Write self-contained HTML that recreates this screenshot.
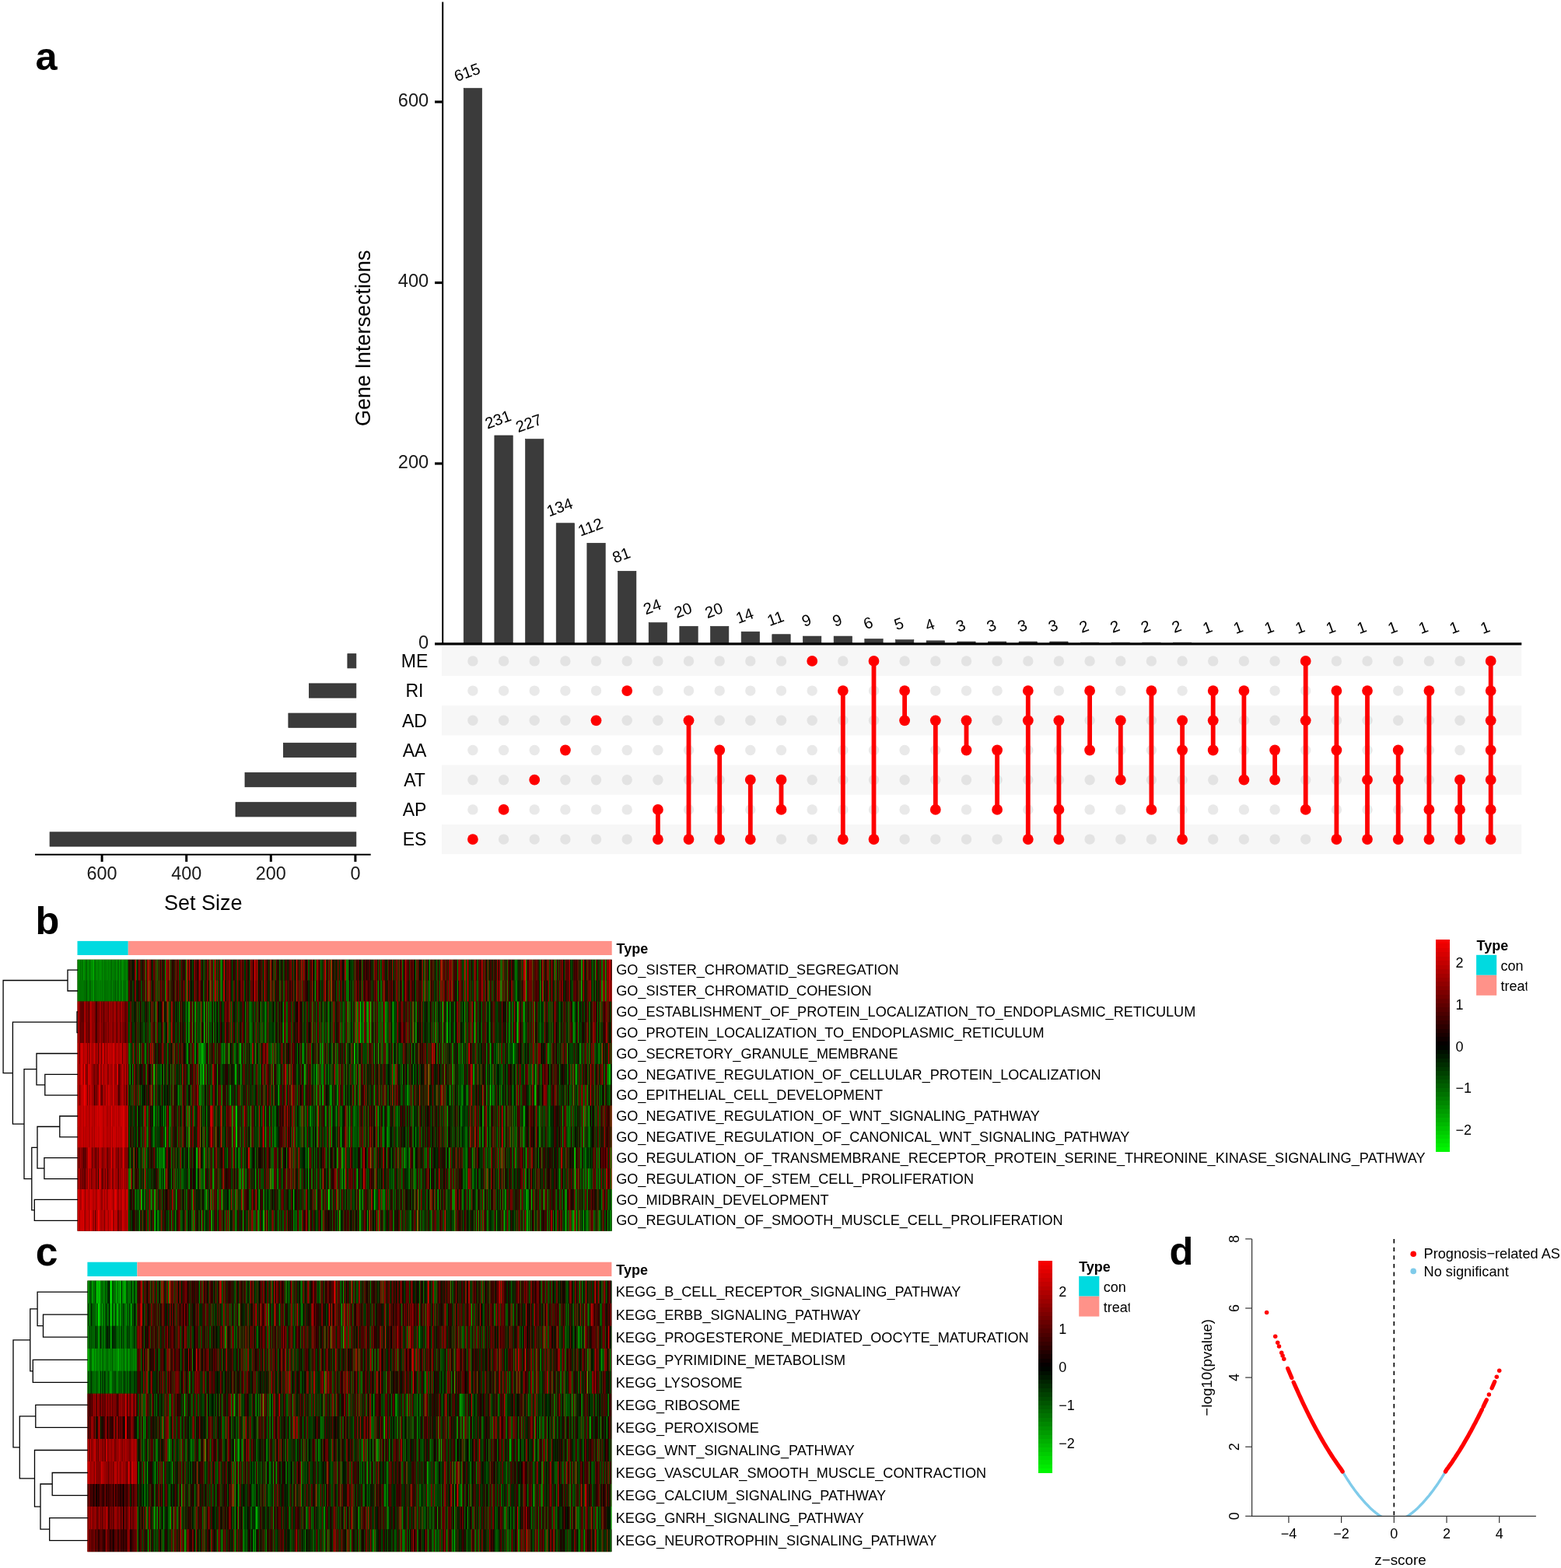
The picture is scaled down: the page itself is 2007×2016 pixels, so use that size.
<!DOCTYPE html>
<html lang="en"><head><meta charset="utf-8"><title>Figure</title>
<style>
html,body{margin:0;padding:0;background:#fff;}
body{width:2007px;height:2016px;overflow:hidden;}
svg{display:block;font-family:"Liberation Sans", sans-serif;}
</style></head><body>
<svg width="2007" height="2016" viewBox="0 0 2007 2016">
<defs><filter id="hblur" filterUnits="userSpaceOnUse" x="0" y="1200" width="900" height="816" color-interpolation-filters="sRGB"><feGaussianBlur stdDeviation="0.65 0.3"/></filter></defs>
<rect width="2007" height="2016" fill="#fff"/>

<g id="upset">
<rect x="567.8" y="830.8" width="1388.5" height="38.2" fill="#f7f7f7"/>
<rect x="567.8" y="907.2" width="1388.5" height="38.2" fill="#f7f7f7"/>
<rect x="567.8" y="983.6" width="1388.5" height="38.2" fill="#f7f7f7"/>
<rect x="567.8" y="1060.0" width="1388.5" height="38.2" fill="#f7f7f7"/>
<rect x="596.20" y="113.56" width="23.4" height="714.94" fill="#3b3b3b" stroke="#2a2a2a" stroke-width="0.6"/>
<rect x="635.86" y="559.96" width="23.4" height="268.54" fill="#3b3b3b" stroke="#2a2a2a" stroke-width="0.6"/>
<rect x="675.52" y="564.61" width="23.4" height="263.89" fill="#3b3b3b" stroke="#2a2a2a" stroke-width="0.6"/>
<rect x="715.18" y="672.73" width="23.4" height="155.78" fill="#3b3b3b" stroke="#2a2a2a" stroke-width="0.6"/>
<rect x="754.84" y="698.30" width="23.4" height="130.20" fill="#3b3b3b" stroke="#2a2a2a" stroke-width="0.6"/>
<rect x="794.50" y="734.34" width="23.4" height="94.16" fill="#3b3b3b" stroke="#2a2a2a" stroke-width="0.6"/>
<rect x="834.16" y="800.60" width="23.4" height="27.90" fill="#3b3b3b" stroke="#2a2a2a" stroke-width="0.6"/>
<rect x="873.82" y="805.25" width="23.4" height="23.25" fill="#3b3b3b" stroke="#2a2a2a" stroke-width="0.6"/>
<rect x="913.48" y="805.25" width="23.4" height="23.25" fill="#3b3b3b" stroke="#2a2a2a" stroke-width="0.6"/>
<rect x="953.14" y="812.23" width="23.4" height="16.28" fill="#3b3b3b" stroke="#2a2a2a" stroke-width="0.6"/>
<rect x="992.80" y="815.71" width="23.4" height="12.79" fill="#3b3b3b" stroke="#2a2a2a" stroke-width="0.6"/>
<rect x="1032.46" y="818.04" width="23.4" height="10.46" fill="#3b3b3b" stroke="#2a2a2a" stroke-width="0.6"/>
<rect x="1072.12" y="818.04" width="23.4" height="10.46" fill="#3b3b3b" stroke="#2a2a2a" stroke-width="0.6"/>
<rect x="1111.78" y="821.52" width="23.4" height="6.98" fill="#3b3b3b" stroke="#2a2a2a" stroke-width="0.6"/>
<rect x="1151.44" y="822.69" width="23.4" height="5.81" fill="#3b3b3b" stroke="#2a2a2a" stroke-width="0.6"/>
<rect x="1191.10" y="823.85" width="23.4" height="4.65" fill="#3b3b3b" stroke="#2a2a2a" stroke-width="0.6"/>
<rect x="1230.76" y="825.01" width="23.4" height="3.49" fill="#3b3b3b" stroke="#2a2a2a" stroke-width="0.6"/>
<rect x="1270.42" y="825.01" width="23.4" height="3.49" fill="#3b3b3b" stroke="#2a2a2a" stroke-width="0.6"/>
<rect x="1310.08" y="825.01" width="23.4" height="3.49" fill="#3b3b3b" stroke="#2a2a2a" stroke-width="0.6"/>
<rect x="1349.74" y="825.01" width="23.4" height="3.49" fill="#3b3b3b" stroke="#2a2a2a" stroke-width="0.6"/>
<rect x="1389.40" y="826.17" width="23.4" height="2.33" fill="#3b3b3b" stroke="#2a2a2a" stroke-width="0.6"/>
<rect x="1429.06" y="826.17" width="23.4" height="2.33" fill="#3b3b3b" stroke="#2a2a2a" stroke-width="0.6"/>
<rect x="1468.72" y="826.17" width="23.4" height="2.33" fill="#3b3b3b" stroke="#2a2a2a" stroke-width="0.6"/>
<rect x="1508.38" y="826.17" width="23.4" height="2.33" fill="#3b3b3b" stroke="#2a2a2a" stroke-width="0.6"/>
<rect x="1548.04" y="827.34" width="23.4" height="1.16" fill="#3b3b3b" stroke="#2a2a2a" stroke-width="0.6"/>
<rect x="1587.70" y="827.34" width="23.4" height="1.16" fill="#3b3b3b" stroke="#2a2a2a" stroke-width="0.6"/>
<rect x="1627.36" y="827.34" width="23.4" height="1.16" fill="#3b3b3b" stroke="#2a2a2a" stroke-width="0.6"/>
<rect x="1667.02" y="827.34" width="23.4" height="1.16" fill="#3b3b3b" stroke="#2a2a2a" stroke-width="0.6"/>
<rect x="1706.68" y="827.34" width="23.4" height="1.16" fill="#3b3b3b" stroke="#2a2a2a" stroke-width="0.6"/>
<rect x="1746.34" y="827.34" width="23.4" height="1.16" fill="#3b3b3b" stroke="#2a2a2a" stroke-width="0.6"/>
<rect x="1786.00" y="827.34" width="23.4" height="1.16" fill="#3b3b3b" stroke="#2a2a2a" stroke-width="0.6"/>
<rect x="1825.66" y="827.34" width="23.4" height="1.16" fill="#3b3b3b" stroke="#2a2a2a" stroke-width="0.6"/>
<rect x="1865.32" y="827.34" width="23.4" height="1.16" fill="#3b3b3b" stroke="#2a2a2a" stroke-width="0.6"/>
<rect x="1904.98" y="827.34" width="23.4" height="1.16" fill="#3b3b3b" stroke="#2a2a2a" stroke-width="0.6"/>
<text x="600.4" y="92.7" font-size="20.3" text-anchor="middle" dy="0.36em" fill="#000" transform="rotate(-20 600.4 92.7)">615</text>
<text x="640.1" y="539.1" font-size="20.3" text-anchor="middle" dy="0.36em" fill="#000" transform="rotate(-20 640.1 539.1)">231</text>
<text x="679.7" y="543.7" font-size="20.3" text-anchor="middle" dy="0.36em" fill="#000" transform="rotate(-20 679.7 543.7)">227</text>
<text x="719.4" y="651.8" font-size="20.3" text-anchor="middle" dy="0.36em" fill="#000" transform="rotate(-20 719.4 651.8)">134</text>
<text x="759.0" y="677.4" font-size="20.3" text-anchor="middle" dy="0.36em" fill="#000" transform="rotate(-20 759.0 677.4)">112</text>
<text x="798.7" y="713.4" font-size="20.3" text-anchor="middle" dy="0.36em" fill="#000" transform="rotate(-20 798.7 713.4)">81</text>
<text x="838.4" y="779.7" font-size="20.3" text-anchor="middle" dy="0.36em" fill="#000" transform="rotate(-20 838.4 779.7)">24</text>
<text x="878.0" y="784.4" font-size="20.3" text-anchor="middle" dy="0.36em" fill="#000" transform="rotate(-20 878.0 784.4)">20</text>
<text x="917.7" y="784.4" font-size="20.3" text-anchor="middle" dy="0.36em" fill="#000" transform="rotate(-20 917.7 784.4)">20</text>
<text x="957.3" y="791.3" font-size="20.3" text-anchor="middle" dy="0.36em" fill="#000" transform="rotate(-20 957.3 791.3)">14</text>
<text x="997.0" y="794.8" font-size="20.3" text-anchor="middle" dy="0.36em" fill="#000" transform="rotate(-20 997.0 794.8)">11</text>
<text x="1036.7" y="797.1" font-size="20.3" text-anchor="middle" dy="0.36em" fill="#000" transform="rotate(-20 1036.7 797.1)">9</text>
<text x="1076.3" y="797.1" font-size="20.3" text-anchor="middle" dy="0.36em" fill="#000" transform="rotate(-20 1076.3 797.1)">9</text>
<text x="1116.0" y="800.6" font-size="20.3" text-anchor="middle" dy="0.36em" fill="#000" transform="rotate(-20 1116.0 800.6)">6</text>
<text x="1155.6" y="801.8" font-size="20.3" text-anchor="middle" dy="0.36em" fill="#000" transform="rotate(-20 1155.6 801.8)">5</text>
<text x="1195.3" y="803.0" font-size="20.3" text-anchor="middle" dy="0.36em" fill="#000" transform="rotate(-20 1195.3 803.0)">4</text>
<text x="1235.0" y="804.1" font-size="20.3" text-anchor="middle" dy="0.36em" fill="#000" transform="rotate(-20 1235.0 804.1)">3</text>
<text x="1274.6" y="804.1" font-size="20.3" text-anchor="middle" dy="0.36em" fill="#000" transform="rotate(-20 1274.6 804.1)">3</text>
<text x="1314.3" y="804.1" font-size="20.3" text-anchor="middle" dy="0.36em" fill="#000" transform="rotate(-20 1314.3 804.1)">3</text>
<text x="1353.9" y="804.1" font-size="20.3" text-anchor="middle" dy="0.36em" fill="#000" transform="rotate(-20 1353.9 804.1)">3</text>
<text x="1393.6" y="805.3" font-size="20.3" text-anchor="middle" dy="0.36em" fill="#000" transform="rotate(-20 1393.6 805.3)">2</text>
<text x="1433.3" y="805.3" font-size="20.3" text-anchor="middle" dy="0.36em" fill="#000" transform="rotate(-20 1433.3 805.3)">2</text>
<text x="1472.9" y="805.3" font-size="20.3" text-anchor="middle" dy="0.36em" fill="#000" transform="rotate(-20 1472.9 805.3)">2</text>
<text x="1512.6" y="805.3" font-size="20.3" text-anchor="middle" dy="0.36em" fill="#000" transform="rotate(-20 1512.6 805.3)">2</text>
<text x="1552.2" y="806.4" font-size="20.3" text-anchor="middle" dy="0.36em" fill="#000" transform="rotate(-20 1552.2 806.4)">1</text>
<text x="1591.9" y="806.4" font-size="20.3" text-anchor="middle" dy="0.36em" fill="#000" transform="rotate(-20 1591.9 806.4)">1</text>
<text x="1631.6" y="806.4" font-size="20.3" text-anchor="middle" dy="0.36em" fill="#000" transform="rotate(-20 1631.6 806.4)">1</text>
<text x="1671.2" y="806.4" font-size="20.3" text-anchor="middle" dy="0.36em" fill="#000" transform="rotate(-20 1671.2 806.4)">1</text>
<text x="1710.9" y="806.4" font-size="20.3" text-anchor="middle" dy="0.36em" fill="#000" transform="rotate(-20 1710.9 806.4)">1</text>
<text x="1750.5" y="806.4" font-size="20.3" text-anchor="middle" dy="0.36em" fill="#000" transform="rotate(-20 1750.5 806.4)">1</text>
<text x="1790.2" y="806.4" font-size="20.3" text-anchor="middle" dy="0.36em" fill="#000" transform="rotate(-20 1790.2 806.4)">1</text>
<text x="1829.9" y="806.4" font-size="20.3" text-anchor="middle" dy="0.36em" fill="#000" transform="rotate(-20 1829.9 806.4)">1</text>
<text x="1869.5" y="806.4" font-size="20.3" text-anchor="middle" dy="0.36em" fill="#000" transform="rotate(-20 1869.5 806.4)">1</text>
<text x="1909.2" y="806.4" font-size="20.3" text-anchor="middle" dy="0.36em" fill="#000" transform="rotate(-20 1909.2 806.4)">1</text>
<line x1="569.2" y1="2.5" x2="569.2" y2="829" stroke="#000" stroke-width="2"/>
<line x1="559" y1="827.8" x2="1956.3" y2="827.8" stroke="#000" stroke-width="3.3"/>
<line x1="559" y1="596.0" x2="569.2" y2="596.0" stroke="#000" stroke-width="3.2"/>
<line x1="559" y1="363.5" x2="569.2" y2="363.5" stroke="#000" stroke-width="3.2"/>
<line x1="559" y1="131.0" x2="569.2" y2="131.0" stroke="#000" stroke-width="3.2"/>
<text x="551.2" y="826.0" dy="0.36em" font-size="23.6" text-anchor="end" fill="#1a1a1a">0</text>
<text x="551.2" y="593.5" dy="0.36em" font-size="23.6" text-anchor="end" fill="#1a1a1a">200</text>
<text x="551.2" y="361.0" dy="0.36em" font-size="23.6" text-anchor="end" fill="#1a1a1a">400</text>
<text x="551.2" y="128.5" dy="0.36em" font-size="23.6" text-anchor="end" fill="#1a1a1a">600</text>
<text transform="translate(476.4 434.7) rotate(-90)" font-size="27" text-anchor="middle" fill="#000">Gene Intersections</text>
<g fill="#e3e3e3"><circle cx="607.9" cy="849.9" r="6.7"/><circle cx="607.9" cy="926.3" r="6.7"/><circle cx="607.9" cy="1002.7" r="6.7"/><circle cx="647.6" cy="849.9" r="6.7"/><circle cx="647.6" cy="926.3" r="6.7"/><circle cx="647.6" cy="1002.7" r="6.7"/><circle cx="647.6" cy="1079.1" r="6.7"/><circle cx="687.2" cy="849.9" r="6.7"/><circle cx="687.2" cy="926.3" r="6.7"/><circle cx="687.2" cy="1079.1" r="6.7"/><circle cx="726.9" cy="849.9" r="6.7"/><circle cx="726.9" cy="926.3" r="6.7"/><circle cx="726.9" cy="1002.7" r="6.7"/><circle cx="726.9" cy="1079.1" r="6.7"/><circle cx="766.5" cy="849.9" r="6.7"/><circle cx="766.5" cy="1002.7" r="6.7"/><circle cx="766.5" cy="1079.1" r="6.7"/><circle cx="806.2" cy="849.9" r="6.7"/><circle cx="806.2" cy="926.3" r="6.7"/><circle cx="806.2" cy="1002.7" r="6.7"/><circle cx="806.2" cy="1079.1" r="6.7"/><circle cx="845.9" cy="849.9" r="6.7"/><circle cx="845.9" cy="926.3" r="6.7"/><circle cx="845.9" cy="1002.7" r="6.7"/><circle cx="885.5" cy="849.9" r="6.7"/><circle cx="885.5" cy="1002.7" r="6.7"/><circle cx="925.2" cy="849.9" r="6.7"/><circle cx="925.2" cy="926.3" r="6.7"/><circle cx="925.2" cy="1002.7" r="6.7"/><circle cx="964.8" cy="849.9" r="6.7"/><circle cx="964.8" cy="926.3" r="6.7"/><circle cx="1004.5" cy="849.9" r="6.7"/><circle cx="1004.5" cy="926.3" r="6.7"/><circle cx="1004.5" cy="1079.1" r="6.7"/><circle cx="1044.2" cy="926.3" r="6.7"/><circle cx="1044.2" cy="1002.7" r="6.7"/><circle cx="1044.2" cy="1079.1" r="6.7"/><circle cx="1083.8" cy="849.9" r="6.7"/><circle cx="1083.8" cy="926.3" r="6.7"/><circle cx="1083.8" cy="1002.7" r="6.7"/><circle cx="1123.5" cy="926.3" r="6.7"/><circle cx="1123.5" cy="1002.7" r="6.7"/><circle cx="1163.1" cy="849.9" r="6.7"/><circle cx="1163.1" cy="1002.7" r="6.7"/><circle cx="1163.1" cy="1079.1" r="6.7"/><circle cx="1202.8" cy="849.9" r="6.7"/><circle cx="1202.8" cy="1002.7" r="6.7"/><circle cx="1202.8" cy="1079.1" r="6.7"/><circle cx="1242.5" cy="849.9" r="6.7"/><circle cx="1242.5" cy="1002.7" r="6.7"/><circle cx="1242.5" cy="1079.1" r="6.7"/><circle cx="1282.1" cy="849.9" r="6.7"/><circle cx="1282.1" cy="926.3" r="6.7"/><circle cx="1282.1" cy="1002.7" r="6.7"/><circle cx="1282.1" cy="1079.1" r="6.7"/><circle cx="1321.8" cy="849.9" r="6.7"/><circle cx="1321.8" cy="1002.7" r="6.7"/><circle cx="1361.4" cy="849.9" r="6.7"/><circle cx="1361.4" cy="1002.7" r="6.7"/><circle cx="1401.1" cy="849.9" r="6.7"/><circle cx="1401.1" cy="926.3" r="6.7"/><circle cx="1401.1" cy="1002.7" r="6.7"/><circle cx="1401.1" cy="1079.1" r="6.7"/><circle cx="1440.8" cy="849.9" r="6.7"/><circle cx="1440.8" cy="1079.1" r="6.7"/><circle cx="1480.4" cy="849.9" r="6.7"/><circle cx="1480.4" cy="926.3" r="6.7"/><circle cx="1480.4" cy="1002.7" r="6.7"/><circle cx="1480.4" cy="1079.1" r="6.7"/><circle cx="1520.1" cy="849.9" r="6.7"/><circle cx="1520.1" cy="1002.7" r="6.7"/><circle cx="1559.7" cy="849.9" r="6.7"/><circle cx="1559.7" cy="1002.7" r="6.7"/><circle cx="1559.7" cy="1079.1" r="6.7"/><circle cx="1599.4" cy="849.9" r="6.7"/><circle cx="1599.4" cy="926.3" r="6.7"/><circle cx="1599.4" cy="1079.1" r="6.7"/><circle cx="1639.1" cy="849.9" r="6.7"/><circle cx="1639.1" cy="926.3" r="6.7"/><circle cx="1639.1" cy="1079.1" r="6.7"/><circle cx="1678.7" cy="1002.7" r="6.7"/><circle cx="1678.7" cy="1079.1" r="6.7"/><circle cx="1718.4" cy="849.9" r="6.7"/><circle cx="1718.4" cy="926.3" r="6.7"/><circle cx="1718.4" cy="1002.7" r="6.7"/><circle cx="1758.0" cy="849.9" r="6.7"/><circle cx="1758.0" cy="926.3" r="6.7"/><circle cx="1797.7" cy="849.9" r="6.7"/><circle cx="1797.7" cy="926.3" r="6.7"/><circle cx="1837.4" cy="849.9" r="6.7"/><circle cx="1837.4" cy="926.3" r="6.7"/><circle cx="1837.4" cy="1002.7" r="6.7"/><circle cx="1877.0" cy="849.9" r="6.7"/><circle cx="1877.0" cy="926.3" r="6.7"/></g>
<g fill="#e9e9e9"><circle cx="607.9" cy="888.1" r="6.7"/><circle cx="607.9" cy="964.5" r="6.7"/><circle cx="607.9" cy="1040.9" r="6.7"/><circle cx="647.6" cy="888.1" r="6.7"/><circle cx="647.6" cy="964.5" r="6.7"/><circle cx="687.2" cy="888.1" r="6.7"/><circle cx="687.2" cy="964.5" r="6.7"/><circle cx="687.2" cy="1040.9" r="6.7"/><circle cx="726.9" cy="888.1" r="6.7"/><circle cx="726.9" cy="1040.9" r="6.7"/><circle cx="766.5" cy="888.1" r="6.7"/><circle cx="766.5" cy="964.5" r="6.7"/><circle cx="766.5" cy="1040.9" r="6.7"/><circle cx="806.2" cy="964.5" r="6.7"/><circle cx="806.2" cy="1040.9" r="6.7"/><circle cx="845.9" cy="888.1" r="6.7"/><circle cx="845.9" cy="964.5" r="6.7"/><circle cx="885.5" cy="888.1" r="6.7"/><circle cx="885.5" cy="964.5" r="6.7"/><circle cx="885.5" cy="1040.9" r="6.7"/><circle cx="925.2" cy="888.1" r="6.7"/><circle cx="925.2" cy="1040.9" r="6.7"/><circle cx="964.8" cy="888.1" r="6.7"/><circle cx="964.8" cy="964.5" r="6.7"/><circle cx="964.8" cy="1040.9" r="6.7"/><circle cx="1004.5" cy="888.1" r="6.7"/><circle cx="1004.5" cy="964.5" r="6.7"/><circle cx="1044.2" cy="888.1" r="6.7"/><circle cx="1044.2" cy="964.5" r="6.7"/><circle cx="1044.2" cy="1040.9" r="6.7"/><circle cx="1083.8" cy="964.5" r="6.7"/><circle cx="1083.8" cy="1040.9" r="6.7"/><circle cx="1123.5" cy="888.1" r="6.7"/><circle cx="1123.5" cy="964.5" r="6.7"/><circle cx="1123.5" cy="1040.9" r="6.7"/><circle cx="1163.1" cy="964.5" r="6.7"/><circle cx="1163.1" cy="1040.9" r="6.7"/><circle cx="1202.8" cy="888.1" r="6.7"/><circle cx="1202.8" cy="964.5" r="6.7"/><circle cx="1242.5" cy="888.1" r="6.7"/><circle cx="1242.5" cy="1040.9" r="6.7"/><circle cx="1282.1" cy="888.1" r="6.7"/><circle cx="1321.8" cy="964.5" r="6.7"/><circle cx="1321.8" cy="1040.9" r="6.7"/><circle cx="1361.4" cy="888.1" r="6.7"/><circle cx="1361.4" cy="964.5" r="6.7"/><circle cx="1401.1" cy="1040.9" r="6.7"/><circle cx="1440.8" cy="888.1" r="6.7"/><circle cx="1440.8" cy="964.5" r="6.7"/><circle cx="1440.8" cy="1040.9" r="6.7"/><circle cx="1480.4" cy="964.5" r="6.7"/><circle cx="1520.1" cy="888.1" r="6.7"/><circle cx="1520.1" cy="1040.9" r="6.7"/><circle cx="1559.7" cy="1040.9" r="6.7"/><circle cx="1599.4" cy="964.5" r="6.7"/><circle cx="1599.4" cy="1040.9" r="6.7"/><circle cx="1639.1" cy="888.1" r="6.7"/><circle cx="1639.1" cy="1040.9" r="6.7"/><circle cx="1678.7" cy="888.1" r="6.7"/><circle cx="1678.7" cy="964.5" r="6.7"/><circle cx="1718.4" cy="1040.9" r="6.7"/><circle cx="1758.0" cy="964.5" r="6.7"/><circle cx="1758.0" cy="1040.9" r="6.7"/><circle cx="1797.7" cy="888.1" r="6.7"/><circle cx="1797.7" cy="1040.9" r="6.7"/><circle cx="1837.4" cy="964.5" r="6.7"/><circle cx="1877.0" cy="888.1" r="6.7"/><circle cx="1877.0" cy="964.5" r="6.7"/></g>
<g fill="#fe0000" stroke="#fe0000">
<circle cx="607.9" cy="1079.1" r="6.9" stroke="none"/>
<circle cx="647.6" cy="1040.9" r="6.9" stroke="none"/>
<circle cx="687.2" cy="1002.7" r="6.9" stroke="none"/>
<circle cx="726.9" cy="964.5" r="6.9" stroke="none"/>
<circle cx="766.5" cy="926.3" r="6.9" stroke="none"/>
<circle cx="806.2" cy="888.1" r="6.9" stroke="none"/>
<line x1="845.9" y1="1040.9" x2="845.9" y2="1079.1" stroke-width="5.8"/>
<circle cx="845.9" cy="1040.9" r="6.9" stroke="none"/>
<circle cx="845.9" cy="1079.1" r="6.9" stroke="none"/>
<line x1="885.5" y1="926.3" x2="885.5" y2="1079.1" stroke-width="5.8"/>
<circle cx="885.5" cy="926.3" r="6.9" stroke="none"/>
<circle cx="885.5" cy="1079.1" r="6.9" stroke="none"/>
<line x1="925.2" y1="964.5" x2="925.2" y2="1079.1" stroke-width="5.8"/>
<circle cx="925.2" cy="964.5" r="6.9" stroke="none"/>
<circle cx="925.2" cy="1079.1" r="6.9" stroke="none"/>
<line x1="964.8" y1="1002.7" x2="964.8" y2="1079.1" stroke-width="5.8"/>
<circle cx="964.8" cy="1002.7" r="6.9" stroke="none"/>
<circle cx="964.8" cy="1079.1" r="6.9" stroke="none"/>
<line x1="1004.5" y1="1002.7" x2="1004.5" y2="1040.9" stroke-width="5.8"/>
<circle cx="1004.5" cy="1002.7" r="6.9" stroke="none"/>
<circle cx="1004.5" cy="1040.9" r="6.9" stroke="none"/>
<circle cx="1044.2" cy="849.9" r="6.9" stroke="none"/>
<line x1="1083.8" y1="888.1" x2="1083.8" y2="1079.1" stroke-width="5.8"/>
<circle cx="1083.8" cy="888.1" r="6.9" stroke="none"/>
<circle cx="1083.8" cy="1079.1" r="6.9" stroke="none"/>
<line x1="1123.5" y1="849.9" x2="1123.5" y2="1079.1" stroke-width="5.8"/>
<circle cx="1123.5" cy="849.9" r="6.9" stroke="none"/>
<circle cx="1123.5" cy="1079.1" r="6.9" stroke="none"/>
<line x1="1163.1" y1="888.1" x2="1163.1" y2="926.3" stroke-width="5.8"/>
<circle cx="1163.1" cy="888.1" r="6.9" stroke="none"/>
<circle cx="1163.1" cy="926.3" r="6.9" stroke="none"/>
<line x1="1202.8" y1="926.3" x2="1202.8" y2="1040.9" stroke-width="5.8"/>
<circle cx="1202.8" cy="926.3" r="6.9" stroke="none"/>
<circle cx="1202.8" cy="1040.9" r="6.9" stroke="none"/>
<line x1="1242.5" y1="926.3" x2="1242.5" y2="964.5" stroke-width="5.8"/>
<circle cx="1242.5" cy="926.3" r="6.9" stroke="none"/>
<circle cx="1242.5" cy="964.5" r="6.9" stroke="none"/>
<line x1="1282.1" y1="964.5" x2="1282.1" y2="1040.9" stroke-width="5.8"/>
<circle cx="1282.1" cy="964.5" r="6.9" stroke="none"/>
<circle cx="1282.1" cy="1040.9" r="6.9" stroke="none"/>
<line x1="1321.8" y1="888.1" x2="1321.8" y2="1079.1" stroke-width="5.8"/>
<circle cx="1321.8" cy="888.1" r="6.9" stroke="none"/>
<circle cx="1321.8" cy="926.3" r="6.9" stroke="none"/>
<circle cx="1321.8" cy="1079.1" r="6.9" stroke="none"/>
<line x1="1361.4" y1="926.3" x2="1361.4" y2="1079.1" stroke-width="5.8"/>
<circle cx="1361.4" cy="926.3" r="6.9" stroke="none"/>
<circle cx="1361.4" cy="1040.9" r="6.9" stroke="none"/>
<circle cx="1361.4" cy="1079.1" r="6.9" stroke="none"/>
<line x1="1401.1" y1="888.1" x2="1401.1" y2="964.5" stroke-width="5.8"/>
<circle cx="1401.1" cy="888.1" r="6.9" stroke="none"/>
<circle cx="1401.1" cy="964.5" r="6.9" stroke="none"/>
<line x1="1440.8" y1="926.3" x2="1440.8" y2="1002.7" stroke-width="5.8"/>
<circle cx="1440.8" cy="926.3" r="6.9" stroke="none"/>
<circle cx="1440.8" cy="1002.7" r="6.9" stroke="none"/>
<line x1="1480.4" y1="888.1" x2="1480.4" y2="1040.9" stroke-width="5.8"/>
<circle cx="1480.4" cy="888.1" r="6.9" stroke="none"/>
<circle cx="1480.4" cy="1040.9" r="6.9" stroke="none"/>
<line x1="1520.1" y1="926.3" x2="1520.1" y2="1079.1" stroke-width="5.8"/>
<circle cx="1520.1" cy="926.3" r="6.9" stroke="none"/>
<circle cx="1520.1" cy="964.5" r="6.9" stroke="none"/>
<circle cx="1520.1" cy="1079.1" r="6.9" stroke="none"/>
<line x1="1559.7" y1="888.1" x2="1559.7" y2="964.5" stroke-width="5.8"/>
<circle cx="1559.7" cy="888.1" r="6.9" stroke="none"/>
<circle cx="1559.7" cy="926.3" r="6.9" stroke="none"/>
<circle cx="1559.7" cy="964.5" r="6.9" stroke="none"/>
<line x1="1599.4" y1="888.1" x2="1599.4" y2="1002.7" stroke-width="5.8"/>
<circle cx="1599.4" cy="888.1" r="6.9" stroke="none"/>
<circle cx="1599.4" cy="1002.7" r="6.9" stroke="none"/>
<line x1="1639.1" y1="964.5" x2="1639.1" y2="1002.7" stroke-width="5.8"/>
<circle cx="1639.1" cy="964.5" r="6.9" stroke="none"/>
<circle cx="1639.1" cy="1002.7" r="6.9" stroke="none"/>
<line x1="1678.7" y1="849.9" x2="1678.7" y2="1040.9" stroke-width="5.8"/>
<circle cx="1678.7" cy="849.9" r="6.9" stroke="none"/>
<circle cx="1678.7" cy="926.3" r="6.9" stroke="none"/>
<circle cx="1678.7" cy="1040.9" r="6.9" stroke="none"/>
<line x1="1718.4" y1="888.1" x2="1718.4" y2="1079.1" stroke-width="5.8"/>
<circle cx="1718.4" cy="888.1" r="6.9" stroke="none"/>
<circle cx="1718.4" cy="964.5" r="6.9" stroke="none"/>
<circle cx="1718.4" cy="1079.1" r="6.9" stroke="none"/>
<line x1="1758.0" y1="888.1" x2="1758.0" y2="1079.1" stroke-width="5.8"/>
<circle cx="1758.0" cy="888.1" r="6.9" stroke="none"/>
<circle cx="1758.0" cy="1002.7" r="6.9" stroke="none"/>
<circle cx="1758.0" cy="1079.1" r="6.9" stroke="none"/>
<line x1="1797.7" y1="964.5" x2="1797.7" y2="1079.1" stroke-width="5.8"/>
<circle cx="1797.7" cy="964.5" r="6.9" stroke="none"/>
<circle cx="1797.7" cy="1002.7" r="6.9" stroke="none"/>
<circle cx="1797.7" cy="1079.1" r="6.9" stroke="none"/>
<line x1="1837.4" y1="888.1" x2="1837.4" y2="1079.1" stroke-width="5.8"/>
<circle cx="1837.4" cy="888.1" r="6.9" stroke="none"/>
<circle cx="1837.4" cy="1040.9" r="6.9" stroke="none"/>
<circle cx="1837.4" cy="1079.1" r="6.9" stroke="none"/>
<line x1="1877.0" y1="1002.7" x2="1877.0" y2="1079.1" stroke-width="5.8"/>
<circle cx="1877.0" cy="1002.7" r="6.9" stroke="none"/>
<circle cx="1877.0" cy="1040.9" r="6.9" stroke="none"/>
<circle cx="1877.0" cy="1079.1" r="6.9" stroke="none"/>
<line x1="1916.7" y1="849.9" x2="1916.7" y2="1079.1" stroke-width="5.8"/>
<circle cx="1916.7" cy="849.9" r="6.9" stroke="none"/>
<circle cx="1916.7" cy="888.1" r="6.9" stroke="none"/>
<circle cx="1916.7" cy="926.3" r="6.9" stroke="none"/>
<circle cx="1916.7" cy="964.5" r="6.9" stroke="none"/>
<circle cx="1916.7" cy="1002.7" r="6.9" stroke="none"/>
<circle cx="1916.7" cy="1040.9" r="6.9" stroke="none"/>
<circle cx="1916.7" cy="1079.1" r="6.9" stroke="none"/>
</g>
<text x="533" y="849.9" dy="0.36em" font-size="23" text-anchor="middle" fill="#000">ME</text>
<text x="533" y="888.1" dy="0.36em" font-size="23" text-anchor="middle" fill="#000">RI</text>
<text x="533" y="926.3" dy="0.36em" font-size="23" text-anchor="middle" fill="#000">AD</text>
<text x="533" y="964.5" dy="0.36em" font-size="23" text-anchor="middle" fill="#000">AA</text>
<text x="533" y="1002.7" dy="0.36em" font-size="23" text-anchor="middle" fill="#000">AT</text>
<text x="533" y="1040.9" dy="0.36em" font-size="23" text-anchor="middle" fill="#000">AP</text>
<text x="533" y="1079.1" dy="0.36em" font-size="23" text-anchor="middle" fill="#000">ES</text>
<rect x="446.9" y="840.7" width="10.9" height="18.2" fill="#3b3b3b" stroke="#2a2a2a" stroke-width="0.8"/>
<rect x="397.5" y="878.9" width="60.3" height="18.2" fill="#3b3b3b" stroke="#2a2a2a" stroke-width="0.8"/>
<rect x="370.9" y="917.1" width="86.9" height="18.2" fill="#3b3b3b" stroke="#2a2a2a" stroke-width="0.8"/>
<rect x="364.4" y="955.3" width="93.4" height="18.2" fill="#3b3b3b" stroke="#2a2a2a" stroke-width="0.8"/>
<rect x="315.0" y="993.5" width="142.8" height="18.2" fill="#3b3b3b" stroke="#2a2a2a" stroke-width="0.8"/>
<rect x="303.0" y="1031.7" width="154.8" height="18.2" fill="#3b3b3b" stroke="#2a2a2a" stroke-width="0.8"/>
<rect x="64.1" y="1069.9" width="393.7" height="18.2" fill="#3b3b3b" stroke="#2a2a2a" stroke-width="0.8"/>
<line x1="45" y1="1098.7" x2="476.7" y2="1098.7" stroke="#000" stroke-width="2"/>
<line x1="456.9" y1="1098.7" x2="456.9" y2="1108" stroke="#000" stroke-width="3"/>
<text x="456.9" y="1131.3" font-size="23.4" text-anchor="middle" fill="#1a1a1a">0</text>
<line x1="348.3" y1="1098.7" x2="348.3" y2="1108" stroke="#000" stroke-width="3"/>
<text x="348.3" y="1131.3" font-size="23.4" text-anchor="middle" fill="#1a1a1a">200</text>
<line x1="239.7" y1="1098.7" x2="239.7" y2="1108" stroke="#000" stroke-width="3"/>
<text x="239.7" y="1131.3" font-size="23.4" text-anchor="middle" fill="#1a1a1a">400</text>
<line x1="131.1" y1="1098.7" x2="131.1" y2="1108" stroke="#000" stroke-width="3"/>
<text x="131.1" y="1131.3" font-size="23.4" text-anchor="middle" fill="#1a1a1a">600</text>
<text x="261.3" y="1169.9" font-size="27" text-anchor="middle" fill="#000">Set Size</text>
</g>
<g id="panel-b">
<rect x="99.5" y="1209.9" width="65.3" height="18.1" fill="#00dae0"/>
<rect x="164.8" y="1209.9" width="621.9" height="18.1" fill="#ff9289"/>
<rect x="99.5" y="1233.7" width="687.2" height="349.0" fill="#3a2800"/><clipPath id="cphb"><rect x="99.5" y="1233.7" width="687.2" height="349.0"/></clipPath><g clip-path="url(#cphb)"><g filter="url(#hblur)"><g transform="translate(99.5 1233.7) scale(0.85900 26.84615)"><use href="#hb" x="0.5"/><use href="#hb" x="-0.5"/><g id="hb" fill="none" stroke-width="1"><path stroke="#00ff00" d="M754 1.5h1M785 1.5h1M189 2.5h1M423 2.5h1M617 2.5h1M659 2.5h1M189 3.5h1M423 3.5h1M546 3.5h1M552 3.5h1M617 3.5h1M185 4.5h1M402 4.5h1M414 4.5h1M444 4.5h1M450 4.5h1M546 4.5h1M653 4.5h1M129 5.5h1M143 5.5h1M184 5.5h1M358 5.5h1M417 5.5h1M526 5.5h1M367 6.5h1M379 6.5h1M538 6.5h1M742 6.5h1M237 7.5h1M259 7.5h1M668 7.5h1M184 8.5h1M237 8.5h1M259 8.5h1M668 8.5h1M766 8.5h1M179 9.5h1M241 9.5h1M313 9.5h1M388 9.5h1M395 9.5h1M503 9.5h1M594 9.5h1M671 9.5h1M744 9.5h1M388 10.5h1M395 10.5h1M744 10.5h1M216 11.5h1M323 11.5h1M376 11.5h1M444 11.5h1M679 11.5h1M698 11.5h1M332 12.5h1M392 12.5h1M434 12.5h1M673 12.5h1M757 12.5h1"/><path stroke="#00f500" d="M405 0.5h1M671 0.5h1M405 1.5h1M167 2.5h1M368 2.5h1M546 2.5h1M659 3.5h1M360 5.5h1M618 6.5h1M131 8.5h1M231 8.5h1M692 8.5h1M695 9.5h1M79 10.5h1M178 10.5h1M203 10.5h1M288 10.5h1M422 11.5h1M508 12.5h1M597 12.5h1"/><path stroke="#00eb00" d="M785 0.5h1M198 1.5h1M643 1.5h1M671 1.5h1M117 2.5h1M274 2.5h1M554 2.5h1M595 3.5h1M190 4.5h1M366 4.5h1M188 5.5h1M293 5.5h1M796 5.5h1M184 7.5h1M607 7.5h1M167 8.5h1M397 9.5h1M439 9.5h1M556 9.5h1M193 11.5h1M247 11.5h1M504 11.5h1M120 12.5h1M742 12.5h1"/><path stroke="#00e000" d="M198 0.5h1M193 2.5h1M405 2.5h1M439 2.5h1M552 2.5h1M193 3.5h1M203 3.5h1M308 3.5h1M368 3.5h1M503 3.5h1M506 3.5h1M187 4.5h1M290 4.5h1M381 4.5h1M114 5.5h2M185 5.5h1M423 5.5h1M143 6.5h1M182 6.5h1M185 6.5h1M229 6.5h1M301 6.5h1M494 6.5h1M138 7.5h1M167 7.5h1M138 8.5h1M292 8.5h1M377 8.5h1M178 9.5h1M446 9.5h1M798 9.5h1M290 10.5h1M427 11.5h1M757 11.5h1M115 12.5h1M163 12.5h1M347 12.5h1M731 12.5h1"/><path stroke="#00d600" d="M643 0.5h1M754 0.5h1M569 1.5h1M172 2.5h1M117 3.5h1M172 3.5h1M196 3.5h1M554 3.5h1M182 4.5h1M296 4.5h1M209 5.5h1M341 5.5h1M612 5.5h1M618 5.5h1M721 5.5h1M557 6.5h1M685 6.5h1M758 6.5h1M231 7.5h1M349 7.5h1M726 7.5h1M156 8.5h1M189 8.5h1M394 8.5h1M652 8.5h1M377 9.5h1M552 9.5h1M777 9.5h1M189 10.5h1M503 10.5h1M528 10.5h1M96 11.5h1M110 11.5h1M381 11.5h1M608 11.5h1M636 11.5h1M248 12.5h1M270 12.5h1M278 12.5h1M422 12.5h1M604 12.5h1M627 12.5h1M646 12.5h1"/><path stroke="#00cc00" d="M426 0.5h1M527 0.5h1M636 0.5h1M775 0.5h1M107 1.5h1M356 1.5h1M481 1.5h1M634 1.5h1M196 2.5h1M308 2.5h1M503 2.5h1M564 2.5h1M579 2.5h1M595 2.5h1M749 2.5h1M778 2.5h1M92 3.5h1M274 3.5h1M405 3.5h1M439 3.5h1M564 3.5h1M658 3.5h1M743 3.5h1M778 3.5h1M93 4.5h1M165 4.5h1M196 4.5h1M226 4.5h2M583 4.5h1M780 4.5h1M82 5.5h1M236 5.5h1M244 5.5h1M290 5.5h1M339 5.5h1M486 5.5h1M562 5.5h1M686 5.5h1M742 5.5h1M746 5.5h1M793 5.5h1M415 6.5h1M444 6.5h1M612 6.5h1M621 6.5h1M660 6.5h1M686 6.5h1M789 6.5h1M377 7.5h1M380 7.5h1M404 7.5h1M450 7.5h1M511 7.5h1M654 7.5h1M766 7.5h1M207 8.5h1M380 8.5h1M758 8.5h1M129 9.5h1M166 9.5h1M248 9.5h1M290 9.5h1M528 9.5h1M77 10.5h1M247 10.5h1M313 10.5h1M346 10.5h1M612 10.5h1M721 10.5h1M95 11.5h1M172 11.5h1M185 11.5h1M200 11.5h1M377 11.5h1M510 11.5h1M553 11.5h1M716 11.5h1M279 12.5h1M381 12.5h1M607 12.5h1M676 12.5h1"/><path stroke="#00c200" d="M189 0.5h1M569 0.5h1M634 0.5h1M119 1.5h1M162 1.5h1M412 1.5h1M426 1.5h1M450 1.5h1M184 2.5h1M203 2.5h1M281 2.5h1M351 2.5h1M434 2.5h1M736 2.5h1M167 3.5h1M351 3.5h1M435 3.5h1M536 3.5h1M594 3.5h1M244 4.5h1M266 4.5h1M364 4.5h1M415 4.5h1M500 4.5h1M612 4.5h1M629 4.5h1M733 4.5h1M752 4.5h1M125 5.5h1M273 5.5h1M399 5.5h1M549 5.5h1M693 5.5h1M797 5.5h1M546 6.5h1M634 6.5h1M89 7.5h1M118 7.5h1M238 7.5h1M281 7.5h1M287 7.5h1M407 7.5h1M446 7.5h1M502 7.5h1M238 8.5h1M296 8.5h1M323 8.5h1M342 8.5h1M407 8.5h1M568 8.5h1M613 8.5h1M666 8.5h1M726 8.5h1M98 9.5h1M127 9.5h1M342 9.5h1M463 9.5h1M497 9.5h1M522 9.5h1M745 9.5h1M83 10.5h1M130 10.5h1M140 10.5h1M211 10.5h1M266 10.5h1M419 10.5h1M446 10.5h1M610 10.5h1M639 10.5h1M745 10.5h1M764 10.5h1M798 10.5h1M272 11.5h1M375 11.5h1M458 11.5h1M561 11.5h1M564 11.5h1M604 11.5h1M618 11.5h1M673 11.5h1M186 12.5h1M473 12.5h1M489 12.5h1M747 12.5h1"/><path stroke="#00b800" d="M24 0.5h1M119 0.5h1M131 0.5h1M538 0.5h1M790 0.5h1M519 1.5h1M538 1.5h1M177 2.5h1M427 2.5h1M438 2.5h1M536 2.5h1M547 2.5h1M658 2.5h1M766 2.5h1M184 3.5h1M354 3.5h1M375 3.5h1M398 3.5h1M427 3.5h1M579 3.5h1M736 3.5h1M749 3.5h1M766 3.5h1M782 3.5h1M386 4.5h1M431 4.5h1M462 4.5h1M472 4.5h1M538 4.5h1M237 5.5h1M317 5.5h1M379 5.5h1M503 5.5h1M151 6.5h1M313 6.5h1M358 6.5h1M363 6.5h1M575 6.5h1M632 6.5h1M114 7.5h1M207 7.5h1M359 7.5h1M387 7.5h1M652 7.5h1M737 7.5h1M254 8.5h1M281 8.5h1M418 8.5h1M435 8.5h1M450 8.5h1M506 8.5h1M632 8.5h1M757 8.5h1M147 9.5h1M189 9.5h1M203 9.5h1M591 9.5h1M612 9.5h1M655 9.5h1M690 9.5h1M242 10.5h1M271 10.5h1M377 10.5h1M397 10.5h1M561 10.5h1M597 10.5h1M614 10.5h1M760 10.5h1M100 11.5h1M115 11.5h2M148 11.5h1M239 11.5h1M633 11.5h1M704 11.5h1M116 12.5h1M171 12.5h1M200 12.5h2M389 12.5h1M638 12.5h2M740 12.5h1"/><path stroke="#00ad00" d="M102 0.5h1M162 0.5h1M215 0.5h1M519 0.5h1M122 1.5h1M215 1.5h1M775 1.5h1M790 1.5h1M295 2.5h1M313 2.5h1M354 2.5h1M375 2.5h1M398 2.5h1M419 2.5h1M435 2.5h1M461 2.5h2M473 2.5h1M506 2.5h1M526 2.5h1M668 2.5h1M684 2.5h1M743 2.5h1M166 3.5h1M176 3.5h1M281 3.5h1M438 3.5h1M526 3.5h1M642 3.5h1M711 3.5h1M175 4.5h1M217 4.5h1M243 4.5h1M271 4.5h1M358 4.5h1M510 4.5h1M561 4.5h1M573 4.5h1M594 4.5h1M618 4.5h1M645 4.5h1M688 4.5h1M704 4.5h1M766 4.5h1M381 5.5h1M389 5.5h1M402 5.5h1M421 5.5h1M575 5.5h1M592 5.5h1M603 5.5h1M621 5.5h1M656 5.5h1M685 5.5h1M738 5.5h1M774 5.5h1M114 6.5h1M155 6.5h1M209 6.5h1M264 6.5h1M290 6.5h1M293 6.5h1M320 6.5h1M339 6.5h1M354 6.5h1M402 6.5h1M763 6.5h1M774 6.5h1M115 7.5h1M129 7.5h1M156 7.5h1M292 7.5h1M296 7.5h1M415 7.5h1M418 7.5h1M435 7.5h1M553 7.5h1M606 7.5h1M618 7.5h1M623 7.5h1M692 7.5h1M743 7.5h1M757 7.5h2M244 8.5h1M336 8.5h1M354 8.5h1M358 8.5h1M404 8.5h1M463 8.5h1M511 8.5h1M573 8.5h1M607 8.5h1M639 8.5h1M734 8.5h1M79 9.5h1M125 9.5h1M211 9.5h1M232 9.5h1M345 9.5h1M444 9.5h1M479 9.5h1M644 9.5h1M760 9.5h1M85 10.5h1M167 10.5h1M244 10.5h1M345 10.5h1M556 10.5h1M601 10.5h1M671 10.5h1M695 10.5h1M700 10.5h1M777 10.5h1M278 11.5h1M358 11.5h1M365 11.5h1M389 11.5h1M418 11.5h1M474 11.5h1M551 11.5h1M663 11.5h1M671 11.5h1M731 11.5h1M763 11.5h1M794 11.5h1M106 12.5h1M227 12.5h1M335 12.5h1M450 12.5h1M566 12.5h1M688 12.5h1M693 12.5h1M793 12.5h1M797 12.5h1"/><path stroke="#00a300" d="M15 0.5h1M23 0.5h1M34 0.5h1M356 0.5h1M364 0.5h1M379 0.5h1M681 0.5h1M692 0.5h1M714 0.5h1M131 1.5h1M636 1.5h1M692 1.5h1M697 1.5h1M152 2.5h1M166 2.5h1M176 2.5h1M270 2.5h1M380 2.5h1M424 2.5h1M450 2.5h1M456 2.5h1M472 2.5h1M507 2.5h1M518 2.5h1M594 2.5h1M642 2.5h1M667 2.5h1M782 2.5h1M137 3.5h1M190 3.5h1M380 3.5h1M434 3.5h1M452 3.5h1M461 3.5h2M468 3.5h1M472 3.5h1M530 3.5h1M708 3.5h1M188 4.5h1M255 4.5h1M337 4.5h1M343 4.5h1M455 4.5h1M477 4.5h1M482 4.5h1M494 4.5h1M617 4.5h1M658 4.5h1M79 5.5h1M187 5.5h1M193 5.5h1M264 5.5h1M367 5.5h1M484 5.5h1M561 5.5h1M564 5.5h1M593 5.5h1M688 5.5h1M115 6.5h1M139 6.5h1M189 6.5h1M216 6.5h1M244 6.5h1M399 6.5h1M411 6.5h1M423 6.5h1M459 6.5h1M497 6.5h1M594 6.5h1M684 6.5h1M693 6.5h1M778 6.5h1M784 6.5h1M150 7.5h1M193 7.5h1M254 7.5h1M336 7.5h1M372 7.5h1M394 7.5h1M413 7.5h1M554 7.5h1M650 7.5h1M89 8.5h1M105 8.5h1M118 8.5h1M166 8.5h1M271 8.5h1M328 8.5h1M446 8.5h1M502 8.5h1M562 8.5h1M580 8.5h1M737 8.5h1M100 9.5h1M123 9.5h1M197 9.5h1M224 9.5h1M306 9.5h1M325 9.5h1M346 9.5h1M731 9.5h1M781 9.5h1M100 10.5h1M127 10.5h1M182 10.5h1M184 10.5h1M190 10.5h1M252 10.5h1M293 10.5h1M497 10.5h1M577 10.5h1M583 10.5h1M685 10.5h1M90 11.5h1M147 11.5h1M195 11.5h1M218 11.5h1M227 11.5h1M237 11.5h1M257 11.5h1M466 11.5h1M486 11.5h1M489 11.5h1M587 11.5h1M721 11.5h1M323 12.5h1M366 12.5h1M393 12.5h1M483 12.5h1M499 12.5h1M523 12.5h1M530 12.5h1M561 12.5h1M564 12.5h1M600 12.5h1M654 12.5h1M668 12.5h1M703 12.5h1M706 12.5h1M712 12.5h1M752 12.5h1M763 12.5h1M767 12.5h1"/><path stroke="#009900" d="M2 0.5h1M5 0.5h1M8 0.5h1M21 0.5h1M29 0.5h1M39 0.5h1M43 0.5h1M45 0.5h1M66 0.5h1M68 0.5h1M73 0.5h1M138 0.5h1M153 0.5h1M402 0.5h2M481 0.5h1M506 0.5h1M755 0.5h1M771 0.5h1M8 1.5h1M23 1.5h2M39 1.5h1M67 1.5h1M102 1.5h1M376 1.5h1M379 1.5h1M527 1.5h1M581 1.5h1M608 1.5h1M615 1.5h1M657 1.5h1M92 2.5h1M198 2.5h1M206 2.5h1M300 2.5h1M337 2.5h1M376 2.5h1M382 2.5h1M404 2.5h1M412 2.5h1M501 2.5h1M557 2.5h1M647 2.5h1M681 2.5h1M721 2.5h1M734 2.5h1M741 2.5h1M129 3.5h1M270 3.5h1M295 3.5h1M300 3.5h1M337 3.5h1M357 3.5h1M412 3.5h1M416 3.5h1M419 3.5h1M424 3.5h1M450 3.5h1M456 3.5h1M494 3.5h1M507 3.5h1M518 3.5h1M557 3.5h1M589 3.5h1M647 3.5h1M651 3.5h1M667 3.5h1M669 3.5h1M684 3.5h1M722 3.5h1M102 4.5h1M220 4.5h1M320 4.5h1M329 4.5h1M350 4.5h1M388 4.5h1M404 4.5h1M411 4.5h1M435 4.5h1M469 4.5h1M576 4.5h1M627 4.5h1M633 4.5h1M646 4.5h1M652 4.5h1M665 4.5h1M721 4.5h1M103 5.5h1M167 5.5h1M255 5.5h1M354 5.5h1M494 5.5h1M669 5.5h1M747 5.5h1M82 6.5h1M153 6.5h1M199 6.5h1M261 6.5h1M377 6.5h1M389 6.5h1M570 6.5h1M652 6.5h1M104 7.5h1M131 7.5h1M189 7.5h1M271 7.5h1M326 7.5h1M371 7.5h1M479 7.5h1M495 7.5h1M628 7.5h1M669 7.5h1M706 7.5h1M774 7.5h1M776 7.5h1M114 8.5h1M187 8.5h1M193 8.5h1M248 8.5h1M351 8.5h1M413 8.5h1M479 8.5h1M559 8.5h1M582 8.5h1M602 8.5h1M606 8.5h1M618 8.5h1M623 8.5h1M648 8.5h1M650 8.5h1M654 8.5h1M663 8.5h1M704 8.5h1M743 8.5h1M190 9.5h1M266 9.5h1M470 9.5h1M490 9.5h1M617 9.5h1M668 9.5h1M687 9.5h1M721 9.5h1M758 9.5h1M124 10.5h1M197 10.5h1M300 10.5h1M393 10.5h1M400 10.5h1M418 10.5h1M444 10.5h1M453 10.5h1M670 10.5h1M676 10.5h1M106 11.5h1M163 11.5h1M190 11.5h1M192 11.5h1M279 11.5h1M301 11.5h1M405 11.5h1M456 11.5h1M476 11.5h1M482 11.5h1M539 11.5h1M543 11.5h1M562 11.5h1M576 11.5h1M623 11.5h1M640 11.5h2M732 11.5h1M799 11.5h1M93 12.5h1M140 12.5h1M146 12.5h1M175 12.5h1M182 12.5h1M224 12.5h1M423 12.5h1M513 12.5h1M743 12.5h1M780 12.5h2"/><path stroke="#008f00" d="M3 0.5h1M9 0.5h2M12 0.5h1M16 0.5h1M20 0.5h1M47 0.5h1M49 0.5h1M53 0.5h1M58 0.5h2M62 0.5h2M67 0.5h1M75 0.5h1M210 0.5h1M656 0.5h1M2 1.5h1M15 1.5h1M34 1.5h1M36 1.5h1M47 1.5h1M52 1.5h1M59 1.5h1M64 1.5h1M73 1.5h1M75 1.5h1M153 1.5h1M189 1.5h1M402 1.5h1M487 1.5h1M517 1.5h1M599 1.5h1M639 1.5h1M693 1.5h1M89 2.5h1M96 2.5h1M107 2.5h1M134 2.5h1M137 2.5h1M163 2.5h1M190 2.5h1M251 2.5h1M407 2.5h1M455 2.5h1M494 2.5h1M572 2.5h1M646 2.5h1M669 2.5h1M152 3.5h1M162 3.5h1M200 3.5h1M258 3.5h1M277 3.5h1M313 3.5h1M376 3.5h1M407 3.5h1M444 3.5h1M460 3.5h1M553 3.5h1M629 3.5h1M681 3.5h1M692 3.5h1M721 3.5h1M734 3.5h1M742 3.5h1M248 4.5h1M293 4.5h1M310 4.5h1M333 4.5h1M523 4.5h1M570 4.5h1M598 4.5h1M631 4.5h1M725 4.5h1M753 4.5h1M781 4.5h1M78 5.5h1M134 5.5h1M281 5.5h1M301 5.5h2M340 5.5h1M350 5.5h1M375 5.5h1M393 5.5h1M411 5.5h1M415 5.5h1M431 5.5h1M469 5.5h1M495 5.5h1M623 5.5h1M636 5.5h1M639 5.5h1M676 5.5h1M745 5.5h1M789 5.5h1M794 5.5h1M93 6.5h1M129 6.5h1M193 6.5h1M273 6.5h1M326 6.5h1M357 6.5h1M431 6.5h1M455 6.5h1M576 6.5h1M607 6.5h1M639 6.5h1M677 6.5h1M736 6.5h1M232 7.5h1M248 7.5h1M256 7.5h1M266 7.5h1M323 7.5h1M328 7.5h1M364 7.5h1M402 7.5h1M458 7.5h1M466 7.5h1M533 7.5h1M570 7.5h1M580 7.5h1M613 7.5h1M632 7.5h1M691 7.5h1M761 7.5h1M132 8.5h1M150 8.5h1M153 8.5h1M242 8.5h1M359 8.5h1M364 8.5h1M372 8.5h1M458 8.5h1M464 8.5h1M553 8.5h1M741 8.5h1M92 9.5h1M103 9.5h1M119 9.5h1M155 9.5h1M182 9.5h1M237 9.5h1M372 9.5h1M405 9.5h1M486 9.5h1M504 9.5h1M581 9.5h1M583 9.5h1M610 9.5h1M657 9.5h1M766 9.5h1M93 10.5h1M166 10.5h1M202 10.5h1M232 10.5h1M248 10.5h1M292 10.5h1M325 10.5h1M351 10.5h1M479 10.5h1M495 10.5h1M535 10.5h1M591 10.5h2M623 10.5h1M652 10.5h1M765 10.5h1M780 10.5h1M86 11.5h1M112 11.5h1M160 11.5h1M203 11.5h1M236 11.5h1M259 11.5h1M436 11.5h1M472 11.5h1M500 11.5h1M527 11.5h1M535 11.5h1M540 11.5h1M598 11.5h1M607 11.5h1M668 11.5h1M672 11.5h1M680 11.5h1M729 11.5h1M746 11.5h1M749 11.5h1M174 12.5h1M210 12.5h1M236 12.5h1M271 12.5h1M282 12.5h1M286 12.5h1M304 12.5h1M327 12.5h1M458 12.5h1M502 12.5h1M516 12.5h1M548 12.5h1M593 12.5h1M674 12.5h1M679 12.5h1M684 12.5h1M737 12.5h1M773 12.5h1"/><path stroke="#008500" d="M6 0.5h1M22 0.5h1M28 0.5h1M30 0.5h1M32 0.5h2M35 0.5h2M52 0.5h1M71 0.5h1M88 0.5h1M140 0.5h1M203 0.5h2M214 0.5h1M454 0.5h1M497 0.5h1M561 0.5h1M581 0.5h1M608 0.5h1M615 0.5h1M717 0.5h1M729 0.5h1M739 0.5h1M0 1.5h1M5 1.5h1M12 1.5h1M16 1.5h1M20 1.5h2M29 1.5h1M32 1.5h1M43 1.5h1M45 1.5h1M58 1.5h1M62 1.5h2M66 1.5h1M74 1.5h1M204 1.5h1M303 1.5h1M309 1.5h1M355 1.5h1M403 1.5h1M542 1.5h1M561 1.5h1M587 1.5h1M633 1.5h1M652 1.5h1M681 1.5h1M714 1.5h1M784 1.5h1M76 2.5h1M84 2.5h1M129 2.5h1M180 2.5h1M200 2.5h1M268 2.5h1M277 2.5h1M282 2.5h1M320 2.5h1M357 2.5h1M363 2.5h1M418 2.5h1M428 2.5h1M452 2.5h1M464 2.5h1M530 2.5h1M532 2.5h1M543 2.5h1M612 2.5h1M677 2.5h1M693 2.5h1M708 2.5h1M76 3.5h1M107 3.5h1M163 3.5h1M180 3.5h1M206 3.5h1M211 3.5h1M240 3.5h1M282 3.5h1M320 3.5h1M382 3.5h1M418 3.5h1M473 3.5h1M501 3.5h1M523 3.5h1M535 3.5h1M547 3.5h1M604 3.5h1M645 3.5h1M78 4.5h1M92 4.5h1M119 4.5h1M145 4.5h1M177 4.5h1M199 4.5h1M234 4.5h1M274 4.5h1M338 4.5h1M420 4.5h1M668 4.5h1M680 4.5h1M705 4.5h1M709 4.5h1M758 4.5h1M774 4.5h1M139 5.5h1M178 5.5h1M189 5.5h1M335 5.5h1M387 5.5h1M390 5.5h1M414 5.5h1M472 5.5h1M474 5.5h1M577 5.5h1M652 5.5h1M678 5.5h1M733 5.5h1M95 6.5h1M110 6.5h1M184 6.5h1M187 6.5h1M279 6.5h1M329 6.5h1M332 6.5h1M366 6.5h1M388 6.5h1M390 6.5h1M475 6.5h1M495 6.5h1M501 6.5h1M583 6.5h1M588 6.5h1M619 6.5h1M706 6.5h1M729 6.5h1M99 7.5h1M121 7.5h1M140 7.5h1M187 7.5h1M242 7.5h1M247 7.5h1M295 7.5h1M333 7.5h1M339 7.5h1M341 7.5h2M354 7.5h1M453 7.5h1M457 7.5h1M465 7.5h1M499 7.5h1M543 7.5h1M559 7.5h1M562 7.5h1M574 7.5h2M582 7.5h1M587 7.5h1M592 7.5h1M639 7.5h1M656 7.5h1M732 7.5h1M765 7.5h1M787 7.5h1M104 8.5h1M113 8.5h1M140 8.5h1M204 8.5h1M216 8.5h1M269 8.5h1M282 8.5h1M287 8.5h1M320 8.5h1M339 8.5h1M341 8.5h1M349 8.5h1M430 8.5h1M457 8.5h1M570 8.5h1M656 8.5h1M749 8.5h1M85 9.5h1M120 9.5h1M140 9.5h1M172 9.5h1M193 9.5h1M236 9.5h1M383 9.5h1M403 9.5h1M424 9.5h1M489 9.5h1M568 9.5h1M577 9.5h1M780 9.5h1M122 10.5h1M144 10.5h1M179 10.5h1M237 10.5h1M262 10.5h1M278 10.5h1M299 10.5h1M319 10.5h1M342 10.5h1M350 10.5h1M358 10.5h1M433 10.5h1M466 10.5h1M472 10.5h1M579 10.5h1M722 10.5h1M758 10.5h1M766 10.5h1M770 10.5h1M782 10.5h1M144 11.5h1M210 11.5h1M357 11.5h1M366 11.5h1M369 11.5h1M390 11.5h1M519 11.5h1M583 11.5h1M586 11.5h1M597 11.5h1M726 11.5h1M778 11.5h1M136 12.5h1M154 12.5h1M216 12.5h1M221 12.5h1M237 12.5h1M358 12.5h1M365 12.5h1M459 12.5h1M554 12.5h1M613 12.5h1M622 12.5h1M734 12.5h1M761 12.5h1"/><path stroke="#007a00" d="M0 0.5h2M11 0.5h1M17 0.5h1M19 0.5h1M27 0.5h1M31 0.5h1M37 0.5h2M42 0.5h1M48 0.5h1M55 0.5h2M64 0.5h1M69 0.5h1M117 0.5h1M163 0.5h1M231 0.5h1M303 0.5h1M345 0.5h1M443 0.5h1M486 0.5h1M545 0.5h1M599 0.5h1M658 0.5h1M6 1.5h1M17 1.5h1M30 1.5h2M33 1.5h1M37 1.5h1M42 1.5h1M49 1.5h1M53 1.5h1M56 1.5h1M68 1.5h1M71 1.5h1M83 1.5h1M117 1.5h1M138 1.5h1M214 1.5h1M327 1.5h1M392 1.5h1M455 1.5h1M486 1.5h1M506 1.5h1M717 1.5h1M791 1.5h1M150 2.5h1M211 2.5h1M242 2.5h1M257 2.5h2M416 2.5h1M432 2.5h2M447 2.5h1M453 2.5h1M471 2.5h1M538 2.5h1M580 2.5h1M589 2.5h1M605 2.5h1M650 2.5h1M672 2.5h1M692 2.5h1M706 2.5h1M711 2.5h1M742 2.5h1M84 3.5h1M89 3.5h1M98 3.5h1M139 3.5h1M177 3.5h1M251 3.5h1M261 3.5h1M268 3.5h1M314 3.5h1M428 3.5h1M481 3.5h1M539 3.5h1M562 3.5h1M580 3.5h1M646 3.5h1M672 3.5h1M697 3.5h1M706 3.5h1M77 4.5h1M95 4.5h1M134 4.5h1M163 4.5h1M170 4.5h1M176 4.5h1M186 4.5h1M206 4.5h1M209 4.5h1M219 4.5h1M235 4.5h1M241 4.5h1M259 4.5h1M298 4.5h1M336 4.5h1M339 4.5h1M368 4.5h1M463 4.5h2M562 4.5h1M571 4.5h1M602 4.5h1M685 4.5h1M110 5.5h1M117 5.5h1M166 5.5h1M181 5.5h1M270 5.5h1M299 5.5h1M307 5.5h1M329 5.5h1M362 5.5h1M366 5.5h1M413 5.5h1M444 5.5h1M463 5.5h1M475 5.5h1M557 5.5h1M600 5.5h1M614 5.5h1M626 5.5h1M680 5.5h1M682 5.5h1M707 5.5h1M749 5.5h1M764 5.5h1M80 6.5h1M120 6.5h1M132 6.5h1M215 6.5h1M223 6.5h1M246 6.5h1M281 6.5h1M340 6.5h1M368 6.5h1M383 6.5h1M469 6.5h1M541 6.5h1M558 6.5h1M582 6.5h1M584 6.5h1M623 6.5h1M656 6.5h1M708 6.5h1M733 6.5h1M781 6.5h1M125 7.5h1M128 7.5h1M132 7.5h1M163 7.5h2M216 7.5h1M244 7.5h1M334 7.5h1M430 7.5h1M449 7.5h1M464 7.5h1M478 7.5h1M509 7.5h1M568 7.5h1M601 7.5h1M666 7.5h1M740 7.5h1M752 7.5h1M760 7.5h1M782 7.5h1M78 8.5h1M95 8.5h1M121 8.5h1M239 8.5h1M295 8.5h1M334 8.5h1M387 8.5h1M453 8.5h1M456 8.5h1M465 8.5h1M492 8.5h1M522 8.5h1M554 8.5h1M564 8.5h1M587 8.5h1M594 8.5h1M657 8.5h1M698 8.5h1M702 8.5h1M706 8.5h2M774 8.5h1M130 9.5h1M144 9.5h1M259 9.5h1M278 9.5h1M334 9.5h1M351 9.5h1M354 9.5h1M390 9.5h1M425 9.5h1M434 9.5h1M488 9.5h1M614 9.5h1M618 9.5h1M634 9.5h1M639 9.5h1M652 9.5h1M743 9.5h1M753 9.5h2M149 10.5h1M243 10.5h1M259 10.5h1M306 10.5h1M334 10.5h1M399 10.5h1M504 10.5h1M506 10.5h1M510 10.5h1M514 10.5h1M582 10.5h1M753 10.5h1M87 11.5h1M126 11.5h1M156 11.5h1M170 11.5h1M175 11.5h1M209 11.5h1M234 11.5h1M248 11.5h1M290 11.5h1M317 11.5h1M393 11.5h1M423 11.5h1M445 11.5h1M513 11.5h1M563 11.5h1M638 11.5h1M652 11.5h1M674 11.5h2M730 11.5h1M759 11.5h1M784 11.5h1M76 12.5h1M92 12.5h1M141 12.5h1M147 12.5h1M172 12.5h1M189 12.5h2M195 12.5h1M203 12.5h1M247 12.5h1M266 12.5h1M294 12.5h1M301 12.5h1M369 12.5h1M398 12.5h1M453 12.5h1M472 12.5h1M495 12.5h1M529 12.5h1M563 12.5h1M615 12.5h1M663 12.5h1M672 12.5h1M686 12.5h1M715 12.5h1M730 12.5h1M751 12.5h1M758 12.5h1M794 12.5h1"/><path stroke="#007000" d="M18 0.5h1M25 0.5h2M40 0.5h2M44 0.5h1M46 0.5h1M50 0.5h1M54 0.5h1M70 0.5h1M72 0.5h1M74 0.5h1M122 0.5h1M192 0.5h1M288 0.5h1M296 0.5h1M308 0.5h1M366 0.5h1M376 0.5h1M412 0.5h1M415 0.5h1M450 0.5h1M487 0.5h1M551 0.5h1M587 0.5h1M639 0.5h1M697 0.5h1M720 0.5h1M1 1.5h1M3 1.5h2M9 1.5h3M22 1.5h1M26 1.5h3M35 1.5h1M38 1.5h1M46 1.5h1M48 1.5h1M50 1.5h1M55 1.5h1M61 1.5h1M69 1.5h1M146 1.5h1M200 1.5h1M203 1.5h1M208 1.5h1M288 1.5h1M293 1.5h1M302 1.5h1M324 1.5h1M336 1.5h1M364 1.5h1M454 1.5h1M476 1.5h1M545 1.5h1M656 1.5h1M78 2.5h1M162 2.5h1M175 2.5h1M255 2.5h1M259 2.5h1M279 2.5h1M303 2.5h1M371 2.5h1M443 2.5h2M468 2.5h1M523 2.5h1M539 2.5h1M576 2.5h1M599 2.5h1M651 2.5h1M660 2.5h1M750 2.5h1M78 3.5h1M96 3.5h1M134 3.5h1M148 3.5h1M259 3.5h1M290 3.5h1M303 3.5h1M307 3.5h1M363 3.5h1M366 3.5h1M371 3.5h1M393 3.5h2M415 3.5h1M455 3.5h1M471 3.5h1M477 3.5h1M532 3.5h2M538 3.5h1M543 3.5h1M599 3.5h1M605 3.5h1M668 3.5h1M677 3.5h1M785 3.5h1M79 4.5h1M89 4.5h1M100 4.5h1M106 4.5h1M135 4.5h1M143 4.5h1M155 4.5h1M164 4.5h1M181 4.5h1M251 4.5h1M260 4.5h1M288 4.5h1M301 4.5h1M367 4.5h1M433 4.5h1M448 4.5h1M549 4.5h1M575 4.5h1M580 4.5h1M636 4.5h1M639 4.5h1M656 4.5h1M672 4.5h1M706 4.5h1M714 4.5h1M719 4.5h1M762 4.5h1M784 4.5h1M797 4.5h1M102 5.5h1M215 5.5h1M314 5.5h1M320 5.5h1M355 5.5h1M357 5.5h1M364 5.5h2M368 5.5h1M371 5.5h1M428 5.5h1M473 5.5h1M573 5.5h1M598 5.5h1M616 5.5h1M619 5.5h1M632 5.5h1M84 6.5h1M163 6.5h1M169 6.5h2M226 6.5h1M238 6.5h1M258 6.5h1M300 6.5h1M407 6.5h1M420 6.5h2M452 6.5h1M465 6.5h1M502 6.5h1M515 6.5h1M526 6.5h1M564 6.5h1M624 6.5h1M651 6.5h1M722 6.5h1M730 6.5h1M738 6.5h1M748 6.5h1M753 6.5h1M782 6.5h1M795 6.5h1M166 7.5h1M170 7.5h1M174 7.5h1M204 7.5h1M212 7.5h1M347 7.5h1M358 7.5h1M362 7.5h1M388 7.5h1M475 7.5h1M501 7.5h1M516 7.5h1M519 7.5h1M539 7.5h1M550 7.5h1M573 7.5h1M617 7.5h1M626 7.5h1M643 7.5h1M645 7.5h1M663 7.5h1M695 7.5h1M702 7.5h1M707 7.5h1M733 7.5h1M763 7.5h1M83 8.5h1M163 8.5h2M219 8.5h1M232 8.5h1M247 8.5h1M294 8.5h1M368 8.5h1M402 8.5h1M415 8.5h1M421 8.5h1M466 8.5h1M514 8.5h1M519 8.5h1M535 8.5h1M550 8.5h1M578 8.5h1M601 8.5h1M603 8.5h1M685 8.5h1M691 8.5h1M695 8.5h1M736 8.5h1M761 8.5h1M78 9.5h1M96 9.5h1M152 9.5h1M167 9.5h1M195 9.5h1M202 9.5h1M242 9.5h1M247 9.5h1M270 9.5h1M319 9.5h1M323 9.5h1M355 9.5h1M358 9.5h1M375 9.5h1M475 9.5h1M485 9.5h1M582 9.5h1M592 9.5h1M623 9.5h1M629 9.5h2M642 9.5h1M650 9.5h1M678 9.5h1M685 9.5h1M702 9.5h1M761 9.5h1M103 10.5h1M120 10.5h1M123 10.5h1M146 10.5h2M155 10.5h2M164 10.5h1M230 10.5h1M276 10.5h1M333 10.5h1M363 10.5h1M366 10.5h1M372 10.5h1M378 10.5h1M425 10.5h1M450 10.5h1M463 10.5h1M470 10.5h1M484 10.5h1M486 10.5h1M589 10.5h1M629 10.5h2M683 10.5h1M727 10.5h1M729 10.5h1M749 10.5h1M768 10.5h1M104 11.5h1M118 11.5h1M228 11.5h1M271 11.5h1M282 11.5h1M345 11.5h1M400 11.5h1M407 11.5h1M446 11.5h1M459 11.5h1M529 11.5h1M577 11.5h1M612 11.5h1M616 11.5h1M626 11.5h1M646 11.5h1M684 11.5h1M710 11.5h1M752 11.5h1M121 12.5h1M185 12.5h1M257 12.5h1M259 12.5h1M264 12.5h1M307 12.5h1M313 12.5h1M414 12.5h1M427 12.5h1M436 12.5h1M577 12.5h1M614 12.5h1M656 12.5h1M692 12.5h1M716 12.5h2M722 12.5h1M726 12.5h1M729 12.5h1M732 12.5h1M746 12.5h1M754 12.5h1M765 12.5h1M785 12.5h1M799 12.5h1"/><path stroke="#006600" d="M4 0.5h1M14 0.5h1M51 0.5h1M57 0.5h1M60 0.5h2M65 0.5h1M107 0.5h1M112 0.5h1M126 0.5h1M216 0.5h1M293 0.5h1M302 0.5h1M333 0.5h1M464 0.5h1M517 0.5h1M532 0.5h1M582 0.5h1M613 0.5h1M655 0.5h1M713 0.5h1M716 0.5h1M784 0.5h1M7 1.5h1M18 1.5h1M25 1.5h1M40 1.5h2M44 1.5h1M51 1.5h1M54 1.5h1M70 1.5h1M72 1.5h1M95 1.5h1M132 1.5h1M188 1.5h1M210 1.5h1M250 1.5h1M278 1.5h1M291 1.5h1M308 1.5h1M366 1.5h1M441 1.5h1M620 1.5h1M623 1.5h1M658 1.5h1M706 1.5h1M741 1.5h1M755 1.5h1M98 2.5h1M146 2.5h1M195 2.5h1M232 2.5h1M240 2.5h1M290 2.5h1M314 2.5h1M373 2.5h1M535 2.5h1M553 2.5h1M562 2.5h1M583 2.5h1M629 2.5h1M726 2.5h1M759 2.5h1M767 2.5h1M175 3.5h1M183 3.5h1M195 3.5h1M231 3.5h1M252 3.5h1M257 3.5h1M260 3.5h1M276 3.5h1M396 3.5h1M404 3.5h1M432 3.5h1M447 3.5h1M453 3.5h1M465 3.5h1M498 3.5h1M572 3.5h1M584 3.5h1M608 3.5h1M650 3.5h1M670 3.5h1M693 3.5h1M726 3.5h1M731 3.5h1M752 3.5h1M84 4.5h1M101 4.5h1M184 4.5h1M192 4.5h1M215 4.5h2M221 4.5h1M236 4.5h1M242 4.5h1M252 4.5h1M286 4.5h1M303 4.5h1M362 4.5h1M372 4.5h1M376 4.5h1M417 4.5h1M419 4.5h1M424 4.5h1M427 4.5h1M456 4.5h1M497 4.5h1M504 4.5h2M537 4.5h1M542 4.5h1M623 4.5h1M648 4.5h1M677 4.5h1M736 4.5h1M746 4.5h1M778 4.5h1M789 4.5h1M119 5.5h1M140 5.5h1M155 5.5h1M165 5.5h1M182 5.5h1M196 5.5h1M201 5.5h1M220 5.5h1M226 5.5h1M229 5.5h1M238 5.5h1M245 5.5h1M313 5.5h1M343 5.5h1M376 5.5h1M386 5.5h1M407 5.5h1M441 5.5h1M477 5.5h1M490 5.5h1M502 5.5h1M506 5.5h1M510 5.5h2M524 5.5h1M528 5.5h1M538 5.5h1M568 5.5h1M570 5.5h1M581 5.5h1M594 5.5h1M605 5.5h1M634 5.5h1M643 5.5h1M651 5.5h1M660 5.5h1M664 5.5h1M675 5.5h1M706 5.5h1M734 5.5h1M740 5.5h1M752 5.5h1M763 5.5h1M795 5.5h1M150 6.5h1M232 6.5h1M255 6.5h1M307 6.5h1M355 6.5h1M362 6.5h1M398 6.5h1M417 6.5h1M438 6.5h1M461 6.5h1M485 6.5h1M490 6.5h1M493 6.5h1M506 6.5h1M511 6.5h1M519 6.5h1M524 6.5h1M552 6.5h1M562 6.5h1M617 6.5h1M642 6.5h2M663 6.5h1M704 6.5h1M725 6.5h1M745 6.5h1M749 6.5h1M762 6.5h1M78 7.5h1M83 7.5h1M98 7.5h1M113 7.5h1M175 7.5h1M234 7.5h1M239 7.5h1M282 7.5h1M289 7.5h1M348 7.5h1M351 7.5h1M379 7.5h1M390 7.5h1M395 7.5h1M420 7.5h1M432 7.5h1M477 7.5h1M481 7.5h2M491 7.5h1M594 7.5h1M598 7.5h1M638 7.5h1M640 7.5h1M648 7.5h1M697 7.5h1M704 7.5h1M736 7.5h1M741 7.5h1M747 7.5h1M798 7.5h1M99 8.5h1M116 8.5h1M266 8.5h1M312 8.5h1M331 8.5h1M362 8.5h1M406 8.5h1M420 8.5h1M432 8.5h1M449 8.5h1M467 8.5h1M478 8.5h1M501 8.5h1M529 8.5h1M539 8.5h1M543 8.5h1M626 8.5h1M628 8.5h2M732 8.5h1M754 8.5h1M776 8.5h1M112 9.5h1M122 9.5h1M128 9.5h1M141 9.5h1M251 9.5h1M261 9.5h1M268 9.5h1M292 9.5h2M299 9.5h2M389 9.5h1M396 9.5h1M495 9.5h1M511 9.5h1M519 9.5h2M579 9.5h1M637 9.5h1M646 9.5h1M723 9.5h1M96 10.5h1M112 10.5h1M141 10.5h1M150 10.5h1M153 10.5h1M172 10.5h1M246 10.5h1M267 10.5h1M291 10.5h1M354 10.5h1M357 10.5h1M364 10.5h1M405 10.5h1M413 10.5h1M435 10.5h1M468 10.5h1M474 10.5h1M505 10.5h1M515 10.5h1M568 10.5h1M594 10.5h1M603 10.5h1M650 10.5h1M667 10.5h1M731 10.5h1M756 10.5h2M761 10.5h1M781 10.5h1M785 10.5h1M76 11.5h1M99 11.5h1M120 11.5h1M231 11.5h2M242 11.5h1M287 11.5h1M302 11.5h1M334 11.5h1M340 11.5h1M354 11.5h1M372 11.5h1M414 11.5h1M453 11.5h2M460 11.5h1M495 11.5h1M506 11.5h1M511 11.5h1M589 11.5h1M629 11.5h1M631 11.5h1M654 11.5h1M659 11.5h1M693 11.5h1M745 11.5h1M747 11.5h1M762 11.5h1M785 11.5h1M795 11.5h1M87 12.5h1M96 12.5h1M144 12.5h1M220 12.5h1M238 12.5h1M252 12.5h1M300 12.5h1M308 12.5h1M411 12.5h1M419 12.5h1M424 12.5h1M444 12.5h1M461 12.5h1M497 12.5h1M519 12.5h1M541 12.5h1M551 12.5h1M586 12.5h1M601 12.5h1M631 12.5h1M634 12.5h1M667 12.5h1M704 12.5h1M749 12.5h1M762 12.5h1M778 12.5h1M783 12.5h1"/><path stroke="#005c00" d="M7 0.5h1M13 0.5h1M172 0.5h1M208 0.5h1M286 0.5h1M295 0.5h1M324 0.5h1M347 0.5h1M355 0.5h1M368 0.5h1M372 0.5h1M409 0.5h1M576 0.5h1M578 0.5h1M598 0.5h1M623 0.5h1M633 0.5h1M654 0.5h1M666 0.5h1M693 0.5h1M763 0.5h1M791 0.5h1M14 1.5h1M19 1.5h1M110 1.5h1M163 1.5h1M217 1.5h1M257 1.5h1M275 1.5h1M333 1.5h1M387 1.5h1M524 1.5h1M526 1.5h1M534 1.5h1M555 1.5h1M672 1.5h1M720 1.5h1M752 1.5h1M771 1.5h2M99 2.5h1M104 2.5h1M111 2.5h1M114 2.5h1M139 2.5h1M148 2.5h1M156 2.5h1M199 2.5h1M207 2.5h1M217 2.5h1M229 2.5h1M252 2.5h1M265 2.5h1M289 2.5h1M345 2.5h1M362 2.5h1M396 2.5h1M400 2.5h1M408 2.5h1M415 2.5h1M460 2.5h1M481 2.5h1M498 2.5h1M533 2.5h1M582 2.5h1M608 2.5h1M645 2.5h1M689 2.5h1M697 2.5h2M705 2.5h1M709 2.5h1M722 2.5h1M731 2.5h1M754 2.5h1M784 2.5h2M82 3.5h1M99 3.5h1M198 3.5h1M229 3.5h1M237 3.5h1M242 3.5h1M255 3.5h1M265 3.5h1M279 3.5h1M284 3.5h1M312 3.5h1M341 3.5h1M362 3.5h1M386 3.5h1M400 3.5h1M425 3.5h1M433 3.5h1M464 3.5h1M582 3.5h1M612 3.5h1M615 3.5h1M632 3.5h1M657 3.5h1M744 3.5h2M750 3.5h1M759 3.5h1M767 3.5h1M76 4.5h1M112 4.5h1M114 4.5h1M151 4.5h1M169 4.5h1M237 4.5h1M291 4.5h1M312 4.5h1M356 4.5h1M363 4.5h1M374 4.5h1M380 4.5h1M390 4.5h1M429 4.5h1M526 4.5h1M541 4.5h1M555 4.5h1M577 4.5h1M579 4.5h1M600 4.5h1M619 4.5h1M756 4.5h1M764 4.5h1M767 4.5h1M792 4.5h1M124 5.5h1M135 5.5h1M145 5.5h1M149 5.5h1M151 5.5h1M158 5.5h1M192 5.5h1M260 5.5h1M304 5.5h1M328 5.5h1M372 5.5h1M467 5.5h1M482 5.5h1M497 5.5h1M521 5.5h1M544 5.5h1M546 5.5h1M554 5.5h1M583 5.5h1M635 5.5h1M642 5.5h1M679 5.5h1M694 5.5h1M754 5.5h1M102 6.5h1M125 6.5h1M175 6.5h1M195 6.5h1M227 6.5h2M271 6.5h1M405 6.5h1M437 6.5h1M443 6.5h1M464 6.5h1M472 6.5h1M484 6.5h1M521 6.5h1M549 6.5h1M567 6.5h1M573 6.5h1M603 6.5h1M614 6.5h1M665 6.5h1M717 6.5h1M793 6.5h1M796 6.5h2M81 7.5h1M95 7.5h1M105 7.5h1M153 7.5h1M194 7.5h1M209 7.5h1M220 7.5h1M257 7.5h1M318 7.5h1M352 7.5h1M370 7.5h1M385 7.5h1M392 7.5h1M411 7.5h1M414 7.5h1M421 7.5h1M428 7.5h1M445 7.5h1M463 7.5h1M467 7.5h1M472 7.5h1M529 7.5h1M549 7.5h1M564 7.5h1M676 7.5h1M723 7.5h1M734 7.5h2M749 7.5h1M764 7.5h1M769 7.5h1M781 7.5h1M86 8.5h1M123 8.5h1M129 8.5h1M194 8.5h1M264 8.5h1M333 8.5h1M347 8.5h1M350 8.5h1M390 8.5h1M393 8.5h1M411 8.5h1M416 8.5h1M425 8.5h1M442 8.5h1M472 8.5h1M475 8.5h1M481 8.5h1M495 8.5h1M509 8.5h1M533 8.5h1M545 8.5h1M552 8.5h1M574 8.5h1M616 8.5h1M640 8.5h1M690 8.5h1M723 8.5h1M752 8.5h1M763 8.5h1M765 8.5h1M798 8.5h1M83 9.5h1M124 9.5h1M160 9.5h1M169 9.5h1M184 9.5h1M191 9.5h1M243 9.5h1M258 9.5h1M282 9.5h1M307 9.5h1M399 9.5h2M481 9.5h1M491 9.5h2M496 9.5h1M597 9.5h1M656 9.5h1M672 9.5h1M676 9.5h1M712 9.5h1M720 9.5h1M734 9.5h1M752 9.5h1M104 10.5h1M107 10.5h1M126 10.5h1M152 10.5h1M157 10.5h2M161 10.5h1M185 10.5h3M204 10.5h1M251 10.5h1M274 10.5h1M322 10.5h1M396 10.5h1M417 10.5h1M423 10.5h1M481 10.5h1M485 10.5h1M500 10.5h1M511 10.5h1M517 10.5h1M546 10.5h1M552 10.5h1M564 10.5h2M581 10.5h1M627 10.5h1M668 10.5h1M690 10.5h1M702 10.5h1M719 10.5h1M734 10.5h1M741 10.5h1M762 10.5h1M778 10.5h1M91 11.5h1M139 11.5h1M215 11.5h1M286 11.5h1M288 11.5h1M339 11.5h1M347 11.5h1M385 11.5h1M394 11.5h1M434 11.5h1M439 11.5h1M464 11.5h1M479 11.5h1M522 11.5h2M556 11.5h1M575 11.5h1M595 11.5h1M602 11.5h1M691 11.5h2M754 11.5h1M767 11.5h1M790 11.5h1M78 12.5h1M80 12.5h1M89 12.5h1M98 12.5h1M109 12.5h1M133 12.5h1M156 12.5h1M168 12.5h1M209 12.5h1M228 12.5h1M231 12.5h1M233 12.5h1M254 12.5h1M263 12.5h1M272 12.5h1M299 12.5h1M324 12.5h1M328 12.5h1M386 12.5h1M402 12.5h1M407 12.5h1M425 12.5h1M493 12.5h1M498 12.5h1M521 12.5h1M538 12.5h1M546 12.5h1M557 12.5h1M575 12.5h1M640 12.5h1M645 12.5h1M652 12.5h1M665 12.5h1M741 12.5h1M764 12.5h1M772 12.5h1M775 12.5h1M790 12.5h1M798 12.5h1"/><path stroke="#005200" d="M95 0.5h1M120 0.5h1M257 0.5h1M309 0.5h1M331 0.5h1M336 0.5h1M385 0.5h1M388 0.5h1M441 0.5h1M453 0.5h1M473 0.5h1M508 0.5h1M521 0.5h1M525 0.5h1M536 0.5h1M541 0.5h2M641 0.5h1M657 0.5h1M661 0.5h1M665 0.5h1M706 0.5h2M741 0.5h1M779 0.5h1M13 1.5h1M57 1.5h1M60 1.5h1M65 1.5h1M96 1.5h1M99 1.5h1M140 1.5h1M169 1.5h1M172 1.5h1M192 1.5h1M286 1.5h1M345 1.5h1M347 1.5h1M352 1.5h1M381 1.5h1M388 1.5h1M396 1.5h1M409 1.5h1M453 1.5h1M458 1.5h1M497 1.5h1M521 1.5h1M525 1.5h1M577 1.5h2M582 1.5h1M591 1.5h1M617 1.5h1M621 1.5h1M654 1.5h2M663 1.5h1M707 1.5h1M729 1.5h1M739 1.5h1M749 1.5h1M108 2.5h1M136 2.5h1M143 2.5h1M159 2.5h1M218 2.5h1M228 2.5h1M231 2.5h1M260 2.5h2M264 2.5h1M284 2.5h1M286 2.5h1M292 2.5h1M393 2.5h2M420 2.5h1M475 2.5h1M510 2.5h1M525 2.5h1M558 2.5h2M604 2.5h1M744 2.5h1M770 2.5h1M793 2.5h1M798 2.5h1M104 3.5h1M108 3.5h2M111 3.5h1M124 3.5h1M131 3.5h1M143 3.5h1M150 3.5h1M156 3.5h1M217 3.5h1M280 3.5h1M289 3.5h1M292 3.5h1M373 3.5h1M474 3.5h1M559 3.5h1M600 3.5h1M621 3.5h1M625 3.5h1M689 3.5h1M719 3.5h1M741 3.5h1M754 3.5h1M762 3.5h1M81 4.5h1M86 4.5h1M131 4.5h1M162 4.5h1M183 4.5h1M189 4.5h1M207 4.5h1M232 4.5h1M249 4.5h1M268 4.5h1M272 4.5h1M300 4.5h1M341 4.5h1M354 4.5h1M398 4.5h1M408 4.5h1M418 4.5h1M440 4.5h1M452 4.5h1M481 4.5h1M484 4.5h1M489 4.5h1M528 4.5h1M550 4.5h1M552 4.5h2M560 4.5h1M625 4.5h1M638 4.5h1M651 4.5h1M676 4.5h1M707 4.5h1M740 4.5h1M742 4.5h1M775 4.5h1M783 4.5h1M786 4.5h1M799 4.5h1M84 5.5h1M90 5.5h1M92 5.5h1M190 5.5h1M197 5.5h1M199 5.5h1M217 5.5h1M240 5.5h1M242 5.5h1M246 5.5h1M266 5.5h1M271 5.5h1M279 5.5h1M298 5.5h1M332 5.5h1M377 5.5h1M409 5.5h1M445 5.5h1M450 5.5h1M453 5.5h1M513 5.5h1M534 5.5h1M566 5.5h1M572 5.5h1M578 5.5h1M712 5.5h1M730 5.5h1M758 5.5h1M76 6.5h2M92 6.5h1M117 6.5h1M124 6.5h1M156 6.5h1M200 6.5h2M242 6.5h1M254 6.5h1M317 6.5h1M328 6.5h1M380 6.5h2M414 6.5h1M508 6.5h1M551 6.5h1M560 6.5h2M577 6.5h1M581 6.5h1M592 6.5h1M613 6.5h1M626 6.5h1M628 6.5h1M631 6.5h1M636 6.5h1M650 6.5h1M664 6.5h1M676 6.5h1M691 6.5h1M694 6.5h1M705 6.5h1M740 6.5h1M757 6.5h1M766 6.5h1M116 7.5h1M120 7.5h1M147 7.5h1M196 7.5h1M218 7.5h1M269 7.5h1M275 7.5h2M375 7.5h1M408 7.5h1M492 7.5h1M503 7.5h1M522 7.5h1M530 7.5h1M545 7.5h1M561 7.5h1M577 7.5h1M590 7.5h1M609 7.5h1M616 7.5h1M685 7.5h1M694 7.5h1M754 7.5h1M778 7.5h1M81 8.5h1M85 8.5h1M103 8.5h1M115 8.5h1M144 8.5h1M149 8.5h1M178 8.5h1M212 8.5h1M251 8.5h1M275 8.5h1M379 8.5h1M388 8.5h1M395 8.5h2M428 8.5h1M459 8.5h1M477 8.5h1M491 8.5h1M494 8.5h1M516 8.5h1M549 8.5h1M561 8.5h1M581 8.5h1M583 8.5h1M586 8.5h1M592 8.5h1M617 8.5h1M643 8.5h1M645 8.5h1M676 8.5h1M709 8.5h1M753 8.5h1M768 8.5h1M93 9.5h1M131 9.5h1M149 9.5h1M159 9.5h1M198 9.5h1M221 9.5h1M231 9.5h1M288 9.5h1M322 9.5h1M357 9.5h1M362 9.5h2M373 9.5h1M412 9.5h2M418 9.5h1M455 9.5h1M505 9.5h1M521 9.5h1M527 9.5h1M551 9.5h1M559 9.5h1M572 9.5h1M627 9.5h1M633 9.5h1M636 9.5h1M651 9.5h1M749 9.5h1M76 10.5h1M106 10.5h1M109 10.5h1M129 10.5h1M133 10.5h1M206 10.5h1M213 10.5h1M220 10.5h1M241 10.5h1M307 10.5h1M355 10.5h1M473 10.5h1M482 10.5h1M496 10.5h1M519 10.5h1M543 10.5h1M555 10.5h1M636 10.5h1M644 10.5h1M657 10.5h1M688 10.5h1M692 10.5h1M754 10.5h1M767 10.5h1M789 10.5h2M82 11.5h1M93 11.5h1M127 11.5h1M130 11.5h1M154 11.5h1M162 11.5h1M164 11.5h1M179 11.5h1M198 11.5h1M211 11.5h1M220 11.5h1M270 11.5h1M293 11.5h1M299 11.5h1M304 11.5h1M324 11.5h1M337 11.5h1M379 11.5h1M401 11.5h1M411 11.5h1M413 11.5h1M425 11.5h2M448 11.5h1M457 11.5h1M538 11.5h1M547 11.5h1M627 11.5h1M688 11.5h1M697 11.5h1M706 11.5h1M717 11.5h1M724 11.5h1M781 11.5h1M117 12.5h1M122 12.5h1M155 12.5h1M160 12.5h1M164 12.5h1M181 12.5h1M204 12.5h1M265 12.5h1M290 12.5h1M325 12.5h1M346 12.5h1M378 12.5h1M439 12.5h1M466 12.5h1M484 12.5h1M514 12.5h1M518 12.5h1M533 12.5h1M612 12.5h1M659 12.5h1M678 12.5h1M789 12.5h1"/><path stroke="#004700" d="M146 0.5h1M185 0.5h1M237 0.5h1M242 0.5h1M250 0.5h1M278 0.5h1M327 0.5h1M382 0.5h1M392 0.5h1M455 0.5h1M476 0.5h1M534 0.5h1M663 0.5h1M723 0.5h1M749 0.5h1M774 0.5h1M781 0.5h1M82 1.5h1M165 1.5h1M216 1.5h1M231 1.5h1M270 1.5h1M295 1.5h1M305 1.5h1M315 1.5h1M368 1.5h1M391 1.5h1M415 1.5h1M440 1.5h1M449 1.5h1M522 1.5h1M551 1.5h1M593 1.5h1M597 1.5h2M613 1.5h1M616 1.5h1M627 1.5h1M661 1.5h1M665 1.5h1M82 2.5h1M87 2.5h1M123 2.5h1M153 2.5h1M161 2.5h1M165 2.5h1M182 2.5h1M186 2.5h1M210 2.5h1M241 2.5h1M307 2.5h1M324 2.5h1M341 2.5h2M366 2.5h1M386 2.5h1M411 2.5h1M441 2.5h1M465 2.5h1M514 2.5h1M520 2.5h1M574 2.5h1M593 2.5h1M615 2.5h1M627 2.5h1M652 2.5h1M690 2.5h1M700 2.5h1M717 2.5h1M719 2.5h1M752 2.5h1M100 3.5h2M103 3.5h1M122 3.5h1M147 3.5h1M159 3.5h1M164 3.5h1M207 3.5h1M212 3.5h1M245 3.5h1M266 3.5h1M272 3.5h1M286 3.5h1M294 3.5h1M321 3.5h1M324 3.5h1M345 3.5h1M365 3.5h1M408 3.5h1M420 3.5h1M443 3.5h1M504 3.5h1M520 3.5h1M550 3.5h1M558 3.5h1M570 3.5h1M616 3.5h1M627 3.5h1M637 3.5h1M660 3.5h1M694 3.5h1M705 3.5h1M709 3.5h1M784 3.5h1M793 3.5h1M224 4.5h1M245 4.5h1M265 4.5h1M294 4.5h1M308 4.5h1M375 4.5h1M384 4.5h1M389 4.5h1M399 4.5h1M428 4.5h1M442 4.5h1M446 4.5h1M457 4.5h1M459 4.5h1M466 4.5h1M473 4.5h1M479 4.5h1M485 4.5h2M547 4.5h1M564 4.5h1M566 4.5h1M592 4.5h1M603 4.5h1M613 4.5h1M642 4.5h1M650 4.5h1M654 4.5h2M666 4.5h1M684 4.5h1M703 4.5h1M739 4.5h1M748 4.5h1M751 4.5h1M754 4.5h1M770 4.5h1M120 5.5h1M122 5.5h1M153 5.5h1M214 5.5h1M227 5.5h1M234 5.5h1M252 5.5h1M258 5.5h1M352 5.5h1M383 5.5h1M404 5.5h1M406 5.5h1M420 5.5h1M437 5.5h1M456 5.5h1M461 5.5h1M499 5.5h1M536 5.5h1M571 5.5h1M584 5.5h1M666 5.5h1M684 5.5h1M691 5.5h1M714 5.5h1M766 5.5h1M780 5.5h1M787 5.5h2M79 6.5h1M87 6.5h1M89 6.5h2M98 6.5h1M137 6.5h1M164 6.5h2M183 6.5h1M188 6.5h1M237 6.5h1M249 6.5h1M251 6.5h1M266 6.5h1M270 6.5h1M295 6.5h1M298 6.5h1M302 6.5h1M364 6.5h1M371 6.5h1M378 6.5h1M393 6.5h1M435 6.5h1M441 6.5h1M445 6.5h1M486 6.5h1M491 6.5h2M499 6.5h1M513 6.5h1M529 6.5h1M533 6.5h1M536 6.5h1M555 6.5h1M568 6.5h1M571 6.5h2M616 6.5h1M622 6.5h1M675 6.5h1M679 6.5h1M707 6.5h1M723 6.5h1M737 6.5h1M752 6.5h1M84 7.5h1M86 7.5h1M106 7.5h1M110 7.5h1M137 7.5h1M139 7.5h1M162 7.5h1M178 7.5h1M293 7.5h1M298 7.5h1M301 7.5h1M320 7.5h1M331 7.5h1M345 7.5h1M355 7.5h1M417 7.5h1M425 7.5h1M442 7.5h1M473 7.5h1M476 7.5h1M506 7.5h1M535 7.5h1M546 7.5h1M552 7.5h1M615 7.5h1M646 7.5h1M657 7.5h1M664 7.5h1M690 7.5h1M698 7.5h3M705 7.5h1M745 7.5h1M96 8.5h1M98 8.5h1M128 8.5h1M142 8.5h1M170 8.5h1M218 8.5h1M224 8.5h1M288 8.5h2M298 8.5h1M326 8.5h1M370 8.5h2M375 8.5h1M408 8.5h1M414 8.5h1M429 8.5h1M503 8.5h1M515 8.5h1M547 8.5h1M566 8.5h1M637 8.5h1M659 8.5h1M669 8.5h2M697 8.5h1M740 8.5h1M764 8.5h1M781 8.5h2M787 8.5h1M94 9.5h1M104 9.5h1M156 9.5h1M209 9.5h1M223 9.5h1M239 9.5h1M244 9.5h1M253 9.5h1M281 9.5h1M291 9.5h1M344 9.5h1M415 9.5h1M417 9.5h1M419 9.5h1M433 9.5h1M452 9.5h1M462 9.5h1M474 9.5h1M493 9.5h1M543 9.5h1M557 9.5h1M560 9.5h1M565 9.5h1M575 9.5h1M580 9.5h1M589 9.5h1M602 9.5h1M606 9.5h1M615 9.5h1M683 9.5h1M700 9.5h1M727 9.5h1M763 9.5h1M770 9.5h1M774 9.5h1M78 10.5h1M94 10.5h1M131 10.5h1M159 10.5h1M209 10.5h1M214 10.5h1M255 10.5h1M282 10.5h1M285 10.5h1M335 10.5h1M337 10.5h1M362 10.5h1M461 10.5h1M507 10.5h1M513 10.5h1M557 10.5h1M570 10.5h1M578 10.5h1M580 10.5h1M606 10.5h1M626 10.5h1M645 10.5h1M675 10.5h1M707 10.5h1M716 10.5h1M733 10.5h1M89 11.5h1M92 11.5h1M101 11.5h2M177 11.5h1M223 11.5h1M244 11.5h1M265 11.5h1M283 11.5h1M303 11.5h1M311 11.5h1M319 11.5h1M329 11.5h1M332 11.5h1M341 11.5h1M346 11.5h1M352 11.5h1M398 11.5h1M404 11.5h1M429 11.5h1M438 11.5h1M468 11.5h1M497 11.5h1M516 11.5h2M524 11.5h1M578 11.5h1M582 11.5h1M588 11.5h1M614 11.5h2M639 11.5h1M669 11.5h1M703 11.5h1M796 11.5h1M798 11.5h1M77 12.5h1M91 12.5h1M104 12.5h1M119 12.5h1M124 12.5h1M126 12.5h1M128 12.5h1M275 12.5h1M312 12.5h1M326 12.5h1M334 12.5h1M345 12.5h1M352 12.5h1M449 12.5h1M487 12.5h1M510 12.5h2M528 12.5h1M539 12.5h2M594 12.5h1M617 12.5h1M620 12.5h1M623 12.5h1M625 12.5h1M629 12.5h1M642 12.5h1M658 12.5h1M671 12.5h1M727 12.5h1M735 12.5h1M760 12.5h1M782 12.5h1"/><path stroke="#003d00" d="M79 0.5h1M132 0.5h1M148 0.5h1M169 0.5h1M173 0.5h1M217 0.5h1M238 0.5h1M251 0.5h1M258 0.5h1M277 0.5h1M322 0.5h1M346 0.5h1M399 0.5h1M404 0.5h1M461 0.5h1M469 0.5h1M472 0.5h1M479 0.5h1M555 0.5h1M577 0.5h1M588 0.5h1M592 0.5h2M627 0.5h1M648 0.5h1M701 0.5h1M704 0.5h1M752 0.5h1M769 0.5h2M772 0.5h1M126 1.5h1M211 1.5h1M232 1.5h2M237 1.5h2M258 1.5h1M374 1.5h1M399 1.5h1M404 1.5h1M408 1.5h1M413 1.5h1M443 1.5h1M462 1.5h1M467 1.5h1M532 1.5h1M536 1.5h1M541 1.5h1M547 1.5h1M566 1.5h1M568 1.5h1M588 1.5h1M674 1.5h1M740 1.5h1M751 1.5h1M770 1.5h1M777 1.5h1M780 1.5h1M81 2.5h1M101 2.5h1M115 2.5h1M164 2.5h1M181 2.5h1M204 2.5h1M212 2.5h1M219 2.5h1M237 2.5h2M244 2.5h1M262 2.5h1M276 2.5h1M280 2.5h1M287 2.5h1M297 2.5h1M358 2.5h1M388 2.5h1M409 2.5h1M425 2.5h1M476 2.5h2M487 2.5h1M499 2.5h1M570 2.5h1M575 2.5h1M584 2.5h1M600 2.5h1M610 2.5h1M616 2.5h1M621 2.5h1M625 2.5h1M628 2.5h1M632 2.5h1M670 2.5h1M679 2.5h1M695 2.5h1M745 2.5h1M758 2.5h1M795 2.5h1M123 3.5h1M130 3.5h1M136 3.5h1M146 3.5h1M179 3.5h1M182 3.5h1M186 3.5h1M199 3.5h1M204 3.5h1M228 3.5h1M236 3.5h1M238 3.5h1M287 3.5h1M339 3.5h1M342 3.5h1M358 3.5h1M367 3.5h1M370 3.5h1M372 3.5h1M397 3.5h1M409 3.5h1M411 3.5h1M463 3.5h1M475 3.5h1M499 3.5h1M510 3.5h1M525 3.5h1M556 3.5h1M576 3.5h2M592 3.5h1M652 3.5h1M690 3.5h2M695 3.5h1M700 3.5h1M724 3.5h1M728 3.5h1M732 3.5h1M746 3.5h1M781 3.5h1M117 4.5h1M136 4.5h1M147 4.5h1M195 4.5h1M201 4.5h1M223 4.5h1M239 4.5h1M261 4.5h1M287 4.5h1M327 4.5h1M370 4.5h1M406 4.5h1M409 4.5h1M453 4.5h1M483 4.5h1M503 4.5h1M519 4.5h1M533 4.5h1M544 4.5h1M557 4.5h1M572 4.5h1M591 4.5h1M597 4.5h1M607 4.5h1M624 4.5h1M643 4.5h1M669 4.5h1M693 4.5h1M700 4.5h1M708 4.5h1M718 4.5h1M728 4.5h1M731 4.5h1M734 4.5h1M737 4.5h2M744 4.5h1M763 4.5h1M776 4.5h1M793 4.5h1M89 5.5h1M97 5.5h1M121 5.5h1M123 5.5h1M154 5.5h1M163 5.5h1M172 5.5h1M211 5.5h1M235 5.5h1M265 5.5h1M287 5.5h1M300 5.5h1M327 5.5h1M353 5.5h1M374 5.5h1M430 5.5h1M448 5.5h1M470 5.5h1M507 5.5h1M543 5.5h1M552 5.5h1M555 5.5h1M560 5.5h1M576 5.5h1M595 5.5h1M611 5.5h1M627 5.5h1M668 5.5h1M723 5.5h1M781 5.5h1M96 6.5h1M105 6.5h1M123 6.5h1M135 6.5h1M152 6.5h1M230 6.5h1M236 6.5h1M247 6.5h1M260 6.5h1M277 6.5h1M287 6.5h1M341 6.5h1M352 6.5h1M360 6.5h1M400 6.5h1M409 6.5h1M419 6.5h1M448 6.5h1M480 6.5h1M487 6.5h1M574 6.5h1M585 6.5h1M598 6.5h1M647 6.5h1M720 6.5h2M739 6.5h1M746 6.5h1M764 6.5h1M770 6.5h1M792 6.5h1M79 7.5h1M103 7.5h1M122 7.5h1M205 7.5h1M221 7.5h1M236 7.5h1M268 7.5h1M274 7.5h1M294 7.5h1M332 7.5h1M350 7.5h1M357 7.5h1M381 7.5h2M386 7.5h1M393 7.5h1M397 7.5h1M429 7.5h1M460 7.5h1M496 7.5h1M498 7.5h1M547 7.5h1M584 7.5h1M667 7.5h1M670 7.5h1M684 7.5h1M688 7.5h2M709 7.5h1M721 7.5h1M746 7.5h1M756 7.5h1M790 7.5h1M77 8.5h1M94 8.5h1M106 8.5h1M111 8.5h1M125 8.5h1M136 8.5h2M220 8.5h1M234 8.5h1M257 8.5h1M280 8.5h1M297 8.5h1M299 8.5h1M308 8.5h1M310 8.5h1M329 8.5h1M345 8.5h1M355 8.5h1M381 8.5h1M423 8.5h1M471 8.5h1M482 8.5h1M486 8.5h1M496 8.5h1M507 8.5h1M530 8.5h1M537 8.5h1M575 8.5h1M584 8.5h1M590 8.5h1M598 8.5h1M605 8.5h1M655 8.5h1M667 8.5h1M675 8.5h1M719 8.5h1M733 8.5h1M735 8.5h1M760 8.5h1M780 8.5h1M99 9.5h1M102 9.5h1M118 9.5h1M121 9.5h1M151 9.5h1M161 9.5h1M164 9.5h1M187 9.5h2M200 9.5h1M220 9.5h1M230 9.5h1M250 9.5h1M328 9.5h2M371 9.5h1M398 9.5h1M407 9.5h1M468 9.5h1M482 9.5h1M508 9.5h1M513 9.5h1M515 9.5h1M517 9.5h1M526 9.5h1M531 9.5h1M536 9.5h1M546 9.5h1M578 9.5h1M603 9.5h1M605 9.5h1M660 9.5h1M670 9.5h1M709 9.5h1M729 9.5h1M736 9.5h1M740 9.5h1M757 9.5h1M769 9.5h1M90 10.5h1M92 10.5h1M98 10.5h1M110 10.5h1M113 10.5h1M138 10.5h1M250 10.5h1M275 10.5h1M298 10.5h1M332 10.5h1M338 10.5h1M369 10.5h1M436 10.5h1M469 10.5h1M477 10.5h1M489 10.5h1M493 10.5h1M520 10.5h1M524 10.5h1M617 10.5h2M655 10.5h2M736 10.5h1M746 10.5h1M787 10.5h1M77 11.5h1M88 11.5h1M109 11.5h1M124 11.5h1M149 11.5h1M171 11.5h1M191 11.5h1M201 11.5h1M221 11.5h1M258 11.5h1M268 11.5h1M281 11.5h1M284 11.5h1M310 11.5h1M316 11.5h1M325 11.5h1M355 11.5h1M416 11.5h1M424 11.5h1M447 11.5h1M449 11.5h1M554 11.5h1M570 11.5h1M596 11.5h1M610 11.5h1M664 11.5h1M685 11.5h1M725 11.5h1M776 11.5h1M783 11.5h1M797 11.5h1M105 12.5h1M111 12.5h1M137 12.5h1M157 12.5h1M165 12.5h1M191 12.5h1M242 12.5h1M255 12.5h1M277 12.5h1M288 12.5h1M303 12.5h1M316 12.5h1M320 12.5h1M351 12.5h1M356 12.5h1M396 12.5h1M433 12.5h1M441 12.5h1M445 12.5h1M456 12.5h1M496 12.5h1M517 12.5h1M527 12.5h1M537 12.5h1M555 12.5h1M587 12.5h1M621 12.5h1M636 12.5h1M774 12.5h1M777 12.5h1"/><path stroke="#003300" d="M81 0.5h1M99 0.5h1M152 0.5h1M157 0.5h1M186 0.5h1M188 0.5h1M200 0.5h1M255 0.5h1M306 0.5h1M321 0.5h1M357 0.5h1M365 0.5h1M410 0.5h2M413 0.5h1M440 0.5h1M547 0.5h1M563 0.5h1M573 0.5h1M591 0.5h1M652 0.5h1M659 0.5h1M683 0.5h1M690 0.5h1M780 0.5h1M88 1.5h1M120 1.5h1M128 1.5h1M173 1.5h1M225 1.5h1M241 1.5h1M249 1.5h1M296 1.5h1M331 1.5h1M385 1.5h1M406 1.5h1M410 1.5h1M422 1.5h1M424 1.5h1M438 1.5h1M473 1.5h1M508 1.5h1M513 1.5h1M518 1.5h1M535 1.5h1M590 1.5h1M683 1.5h1M712 1.5h1M716 1.5h1M763 1.5h1M769 1.5h1M779 1.5h1M93 2.5h1M106 2.5h1M131 2.5h1M169 2.5h1M179 2.5h1M183 2.5h1M187 2.5h1M236 2.5h1M245 2.5h1M266 2.5h1M321 2.5h1M323 2.5h1M325 2.5h1M339 2.5h2M346 2.5h2M367 2.5h1M370 2.5h1M377 2.5h2M385 2.5h1M391 2.5h1M397 2.5h1M399 2.5h1M451 2.5h1M463 2.5h1M470 2.5h1M504 2.5h1M517 2.5h1M541 2.5h1M602 2.5h1M626 2.5h1M648 2.5h1M653 2.5h1M657 2.5h1M664 2.5h1M675 2.5h1M704 2.5h1M732 2.5h1M746 2.5h1M764 2.5h1M781 2.5h1M77 3.5h1M85 3.5h1M94 3.5h1M106 3.5h1M114 3.5h1M165 3.5h1M181 3.5h1M191 3.5h1M208 3.5h1M218 3.5h1M232 3.5h1M262 3.5h1M340 3.5h1M377 3.5h2M388 3.5h1M441 3.5h1M451 3.5h1M476 3.5h1M514 3.5h1M540 3.5h1M583 3.5h1M588 3.5h1M593 3.5h1M602 3.5h1M618 3.5h1M656 3.5h1M664 3.5h1M675 3.5h1M698 3.5h1M753 3.5h1M770 3.5h1M776 3.5h1M795 3.5h1M85 4.5h1M103 4.5h1M129 4.5h1M150 4.5h1M191 4.5h1M211 4.5h1M218 4.5h1M258 4.5h1M282 4.5h1M332 4.5h1M346 4.5h2M351 4.5h1M379 4.5h1M394 4.5h1M405 4.5h1M443 4.5h1M465 4.5h1M492 4.5h1M496 4.5h1M507 4.5h1M515 4.5h1M609 4.5h1M628 4.5h1M649 4.5h1M671 4.5h1M679 4.5h1M696 4.5h1M699 4.5h1M741 4.5h1M745 4.5h1M750 4.5h1M757 4.5h1M777 4.5h1M76 5.5h2M87 5.5h1M112 5.5h1M131 5.5h2M175 5.5h1M200 5.5h1M216 5.5h1M249 5.5h1M251 5.5h1M259 5.5h1M268 5.5h1M274 5.5h1M303 5.5h1M315 5.5h1M330 5.5h1M388 5.5h1M396 5.5h1M401 5.5h1M433 5.5h1M435 5.5h1M438 5.5h1M452 5.5h1M455 5.5h1M480 5.5h1M493 5.5h1M518 5.5h1M597 5.5h1M631 5.5h1M633 5.5h1M641 5.5h1M649 5.5h1M654 5.5h2M661 5.5h1M717 5.5h1M732 5.5h1M739 5.5h1M748 5.5h1M753 5.5h1M757 5.5h1M775 5.5h1M778 5.5h1M784 5.5h1M127 6.5h1M233 6.5h1M291 6.5h1M347 6.5h1M350 6.5h1M374 6.5h1M386 6.5h1M424 6.5h1M483 6.5h1M517 6.5h1M523 6.5h1M635 6.5h1M653 6.5h1M673 6.5h1M683 6.5h1M715 6.5h1M727 6.5h1M732 6.5h1M775 6.5h2M77 7.5h1M90 7.5h1M93 7.5h1M123 7.5h1M144 7.5h1M149 7.5h1M190 7.5h1M291 7.5h1M310 7.5h1M312 7.5h1M338 7.5h1M366 7.5h1M376 7.5h1M396 7.5h1M405 7.5h2M416 7.5h1M423 7.5h1M507 7.5h1M515 7.5h1M528 7.5h1M556 7.5h1M576 7.5h1M583 7.5h1M602 7.5h1M637 7.5h1M717 7.5h1M738 7.5h1M753 7.5h1M112 8.5h1M120 8.5h1M174 8.5h1M190 8.5h1M256 8.5h1M268 8.5h1M274 8.5h1M327 8.5h1M338 8.5h1M398 8.5h1M412 8.5h1M440 8.5h1M460 8.5h1M473 8.5h1M484 8.5h1M487 8.5h1M524 8.5h1M528 8.5h1M576 8.5h1M609 8.5h1M615 8.5h1M638 8.5h1M646 8.5h1M664 8.5h1M672 8.5h1M684 8.5h1M688 8.5h1M694 8.5h1M705 8.5h1M711 8.5h1M727 8.5h1M747 8.5h1M790 8.5h1M796 8.5h1M81 9.5h1M91 9.5h1M105 9.5h1M107 9.5h1M109 9.5h1M116 9.5h2M126 9.5h1M136 9.5h1M142 9.5h1M177 9.5h1M222 9.5h1M260 9.5h1M265 9.5h1M303 9.5h1M330 9.5h1M336 9.5h1M341 9.5h1M350 9.5h1M378 9.5h1M393 9.5h1M414 9.5h1M423 9.5h1M441 9.5h1M443 9.5h1M448 9.5h1M456 9.5h1M459 9.5h1M469 9.5h1M532 9.5h1M539 9.5h1M561 9.5h1M570 9.5h1M667 9.5h1M728 9.5h1M756 9.5h1M765 9.5h1M794 9.5h2M108 10.5h1M160 10.5h1M168 10.5h1M177 10.5h1M188 10.5h1M217 10.5h1M264 10.5h1M277 10.5h1M287 10.5h1M305 10.5h1M330 10.5h1M341 10.5h1M374 10.5h1M420 10.5h1M424 10.5h1M432 10.5h1M452 10.5h1M456 10.5h1M471 10.5h1M492 10.5h1M534 10.5h1M545 10.5h1M593 10.5h1M600 10.5h1M633 10.5h1M637 10.5h1M651 10.5h1M660 10.5h2M720 10.5h1M728 10.5h1M742 10.5h1M752 10.5h1M776 10.5h1M78 11.5h1M97 11.5h1M111 11.5h1M121 11.5h1M137 11.5h1M181 11.5h1M187 11.5h1M189 11.5h1M212 11.5h1M226 11.5h1M243 11.5h1M309 11.5h1M313 11.5h1M318 11.5h1M335 11.5h1M397 11.5h1M408 11.5h1M412 11.5h1M481 11.5h1M491 11.5h1M508 11.5h1M541 11.5h1M546 11.5h1M557 11.5h1M584 11.5h1M591 11.5h1M722 11.5h1M742 11.5h1M81 12.5h1M99 12.5h1M101 12.5h1M123 12.5h1M129 12.5h1M134 12.5h1M158 12.5h1M192 12.5h2M218 12.5h1M244 12.5h1M249 12.5h1M285 12.5h1M287 12.5h1M289 12.5h1M296 12.5h1M333 12.5h1M357 12.5h1M360 12.5h1M388 12.5h1M416 12.5h1M486 12.5h1M492 12.5h1M556 12.5h1M578 12.5h1M582 12.5h2M585 12.5h1M605 12.5h1M619 12.5h1M641 12.5h1M648 12.5h1M650 12.5h1M720 12.5h1M755 12.5h2M795 12.5h1"/><path stroke="#002900" d="M83 0.5h1M89 0.5h1M128 0.5h1M144 0.5h1M171 0.5h1M196 0.5h1M221 0.5h1M232 0.5h1M241 0.5h1M249 0.5h1M270 0.5h1M275 0.5h1M281 0.5h1M291 0.5h1M314 0.5h2M340 0.5h1M391 0.5h1M408 0.5h1M427 0.5h1M462 0.5h1M504 0.5h1M511 0.5h1M522 0.5h1M526 0.5h1M537 0.5h1M568 0.5h1M575 0.5h1M586 0.5h1M617 0.5h1M620 0.5h2M672 0.5h1M688 0.5h1M738 0.5h1M751 0.5h1M759 0.5h2M80 1.5h1M89 1.5h1M142 1.5h1M157 1.5h1M177 1.5h1M185 1.5h1M230 1.5h1M242 1.5h1M251 1.5h1M254 1.5h1M281 1.5h1M284 1.5h1M322 1.5h1M350 1.5h1M363 1.5h1M372 1.5h1M427 1.5h1M456 1.5h1M464 1.5h1M575 1.5h1M592 1.5h1M595 1.5h1M641 1.5h1M660 1.5h1M702 1.5h1M728 1.5h1M760 1.5h2M795 1.5h1M188 2.5h1M191 2.5h1M201 2.5h1M208 2.5h1M215 2.5h2M273 2.5h1M288 2.5h1M294 2.5h1M312 2.5h1M365 2.5h1M474 2.5h1M483 2.5h1M489 2.5h2M527 2.5h1M542 2.5h1M549 2.5h2M556 2.5h1M577 2.5h1M588 2.5h1M613 2.5h2M633 2.5h1M655 2.5h1M662 2.5h1M673 2.5h1M685 2.5h1M702 2.5h1M723 2.5h2M728 2.5h1M755 2.5h1M757 2.5h1M762 2.5h1M780 2.5h1M797 2.5h1M87 3.5h1M121 3.5h1M153 3.5h1M210 3.5h1M219 3.5h2M224 3.5h1M241 3.5h1M250 3.5h1M264 3.5h1M273 3.5h1M288 3.5h1M293 3.5h1M306 3.5h1M328 3.5h1M399 3.5h1M426 3.5h1M490 3.5h1M517 3.5h1M522 3.5h1M528 3.5h1M541 3.5h1M574 3.5h1M598 3.5h1M623 3.5h1M626 3.5h1M628 3.5h1M630 3.5h1M634 3.5h1M648 3.5h1M673 3.5h1M687 3.5h1M702 3.5h1M704 3.5h1M798 3.5h1M80 4.5h1M90 4.5h1M107 4.5h1M130 4.5h1M139 4.5h1M158 4.5h1M204 4.5h1M214 4.5h1M230 4.5h2M257 4.5h1M269 4.5h1M276 4.5h1M289 4.5h1M299 4.5h1M326 4.5h1M378 4.5h1M393 4.5h1M396 4.5h1M422 4.5h1M474 4.5h1M480 4.5h1M512 4.5h1M524 4.5h1M530 4.5h1M558 4.5h1M567 4.5h1M605 4.5h1M614 4.5h1M632 4.5h1M674 4.5h1M711 4.5h1M722 4.5h2M782 4.5h1M93 5.5h1M96 5.5h1M136 5.5h1M147 5.5h2M169 5.5h1M186 5.5h1M218 5.5h1M231 5.5h1M288 5.5h1M319 5.5h1M325 5.5h1M348 5.5h1M351 5.5h1M356 5.5h1M434 5.5h1M462 5.5h1M485 5.5h1M489 5.5h1M516 5.5h1M519 5.5h1M610 5.5h1M628 5.5h1M665 5.5h1M667 5.5h1M695 5.5h1M704 5.5h1M710 5.5h1M719 5.5h1M722 5.5h1M725 5.5h1M729 5.5h1M770 5.5h1M799 5.5h1M106 6.5h1M119 6.5h1M121 6.5h1M145 6.5h1M148 6.5h1M160 6.5h1M172 6.5h1M192 6.5h1M206 6.5h1M208 6.5h1M219 6.5h1M245 6.5h1M283 6.5h1M299 6.5h1M338 6.5h1M376 6.5h1M385 6.5h1M387 6.5h1M406 6.5h1M433 6.5h1M449 6.5h2M453 6.5h1M456 6.5h1M463 6.5h1M473 6.5h1M496 6.5h1M535 6.5h1M578 6.5h2M591 6.5h1M601 6.5h1M605 6.5h1M629 6.5h1M637 6.5h1M644 6.5h1M668 6.5h1M674 6.5h1M680 6.5h1M688 6.5h1M703 6.5h1M747 6.5h1M794 6.5h1M76 7.5h1M85 7.5h1M91 7.5h1M94 7.5h1M117 7.5h1M127 7.5h1M142 7.5h1M176 7.5h2M192 7.5h1M211 7.5h1M227 7.5h1M262 7.5h1M264 7.5h1M267 7.5h1M280 7.5h1M288 7.5h1M308 7.5h1M330 7.5h1M383 7.5h1M440 7.5h1M451 7.5h2M459 7.5h1M468 7.5h1M470 7.5h1M487 7.5h1M504 7.5h1M518 7.5h1M524 7.5h1M541 7.5h1M558 7.5h1M566 7.5h1M572 7.5h1M579 7.5h1M586 7.5h1M603 7.5h1M681 7.5h1M710 7.5h2M727 7.5h1M770 7.5h1M796 7.5h1M76 8.5h1M90 8.5h2M133 8.5h1M147 8.5h1M175 8.5h1M177 8.5h1M195 8.5h2M209 8.5h1M213 8.5h1M222 8.5h1M267 8.5h1M273 8.5h1M284 8.5h1M300 8.5h1M330 8.5h1M332 8.5h1M346 8.5h1M366 8.5h1M376 8.5h1M384 8.5h1M386 8.5h1M405 8.5h1M417 8.5h1M451 8.5h1M468 8.5h1M470 8.5h1M476 8.5h1M504 8.5h1M508 8.5h1M518 8.5h1M557 8.5h1M571 8.5h1M614 8.5h1M620 8.5h1M627 8.5h1M700 8.5h1M708 8.5h1M712 8.5h1M717 8.5h1M722 8.5h1M738 8.5h1M746 8.5h1M756 8.5h1M767 8.5h1M777 8.5h1M784 8.5h1M76 9.5h1M146 9.5h1M163 9.5h1M176 9.5h1M207 9.5h1M214 9.5h1M225 9.5h1M276 9.5h1M304 9.5h1M332 9.5h1M335 9.5h1M337 9.5h1M340 9.5h1M343 9.5h1M365 9.5h1M384 9.5h1M406 9.5h1M416 9.5h1M432 9.5h1M449 9.5h1M466 9.5h1M472 9.5h1M506 9.5h1M533 9.5h1M537 9.5h2M564 9.5h1M584 9.5h1M604 9.5h1M611 9.5h1M647 9.5h1M689 9.5h1M697 9.5h1M705 9.5h1M716 9.5h1M759 9.5h1M762 9.5h1M767 9.5h1M115 10.5h1M162 10.5h1M194 10.5h2M198 10.5h1M215 10.5h1M235 10.5h1M253 10.5h1M270 10.5h1M281 10.5h1M304 10.5h1M323 10.5h1M329 10.5h1M343 10.5h1M373 10.5h1M404 10.5h1M434 10.5h1M442 10.5h1M449 10.5h1M467 10.5h1M491 10.5h1M501 10.5h1M532 10.5h1M538 10.5h1M575 10.5h1M587 10.5h1M595 10.5h1M602 10.5h1M604 10.5h1M634 10.5h1M642 10.5h1M648 10.5h1M672 10.5h1M681 10.5h1M709 10.5h4M738 10.5h1M769 10.5h1M774 10.5h1M114 11.5h1M146 11.5h1M182 11.5h2M204 11.5h1M222 11.5h1M273 11.5h1M294 11.5h1M296 11.5h1M298 11.5h1M348 11.5h1M392 11.5h1M410 11.5h1M443 11.5h1M461 11.5h1M467 11.5h1M473 11.5h1M532 11.5h2M555 11.5h1M568 11.5h1M593 11.5h1M656 11.5h1M670 11.5h1M718 11.5h1M756 11.5h1M112 12.5h1M148 12.5h1M167 12.5h1M170 12.5h1M235 12.5h1M243 12.5h1M276 12.5h1M306 12.5h1M319 12.5h1M338 12.5h1M364 12.5h1M372 12.5h1M409 12.5h1M460 12.5h1M465 12.5h1M469 12.5h1M476 12.5h1M478 12.5h1M507 12.5h1M547 12.5h1M552 12.5h1M559 12.5h1M568 12.5h1M572 12.5h1M589 12.5h1M596 12.5h1M628 12.5h1M647 12.5h1M675 12.5h1M690 12.5h1M713 12.5h1M748 12.5h1M788 12.5h1M796 12.5h1"/><path stroke="#001f00" d="M84 0.5h1M90 0.5h1M97 0.5h1M111 0.5h1M165 0.5h1M222 0.5h1M246 0.5h1M271 0.5h1M273 0.5h1M279 0.5h1M300 0.5h1M305 0.5h1M352 0.5h1M362 0.5h1M387 0.5h1M397 0.5h1M422 0.5h1M435 0.5h1M449 0.5h1M474 0.5h1M514 0.5h1M518 0.5h1M611 0.5h1M674 0.5h1M691 0.5h1M728 0.5h1M737 0.5h1M740 0.5h1M793 0.5h1M85 1.5h1M90 1.5h1M112 1.5h2M148 1.5h1M166 1.5h1M179 1.5h1M212 1.5h1M221 1.5h2M277 1.5h1M300 1.5h1M340 1.5h1M397 1.5h1M479 1.5h1M483 1.5h1M496 1.5h1M501 1.5h1M504 1.5h2M511 1.5h1M529 1.5h1M573 1.5h1M624 1.5h1M646 1.5h2M701 1.5h1M713 1.5h1M723 1.5h1M734 1.5h1M738 1.5h1M759 1.5h1M765 1.5h1M774 1.5h1M781 1.5h1M793 1.5h1M77 2.5h1M91 2.5h1M100 2.5h1M109 2.5h1M158 2.5h1M174 2.5h1M235 2.5h1M250 2.5h1M306 2.5h1M361 2.5h1M413 2.5h1M426 2.5h1M457 2.5h1M511 2.5h1M516 2.5h1M521 2.5h1M565 2.5h1M578 2.5h1M586 2.5h1M623 2.5h1M634 2.5h1M637 2.5h1M639 2.5h1M656 2.5h1M663 2.5h1M666 2.5h1M691 2.5h1M694 2.5h1M696 2.5h1M712 2.5h1M720 2.5h1M120 3.5h1M138 3.5h1M297 3.5h1M323 3.5h1M347 3.5h1M385 3.5h1M410 3.5h1M457 3.5h1M470 3.5h1M516 3.5h1M549 3.5h1M555 3.5h1M563 3.5h1M565 3.5h2M578 3.5h1M613 3.5h1M633 3.5h1M639 3.5h1M641 3.5h1M644 3.5h1M666 3.5h1M671 3.5h1M679 3.5h1M696 3.5h1M712 3.5h1M717 3.5h1M757 3.5h1M764 3.5h1M777 3.5h1M796 3.5h2M110 4.5h1M124 4.5h2M140 4.5h1M166 4.5h1M172 4.5h1M229 4.5h1M238 4.5h1M264 4.5h1M302 4.5h1M307 4.5h1M315 4.5h1M328 4.5h1M430 4.5h1M432 4.5h1M468 4.5h1M475 4.5h1M522 4.5h1M626 4.5h1M637 4.5h1M647 4.5h1M716 4.5h1M729 4.5h1M779 4.5h1M787 4.5h1M83 5.5h1M164 5.5h1M195 5.5h1M232 5.5h1M241 5.5h1M254 5.5h1M272 5.5h1M331 5.5h1M338 5.5h1M344 5.5h1M398 5.5h1M405 5.5h1M464 5.5h1M501 5.5h1M504 5.5h2M514 5.5h1M523 5.5h1M541 5.5h1M574 5.5h1M602 5.5h1M607 5.5h1M624 5.5h1M630 5.5h1M708 5.5h1M767 5.5h1M798 5.5h1M112 6.5h1M128 6.5h1M133 6.5h1M138 6.5h1M141 6.5h1M149 6.5h1M166 6.5h1M181 6.5h1M207 6.5h1M212 6.5h1M234 6.5h1M265 6.5h1M296 6.5h1M312 6.5h1M343 6.5h1M351 6.5h1M434 6.5h1M470 6.5h1M489 6.5h1M503 6.5h1M528 6.5h1M534 6.5h1M553 6.5h1M556 6.5h1M602 6.5h1M640 6.5h1M645 6.5h1M649 6.5h1M654 6.5h2M672 6.5h1M712 6.5h1M718 6.5h1M726 6.5h1M744 6.5h1M756 6.5h1M759 6.5h1M769 6.5h1M783 6.5h1M96 7.5h1M130 7.5h1M155 7.5h1M171 7.5h1M186 7.5h1M188 7.5h1M213 7.5h1M219 7.5h1M222 7.5h1M240 7.5h1M265 7.5h1M286 7.5h1M300 7.5h1M304 7.5h1M315 7.5h1M327 7.5h1M346 7.5h1M412 7.5h1M480 7.5h1M486 7.5h1M505 7.5h1M540 7.5h1M578 7.5h1M633 7.5h1M672 7.5h1M712 7.5h1M719 7.5h1M722 7.5h1M728 7.5h1M744 7.5h1M773 7.5h1M780 7.5h1M110 8.5h1M119 8.5h1M130 8.5h1M159 8.5h1M162 8.5h1M205 8.5h1M221 8.5h1M227 8.5h1M262 8.5h1M265 8.5h1M293 8.5h1M301 8.5h1M313 8.5h1M319 8.5h1M365 8.5h1M369 8.5h1M383 8.5h1M385 8.5h1M419 8.5h1M433 8.5h1M462 8.5h1M490 8.5h1M499 8.5h1M505 8.5h1M546 8.5h1M633 8.5h1M642 8.5h1M649 8.5h1M661 8.5h1M699 8.5h1M710 8.5h1M718 8.5h1M744 8.5h1M769 8.5h1M778 8.5h1M785 8.5h1M77 9.5h1M86 9.5h1M90 9.5h1M106 9.5h1M150 9.5h1M158 9.5h1M186 9.5h1M204 9.5h1M216 9.5h1M238 9.5h1M263 9.5h1M274 9.5h1M320 9.5h1M352 9.5h1M385 9.5h1M501 9.5h1M516 9.5h1M549 9.5h1M590 9.5h1M601 9.5h1M608 9.5h1M616 9.5h1M621 9.5h1M624 9.5h1M631 9.5h1M658 9.5h1M661 9.5h1M692 9.5h1M704 9.5h1M711 9.5h1M715 9.5h1M717 9.5h1M726 9.5h1M737 9.5h1M764 9.5h1M768 9.5h1M776 9.5h1M778 9.5h1M782 9.5h1M99 10.5h1M116 10.5h1M125 10.5h1M135 10.5h1M151 10.5h1M176 10.5h1M180 10.5h1M224 10.5h1M239 10.5h1M265 10.5h1M301 10.5h1M316 10.5h1M328 10.5h1M359 10.5h1M375 10.5h1M403 10.5h1M412 10.5h1M455 10.5h1M459 10.5h2M490 10.5h1M494 10.5h1M498 10.5h1M539 10.5h2M553 10.5h1M559 10.5h1M596 10.5h1M607 10.5h1M616 10.5h1M654 10.5h1M673 10.5h1M678 10.5h1M680 10.5h1M682 10.5h1M696 10.5h1M699 10.5h1M723 10.5h1M751 10.5h1M786 10.5h1M79 11.5h1M132 11.5h1M140 11.5h1M157 11.5h1M167 11.5h1M197 11.5h1M225 11.5h1M229 11.5h1M241 11.5h1M315 11.5h1M350 11.5h1M373 11.5h1M380 11.5h1M386 11.5h1M442 11.5h1M470 11.5h1M484 11.5h1M494 11.5h1M573 11.5h1M579 11.5h1M600 11.5h1M605 11.5h1M630 11.5h1M667 11.5h1M676 11.5h1M681 11.5h1M695 11.5h1M738 11.5h1M751 11.5h1M773 11.5h1M82 12.5h1M118 12.5h1M135 12.5h1M178 12.5h2M253 12.5h1M281 12.5h1M295 12.5h1M298 12.5h1M355 12.5h1M359 12.5h1M390 12.5h1M394 12.5h2M442 12.5h1M462 12.5h1M490 12.5h1M506 12.5h1M524 12.5h1M526 12.5h1M553 12.5h1M560 12.5h1M590 12.5h2M618 12.5h1M698 12.5h1M728 12.5h1M739 12.5h1"/><path stroke="#001400" d="M154 0.5h1M207 0.5h1M218 0.5h1M284 0.5h1M312 0.5h1M325 0.5h1M342 0.5h1M353 0.5h1M383 0.5h1M424 0.5h1M429 0.5h1M458 0.5h1M460 0.5h1M470 0.5h1M505 0.5h1M512 0.5h1M590 0.5h1M631 0.5h1M721 0.5h1M727 0.5h1M765 0.5h1M79 1.5h1M170 1.5h1M252 1.5h1M255 1.5h1M271 1.5h1M285 1.5h1M306 1.5h1M346 1.5h1M353 1.5h1M360 1.5h1M370 1.5h1M398 1.5h1M472 1.5h1M474 1.5h1M488 1.5h1M494 1.5h1M565 1.5h1M586 1.5h1M609 1.5h1M691 1.5h1M727 1.5h1M731 1.5h1M737 1.5h1M85 2.5h1M103 2.5h1M120 2.5h1M122 2.5h1M124 2.5h1M132 2.5h1M138 2.5h1M147 2.5h1M283 2.5h1M336 2.5h1M446 2.5h1M561 2.5h1M566 2.5h1M618 2.5h1M740 2.5h1M747 2.5h1M753 2.5h1M777 2.5h1M83 3.5h1M132 3.5h1M158 3.5h1M174 3.5h1M201 3.5h1M213 3.5h1M216 3.5h1M226 3.5h1M291 3.5h1M511 3.5h1M513 3.5h1M527 3.5h1M575 3.5h1M614 3.5h1M716 3.5h1M733 3.5h1M82 4.5h1M120 4.5h1M141 4.5h1M160 4.5h1M178 4.5h1M316 4.5h1M330 4.5h1M340 4.5h1M352 4.5h1M360 4.5h1M383 4.5h1M476 4.5h1M502 4.5h1M509 4.5h1M568 4.5h1M581 4.5h1M604 4.5h1M660 4.5h1M663 4.5h1M670 4.5h1M695 4.5h1M80 5.5h1M107 5.5h1M126 5.5h2M130 5.5h1M137 5.5h1M150 5.5h1M208 5.5h1M336 5.5h1M373 5.5h1M412 5.5h1M459 5.5h1M465 5.5h2M481 5.5h1M492 5.5h1M588 5.5h1M617 5.5h1M620 5.5h1M629 5.5h1M644 5.5h1M699 5.5h1M735 5.5h1M760 5.5h1M78 6.5h1M97 6.5h1M99 6.5h1M131 6.5h1M263 6.5h1M282 6.5h1M330 6.5h1M373 6.5h1M404 6.5h1M426 6.5h1M439 6.5h1M466 6.5h1M530 6.5h1M554 6.5h1M565 6.5h1M593 6.5h1M597 6.5h1M696 6.5h1M785 6.5h1M799 6.5h1M126 7.5h1M197 7.5h1M255 7.5h1M273 7.5h1M297 7.5h1M353 7.5h1M389 7.5h1M398 7.5h1M419 7.5h1M433 7.5h1M456 7.5h1M514 7.5h1M581 7.5h1M605 7.5h1M614 7.5h1M634 7.5h1M653 7.5h1M655 7.5h1M673 7.5h1M708 7.5h1M751 7.5h1M768 7.5h1M777 7.5h1M87 8.5h1M122 8.5h1M236 8.5h1M291 8.5h1M318 8.5h1M356 8.5h1M392 8.5h1M489 8.5h1M510 8.5h1M536 8.5h1M577 8.5h1M579 8.5h1M679 8.5h1M681 8.5h1M770 8.5h1M772 8.5h1M82 9.5h1M157 9.5h1M171 9.5h1M175 9.5h1M194 9.5h1M228 9.5h1M267 9.5h1M287 9.5h1M310 9.5h2M333 9.5h1M338 9.5h2M369 9.5h1M404 9.5h1M453 9.5h1M471 9.5h1M494 9.5h1M535 9.5h1M553 9.5h1M555 9.5h1M741 9.5h1M31 10.5h1M128 10.5h1M137 10.5h1M163 10.5h1M193 10.5h1M231 10.5h1M261 10.5h1M348 10.5h1M398 10.5h1M427 10.5h1M478 10.5h1M527 10.5h1M529 10.5h1M549 10.5h1M625 10.5h1M643 10.5h1M793 10.5h1M122 11.5h1M158 11.5h1M178 11.5h1M196 11.5h1M206 11.5h1M285 11.5h1M333 11.5h1M359 11.5h1M362 11.5h1M402 11.5h1M487 11.5h1M502 11.5h1M518 11.5h1M525 11.5h1M592 11.5h1M687 11.5h1M720 11.5h1M741 11.5h1M770 11.5h1M780 11.5h1M782 11.5h1M95 12.5h1M110 12.5h1M132 12.5h1M145 12.5h1M196 12.5h1M229 12.5h2M239 12.5h1M340 12.5h1M375 12.5h1M384 12.5h1M387 12.5h1M417 12.5h1M454 12.5h1M474 12.5h1M562 12.5h1M573 12.5h1M632 12.5h1M653 12.5h1M685 12.5h1M695 12.5h1"/><path stroke="#140000" d="M82 0.5h1M124 0.5h1M193 0.5h1M233 0.5h1M235 0.5h1M263 0.5h1M310 0.5h1M343 0.5h1M374 0.5h1M398 0.5h1M407 0.5h1M483 0.5h1M489 0.5h1M496 0.5h1M501 0.5h1M503 0.5h1M565 0.5h1M597 0.5h1M629 0.5h1M695 0.5h1M798 0.5h1M84 1.5h1M144 1.5h1M171 1.5h1M196 1.5h1M279 1.5h1M310 1.5h1M362 1.5h1M367 1.5h1M429 1.5h1M558 1.5h1M612 1.5h1M648 1.5h1M659 1.5h1M666 1.5h1M695 1.5h1M29 2.5h1M86 2.5h1M125 2.5h1M130 2.5h1M149 2.5h1M205 2.5h1M278 2.5h1M293 2.5h1M305 2.5h1M328 2.5h2M372 2.5h1M379 2.5h1M522 2.5h1M540 2.5h1M592 2.5h1M641 2.5h1M768 2.5h1M29 3.5h1M125 3.5h1M133 3.5h1M187 3.5h1M209 3.5h1M299 3.5h1M348 3.5h1M446 3.5h1M480 3.5h1M482 3.5h2M519 3.5h1M561 3.5h1M586 3.5h1M603 3.5h1M780 3.5h1M789 3.5h1M94 4.5h1M122 4.5h1M254 4.5h1M270 4.5h1M407 4.5h1M423 4.5h1M470 4.5h1M501 4.5h1M536 4.5h1M556 4.5h1M698 4.5h1M735 4.5h1M749 4.5h1M108 5.5h1M183 5.5h1M225 5.5h1M247 5.5h1M263 5.5h1M369 5.5h1M468 5.5h1M488 5.5h1M509 5.5h1M515 5.5h1M535 5.5h1M537 5.5h1M542 5.5h1M601 5.5h1M608 5.5h1M638 5.5h1M640 5.5h1M647 5.5h1M653 5.5h1M672 5.5h1M705 5.5h1M726 5.5h1M762 5.5h1M776 5.5h1M100 6.5h1M130 6.5h1M134 6.5h1M191 6.5h1M259 6.5h1M267 6.5h1M309 6.5h1M314 6.5h1M333 6.5h1M372 6.5h1M467 6.5h1M481 6.5h1M527 6.5h1M580 6.5h1M620 6.5h1M690 6.5h1M767 6.5h1M786 6.5h1M80 7.5h1M109 7.5h1M124 7.5h1M160 7.5h1M307 7.5h1M329 7.5h1M343 7.5h1M426 7.5h1M444 7.5h1M523 7.5h1M571 7.5h1M604 7.5h1M620 7.5h1M629 7.5h1M679 7.5h1M772 7.5h1M84 8.5h1M185 8.5h2M211 8.5h1M255 8.5h1M340 8.5h1M343 8.5h1M352 8.5h2M373 8.5h1M397 8.5h1M444 8.5h2M469 8.5h1M531 8.5h1M556 8.5h1M678 8.5h1M682 8.5h1M689 8.5h1M721 8.5h1M745 8.5h1M751 8.5h1M87 9.5h1M165 9.5h1M174 9.5h1M185 9.5h1M212 9.5h1M262 9.5h1M271 9.5h1M273 9.5h1M312 9.5h1M348 9.5h1M359 9.5h1M364 9.5h1M379 9.5h1M386 9.5h1M431 9.5h1M437 9.5h1M467 9.5h1M507 9.5h1M600 9.5h1M682 9.5h1M688 9.5h1M714 9.5h1M747 9.5h1M82 10.5h1M139 10.5h1M173 10.5h1M229 10.5h1M238 10.5h1M370 10.5h1M437 10.5h1M526 10.5h1M576 10.5h1M717 10.5h1M726 10.5h1M740 10.5h1M98 11.5h1M133 11.5h1M219 11.5h1M224 11.5h1M254 11.5h1M263 11.5h1M292 11.5h1M321 11.5h1M326 11.5h1M395 11.5h1M415 11.5h1M478 11.5h1M617 11.5h1M621 11.5h1M634 11.5h1M701 11.5h1M708 11.5h1M735 11.5h1M766 11.5h1M775 11.5h1M793 11.5h1M114 12.5h1M159 12.5h1M206 12.5h1M212 12.5h1M363 12.5h1M376 12.5h1M382 12.5h1M405 12.5h1M410 12.5h1M418 12.5h1M432 12.5h1M435 12.5h1M438 12.5h1M443 12.5h1M500 12.5h1M584 12.5h1M598 12.5h1M602 12.5h1M630 12.5h1M651 12.5h1M682 12.5h1M759 12.5h1"/><path stroke="#1f0000" d="M76 0.5h1M85 0.5h1M113 0.5h1M142 0.5h1M160 0.5h1M174 0.5h1M180 0.5h1M190 0.5h1M211 0.5h1M252 0.5h1M254 0.5h1M256 0.5h1M292 0.5h1M350 0.5h1M367 0.5h1M373 0.5h1M381 0.5h1M406 0.5h1M423 0.5h1M433 0.5h1M439 0.5h1M466 0.5h1M494 0.5h1M513 0.5h1M524 0.5h1M529 0.5h1M540 0.5h1M612 0.5h1M646 0.5h2M651 0.5h1M702 0.5h1M708 0.5h1M718 0.5h1M734 0.5h1M795 0.5h1M150 1.5h1M186 1.5h1M193 1.5h1M229 1.5h1M246 1.5h1M317 1.5h1M326 1.5h1M338 1.5h1M343 1.5h2M357 1.5h1M373 1.5h1M382 1.5h1M386 1.5h1M393 1.5h1M445 1.5h1M469 1.5h1M484 1.5h1M570 1.5h1M631 1.5h1M698 1.5h1M711 1.5h1M776 1.5h1M97 2.5h1M121 2.5h1M151 2.5h1M233 2.5h1M249 2.5h1M272 2.5h1M296 2.5h1M301 2.5h1M309 2.5h1M430 2.5h1M469 2.5h1M505 2.5h1M513 2.5h1M519 2.5h1M551 2.5h1M555 2.5h1M563 2.5h1M603 2.5h1M630 2.5h1M638 2.5h1M640 2.5h1M686 2.5h1M725 2.5h1M760 2.5h1M81 3.5h1M91 3.5h1M93 3.5h1M95 3.5h1M97 3.5h1M142 3.5h1M169 3.5h1M188 3.5h1M215 3.5h1M235 3.5h1M244 3.5h1M249 3.5h1M317 3.5h1M325 3.5h2M335 3.5h2M346 3.5h1M361 3.5h1M387 3.5h1M389 3.5h1M413 3.5h1M487 3.5h1M489 3.5h1M508 3.5h2M521 3.5h1M524 3.5h1M567 3.5h1M620 3.5h1M653 3.5h1M662 3.5h1M686 3.5h1M739 3.5h1M747 3.5h1M756 3.5h1M758 3.5h1M787 3.5h1M97 4.5h1M116 4.5h1M137 4.5h1M161 4.5h1M202 4.5h1M212 4.5h1M305 4.5h1M313 4.5h1M322 4.5h1M335 4.5h1M377 4.5h1M400 4.5h1M416 4.5h1M513 4.5h1M540 4.5h1M565 4.5h1M589 4.5h1M601 4.5h1M611 4.5h1M620 4.5h1M622 4.5h1M657 4.5h1M659 4.5h1M664 4.5h1M687 4.5h1M694 4.5h1M768 4.5h1M791 4.5h1M796 4.5h1M95 5.5h1M106 5.5h1M116 5.5h1M156 5.5h1M159 5.5h1M212 5.5h1M219 5.5h1M230 5.5h1M243 5.5h1M261 5.5h1M295 5.5h1M309 5.5h1M323 5.5h1M378 5.5h1M419 5.5h1M424 5.5h1M447 5.5h1M449 5.5h1M479 5.5h1M500 5.5h1M533 5.5h1M539 5.5h1M565 5.5h1M567 5.5h1M582 5.5h1M615 5.5h1M648 5.5h1M701 5.5h1M724 5.5h1M728 5.5h1M782 5.5h1M56 6.5h1M101 6.5h1M103 6.5h1M113 6.5h1M122 6.5h1M158 6.5h1M167 6.5h1M239 6.5h1M297 6.5h1M306 6.5h1M334 6.5h1M375 6.5h1M395 6.5h1M401 6.5h1M408 6.5h1M410 6.5h1M428 6.5h1M430 6.5h1M510 6.5h1M514 6.5h1M542 6.5h1M566 6.5h1M609 6.5h2M630 6.5h1M638 6.5h1M692 6.5h1M709 6.5h1M734 6.5h1M780 6.5h1M787 6.5h2M92 7.5h1M111 7.5h2M154 7.5h1M159 7.5h1M179 7.5h1M195 7.5h1M210 7.5h1M243 7.5h1M270 7.5h1M283 7.5h1M299 7.5h1M319 7.5h1M368 7.5h2M384 7.5h1M399 7.5h1M436 7.5h1M439 7.5h1M471 7.5h1M508 7.5h1M525 7.5h1M536 7.5h1M557 7.5h1M560 7.5h1M565 7.5h1M622 7.5h1M642 7.5h1M671 7.5h1M674 7.5h1M683 7.5h1M748 7.5h1M793 7.5h1M79 8.5h1M93 8.5h1M139 8.5h1M145 8.5h1M161 8.5h1M179 8.5h1M182 8.5h1M210 8.5h1M252 8.5h1M276 8.5h1M348 8.5h1M357 8.5h1M436 8.5h1M443 8.5h1M523 8.5h1M558 8.5h1M565 8.5h1M567 8.5h1M634 8.5h1M673 8.5h1M683 8.5h1M725 8.5h1M748 8.5h1M771 8.5h1M793 8.5h1M110 9.5h1M132 9.5h1M135 9.5h1M137 9.5h2M240 9.5h1M246 9.5h1M264 9.5h1M272 9.5h1M280 9.5h1M301 9.5h1M314 9.5h1M380 9.5h2M420 9.5h1M422 9.5h1M430 9.5h1M460 9.5h2M509 9.5h1M529 9.5h1M534 9.5h1M540 9.5h1M547 9.5h1M554 9.5h1M587 9.5h1M643 9.5h1M645 9.5h1M653 9.5h1M691 9.5h1M719 9.5h1M738 9.5h1M790 9.5h1M88 10.5h1M95 10.5h1M102 10.5h1M105 10.5h1M142 10.5h1M171 10.5h1M174 10.5h2M200 10.5h1M222 10.5h1M309 10.5h1M339 10.5h1M344 10.5h1M347 10.5h1M381 10.5h1M392 10.5h1M421 10.5h1M439 10.5h1M448 10.5h1M508 10.5h1M521 10.5h1M530 10.5h1M533 10.5h1M567 10.5h1M571 10.5h1M573 10.5h1M590 10.5h1M598 10.5h1M605 10.5h1M620 10.5h1M659 10.5h1M662 10.5h1M684 10.5h1M693 10.5h2M705 10.5h2M783 10.5h1M80 11.5h1M84 11.5h1M128 11.5h1M180 11.5h1M188 11.5h1M208 11.5h1M256 11.5h1M275 11.5h1M291 11.5h1M322 11.5h1M327 11.5h1M330 11.5h1M406 11.5h1M433 11.5h1M475 11.5h1M492 11.5h1M496 11.5h1M498 11.5h2M501 11.5h1M507 11.5h1M520 11.5h1M569 11.5h1M594 11.5h1M628 11.5h1M642 11.5h1M645 11.5h1M711 11.5h1M727 11.5h1M733 11.5h1M739 11.5h1M758 11.5h1M84 12.5h1M90 12.5h1M100 12.5h1M139 12.5h1M166 12.5h1M169 12.5h1M188 12.5h1M194 12.5h1M199 12.5h1M208 12.5h1M211 12.5h1M225 12.5h1M315 12.5h1M322 12.5h1M349 12.5h1M379 12.5h1M400 12.5h1M408 12.5h1M413 12.5h1M421 12.5h1M446 12.5h1M479 12.5h1M501 12.5h1M504 12.5h1M520 12.5h1M532 12.5h1M543 12.5h2M570 12.5h1M576 12.5h1M655 12.5h1M669 12.5h1M681 12.5h1M697 12.5h1M707 12.5h2M714 12.5h1M784 12.5h1M792 12.5h1"/><path stroke="#290000" d="M96 0.5h1M127 0.5h1M130 0.5h1M158 0.5h1M170 0.5h1M177 0.5h1M179 0.5h1M230 0.5h1M285 0.5h1M360 0.5h1M396 0.5h1M438 0.5h1M442 0.5h1M488 0.5h1M535 0.5h1M600 0.5h1M626 0.5h1M711 0.5h1M756 0.5h1M761 0.5h1M778 0.5h1M786 0.5h1M91 1.5h1M97 1.5h1M130 1.5h1M174 1.5h1M187 1.5h1M236 1.5h1M243 1.5h1M273 1.5h2M287 1.5h1M297 1.5h1M314 1.5h1M325 1.5h1M365 1.5h1M411 1.5h1M423 1.5h1M435 1.5h1M442 1.5h1M451 1.5h1M461 1.5h1M463 1.5h1M489 1.5h1M537 1.5h1M550 1.5h1M601 1.5h1M629 1.5h1M662 1.5h1M685 1.5h1M688 1.5h1M690 1.5h1M699 1.5h1M708 1.5h1M744 1.5h1M756 1.5h1M798 1.5h1M94 2.5h1M144 2.5h1M157 2.5h1M160 2.5h1M209 2.5h1M220 2.5h1M222 2.5h1M234 2.5h1M243 2.5h1M256 2.5h1M315 2.5h1M327 2.5h1M333 2.5h3M355 2.5h1M387 2.5h1M449 2.5h1M524 2.5h1M528 2.5h1M545 2.5h1M560 2.5h1M619 2.5h2M636 2.5h1M713 2.5h1M718 2.5h1M739 2.5h1M765 2.5h1M774 2.5h1M776 2.5h1M64 3.5h1M75 3.5h1M102 3.5h1M127 3.5h1M144 3.5h1M149 3.5h1M154 3.5h1M202 3.5h1M222 3.5h1M269 3.5h1M302 3.5h1M329 3.5h1M353 3.5h1M379 3.5h1M391 3.5h1M430 3.5h1M442 3.5h1M449 3.5h1M505 3.5h1M560 3.5h1M601 3.5h1M610 3.5h1M631 3.5h1M636 3.5h1M663 3.5h1M682 3.5h1M685 3.5h1M701 3.5h1M718 3.5h1M720 3.5h1M723 3.5h1M751 3.5h1M755 3.5h1M760 3.5h1M786 3.5h1M87 4.5h1M104 4.5h1M132 4.5h1M154 4.5h1M159 4.5h1M167 4.5h1M179 4.5h1M194 4.5h1M275 4.5h1M309 4.5h1M317 4.5h1M403 4.5h1M412 4.5h1M426 4.5h1M445 4.5h1M493 4.5h1M517 4.5h1M535 4.5h1M584 4.5h1M588 4.5h1M593 4.5h1M599 4.5h1M644 4.5h1M673 4.5h1M697 4.5h1M713 4.5h1M717 4.5h1M720 4.5h1M794 4.5h1M94 5.5h1M101 5.5h1M109 5.5h1M221 5.5h3M256 5.5h1M275 5.5h1M285 5.5h1M292 5.5h1M296 5.5h1M305 5.5h1M382 5.5h1M400 5.5h1M439 5.5h1M443 5.5h1M483 5.5h1M487 5.5h1M496 5.5h1M517 5.5h1M529 5.5h1M551 5.5h1M569 5.5h1M586 5.5h1M613 5.5h1M677 5.5h1M731 5.5h1M744 5.5h1M756 5.5h1M790 5.5h1M25 6.5h1M147 6.5h1M168 6.5h1M186 6.5h1M190 6.5h1M202 6.5h1M218 6.5h1M225 6.5h1M231 6.5h1M252 6.5h1M276 6.5h1M292 6.5h1M303 6.5h1M325 6.5h1M335 6.5h1M348 6.5h1M382 6.5h1M418 6.5h1M477 6.5h1M509 6.5h1M540 6.5h1M600 6.5h1M625 6.5h1M671 6.5h1M711 6.5h1M724 6.5h1M735 6.5h1M791 6.5h1M798 6.5h1M119 7.5h1M136 7.5h1M145 7.5h1M252 7.5h1M258 7.5h1M313 7.5h1M363 7.5h1M373 7.5h1M455 7.5h1M461 7.5h1M484 7.5h1M490 7.5h1M494 7.5h1M531 7.5h1M537 7.5h1M555 7.5h1M589 7.5h1M627 7.5h1M659 7.5h1M665 7.5h1M678 7.5h1M713 7.5h1M715 7.5h2M718 7.5h1M767 7.5h1M771 7.5h1M117 8.5h1M124 8.5h1M143 8.5h1M155 8.5h1M192 8.5h1M241 8.5h1M246 8.5h1M270 8.5h1M286 8.5h1M306 8.5h1M315 8.5h1M382 8.5h1M426 8.5h1M461 8.5h1M485 8.5h1M488 8.5h1M498 8.5h1M532 8.5h1M541 8.5h1M555 8.5h1M560 8.5h1M563 8.5h1M572 8.5h1M597 8.5h1M604 8.5h1M674 8.5h1M696 8.5h1M703 8.5h1M713 8.5h1M715 8.5h1M762 8.5h1M794 8.5h1M89 9.5h1M95 9.5h1M113 9.5h1M180 9.5h1M205 9.5h1M215 9.5h1M219 9.5h1M226 9.5h1M252 9.5h1M254 9.5h1M285 9.5h1M308 9.5h2M353 9.5h1M356 9.5h1M366 9.5h1M374 9.5h1M411 9.5h1M421 9.5h1M451 9.5h1M514 9.5h1M523 9.5h1M545 9.5h1M569 9.5h1M573 9.5h1M596 9.5h1M640 9.5h1M666 9.5h1M669 9.5h1M699 9.5h1M701 9.5h1M706 9.5h1M708 9.5h1M722 9.5h1M771 9.5h1M783 9.5h1M114 10.5h1M136 10.5h1M169 10.5h1M181 10.5h1M223 10.5h1M227 10.5h1M268 10.5h1M279 10.5h1M327 10.5h1M340 10.5h1M353 10.5h1M365 10.5h1M382 10.5h1M390 10.5h1M394 10.5h1M440 10.5h1M451 10.5h1M454 10.5h1M536 10.5h1M548 10.5h1M599 10.5h1M621 10.5h1M628 10.5h1M640 10.5h2M664 10.5h1M704 10.5h1M713 10.5h1M715 10.5h1M730 10.5h1M797 10.5h1M134 11.5h1M161 11.5h1M169 11.5h1M186 11.5h1M255 11.5h1M264 11.5h1M269 11.5h1M277 11.5h1M280 11.5h1M344 11.5h1M349 11.5h1M361 11.5h1M378 11.5h1M399 11.5h1M419 11.5h1M463 11.5h1M493 11.5h1M503 11.5h1M512 11.5h1M526 11.5h1M545 11.5h1M580 11.5h1M611 11.5h1M620 11.5h1M653 11.5h1M658 11.5h1M661 11.5h1M677 11.5h1M712 11.5h1M714 11.5h1M764 11.5h1M788 11.5h1M83 12.5h1M88 12.5h1M184 12.5h1M214 12.5h1M219 12.5h1M245 12.5h1M258 12.5h1M267 12.5h1M274 12.5h1M309 12.5h1M331 12.5h1M377 12.5h1M380 12.5h1M397 12.5h1M426 12.5h1M464 12.5h1M471 12.5h1M480 12.5h1M494 12.5h1M592 12.5h1M611 12.5h1M664 12.5h1M680 12.5h1M687 12.5h1M700 12.5h1M721 12.5h1M724 12.5h1M791 12.5h1"/><path stroke="#330000" d="M103 0.5h1M110 0.5h1M141 0.5h1M150 0.5h1M161 0.5h1M187 0.5h1M212 0.5h1M229 0.5h1M264 0.5h1M272 0.5h1M290 0.5h1M299 0.5h1M301 0.5h1M304 0.5h1M326 0.5h1M338 0.5h1M389 0.5h1M417 0.5h3M421 0.5h1M432 0.5h1M463 0.5h1M467 0.5h1M484 0.5h1M500 0.5h1M515 0.5h1M595 0.5h1M616 0.5h1M624 0.5h1M642 0.5h1M653 0.5h1M660 0.5h1M662 0.5h1M675 0.5h1M685 0.5h1M700 0.5h1M712 0.5h1M743 0.5h2M747 0.5h1M773 0.5h1M76 1.5h1M81 1.5h1M94 1.5h1M100 1.5h1M103 1.5h1M152 1.5h1M154 1.5h1M160 1.5h1M168 1.5h1M180 1.5h1M218 1.5h1M235 1.5h1M263 1.5h2M272 1.5h1M312 1.5h1M342 1.5h1M354 1.5h1M401 1.5h1M418 1.5h2M460 1.5h1M470 1.5h1M500 1.5h1M503 1.5h1M530 1.5h1M563 1.5h1M567 1.5h1M576 1.5h1M625 1.5h1M730 1.5h1M773 1.5h1M36 2.5h1M64 2.5h1M75 2.5h1M83 2.5h1M95 2.5h1M116 2.5h1M127 2.5h1M154 2.5h1M202 2.5h1M213 2.5h1M226 2.5h1M253 2.5h1M271 2.5h1M291 2.5h1M299 2.5h1M302 2.5h1M318 2.5h1M326 2.5h1M356 2.5h1M359 2.5h1M374 2.5h1M389 2.5h1M410 2.5h1M466 2.5h1M480 2.5h1M496 2.5h1M531 2.5h1M597 2.5h1M644 2.5h1M678 2.5h1M687 2.5h1M733 2.5h1M751 2.5h1M788 2.5h2M36 3.5h1M86 3.5h1M116 3.5h1M118 3.5h1M151 3.5h1M157 3.5h1M205 3.5h1M278 3.5h1M283 3.5h1M296 3.5h1M298 3.5h1M301 3.5h1M305 3.5h1M309 3.5h1M315 3.5h1M334 3.5h1M356 3.5h1M469 3.5h1M542 3.5h1M551 3.5h1M619 3.5h1M638 3.5h1M655 3.5h1M725 3.5h1M765 3.5h1M768 3.5h2M118 4.5h1M127 4.5h1M174 4.5h1M247 4.5h1M263 4.5h1M281 4.5h1M324 4.5h2M331 4.5h1M349 4.5h1M353 4.5h1M371 4.5h1M437 4.5h1M449 4.5h1M578 4.5h1M595 4.5h1M616 4.5h1M641 4.5h1M662 4.5h1M675 4.5h1M790 4.5h1M64 5.5h1M81 5.5h1M170 5.5h1M173 5.5h1M206 5.5h2M210 5.5h1M224 5.5h1M233 5.5h1M326 5.5h1M333 5.5h1M416 5.5h1M429 5.5h1M508 5.5h1M530 5.5h1M580 5.5h1M606 5.5h1M645 5.5h1M659 5.5h1M683 5.5h1M687 5.5h1M692 5.5h1M709 5.5h1M720 5.5h1M750 5.5h1M61 6.5h1M73 6.5h1M94 6.5h1M107 6.5h1M136 6.5h1M159 6.5h1M177 6.5h1M196 6.5h1M220 6.5h3M224 6.5h1M248 6.5h1M250 6.5h1M257 6.5h1M268 6.5h1M274 6.5h1M318 6.5h1M394 6.5h1M403 6.5h1M440 6.5h1M447 6.5h1M458 6.5h1M569 6.5h1M587 6.5h1M596 6.5h1M604 6.5h1M633 6.5h1M682 6.5h1M689 6.5h1M695 6.5h1M772 6.5h1M87 7.5h2M133 7.5h1M146 7.5h1M151 7.5h1M191 7.5h1M206 7.5h1M224 7.5h1M246 7.5h1M303 7.5h1M356 7.5h1M365 7.5h1M437 7.5h1M443 7.5h1M462 7.5h1M497 7.5h1M520 7.5h1M649 7.5h1M662 7.5h1M682 7.5h1M725 7.5h1M750 7.5h1M784 7.5h1M794 7.5h1M109 8.5h1M146 8.5h1M148 8.5h1M176 8.5h1M202 8.5h1M240 8.5h1M302 8.5h2M363 8.5h1M389 8.5h1M399 8.5h1M439 8.5h1M452 8.5h1M480 8.5h1M493 8.5h1M517 8.5h1M521 8.5h1M585 8.5h1M608 8.5h1M660 8.5h1M693 8.5h1M716 8.5h1M742 8.5h1M791 8.5h1M111 9.5h1M162 9.5h1M210 9.5h1M235 9.5h1M255 9.5h1M283 9.5h1M316 9.5h1M387 9.5h1M410 9.5h1M445 9.5h1M500 9.5h1M542 9.5h1M548 9.5h1M563 9.5h1M585 9.5h1M595 9.5h1M622 9.5h1M675 9.5h1M696 9.5h1M703 9.5h1M707 9.5h1M739 9.5h1M742 9.5h1M755 9.5h1M87 10.5h1M111 10.5h1M117 10.5h1M119 10.5h1M165 10.5h1M234 10.5h1M254 10.5h1M260 10.5h1M263 10.5h1M308 10.5h1M311 10.5h1M371 10.5h1M380 10.5h1M389 10.5h1M443 10.5h1M487 10.5h1M518 10.5h1M531 10.5h1M542 10.5h1M574 10.5h1M647 10.5h1M653 10.5h1M674 10.5h1M703 10.5h1M718 10.5h1M755 10.5h1M779 10.5h1M105 11.5h1M107 11.5h1M135 11.5h1M184 11.5h1M253 11.5h1M295 11.5h1M300 11.5h1M314 11.5h1M367 11.5h2M384 11.5h1M420 11.5h1M435 11.5h1M480 11.5h1M531 11.5h1M536 11.5h2M549 11.5h2M609 11.5h1M619 11.5h1M637 11.5h1M647 11.5h1M655 11.5h1M705 11.5h1M709 11.5h1M728 11.5h1M755 11.5h1M761 11.5h1M771 11.5h1M79 12.5h1M85 12.5h1M143 12.5h1M150 12.5h1M180 12.5h1M202 12.5h1M205 12.5h1M250 12.5h2M318 12.5h1M341 12.5h1M344 12.5h1M350 12.5h1M370 12.5h1M373 12.5h1M403 12.5h1M428 12.5h1M431 12.5h1M477 12.5h1M512 12.5h1M558 12.5h1M608 12.5h1M610 12.5h1M616 12.5h1M626 12.5h1M753 12.5h1"/><path stroke="#3d0000" d="M77 0.5h2M91 0.5h1M115 0.5h1M136 0.5h1M143 0.5h1M159 0.5h1M168 0.5h1M176 0.5h1M205 0.5h1M225 0.5h1M236 0.5h1M267 0.5h1M287 0.5h1M298 0.5h1M329 0.5h1M349 0.5h1M354 0.5h1M363 0.5h1M395 0.5h1M431 0.5h1M446 0.5h1M567 0.5h1M602 0.5h1M618 0.5h1M635 0.5h1M644 0.5h1M650 0.5h1M732 0.5h1M746 0.5h1M758 0.5h1M783 0.5h1M92 1.5h1M111 1.5h1M124 1.5h1M135 1.5h2M141 1.5h1M143 1.5h1M156 1.5h1M161 1.5h1M190 1.5h2M197 1.5h1M256 1.5h1M298 1.5h1M318 1.5h2M383 1.5h1M407 1.5h1M430 1.5h1M436 1.5h1M446 1.5h1M514 1.5h1M564 1.5h1M604 1.5h1M611 1.5h1M626 1.5h1M653 1.5h1M687 1.5h1M704 1.5h1M718 1.5h2M721 1.5h1M746 1.5h3M7 2.5h1M73 2.5h1M145 2.5h1M197 2.5h1M224 2.5h1M304 2.5h1M317 2.5h1M348 2.5h1M353 2.5h1M442 2.5h1M482 2.5h1M492 2.5h1M534 2.5h1M544 2.5h1M567 2.5h1M585 2.5h1M598 2.5h1M631 2.5h1M674 2.5h1M682 2.5h1M701 2.5h1M730 2.5h1M735 2.5h1M737 2.5h1M761 2.5h1M769 2.5h1M26 3.5h1M39 3.5h1M90 3.5h1M113 3.5h1M160 3.5h2M197 3.5h1M243 3.5h1M256 3.5h1M271 3.5h1M332 3.5h2M338 3.5h1M349 3.5h1M401 3.5h1M466 3.5h1M531 3.5h1M544 3.5h2M573 3.5h1M607 3.5h1M640 3.5h1M678 3.5h1M703 3.5h1M707 3.5h1M710 3.5h1M713 3.5h1M737 3.5h1M774 3.5h1M779 3.5h1M783 3.5h1M70 4.5h1M99 4.5h1M121 4.5h1M146 4.5h1M193 4.5h1M198 4.5h1M200 4.5h1M228 4.5h1M240 4.5h1M256 4.5h1M277 4.5h1M319 4.5h1M344 4.5h1M357 4.5h1M361 4.5h1M413 4.5h1M436 4.5h1M467 4.5h1M491 4.5h1M495 4.5h1M499 4.5h1M506 4.5h1M516 4.5h1M543 4.5h1M554 4.5h1M574 4.5h1M608 4.5h1M621 4.5h1M682 4.5h1M701 4.5h1M747 4.5h1M788 4.5h1M62 5.5h1M86 5.5h1M88 5.5h1M98 5.5h1M100 5.5h1M128 5.5h1M142 5.5h1M152 5.5h1M198 5.5h1M204 5.5h1M213 5.5h1M239 5.5h1M253 5.5h1M262 5.5h1M280 5.5h1M347 5.5h1M359 5.5h1M380 5.5h1M425 5.5h1M436 5.5h1M454 5.5h1M458 5.5h1M545 5.5h1M547 5.5h1M553 5.5h1M558 5.5h1M579 5.5h1M650 5.5h1M663 5.5h1M690 5.5h1M718 5.5h1M727 5.5h1M736 5.5h1M761 5.5h1M773 5.5h1M792 5.5h1M62 6.5h1M86 6.5h1M116 6.5h1M146 6.5h1M162 6.5h1M194 6.5h1M272 6.5h1M275 6.5h1M286 6.5h1M308 6.5h1M345 6.5h1M365 6.5h1M391 6.5h1M413 6.5h1M425 6.5h1M442 6.5h1M482 6.5h1M507 6.5h1M518 6.5h1M559 6.5h1M641 6.5h1M648 6.5h1M661 6.5h1M728 6.5h1M97 7.5h1M161 7.5h1M182 7.5h1M198 7.5h1M225 7.5h1M241 7.5h1M284 7.5h1M361 7.5h1M409 7.5h1M483 7.5h1M489 7.5h1M521 7.5h1M526 7.5h1M538 7.5h1M544 7.5h1M569 7.5h1M593 7.5h1M597 7.5h1M621 7.5h1M625 7.5h1M696 7.5h1M703 7.5h1M762 7.5h1M783 7.5h1M795 7.5h1M80 8.5h1M88 8.5h1M92 8.5h1M154 8.5h1M160 8.5h1M171 8.5h1M197 8.5h1M217 8.5h1M225 8.5h1M229 8.5h2M243 8.5h1M245 8.5h1M258 8.5h1M304 8.5h1M316 8.5h1M322 8.5h1M434 8.5h1M540 8.5h1M593 8.5h1M596 8.5h1M619 8.5h1M624 8.5h1M653 8.5h1M671 8.5h1M750 8.5h1M773 8.5h1M28 9.5h1M80 9.5h1M133 9.5h1M217 9.5h1M249 9.5h1M275 9.5h1M277 9.5h1M295 9.5h1M302 9.5h1M360 9.5h2M376 9.5h1M477 9.5h2M502 9.5h1M544 9.5h1M550 9.5h1M599 9.5h1M613 9.5h1M641 9.5h1M649 9.5h1M684 9.5h1M710 9.5h1M713 9.5h1M733 9.5h1M746 9.5h1M787 9.5h1M791 9.5h1M41 10.5h1M45 10.5h1M70 10.5h1M86 10.5h1M118 10.5h1M148 10.5h1M170 10.5h1M207 10.5h1M221 10.5h1M226 10.5h1M258 10.5h1M297 10.5h1M314 10.5h1M317 10.5h1M352 10.5h1M356 10.5h1M361 10.5h1M379 10.5h1M383 10.5h2M415 10.5h1M426 10.5h1M430 10.5h1M462 10.5h1M516 10.5h1M544 10.5h1M547 10.5h1M562 10.5h1M584 10.5h1M622 10.5h1M658 10.5h1M677 10.5h1M687 10.5h1M725 10.5h1M737 10.5h1M759 10.5h1M794 10.5h1M81 11.5h1M83 11.5h1M85 11.5h1M129 11.5h1M131 11.5h1M143 11.5h1M174 11.5h1M214 11.5h1M233 11.5h1M235 11.5h1M260 11.5h2M274 11.5h1M289 11.5h1M328 11.5h1M360 11.5h1M450 11.5h1M469 11.5h1M485 11.5h1M490 11.5h1M515 11.5h1M542 11.5h1M552 11.5h1M572 11.5h1M599 11.5h1M601 11.5h1M603 11.5h1M632 11.5h1M657 11.5h1M690 11.5h1M715 11.5h1M740 11.5h1M753 11.5h1M774 11.5h1M777 11.5h1M789 11.5h1M86 12.5h1M102 12.5h1M131 12.5h1M149 12.5h1M162 12.5h1M176 12.5h1M183 12.5h1M241 12.5h1M284 12.5h1M305 12.5h1M317 12.5h1M321 12.5h1M329 12.5h1M339 12.5h1M367 12.5h1M371 12.5h1M374 12.5h1M401 12.5h1M455 12.5h1M463 12.5h1M467 12.5h1M475 12.5h1M488 12.5h1M515 12.5h1M522 12.5h1M571 12.5h1M579 12.5h1M644 12.5h1M694 12.5h1M696 12.5h1M701 12.5h1M710 12.5h1M733 12.5h1M770 12.5h1"/><path stroke="#470000" d="M93 0.5h1M166 0.5h1M181 0.5h1M191 0.5h1M202 0.5h1M247 0.5h1M261 0.5h1M307 0.5h1M316 0.5h1M318 0.5h1M330 0.5h1M334 0.5h1M341 0.5h1M386 0.5h1M434 0.5h1M437 0.5h1M468 0.5h1M530 0.5h1M549 0.5h1M553 0.5h1M564 0.5h1M583 0.5h1M585 0.5h1M603 0.5h1M625 0.5h1M638 0.5h1M640 0.5h1M699 0.5h1M742 0.5h1M766 0.5h1M93 1.5h1M123 1.5h1M158 1.5h1M181 1.5h1M184 1.5h1M195 1.5h1M205 1.5h1M207 1.5h1M247 1.5h1M261 1.5h1M282 1.5h1M290 1.5h1M299 1.5h1M301 1.5h1M321 1.5h1M341 1.5h1M348 1.5h1M434 1.5h1M439 1.5h1M452 1.5h1M466 1.5h1M475 1.5h1M495 1.5h1M510 1.5h1M533 1.5h1M552 1.5h1M583 1.5h1M600 1.5h1M603 1.5h1M618 1.5h1M703 1.5h1M732 1.5h1M758 1.5h1M762 1.5h1M5 2.5h1M17 2.5h1M28 2.5h1M39 2.5h1M71 2.5h1M88 2.5h1M102 2.5h1M105 2.5h1M142 2.5h1M171 2.5h1M246 2.5h2M263 2.5h1M269 2.5h1M275 2.5h1M298 2.5h1M319 2.5h1M344 2.5h1M350 2.5h1M369 2.5h1M381 2.5h1M401 2.5h2M436 2.5h1M440 2.5h1M454 2.5h1M493 2.5h1M508 2.5h2M512 2.5h1M529 2.5h1M537 2.5h1M573 2.5h1M601 2.5h1M606 2.5h1M609 2.5h1M649 2.5h1M671 2.5h1M676 2.5h1M707 2.5h1M748 2.5h1M779 2.5h1M787 2.5h1M796 2.5h1M7 3.5h1M17 3.5h1M28 3.5h1M59 3.5h1M73 3.5h1M115 3.5h1M126 3.5h1M145 3.5h1M223 3.5h1M225 3.5h1M234 3.5h1M263 3.5h1M304 3.5h1M319 3.5h1M359 3.5h1M369 3.5h1M381 3.5h1M440 3.5h1M484 3.5h1M496 3.5h1M512 3.5h1M643 3.5h1M727 3.5h1M740 3.5h1M788 3.5h1M790 3.5h1M31 4.5h1M108 4.5h1M153 4.5h1M208 4.5h1M246 4.5h1M253 4.5h1M297 4.5h1M304 4.5h1M314 4.5h1M365 4.5h1M391 4.5h1M397 4.5h1M421 4.5h1M439 4.5h1M447 4.5h1M451 4.5h1M490 4.5h1M498 4.5h1M508 4.5h1M563 4.5h1M569 4.5h1M582 4.5h1M712 4.5h1M759 4.5h1M56 5.5h1M61 5.5h1M141 5.5h1M144 5.5h1M168 5.5h1M171 5.5h1M176 5.5h1M194 5.5h1M228 5.5h1M257 5.5h1M286 5.5h1M294 5.5h1M297 5.5h1M306 5.5h1M324 5.5h1M337 5.5h1M384 5.5h1M395 5.5h1M410 5.5h1M625 5.5h1M637 5.5h1M769 5.5h1M777 5.5h1M83 6.5h1M154 6.5h1M197 6.5h1M205 6.5h1M210 6.5h1M235 6.5h1M240 6.5h1M262 6.5h1M289 6.5h1M305 6.5h1M356 6.5h1M397 6.5h1M427 6.5h1M488 6.5h1M504 6.5h1M516 6.5h1M544 6.5h1M595 6.5h1M611 6.5h1M666 6.5h2M669 6.5h2M697 6.5h1M765 6.5h1M779 6.5h1M82 7.5h1M108 7.5h1M148 7.5h1M185 7.5h1M217 7.5h1M245 7.5h1M251 7.5h1M285 7.5h1M317 7.5h1M325 7.5h1M340 7.5h1M400 7.5h1M424 7.5h1M488 7.5h1M493 7.5h1M510 7.5h1M513 7.5h1M527 7.5h1M532 7.5h1M563 7.5h1M591 7.5h1M596 7.5h1M599 7.5h1M610 7.5h1M619 7.5h1M624 7.5h1M660 7.5h1M675 7.5h1M693 7.5h1M720 7.5h1M785 7.5h1M791 7.5h1M107 8.5h1M126 8.5h1M228 8.5h1M249 8.5h1M361 8.5h1M437 8.5h1M520 8.5h1M525 8.5h2M534 8.5h1M538 8.5h1M569 8.5h1M610 8.5h1M631 8.5h1M720 8.5h1M728 8.5h1M730 8.5h2M739 8.5h1M775 8.5h1M786 8.5h1M792 8.5h1M9 9.5h1M11 9.5h1M148 9.5h1M153 9.5h1M168 9.5h1M279 9.5h1M289 9.5h1M327 9.5h1M368 9.5h1M392 9.5h1M402 9.5h1M427 9.5h1M454 9.5h1M499 9.5h1M562 9.5h1M588 9.5h1M663 9.5h1M673 9.5h1M681 9.5h1M686 9.5h1M718 9.5h1M772 9.5h1M786 9.5h1M21 10.5h1M28 10.5h1M37 10.5h1M84 10.5h1M91 10.5h1M97 10.5h1M191 10.5h1M212 10.5h1M219 10.5h1M225 10.5h1M236 10.5h1M256 10.5h1M272 10.5h1M294 10.5h1M414 10.5h1M441 10.5h1M464 10.5h1M475 10.5h2M537 10.5h1M551 10.5h1M560 10.5h1M572 10.5h1M611 10.5h1M615 10.5h1M666 10.5h1M697 10.5h1M701 10.5h1M795 10.5h1M150 11.5h2M153 11.5h1M159 11.5h1M166 11.5h1M176 11.5h1M251 11.5h2M276 11.5h1M364 11.5h1M382 11.5h2M430 11.5h1M471 11.5h1M477 11.5h1M544 11.5h1M559 11.5h1M585 11.5h1M660 11.5h1M686 11.5h1M699 11.5h1M734 11.5h1M743 11.5h1M748 11.5h1M130 12.5h1M217 12.5h1M246 12.5h1M311 12.5h1M354 12.5h1M503 12.5h1M580 12.5h1M588 12.5h1M633 12.5h1M649 12.5h1M661 12.5h1M677 12.5h1M702 12.5h1M705 12.5h1M711 12.5h1"/><path stroke="#520000" d="M80 0.5h1M94 0.5h1M98 0.5h1M100 0.5h1M121 0.5h1M129 0.5h1M139 0.5h1M145 0.5h1M156 0.5h1M234 0.5h1M243 0.5h2M317 0.5h1M332 0.5h1M370 0.5h1M384 0.5h1M393 0.5h1M428 0.5h1M448 0.5h1M477 0.5h1M539 0.5h1M552 0.5h1M558 0.5h1M589 0.5h1M604 0.5h1M607 0.5h1M609 0.5h1M679 0.5h1M694 0.5h1M731 0.5h1M745 0.5h1M77 1.5h1M98 1.5h1M114 1.5h1M116 1.5h1M127 1.5h1M149 1.5h1M202 1.5h1M292 1.5h1M329 1.5h1M378 1.5h1M395 1.5h1M437 1.5h1M482 1.5h1M492 1.5h1M512 1.5h1M540 1.5h1M585 1.5h1M619 1.5h1M638 1.5h1M644 1.5h1M675 1.5h1M679 1.5h1M694 1.5h1M700 1.5h1M724 1.5h1M742 1.5h1M778 1.5h1M783 1.5h1M9 2.5h1M46 2.5h1M59 2.5h1M90 2.5h1M113 2.5h1M118 2.5h1M192 2.5h1M225 2.5h1M330 2.5h1M332 2.5h1M364 2.5h1M395 2.5h1M478 2.5h1M484 2.5h1M488 2.5h1M581 2.5h1M607 2.5h1M643 2.5h1M716 2.5h1M738 2.5h1M756 2.5h1M790 2.5h1M5 3.5h1M9 3.5h1M71 3.5h2M168 3.5h1M170 3.5h1M173 3.5h1M194 3.5h1M233 3.5h1M248 3.5h1M253 3.5h1M275 3.5h1M344 3.5h1M390 3.5h1M402 3.5h1M436 3.5h1M478 3.5h1M497 3.5h1M500 3.5h1M529 3.5h1M585 3.5h1M597 3.5h1M606 3.5h1M676 3.5h1M730 3.5h1M735 3.5h1M35 4.5h1M67 4.5h1M123 4.5h1M168 4.5h1M342 4.5h1M355 4.5h1M385 4.5h1M392 4.5h1M438 4.5h1M487 4.5h1M545 4.5h1M610 4.5h1M640 4.5h1M661 4.5h1M686 4.5h1M691 4.5h1M743 4.5h1M755 4.5h1M760 4.5h1M25 5.5h1M99 5.5h1M138 5.5h1M160 5.5h1M179 5.5h1M205 5.5h1M276 5.5h1M363 5.5h1M427 5.5h1M440 5.5h1M491 5.5h1M548 5.5h1M596 5.5h1M609 5.5h1M658 5.5h1M670 5.5h1M696 5.5h1M715 5.5h1M743 5.5h1M759 5.5h1M786 5.5h1M36 6.5h1M50 6.5h1M69 6.5h1M81 6.5h1M108 6.5h1M140 6.5h1M144 6.5h1M178 6.5h1M198 6.5h1M256 6.5h1M285 6.5h1M310 6.5h1M323 6.5h1M327 6.5h1M342 6.5h1M344 6.5h1M353 6.5h1M436 6.5h1M520 6.5h1M531 6.5h1M547 6.5h1M615 6.5h1M731 6.5h1M771 6.5h1M773 6.5h1M790 6.5h1M169 7.5h1M230 7.5h1M260 7.5h1M302 7.5h1M305 7.5h1M374 7.5h1M434 7.5h1M441 7.5h1M454 7.5h1M469 7.5h1M485 7.5h1M517 7.5h1M534 7.5h1M608 7.5h1M651 7.5h1M730 7.5h1M775 7.5h1M82 8.5h1M127 8.5h1M165 8.5h1M198 8.5h1M253 8.5h1M283 8.5h1M305 8.5h1M455 8.5h1M497 8.5h1M513 8.5h1M527 8.5h1M589 8.5h1M641 8.5h1M651 8.5h1M759 8.5h1M783 8.5h1M788 8.5h1M114 9.5h1M145 9.5h1M170 9.5h1M173 9.5h1M199 9.5h1M213 9.5h1M234 9.5h1M269 9.5h1M296 9.5h1M298 9.5h1M315 9.5h1M409 9.5h1M465 9.5h1M473 9.5h1M484 9.5h1M487 9.5h1M626 9.5h1M648 9.5h1M693 9.5h1M698 9.5h1M748 9.5h1M750 9.5h1M785 9.5h1M788 9.5h1M793 9.5h1M8 10.5h1M61 10.5h1M81 10.5h1M89 10.5h1M196 10.5h1M201 10.5h1M208 10.5h1M295 10.5h1M326 10.5h1M349 10.5h1M408 10.5h1M422 10.5h1M465 10.5h1M502 10.5h1M522 10.5h1M569 10.5h1M609 10.5h1M632 10.5h1M646 10.5h1M663 10.5h1M686 10.5h1M748 10.5h1M771 10.5h1M138 11.5h1M145 11.5h1M155 11.5h1M165 11.5h1M168 11.5h1M194 11.5h1M240 11.5h1M249 11.5h1M266 11.5h1M308 11.5h1M312 11.5h1M336 11.5h1M371 11.5h1M403 11.5h1M428 11.5h1M431 11.5h1M437 11.5h1M441 11.5h1M483 11.5h1M560 11.5h1M574 11.5h1M643 11.5h1M678 11.5h1M682 11.5h1M696 11.5h1M713 11.5h1M719 11.5h1M765 11.5h1M768 11.5h1M94 12.5h1M107 12.5h1M127 12.5h1M232 12.5h1M240 12.5h1M297 12.5h1M302 12.5h1M420 12.5h1M447 12.5h1M457 12.5h1M482 12.5h1M535 12.5h1M567 12.5h1M637 12.5h1M691 12.5h1M725 12.5h1M769 12.5h1M776 12.5h1"/><path stroke="#5c0000" d="M116 0.5h1M123 0.5h1M149 0.5h1M260 0.5h1M282 0.5h1M311 0.5h1M313 0.5h1M348 0.5h1M378 0.5h1M430 0.5h1M436 0.5h1M445 0.5h1M452 0.5h1M456 0.5h1M480 0.5h1M492 0.5h1M498 0.5h1M510 0.5h1M531 0.5h1M543 0.5h1M548 0.5h1M554 0.5h1M566 0.5h1M619 0.5h1M686 0.5h1M698 0.5h1M725 0.5h1M753 0.5h1M768 0.5h1M777 0.5h1M78 1.5h1M115 1.5h1M121 1.5h1M129 1.5h1M139 1.5h1M145 1.5h1M155 1.5h1M201 1.5h1M224 1.5h1M227 1.5h1M240 1.5h1M244 1.5h1M260 1.5h1M267 1.5h1M316 1.5h1M334 1.5h1M349 1.5h1M384 1.5h1M389 1.5h1M420 1.5h2M431 1.5h2M477 1.5h1M480 1.5h1M507 1.5h1M515 1.5h1M539 1.5h1M549 1.5h1M553 1.5h1M589 1.5h1M602 1.5h1M637 1.5h1M642 1.5h1M651 1.5h1M664 1.5h1M673 1.5h1M682 1.5h1M686 1.5h1M709 1.5h1M735 1.5h1M743 1.5h1M753 1.5h1M788 1.5h1M13 2.5h1M26 2.5h1M49 2.5h1M53 2.5h1M79 2.5h1M126 2.5h1M133 2.5h1M170 2.5h1M173 2.5h1M178 2.5h1M214 2.5h1M338 2.5h1M349 2.5h1M414 2.5h1M497 2.5h1M500 2.5h1M688 2.5h1M786 2.5h1M13 3.5h1M31 3.5h1M46 3.5h1M53 3.5h1M88 3.5h1M105 3.5h1M178 3.5h1M192 3.5h1M214 3.5h1M327 3.5h1M352 3.5h1M355 3.5h1M445 3.5h1M488 3.5h1M534 3.5h1M609 3.5h1M649 3.5h1M688 3.5h1M761 3.5h1M15 4.5h1M98 4.5h1M115 4.5h1M148 4.5h1M152 4.5h1M171 4.5h1M197 4.5h1M205 4.5h1M222 4.5h1M225 4.5h1M250 4.5h1M267 4.5h1M387 4.5h1M395 4.5h1M461 4.5h1M514 4.5h1M587 4.5h1M606 4.5h1M615 4.5h1M667 4.5h1M678 4.5h1M715 4.5h1M724 4.5h1M15 5.5h1M30 5.5h2M44 5.5h1M111 5.5h1M161 5.5h2M289 5.5h1M316 5.5h1M342 5.5h1M345 5.5h2M394 5.5h1M446 5.5h1M512 5.5h1M563 5.5h1M585 5.5h1M591 5.5h1M671 5.5h1M765 5.5h1M771 5.5h1M6 6.5h1M35 6.5h1M88 6.5h1M211 6.5h1M214 6.5h1M217 6.5h1M336 6.5h2M346 6.5h1M370 6.5h1M384 6.5h1M416 6.5h1M454 6.5h1M462 6.5h1M522 6.5h1M627 6.5h1M658 6.5h1M678 6.5h1M687 6.5h1M713 6.5h1M719 6.5h1M741 6.5h1M751 6.5h1M172 7.5h1M249 7.5h1M279 7.5h1M290 7.5h1M306 7.5h1M512 7.5h1M585 7.5h1M641 7.5h1M661 7.5h1M724 7.5h1M742 7.5h1M97 8.5h1M151 8.5h2M169 8.5h1M191 8.5h1M260 8.5h1M335 8.5h1M400 8.5h1M448 8.5h1M483 8.5h1M591 8.5h1M625 8.5h1M630 8.5h1M658 8.5h1M714 8.5h1M797 8.5h1M8 9.5h1M12 9.5h1M31 9.5h1M41 9.5h1M61 9.5h1M72 9.5h1M143 9.5h1M196 9.5h1M201 9.5h1M286 9.5h1M297 9.5h1M382 9.5h1M426 9.5h1M435 9.5h1M440 9.5h1M464 9.5h1M483 9.5h1M512 9.5h1M530 9.5h1M574 9.5h1M586 9.5h1M625 9.5h1M677 9.5h1M694 9.5h1M730 9.5h1M735 9.5h1M799 9.5h1M10 10.5h2M15 10.5h1M53 10.5h1M121 10.5h1M143 10.5h1M154 10.5h1M192 10.5h1M210 10.5h1M216 10.5h1M228 10.5h1M233 10.5h1M269 10.5h1M273 10.5h1M280 10.5h1M302 10.5h2M406 10.5h2M409 10.5h1M480 10.5h1M488 10.5h1M499 10.5h1M509 10.5h1M550 10.5h1M649 10.5h1M698 10.5h1M714 10.5h1M763 10.5h1M773 10.5h1M117 11.5h1M141 11.5h1M250 11.5h1M297 11.5h1M305 11.5h1M338 11.5h1M421 11.5h1M432 11.5h1M452 11.5h1M521 11.5h1M650 11.5h2M662 11.5h1M750 11.5h1M791 11.5h1M151 12.5h1M197 12.5h1M222 12.5h1M293 12.5h1M337 12.5h1M353 12.5h1M361 12.5h1M383 12.5h1M385 12.5h1M404 12.5h1M412 12.5h1M415 12.5h1M481 12.5h1M525 12.5h1M542 12.5h1M549 12.5h1M595 12.5h1M603 12.5h1M662 12.5h1M666 12.5h1M699 12.5h1M766 12.5h1"/><path stroke="#660000" d="M104 0.5h1M135 0.5h1M155 0.5h1M197 0.5h1M209 0.5h1M224 0.5h1M274 0.5h1M276 0.5h1M297 0.5h1M414 0.5h1M420 0.5h1M451 0.5h1M490 0.5h1M495 0.5h1M499 0.5h1M528 0.5h1M601 0.5h1M682 0.5h1M684 0.5h1M689 0.5h1M719 0.5h1M730 0.5h1M735 0.5h1M767 0.5h1M776 0.5h1M789 0.5h1M104 1.5h1M118 1.5h1M176 1.5h1M307 1.5h1M320 1.5h1M337 1.5h1M375 1.5h1M448 1.5h1M468 1.5h1M485 1.5h1M498 1.5h1M502 1.5h1M531 1.5h1M571 1.5h1M607 1.5h1M640 1.5h1M645 1.5h1M725 1.5h1M733 1.5h1M786 1.5h1M8 2.5h1M22 2.5h1M27 2.5h1M31 2.5h1M40 2.5h1M42 2.5h1M58 2.5h1M69 2.5h1M72 2.5h1M140 2.5h1M168 2.5h1M194 2.5h1M267 2.5h1M352 2.5h1M383 2.5h1M403 2.5h1M406 2.5h1M422 2.5h1M491 2.5h1M495 2.5h1M596 2.5h1M680 2.5h1M710 2.5h1M715 2.5h1M727 2.5h1M729 2.5h1M772 2.5h1M4 3.5h1M14 3.5h1M40 3.5h1M42 3.5h1M49 3.5h1M69 3.5h1M155 3.5h1M316 3.5h1M330 3.5h1M374 3.5h1M403 3.5h1M454 3.5h1M493 3.5h1M548 3.5h1M568 3.5h1M665 3.5h1M729 3.5h1M748 3.5h1M794 3.5h1M50 4.5h1M56 4.5h1M133 4.5h1M138 4.5h1M210 4.5h1M285 4.5h1M334 4.5h1M382 4.5h1M521 4.5h1M527 4.5h1M529 4.5h1M551 4.5h1M559 4.5h1M590 4.5h1M634 4.5h2M726 4.5h1M765 4.5h1M772 4.5h1M12 5.5h1M27 5.5h1M73 5.5h1M91 5.5h1M104 5.5h2M177 5.5h1M282 5.5h1M284 5.5h1M334 5.5h1M361 5.5h1M392 5.5h1M403 5.5h1M498 5.5h1M527 5.5h1M531 5.5h1M556 5.5h1M657 5.5h1M698 5.5h1M713 5.5h1M737 5.5h1M15 6.5h1M18 6.5h1M27 6.5h1M29 6.5h1M37 6.5h1M41 6.5h1M104 6.5h1M126 6.5h1M142 6.5h1M176 6.5h1M315 6.5h1M322 6.5h1M359 6.5h1M369 6.5h1M468 6.5h1M474 6.5h1M539 6.5h1M599 6.5h1M646 6.5h1M659 6.5h1M662 6.5h1M754 6.5h1M134 7.5h1M168 7.5h1M253 7.5h1M261 7.5h1M277 7.5h1M316 7.5h1M410 7.5h1M500 7.5h1M567 7.5h1M600 7.5h1M631 7.5h1M658 7.5h1M714 7.5h1M731 7.5h1M739 7.5h1M786 7.5h1M792 7.5h1M101 8.5h1M108 8.5h1M157 8.5h1M214 8.5h1M226 8.5h1M279 8.5h1M317 8.5h1M474 8.5h1M500 8.5h1M544 8.5h1M548 8.5h1M600 8.5h1M680 8.5h1M701 8.5h1M795 8.5h1M1 9.5h1M3 9.5h1M22 9.5h1M44 9.5h2M52 9.5h1M58 9.5h1M70 9.5h1M88 9.5h1M326 9.5h1M450 9.5h1M476 9.5h1M510 9.5h1M518 9.5h1M524 9.5h1M576 9.5h1M659 9.5h1M665 9.5h1M751 9.5h1M784 9.5h1M789 9.5h1M796 9.5h2M1 10.5h1M12 10.5h1M48 10.5h1M205 10.5h1M240 10.5h1M245 10.5h1M310 10.5h1M320 10.5h1M336 10.5h1M360 10.5h1M391 10.5h1M402 10.5h1M410 10.5h1M416 10.5h1M483 10.5h1M512 10.5h1M554 10.5h1M624 10.5h1M732 10.5h1M772 10.5h1M796 10.5h1M103 11.5h1M119 11.5h1M125 11.5h1M152 11.5h1M217 11.5h1M306 11.5h2M331 11.5h1M343 11.5h1M351 11.5h1M391 11.5h1M558 11.5h1M613 11.5h1M625 11.5h1M635 11.5h1M666 11.5h1M694 11.5h1M737 11.5h1M772 11.5h1M60 12.5h2M138 12.5h1M177 12.5h1M215 12.5h1M261 12.5h1M269 12.5h1M399 12.5h1M406 12.5h1M470 12.5h1M534 12.5h1M574 12.5h1M581 12.5h1M609 12.5h1M657 12.5h1M718 12.5h1"/><path stroke="#700000" d="M109 0.5h1M118 0.5h1M178 0.5h1M201 0.5h1M213 0.5h1M226 0.5h1M283 0.5h1M344 0.5h1M375 0.5h1M425 0.5h1M493 0.5h1M507 0.5h1M533 0.5h1M550 0.5h1M562 0.5h1M570 0.5h1M622 0.5h1M645 0.5h1M649 0.5h1M667 0.5h1M673 0.5h1M709 0.5h1M724 0.5h1M733 0.5h1M748 0.5h1M788 0.5h1M87 1.5h1M213 1.5h1M220 1.5h1M262 1.5h1M266 1.5h1M304 1.5h1M330 1.5h1M358 1.5h1M361 1.5h1M414 1.5h1M490 1.5h1M493 1.5h1M562 1.5h1M622 1.5h1M635 1.5h1M676 1.5h3M684 1.5h1M689 1.5h1M1 2.5h1M3 2.5h2M14 2.5h1M16 2.5h1M248 2.5h1M311 2.5h1M390 2.5h1M431 2.5h1M445 2.5h1M624 2.5h1M773 2.5h1M799 2.5h1M3 3.5h1M8 3.5h1M16 3.5h1M22 3.5h1M27 3.5h1M33 3.5h1M43 3.5h1M58 3.5h1M79 3.5h2M171 3.5h1M247 3.5h1M311 3.5h1M318 3.5h1M343 3.5h1M364 3.5h1M395 3.5h1M406 3.5h1M414 3.5h1M485 3.5h1M491 3.5h1M537 3.5h1M591 3.5h1M624 3.5h1M674 3.5h1M738 3.5h1M72 4.5h1M88 4.5h1M91 4.5h1M149 4.5h1M156 4.5h1M233 4.5h1M279 4.5h1M295 4.5h1M321 4.5h1M359 4.5h1M369 4.5h1M454 4.5h1M458 4.5h1M460 4.5h1M478 4.5h1M520 4.5h1M548 4.5h1M732 4.5h1M761 4.5h1M798 4.5h1M36 5.5h1M58 5.5h1M133 5.5h1M250 5.5h1M267 5.5h1M277 5.5h1M308 5.5h1M310 5.5h1M322 5.5h1M349 5.5h1M391 5.5h1M418 5.5h1M426 5.5h1M442 5.5h1M460 5.5h1M559 5.5h1M587 5.5h1M604 5.5h1M646 5.5h1M673 5.5h2M697 5.5h1M711 5.5h1M751 5.5h1M791 5.5h1M3 6.5h1M64 6.5h1M161 6.5h1M173 6.5h2M179 6.5h1M280 6.5h1M304 6.5h1M316 6.5h1M319 6.5h1M478 6.5h2M498 6.5h1M505 6.5h1M543 6.5h1M563 6.5h1M586 6.5h1M608 6.5h1M702 6.5h1M710 6.5h1M777 6.5h1M102 7.5h1M107 7.5h1M152 7.5h1M203 7.5h1M208 7.5h1M367 7.5h1M431 7.5h1M542 7.5h1M548 7.5h1M636 7.5h1M788 7.5h1M172 8.5h1M181 8.5h1M188 8.5h1M261 8.5h1M263 8.5h1M277 8.5h1M367 8.5h1M409 8.5h2M424 8.5h1M454 8.5h1M621 8.5h2M662 8.5h1M724 8.5h1M5 9.5h1M10 9.5h1M21 9.5h1M27 9.5h1M35 9.5h1M38 9.5h1M60 9.5h1M65 9.5h1M97 9.5h1M108 9.5h1M139 9.5h1M227 9.5h1M294 9.5h1M324 9.5h1M367 9.5h1M436 9.5h1M442 9.5h1M498 9.5h1M541 9.5h1M593 9.5h1M607 9.5h1M620 9.5h1M662 9.5h1M732 9.5h1M775 9.5h1M779 9.5h1M4 10.5h1M6 10.5h1M22 10.5h1M38 10.5h1M52 10.5h1M62 10.5h1M145 10.5h1M284 10.5h1M296 10.5h1M376 10.5h1M386 10.5h1M411 10.5h1M458 10.5h1M523 10.5h1M563 10.5h1M608 10.5h1M638 10.5h1M691 10.5h1M743 10.5h1M113 11.5h1M123 11.5h1M363 11.5h1M370 11.5h1M374 11.5h1M417 11.5h1M488 11.5h1M548 11.5h1M581 11.5h1M622 11.5h1M624 11.5h1M689 11.5h1M702 11.5h1M707 11.5h1M769 11.5h1M11 12.5h1M26 12.5h2M152 12.5h2M207 12.5h1M268 12.5h1M273 12.5h1M348 12.5h1M391 12.5h1M429 12.5h2M624 12.5h1M635 12.5h1M787 12.5h1"/><path stroke="#7a0000" d="M125 0.5h1M184 0.5h1M194 0.5h2M223 0.5h1M227 0.5h1M240 0.5h1M248 0.5h1M294 0.5h1M319 0.5h1M361 0.5h1M377 0.5h1M416 0.5h1M465 0.5h1M475 0.5h1M630 0.5h1M678 0.5h1M750 0.5h1M762 0.5h1M782 0.5h1M799 0.5h1M109 1.5h1M137 1.5h1M151 1.5h1M178 1.5h1M183 1.5h1M223 1.5h1M268 1.5h1M283 1.5h1M311 1.5h1M390 1.5h1M394 1.5h1M425 1.5h1M433 1.5h1M465 1.5h1M523 1.5h1M650 1.5h1M667 1.5h1M669 1.5h1M745 1.5h1M766 1.5h1M782 1.5h1M6 2.5h1M33 2.5h1M45 2.5h1M61 2.5h1M67 2.5h1M80 2.5h1M155 2.5h1M239 2.5h1M316 2.5h1M343 2.5h1M392 2.5h1M568 2.5h1M611 2.5h1M703 2.5h1M771 2.5h1M792 2.5h1M1 3.5h1M18 3.5h1M61 3.5h1M67 3.5h1M70 3.5h1M140 3.5h1M246 3.5h1M254 3.5h1M285 3.5h1M310 3.5h1M350 3.5h1M383 3.5h1M422 3.5h1M431 3.5h1M459 3.5h1M492 3.5h1M495 3.5h1M596 3.5h1M715 3.5h1M772 3.5h1M775 3.5h1M3 4.5h1M22 4.5h1M28 4.5h1M36 4.5h1M41 4.5h1M44 4.5h1M96 4.5h1M142 4.5h1M157 4.5h1M180 4.5h1M213 4.5h1M311 4.5h1M318 4.5h1M373 4.5h1M434 4.5h1M471 4.5h1M518 4.5h1M525 4.5h1M539 4.5h1M630 4.5h1M681 4.5h1M689 4.5h1M730 4.5h1M773 4.5h1M9 5.5h1M46 5.5h1M69 5.5h2M118 5.5h1M146 5.5h1M191 5.5h1M312 5.5h1M408 5.5h1M432 5.5h1M457 5.5h1M532 5.5h1M540 5.5h1M622 5.5h1M689 5.5h1M700 5.5h1M702 5.5h2M716 5.5h1M741 5.5h1M772 5.5h1M783 5.5h1M21 6.5h1M63 6.5h1M70 6.5h1M74 6.5h1M118 6.5h1M171 6.5h1M203 6.5h1M243 6.5h1M253 6.5h1M269 6.5h1M278 6.5h1M331 6.5h1M396 6.5h1M476 6.5h1M532 6.5h1M699 6.5h1M743 6.5h1M761 6.5h1M141 7.5h1M143 7.5h1M157 7.5h2M214 7.5h1M226 7.5h1M263 7.5h1M322 7.5h1M403 7.5h1M448 7.5h1M630 7.5h1M647 7.5h1M701 7.5h1M729 7.5h1M199 8.5h1M203 8.5h1M233 8.5h1M307 8.5h1M337 8.5h1M344 8.5h1M422 8.5h1M431 8.5h1M512 8.5h1M542 8.5h1M551 8.5h1M611 8.5h2M644 8.5h1M665 8.5h1M687 8.5h1M799 8.5h1M14 9.5h1M26 9.5h1M37 9.5h1M53 9.5h1M75 9.5h1M115 9.5h1M229 9.5h1M317 9.5h1M347 9.5h1M349 9.5h1M447 9.5h1M567 9.5h1M628 9.5h1M664 9.5h1M0 10.5h1M24 10.5h1M35 10.5h1M60 10.5h1M312 10.5h1M321 10.5h1M566 10.5h1M631 10.5h1M708 10.5h1M739 10.5h1M788 10.5h1M791 10.5h1M0 11.5h1M5 11.5h1M37 11.5h1M41 11.5h1M44 11.5h1M136 11.5h1M205 11.5h1M207 11.5h1M320 11.5h1M465 11.5h1M565 11.5h2M644 11.5h1M648 11.5h2M700 11.5h1M779 11.5h1M792 11.5h1M24 12.5h1M39 12.5h1M41 12.5h1M64 12.5h1M142 12.5h1M198 12.5h1M223 12.5h1M280 12.5h1M291 12.5h1M330 12.5h1M343 12.5h1M362 12.5h1M485 12.5h1M491 12.5h1M531 12.5h1M569 12.5h1M660 12.5h1M683 12.5h1M745 12.5h1M768 12.5h1M779 12.5h1M786 12.5h1"/><path stroke="#850000" d="M101 0.5h1M105 0.5h1M114 0.5h1M134 0.5h1M151 0.5h1M228 0.5h1M253 0.5h1M320 0.5h1M323 0.5h1M447 0.5h1M482 0.5h1M509 0.5h1M556 0.5h1M559 0.5h1M664 0.5h1M676 0.5h2M687 0.5h1M722 0.5h1M792 0.5h1M101 1.5h1M105 1.5h1M125 1.5h1M147 1.5h1M159 1.5h1M259 1.5h1M400 1.5h1M428 1.5h1M444 1.5h1M499 1.5h1M509 1.5h1M543 1.5h1M554 1.5h1M556 1.5h2M574 1.5h1M606 1.5h1M680 1.5h1M768 1.5h1M789 1.5h1M18 2.5h1M24 2.5h1M32 2.5h1M37 2.5h1M43 2.5h1M51 2.5h1M56 2.5h1M63 2.5h1M110 2.5h1M112 2.5h1M223 2.5h1M254 2.5h1M310 2.5h1M448 2.5h1M467 2.5h1M485 2.5h2M571 2.5h1M775 2.5h1M791 2.5h1M6 3.5h1M15 3.5h1M24 3.5h1M37 3.5h1M45 3.5h1M51 3.5h1M56 3.5h1M63 3.5h1M68 3.5h1M112 3.5h1M185 3.5h1M392 3.5h1M458 3.5h1M467 3.5h1M611 3.5h1M680 3.5h1M799 3.5h1M18 4.5h1M27 4.5h1M47 4.5h1M63 4.5h1M74 4.5h1M105 4.5h1M203 4.5h1M323 4.5h1M345 4.5h1M401 4.5h1M441 4.5h1M727 4.5h1M1 5.5h1M3 5.5h1M13 5.5h1M23 5.5h2M28 5.5h1M35 5.5h1M41 5.5h1M50 5.5h1M74 5.5h1M269 5.5h1M291 5.5h1M522 5.5h1M550 5.5h1M590 5.5h1M755 5.5h1M4 6.5h1M26 6.5h1M28 6.5h1M31 6.5h1M44 6.5h1M47 6.5h1M109 6.5h1M241 6.5h1M288 6.5h1M349 6.5h1M361 6.5h1M446 6.5h1M500 6.5h1M537 6.5h1M548 6.5h1M700 6.5h2M714 6.5h1M750 6.5h1M181 7.5h1M228 7.5h2M233 7.5h1M235 7.5h1M335 7.5h1M422 7.5h1M611 7.5h1M680 7.5h1M687 7.5h1M789 7.5h1M100 8.5h1M135 8.5h1M168 8.5h1M173 8.5h1M206 8.5h1M208 8.5h1M285 8.5h1M324 8.5h1M441 8.5h1M599 8.5h1M7 9.5h1M25 9.5h1M47 9.5h2M57 9.5h1M73 9.5h2M192 9.5h1M245 9.5h1M391 9.5h1M394 9.5h1M525 9.5h1M566 9.5h1M598 9.5h1M609 9.5h1M654 9.5h1M679 9.5h1M773 9.5h1M7 10.5h1M9 10.5h1M17 10.5h1M27 10.5h1M36 10.5h1M42 10.5h1M44 10.5h1M46 10.5h1M64 10.5h2M67 10.5h1M199 10.5h1M257 10.5h1M283 10.5h1M286 10.5h1M315 10.5h1M431 10.5h1M457 10.5h1M689 10.5h1M735 10.5h1M747 10.5h1M28 11.5h1M35 11.5h1M94 11.5h1M353 11.5h1M665 11.5h1M723 11.5h1M0 12.5h1M37 12.5h1M53 12.5h1M62 12.5h1M97 12.5h1M103 12.5h1M113 12.5h1M187 12.5h1M310 12.5h1M336 12.5h1M440 12.5h1M468 12.5h1M536 12.5h1M545 12.5h1M565 12.5h1M689 12.5h1M719 12.5h1"/><path stroke="#8f0000" d="M86 0.5h1M108 0.5h1M262 0.5h1M394 0.5h1M459 0.5h1M485 0.5h1M523 0.5h1M572 0.5h1M574 0.5h1M596 0.5h1M606 0.5h1M610 0.5h1M614 0.5h1M632 0.5h1M637 0.5h1M710 0.5h1M726 0.5h1M787 0.5h1M108 1.5h1M134 1.5h1M226 1.5h1M234 1.5h1M253 1.5h1M313 1.5h1M332 1.5h1M339 1.5h1M377 1.5h1M416 1.5h2M447 1.5h1M471 1.5h1M528 1.5h1M559 1.5h1M580 1.5h1M649 1.5h1M668 1.5h1M710 1.5h1M12 2.5h1M15 2.5h1M38 2.5h1M70 2.5h1M285 2.5h1M458 2.5h1M622 2.5h1M783 2.5h1M794 2.5h1M38 3.5h1M48 3.5h1M52 3.5h1M110 3.5h1M239 3.5h1M322 3.5h1M384 3.5h1M448 3.5h1M479 3.5h1M581 3.5h1M587 3.5h1M635 3.5h1M714 3.5h1M2 4.5h1M17 4.5h1M40 4.5h1M61 4.5h1M113 4.5h1M126 4.5h1M273 4.5h1M278 4.5h1M292 4.5h1M425 4.5h1M585 4.5h1M690 4.5h1M710 4.5h1M769 4.5h1M771 4.5h1M39 5.5h1M63 5.5h1M66 5.5h1M113 5.5h1M248 5.5h1M283 5.5h1M321 5.5h1M370 5.5h1M397 5.5h1M14 6.5h1M24 6.5h1M59 6.5h1M72 6.5h1M204 6.5h1M213 6.5h1M294 6.5h1M324 6.5h1M412 6.5h1M457 6.5h1M550 6.5h1M760 6.5h1M61 7.5h1M201 7.5h1M324 7.5h1M378 7.5h1M427 7.5h1M438 7.5h1M551 7.5h1M22 8.5h1M141 8.5h1M223 8.5h1M290 8.5h1M311 8.5h1M374 8.5h1M403 8.5h1M755 8.5h1M779 8.5h1M0 9.5h1M2 9.5h1M6 9.5h1M13 9.5h1M15 9.5h1M23 9.5h1M30 9.5h1M43 9.5h1M46 9.5h1M55 9.5h1M62 9.5h1M66 9.5h2M181 9.5h1M206 9.5h1M571 9.5h1M619 9.5h1M638 9.5h1M3 10.5h1M5 10.5h1M14 10.5h1M29 10.5h1M58 10.5h1M72 10.5h3M183 10.5h1M249 10.5h1M438 10.5h1M445 10.5h1M724 10.5h1M775 10.5h1M60 11.5h2M72 11.5h1M238 11.5h1M245 11.5h1M387 11.5h1M455 11.5h1M505 11.5h1M567 11.5h1M606 11.5h1M683 11.5h1M760 11.5h1M786 11.5h2M54 12.5h1M65 12.5h1M69 12.5h1M73 12.5h1M75 12.5h1M108 12.5h1M260 12.5h1M292 12.5h1M314 12.5h1M736 12.5h1"/><path stroke="#990000" d="M147 0.5h1M183 0.5h1M266 0.5h1M359 0.5h1M369 0.5h1M390 0.5h1M401 0.5h1M444 0.5h1M557 0.5h1M680 0.5h1M764 0.5h1M86 1.5h1M167 1.5h1M182 1.5h1M239 1.5h1M276 1.5h1M323 1.5h1M516 1.5h1M544 1.5h1M546 1.5h1M579 1.5h1M596 1.5h1M726 1.5h1M750 1.5h1M767 1.5h1M792 1.5h1M25 2.5h1M30 2.5h1M44 2.5h1M52 2.5h1M68 2.5h1M322 2.5h1M360 2.5h1M459 2.5h1M548 2.5h1M587 2.5h1M591 2.5h1M635 2.5h1M661 2.5h1M665 2.5h1M763 2.5h1M12 3.5h1M23 3.5h1M32 3.5h1M41 3.5h1M54 3.5h1M65 3.5h2M227 3.5h1M267 3.5h1M331 3.5h1M360 3.5h1M429 3.5h1M486 3.5h1M590 3.5h1M622 3.5h1M654 3.5h1M771 3.5h1M9 4.5h1M14 4.5h1M21 4.5h1M24 4.5h1M33 4.5h1M73 4.5h1M75 4.5h1M144 4.5h1M280 4.5h1M410 4.5h1M488 4.5h1M596 4.5h1M702 4.5h1M4 5.5h1M6 5.5h1M14 5.5h1M18 5.5h1M21 5.5h1M29 5.5h1M52 5.5h1M278 5.5h1M478 5.5h1M599 5.5h1M662 5.5h1M779 5.5h1M38 6.5h1M52 6.5h1M58 6.5h1M85 6.5h1M91 6.5h1M284 6.5h1M432 6.5h1M590 6.5h1M25 7.5h1M49 7.5h1M100 7.5h1M135 7.5h1M401 7.5h1M474 7.5h1M612 7.5h1M644 7.5h1M677 7.5h1M755 7.5h1M797 7.5h1M0 8.5h1M25 8.5h1M39 8.5h1M61 8.5h1M72 8.5h2M134 8.5h1M158 8.5h1M250 8.5h1M272 8.5h1M309 8.5h1M325 8.5h1M50 9.5h1M64 9.5h1M284 9.5h1M408 9.5h1M674 9.5h1M39 10.5h1M55 10.5h1M57 10.5h1M289 10.5h1M368 10.5h1M385 10.5h1M387 10.5h1M447 10.5h1M558 10.5h1M784 10.5h1M11 11.5h2M24 11.5h1M27 11.5h1M53 11.5h2M396 11.5h1M462 11.5h1M514 11.5h1M590 11.5h1M744 11.5h1M5 12.5h1M17 12.5h1M46 12.5h1M66 12.5h1M161 12.5h1M226 12.5h1M234 12.5h1M599 12.5h1M723 12.5h1M771 12.5h1"/><path stroke="#a30000" d="M92 0.5h1M245 0.5h1M268 0.5h1M337 0.5h1M457 0.5h1M571 0.5h1M705 0.5h1M715 0.5h1M175 1.5h1M209 1.5h1M228 1.5h1M245 1.5h1M248 1.5h1M294 1.5h1M335 1.5h1M359 1.5h1M457 1.5h1M548 1.5h1M630 1.5h1M705 1.5h1M715 1.5h1M764 1.5h1M11 2.5h1M23 2.5h1M35 2.5h1M48 2.5h1M54 2.5h1M66 2.5h1M230 2.5h1M502 2.5h1M590 2.5h1M30 3.5h1M34 3.5h1M44 3.5h1M55 3.5h1M57 3.5h1M60 3.5h1M128 3.5h1M661 3.5h1M699 3.5h1M773 3.5h1M791 3.5h1M37 4.5h1M52 4.5h1M58 4.5h1M66 4.5h1M173 4.5h1M283 4.5h2M22 5.5h1M33 5.5h1M45 5.5h1M47 5.5h1M422 5.5h1M0 6.5h1M22 6.5h2M30 6.5h1M40 6.5h1M42 6.5h1M60 6.5h1M66 6.5h1M157 6.5h1M460 6.5h1M698 6.5h1M0 7.5h1M5 7.5h1M13 7.5h1M17 7.5h1M44 7.5h2M53 7.5h1M72 7.5h2M202 7.5h1M223 7.5h1M321 7.5h1M337 7.5h1M447 7.5h1M686 7.5h1M759 7.5h1M5 8.5h1M13 8.5h1M15 8.5h1M18 8.5h1M49 8.5h1M52 8.5h1M59 8.5h1M201 8.5h1M321 8.5h1M391 8.5h1M427 8.5h1M447 8.5h1M686 8.5h1M24 9.5h1M29 9.5h1M32 9.5h1M39 9.5h2M49 9.5h1M59 9.5h1M233 9.5h1M305 9.5h1M428 9.5h1M457 9.5h1M480 9.5h1M632 9.5h1M19 10.5h1M26 10.5h1M47 10.5h1M75 10.5h1M318 10.5h1M324 10.5h1M586 10.5h1M588 10.5h1M665 10.5h1M669 10.5h1M799 10.5h1M36 11.5h1M64 11.5h2M356 11.5h1M534 11.5h1M571 11.5h1M736 11.5h1M3 12.5h1M28 12.5h1M34 12.5h1M36 12.5h1M40 12.5h1M47 12.5h1M49 12.5h1M71 12.5h1M173 12.5h1M256 12.5h1M368 12.5h1M448 12.5h1M452 12.5h1M505 12.5h1M643 12.5h1"/><path stroke="#ad0000" d="M87 0.5h1M182 0.5h1M239 0.5h1M358 0.5h1M400 0.5h1M478 0.5h1M502 0.5h1M520 0.5h1M560 0.5h1M668 0.5h2M194 1.5h1M269 1.5h1M572 1.5h1M610 1.5h1M632 1.5h1M787 1.5h1M10 2.5h1M21 2.5h1M34 2.5h1M41 2.5h1M50 2.5h1M55 2.5h1M57 2.5h1M60 2.5h1M62 2.5h1M74 2.5h1M119 2.5h1M185 2.5h1M221 2.5h1M331 2.5h1M384 2.5h1M421 2.5h1M479 2.5h1M569 2.5h1M714 2.5h1M0 3.5h1M11 3.5h1M21 3.5h1M25 3.5h1M47 3.5h1M74 3.5h1M119 3.5h1M230 3.5h1M437 3.5h1M515 3.5h1M569 3.5h1M571 3.5h1M792 3.5h1M4 4.5h1M30 4.5h1M32 4.5h1M39 4.5h1M45 4.5h1M57 4.5h1M64 4.5h1M128 4.5h1M532 4.5h1M692 4.5h1M8 5.5h1M20 5.5h1M26 5.5h1M38 5.5h1M49 5.5h1M51 5.5h1M57 5.5h1M85 5.5h1M202 5.5h1M1 6.5h1M45 6.5h1M65 6.5h1M67 6.5h1M75 6.5h1M392 6.5h1M657 6.5h1M12 7.5h1M15 7.5h1M18 7.5h1M22 7.5h1M27 7.5h1M39 7.5h1M42 7.5h1M47 7.5h1M50 7.5h1M52 7.5h1M56 7.5h1M59 7.5h1M165 7.5h1M173 7.5h1M180 7.5h1M183 7.5h1M311 7.5h1M344 7.5h1M391 7.5h1M588 7.5h1M9 8.5h1M12 8.5h1M17 8.5h1M21 8.5h1M27 8.5h1M42 8.5h1M44 8.5h2M47 8.5h1M50 8.5h1M53 8.5h1M58 8.5h1M64 8.5h1M102 8.5h1M360 8.5h1M636 8.5h1M647 8.5h1M677 8.5h1M729 8.5h1M4 9.5h1M36 9.5h1M63 9.5h1M71 9.5h1M134 9.5h1M154 9.5h1M321 9.5h1M370 9.5h1M458 9.5h1M792 9.5h1M13 10.5h1M18 10.5h1M33 10.5h1M40 10.5h1M59 10.5h1M429 10.5h1M585 10.5h1M4 11.5h1M17 11.5h1M21 11.5h1M40 11.5h1M45 11.5h1M62 11.5h1M66 11.5h1M71 11.5h1M108 11.5h1M199 11.5h1M202 11.5h1M409 11.5h1M10 12.5h1M13 12.5h1M23 12.5h1M30 12.5h1M44 12.5h1M56 12.5h1M72 12.5h1M262 12.5h1M342 12.5h1M451 12.5h1M606 12.5h1M670 12.5h1M738 12.5h1M744 12.5h1M750 12.5h1"/><path stroke="#b80000" d="M199 0.5h1M220 0.5h1M259 0.5h1M471 0.5h1M580 0.5h1M605 0.5h1M628 0.5h1M796 0.5h1M478 1.5h1M491 1.5h1M628 1.5h1M736 1.5h1M757 1.5h1M19 2.5h2M47 2.5h1M65 2.5h1M515 2.5h1M654 2.5h1M683 2.5h1M699 2.5h1M10 3.5h1M19 3.5h2M35 3.5h1M50 3.5h1M62 3.5h1M502 3.5h1M6 4.5h1M8 4.5h1M11 4.5h2M29 4.5h1M60 4.5h1M68 4.5h1M511 4.5h1M683 4.5h1M42 5.5h1M55 5.5h1M65 5.5h1M72 5.5h1M174 5.5h1M180 5.5h1M203 5.5h1M451 5.5h1M476 5.5h1M2 6.5h1M8 6.5h1M33 6.5h2M39 6.5h1M53 6.5h1M55 6.5h1M71 6.5h1M429 6.5h1M681 6.5h1M716 6.5h1M4 7.5h1M8 7.5h2M21 7.5h1M24 7.5h1M29 7.5h1M31 7.5h1M35 7.5h1M38 7.5h1M55 7.5h1M58 7.5h1M62 7.5h1M64 7.5h1M101 7.5h1M199 7.5h1M278 7.5h1M309 7.5h1M779 7.5h1M799 7.5h1M3 8.5h1M8 8.5h1M24 8.5h1M29 8.5h1M31 8.5h1M37 8.5h1M55 8.5h2M65 8.5h2M70 8.5h1M235 8.5h1M378 8.5h1M401 8.5h1M789 8.5h1M17 9.5h1M19 9.5h1M208 9.5h1M257 9.5h1M558 9.5h1M680 9.5h1M725 9.5h1M20 10.5h1M25 10.5h1M30 10.5h1M43 10.5h1M49 10.5h2M56 10.5h1M80 10.5h1M132 10.5h1M134 10.5h1M525 10.5h1M613 10.5h1M2 11.5h1M10 11.5h1M16 11.5h1M18 11.5h1M22 11.5h1M34 11.5h1M39 11.5h1M43 11.5h1M47 11.5h1M49 11.5h1M59 11.5h1M70 11.5h1M213 11.5h1M230 11.5h1M246 11.5h1M262 11.5h1M342 11.5h1M388 11.5h1M530 11.5h1M8 12.5h1M18 12.5h1M22 12.5h1M33 12.5h1M50 12.5h1M58 12.5h2M63 12.5h1M125 12.5h1M283 12.5h1"/><path stroke="#c20000" d="M137 0.5h1M175 0.5h1M491 0.5h1M516 0.5h1M579 0.5h1M703 0.5h1M736 0.5h1M106 1.5h1M199 1.5h1M369 1.5h1M594 1.5h1M605 1.5h1M614 1.5h1M722 1.5h1M794 1.5h1M796 1.5h1M0 2.5h1M2 2.5h1M437 2.5h1M2 3.5h1M221 3.5h1M763 3.5h1M0 4.5h2M10 4.5h1M26 4.5h1M43 4.5h1M306 4.5h1M348 4.5h1M0 5.5h1M34 5.5h1M40 5.5h1M54 5.5h1M67 5.5h2M71 5.5h1M318 5.5h1M385 5.5h1M471 5.5h1M785 5.5h1M9 6.5h1M17 6.5h1M49 6.5h1M180 6.5h1M589 6.5h1M2 7.5h2M23 7.5h1M37 7.5h1M40 7.5h1M43 7.5h1M46 7.5h1M48 7.5h1M63 7.5h1M67 7.5h1M70 7.5h2M75 7.5h1M250 7.5h1M1 8.5h2M4 8.5h1M10 8.5h1M32 8.5h1M35 8.5h1M38 8.5h1M40 8.5h1M43 8.5h1M46 8.5h1M48 8.5h1M62 8.5h1M71 8.5h1M75 8.5h1M314 8.5h1M33 9.5h1M69 9.5h1M101 9.5h1M218 9.5h1M429 9.5h1M63 10.5h1M66 10.5h1M71 10.5h1M331 10.5h1M367 10.5h1M635 10.5h1M679 10.5h1M750 10.5h1M8 11.5h1M15 11.5h1M19 11.5h1M25 11.5h1M29 11.5h2M32 11.5h1M51 11.5h2M69 11.5h1M75 11.5h1M451 11.5h1M509 11.5h1M528 11.5h1M2 12.5h1M14 12.5h1M21 12.5h1M35 12.5h1M45 12.5h1M213 12.5h1"/><path stroke="#cc0000" d="M269 0.5h1M339 0.5h1M546 0.5h1M594 0.5h1M289 1.5h1M328 1.5h1M351 1.5h1M520 1.5h1M560 1.5h1M797 1.5h1M141 2.5h1M227 2.5h1M429 2.5h1M417 3.5h1M683 3.5h1M23 4.5h1M42 4.5h1M53 4.5h1M55 4.5h1M59 4.5h1M62 4.5h1M69 4.5h1M83 4.5h1M109 4.5h1M2 5.5h1M16 5.5h1M48 5.5h1M59 5.5h1M75 5.5h1M157 5.5h1M520 5.5h1M525 5.5h1M681 5.5h1M12 6.5h1M16 6.5h1M51 6.5h1M451 6.5h1M755 6.5h1M1 7.5h1M7 7.5h1M10 7.5h1M14 7.5h1M16 7.5h1M19 7.5h1M26 7.5h1M32 7.5h2M54 7.5h1M65 7.5h2M74 7.5h1M272 7.5h1M595 7.5h1M7 8.5h1M11 8.5h1M16 8.5h1M19 8.5h1M23 8.5h1M33 8.5h1M63 8.5h1M67 8.5h1M74 8.5h1M180 8.5h1M183 8.5h1M588 8.5h1M635 8.5h1M84 9.5h1M724 9.5h1M23 10.5h1M32 10.5h1M51 10.5h1M54 10.5h1M69 10.5h1M401 10.5h1M619 10.5h1M3 11.5h1M14 11.5h1M23 11.5h1M46 11.5h1M55 11.5h1M58 11.5h1M74 11.5h1M142 11.5h1M173 11.5h1M7 12.5h1M15 12.5h1M29 12.5h1M42 12.5h1M55 12.5h1M57 12.5h1M67 12.5h1M70 12.5h1"/><path stroke="#d60000" d="M133 0.5h1M167 0.5h1M219 0.5h1M335 0.5h1M584 0.5h1M133 1.5h1M459 1.5h1M584 1.5h1M799 1.5h1M135 2.5h1M421 3.5h1M13 4.5h1M16 4.5h1M19 4.5h2M48 4.5h1M51 4.5h1M534 4.5h1M795 4.5h1M11 5.5h1M768 5.5h1M13 6.5h1M19 6.5h1M57 6.5h1M68 6.5h1M111 6.5h1M311 6.5h1M321 6.5h1M422 6.5h1M471 6.5h1M512 6.5h1M606 6.5h1M6 7.5h1M20 7.5h1M28 7.5h1M36 7.5h1M41 7.5h1M57 7.5h1M69 7.5h1M6 8.5h1M14 8.5h1M20 8.5h1M26 8.5h1M28 8.5h1M30 8.5h1M36 8.5h1M41 8.5h1M57 8.5h1M200 8.5h1M438 8.5h1M18 9.5h1M20 9.5h1M34 9.5h1M42 9.5h1M54 9.5h1M56 9.5h1M401 9.5h1M2 10.5h1M68 10.5h1M6 11.5h1M9 11.5h1M13 11.5h1M26 11.5h1M33 11.5h1M38 11.5h1M50 11.5h1M63 11.5h1M67 11.5h1M73 11.5h1M1 12.5h1M12 12.5h1M16 12.5h1M25 12.5h1M43 12.5h1"/><path stroke="#e00000" d="M351 0.5h1M696 0.5h1M794 0.5h1M670 1.5h1M135 3.5h1M141 3.5h1M5 4.5h1M7 4.5h1M25 4.5h1M46 4.5h1M49 4.5h1M54 4.5h1M65 4.5h1M586 4.5h1M7 5.5h1M37 5.5h1M53 5.5h1M11 6.5h1M20 6.5h1M46 6.5h1M545 6.5h1M11 7.5h1M30 7.5h1M34 7.5h1M60 7.5h1M314 7.5h1M635 7.5h1M34 8.5h1M51 8.5h1M60 8.5h1M69 8.5h1M215 8.5h1M278 8.5h1M428 10.5h1M31 11.5h1M42 11.5h1M48 11.5h1M56 11.5h1M68 11.5h1M267 11.5h1M440 11.5h1M4 12.5h1M68 12.5h1M74 12.5h1M550 12.5h1"/><path stroke="#eb0000" d="M106 0.5h1M328 0.5h1M371 0.5h1M757 0.5h1M371 1.5h1M696 1.5h1M128 2.5h1M417 2.5h1M71 4.5h1M111 4.5h1M531 4.5h1M785 4.5h1M17 5.5h1M19 5.5h1M32 5.5h1M43 5.5h1M311 5.5h1M589 5.5h1M5 6.5h1M7 6.5h1M43 6.5h1M48 6.5h1M54 6.5h1M68 7.5h1M360 7.5h1M54 8.5h1M68 8.5h1M16 9.5h1M101 10.5h1M1 11.5h1M7 11.5h1M57 11.5h1M6 12.5h1M9 12.5h1M20 12.5h1M38 12.5h1M48 12.5h1M51 12.5h1"/><path stroke="#f50000" d="M280 0.5h1M544 0.5h1M280 1.5h1M34 4.5h1M262 4.5h1M60 5.5h1M51 7.5h1M215 7.5h1M183 9.5h1M256 9.5h1M16 10.5h1M218 10.5h1M541 10.5h1M20 11.5h1M19 12.5h1M31 12.5h2M52 12.5h1M709 12.5h1"/><path stroke="#ff0000" d="M164 0.5h1M206 0.5h1M265 0.5h1M289 0.5h1M380 0.5h1M670 0.5h1M797 0.5h1M164 1.5h1M206 1.5h1M219 1.5h1M265 1.5h1M380 1.5h1M38 4.5h1M5 5.5h1M10 5.5h1M10 6.5h1M32 6.5h1M525 6.5h1M768 6.5h1M200 7.5h1M595 8.5h1M51 9.5h1M68 9.5h1M318 9.5h1M331 9.5h1M438 9.5h1M635 9.5h1M34 10.5h1M792 10.5h1M437 12.5h1M509 12.5h1"/></g></g></g></g>
<path d="M87.0 1247.1L99.5 1247.1M87.0 1274.0L99.5 1274.0M87.0 1247.1L87.0 1274.0M99.0 1300.8L99.5 1300.8M99.0 1327.7L99.5 1327.7M99.0 1300.8L99.0 1327.7M57.8 1381.4L99.5 1381.4M57.8 1408.2L99.5 1408.2M57.8 1381.4L57.8 1408.2M47.0 1354.5L99.5 1354.5M47.0 1394.8L57.8 1394.8M47.0 1354.5L47.0 1394.8M76.8 1435.0L99.5 1435.0M76.8 1461.9L99.5 1461.9M76.8 1435.0L76.8 1461.9M56.9 1488.7L99.5 1488.7M56.9 1515.6L99.5 1515.6M56.9 1488.7L56.9 1515.6M48.0 1448.5L76.8 1448.5M48.0 1502.2L56.9 1502.2M48.0 1448.5L48.0 1502.2M44.3 1542.4L99.5 1542.4M44.3 1569.3L99.5 1569.3M44.3 1542.4L44.3 1569.3M40.8 1475.3L48.0 1475.3M40.8 1555.9L44.3 1555.9M40.8 1475.3L40.8 1555.9M31.0 1374.6L47.0 1374.6M31.0 1515.6L40.8 1515.6M31.0 1374.6L31.0 1515.6M16.4 1314.2L99.0 1314.2M16.4 1445.1L31.0 1445.1M16.4 1314.2L16.4 1445.1M4.1 1260.5L87.0 1260.5M4.1 1379.7L16.4 1379.7M4.1 1260.5L4.1 1379.7" fill="none" stroke="#000" stroke-width="1.3" stroke-linecap="square"/>
<text x="792.5" y="1226.1" font-size="18" font-weight="bold" fill="#000">Type</text>
<g font-size="18.1" fill="#000">
<text x="792.2" y="1253.2">GO_SISTER_CHROMATID_SEGREGATION</text>
<text x="792.2" y="1280.1">GO_SISTER_CHROMATID_COHESION</text>
<text x="792.2" y="1306.9">GO_ESTABLISHMENT_OF_PROTEIN_LOCALIZATION_TO_ENDOPLASMIC_RETICULUM</text>
<text x="792.2" y="1333.8">GO_PROTEIN_LOCALIZATION_TO_ENDOPLASMIC_RETICULUM</text>
<text x="792.2" y="1360.6">GO_SECRETORY_GRANULE_MEMBRANE</text>
<text x="792.2" y="1387.5">GO_NEGATIVE_REGULATION_OF_CELLULAR_PROTEIN_LOCALIZATION</text>
<text x="792.2" y="1414.3">GO_EPITHELIAL_CELL_DEVELOPMENT</text>
<text x="792.2" y="1441.1">GO_NEGATIVE_REGULATION_OF_WNT_SIGNALING_PATHWAY</text>
<text x="792.2" y="1468.0">GO_NEGATIVE_REGULATION_OF_CANONICAL_WNT_SIGNALING_PATHWAY</text>
<text x="792.2" y="1494.8">GO_REGULATION_OF_TRANSMEMBRANE_RECEPTOR_PROTEIN_SERINE_THREONINE_KINASE_SIGNALING_PATHWAY</text>
<text x="792.2" y="1521.7">GO_REGULATION_OF_STEM_CELL_PROLIFERATION</text>
<text x="792.2" y="1548.5">GO_MIDBRAIN_DEVELOPMENT</text>
<text x="792.2" y="1575.4">GO_REGULATION_OF_SMOOTH_MUSCLE_CELL_PROLIFERATION</text>
</g>
<g shape-rendering="crispEdges">
<rect x="1845.6" y="1207.90" width="18.6" height="6.06" fill="#f50000"/>
<rect x="1845.6" y="1213.36" width="18.6" height="6.06" fill="#eb0000"/>
<rect x="1845.6" y="1218.82" width="18.6" height="6.06" fill="#e10000"/>
<rect x="1845.6" y="1224.27" width="18.6" height="6.06" fill="#d70000"/>
<rect x="1845.6" y="1229.73" width="18.6" height="6.06" fill="#cd0000"/>
<rect x="1845.6" y="1235.19" width="18.6" height="6.06" fill="#c30000"/>
<rect x="1845.6" y="1240.65" width="18.6" height="6.06" fill="#b90000"/>
<rect x="1845.6" y="1246.11" width="18.6" height="6.06" fill="#af0000"/>
<rect x="1845.6" y="1251.56" width="18.6" height="6.06" fill="#a50000"/>
<rect x="1845.6" y="1257.02" width="18.6" height="6.06" fill="#9b0000"/>
<rect x="1845.6" y="1262.48" width="18.6" height="6.06" fill="#910000"/>
<rect x="1845.6" y="1267.94" width="18.6" height="6.06" fill="#870000"/>
<rect x="1845.6" y="1273.40" width="18.6" height="6.06" fill="#7d0000"/>
<rect x="1845.6" y="1278.85" width="18.6" height="6.06" fill="#730000"/>
<rect x="1845.6" y="1284.31" width="18.6" height="6.06" fill="#690000"/>
<rect x="1845.6" y="1289.77" width="18.6" height="6.06" fill="#5f0000"/>
<rect x="1845.6" y="1295.23" width="18.6" height="6.06" fill="#550000"/>
<rect x="1845.6" y="1300.69" width="18.6" height="6.06" fill="#4b0000"/>
<rect x="1845.6" y="1306.14" width="18.6" height="6.06" fill="#410000"/>
<rect x="1845.6" y="1311.60" width="18.6" height="6.06" fill="#370000"/>
<rect x="1845.6" y="1317.06" width="18.6" height="6.06" fill="#2d0000"/>
<rect x="1845.6" y="1322.52" width="18.6" height="6.06" fill="#230000"/>
<rect x="1845.6" y="1327.98" width="18.6" height="6.06" fill="#190000"/>
<rect x="1845.6" y="1333.43" width="18.6" height="6.06" fill="#0f0000"/>
<rect x="1845.6" y="1338.89" width="18.6" height="6.06" fill="#050000"/>
<rect x="1845.6" y="1344.35" width="18.6" height="6.06" fill="#000500"/>
<rect x="1845.6" y="1349.81" width="18.6" height="6.06" fill="#000f00"/>
<rect x="1845.6" y="1355.27" width="18.6" height="6.06" fill="#001900"/>
<rect x="1845.6" y="1360.72" width="18.6" height="6.06" fill="#002300"/>
<rect x="1845.6" y="1366.18" width="18.6" height="6.06" fill="#002d00"/>
<rect x="1845.6" y="1371.64" width="18.6" height="6.06" fill="#003700"/>
<rect x="1845.6" y="1377.10" width="18.6" height="6.06" fill="#004100"/>
<rect x="1845.6" y="1382.56" width="18.6" height="6.06" fill="#004b00"/>
<rect x="1845.6" y="1388.01" width="18.6" height="6.06" fill="#005500"/>
<rect x="1845.6" y="1393.47" width="18.6" height="6.06" fill="#005f00"/>
<rect x="1845.6" y="1398.93" width="18.6" height="6.06" fill="#006900"/>
<rect x="1845.6" y="1404.39" width="18.6" height="6.06" fill="#007300"/>
<rect x="1845.6" y="1409.85" width="18.6" height="6.06" fill="#007d00"/>
<rect x="1845.6" y="1415.30" width="18.6" height="6.06" fill="#008700"/>
<rect x="1845.6" y="1420.76" width="18.6" height="6.06" fill="#009100"/>
<rect x="1845.6" y="1426.22" width="18.6" height="6.06" fill="#009b00"/>
<rect x="1845.6" y="1431.68" width="18.6" height="6.06" fill="#00a500"/>
<rect x="1845.6" y="1437.14" width="18.6" height="6.06" fill="#00af00"/>
<rect x="1845.6" y="1442.59" width="18.6" height="6.06" fill="#00b900"/>
<rect x="1845.6" y="1448.05" width="18.6" height="6.06" fill="#00c300"/>
<rect x="1845.6" y="1453.51" width="18.6" height="6.06" fill="#00cd00"/>
<rect x="1845.6" y="1458.97" width="18.6" height="6.06" fill="#00d700"/>
<rect x="1845.6" y="1464.43" width="18.6" height="6.06" fill="#00e100"/>
<rect x="1845.6" y="1469.88" width="18.6" height="6.06" fill="#00eb00"/>
<rect x="1845.6" y="1475.34" width="18.6" height="6.06" fill="#00f500"/>
</g>
<text x="1871.5" y="1237.9" dy="0.36em" font-size="18" fill="#000">2</text>
<text x="1871.5" y="1291.7" dy="0.36em" font-size="18" fill="#000">1</text>
<text x="1871.5" y="1345.2" dy="0.36em" font-size="18" fill="#000">0</text>
<text x="1871.5" y="1398.7" dy="0.36em" font-size="18" fill="#000">−1</text>
<text x="1871.5" y="1452.5" dy="0.36em" font-size="18" fill="#000">−2</text>
<text x="1898.5" y="1222" font-size="18" font-weight="bold" fill="#000">Type</text>
<rect x="1898.1" y="1227.8" width="26.1" height="26" fill="#00dae0"/>
<rect x="1898.1" y="1253.8" width="26.1" height="26" fill="#ff9289"/>
<clipPath id="clipb"><rect x="1925" y="1217.8" width="38.59999999999991" height="72"/></clipPath>
<g clip-path="url(#clipb)" font-size="18" fill="#000">
<text x="1929.6" y="1241.3" dy="0.36em">con</text>
<text x="1929.6" y="1267.3" dy="0.36em">treat</text>
</g>
</g>
<g id="panel-c">
<rect x="112.4" y="1622.7" width="64.0" height="18.3" fill="#00dae0"/>
<rect x="176.4" y="1622.7" width="610.0" height="18.3" fill="#ff9289"/>
<rect x="112.4" y="1646.6" width="674.0" height="348.6" fill="#3a2800"/><clipPath id="cphc"><rect x="112.4" y="1646.6" width="674.0" height="348.6"/></clipPath><g clip-path="url(#cphc)"><g filter="url(#hblur)"><g transform="translate(112.4 1646.6) scale(0.84250 29.05000)"><use href="#hc" x="0.5"/><use href="#hc" x="-0.5"/><g id="hc" fill="none" stroke-width="1"><path stroke="#00ff00" d="M36 0.5h1M16 1.5h1M35 1.5h1M390 2.5h1M560 4.5h1M763 4.5h1M268 5.5h1M488 5.5h1M569 5.5h1M453 6.5h1M488 6.5h1M87 8.5h1M283 8.5h1M386 8.5h1M571 8.5h1M143 9.5h1M283 9.5h1M585 9.5h1M534 10.5h1M519 11.5h1M556 11.5h1"/><path stroke="#00f500" d="M18 0.5h1M574 6.5h1M180 7.5h1M224 7.5h1M540 7.5h1M575 7.5h1M582 7.5h1M283 10.5h1"/><path stroke="#00eb00" d="M261 5.5h1M272 8.5h1M518 8.5h1M560 9.5h1"/><path stroke="#00e000" d="M35 0.5h1M55 0.5h1M57 0.5h1M17 1.5h1M276 1.5h1M586 1.5h1M434 3.5h1M473 3.5h1M766 3.5h1M313 5.5h1M507 5.5h1M739 5.5h1M182 6.5h1M569 6.5h1M419 7.5h1M536 7.5h1M644 7.5h1M230 8.5h1M585 8.5h1M225 9.5h1M571 9.5h1M681 9.5h1M799 10.5h1M92 11.5h1M114 11.5h1M225 11.5h1M239 11.5h1"/><path stroke="#00d600" d="M50 0.5h1M602 0.5h1M45 1.5h1M50 1.5h1M231 1.5h1M371 2.5h1M278 4.5h1M82 6.5h1M477 6.5h1M564 6.5h1M783 6.5h1M792 6.5h1M682 7.5h1M481 8.5h1M354 9.5h1M230 10.5h1M361 10.5h1M391 10.5h1M519 10.5h1M560 10.5h1M580 10.5h1M273 11.5h1M449 11.5h1"/><path stroke="#00cc00" d="M10 0.5h1M68 0.5h1M390 0.5h1M455 1.5h1M507 1.5h1M646 1.5h1M16 2.5h1M507 2.5h1M729 2.5h1M47 3.5h1M160 3.5h1M539 3.5h1M785 3.5h1M374 4.5h1M715 4.5h1M723 4.5h1M148 5.5h1M205 5.5h1M754 5.5h1M92 7.5h1M259 7.5h1M441 7.5h1M265 8.5h1M418 8.5h1M87 9.5h1M163 9.5h1M230 9.5h1M386 9.5h1M225 10.5h1M526 10.5h1M256 11.5h1M560 11.5h1"/><path stroke="#00c200" d="M14 0.5h2M47 0.5h1M260 0.5h1M432 0.5h1M273 1.5h1M733 1.5h1M361 2.5h1M8 3.5h1M16 3.5h1M763 3.5h1M571 5.5h1M727 5.5h1M85 6.5h1M88 6.5h1M259 6.5h1M503 6.5h1M535 6.5h1M208 7.5h1M230 7.5h1M248 7.5h1M435 7.5h1M442 7.5h1M562 7.5h1M665 7.5h1M778 7.5h1M91 8.5h1M129 8.5h1M225 8.5h1M765 8.5h1M458 9.5h1M693 9.5h1M736 9.5h1M178 10.5h1M258 10.5h1M335 10.5h1M458 10.5h1M773 10.5h1M777 10.5h1M148 11.5h1M253 11.5h1M332 11.5h1"/><path stroke="#00b800" d="M2 0.5h1M16 0.5h1M19 0.5h1M37 0.5h1M124 0.5h1M451 0.5h1M708 0.5h1M751 0.5h1M13 1.5h1M18 1.5h2M23 1.5h1M36 1.5h1M387 1.5h1M731 1.5h1M35 2.5h1M696 2.5h1M750 2.5h1M1 3.5h1M12 3.5h1M21 3.5h1M92 3.5h1M749 4.5h1M105 5.5h1M224 5.5h1M234 5.5h1M263 5.5h1M361 5.5h1M437 5.5h1M470 5.5h1M638 5.5h1M730 5.5h1M359 6.5h1M551 6.5h1M730 6.5h1M178 7.5h1M231 7.5h1M302 7.5h1M524 7.5h1M658 7.5h1M756 7.5h1M278 8.5h1M288 8.5h1M381 8.5h1M427 8.5h1M730 8.5h1M222 9.5h1M278 9.5h1M116 10.5h1M126 10.5h1M175 10.5h1M342 10.5h1M344 10.5h1M354 10.5h1M386 10.5h1M400 10.5h1M449 10.5h1M646 10.5h1M693 10.5h1M697 10.5h1M737 10.5h1M482 11.5h1M758 11.5h1"/><path stroke="#00ad00" d="M8 0.5h1M13 0.5h1M307 0.5h1M361 0.5h1M554 0.5h1M742 0.5h1M37 1.5h1M67 1.5h1M293 1.5h1M696 1.5h1M741 1.5h1M13 2.5h1M57 2.5h1M219 2.5h1M354 2.5h1M758 2.5h1M58 3.5h1M63 3.5h1M70 3.5h1M276 3.5h1M585 3.5h1M21 4.5h1M35 4.5h1M362 4.5h1M456 4.5h1M641 4.5h1M655 4.5h1M679 4.5h1M721 4.5h1M739 4.5h1M766 4.5h1M782 4.5h1M88 5.5h1M182 5.5h1M201 5.5h1M282 5.5h1M359 5.5h1M371 5.5h1M481 5.5h1M550 5.5h1M579 5.5h1M685 5.5h1M712 5.5h1M125 6.5h1M219 6.5h1M282 6.5h1M361 6.5h1M712 6.5h1M158 7.5h1M170 7.5h1M274 7.5h1M336 7.5h1M349 7.5h1M386 7.5h1M431 7.5h1M748 7.5h1M313 8.5h1M532 8.5h1M556 8.5h1M746 8.5h1M102 9.5h1M326 9.5h1M381 9.5h1M627 9.5h1M102 10.5h1M138 10.5h1M257 10.5h1M404 10.5h1M414 10.5h1M528 10.5h1M540 10.5h1M575 10.5h1M688 10.5h1M746 10.5h1M178 11.5h1M198 11.5h1M283 11.5h1M367 11.5h1M437 11.5h1M526 11.5h1M641 11.5h1"/><path stroke="#00a300" d="M7 0.5h1M17 0.5h1M25 0.5h1M44 0.5h2M49 0.5h1M53 0.5h1M58 0.5h1M96 0.5h1M313 0.5h1M326 0.5h1M354 0.5h1M513 0.5h1M532 0.5h1M791 0.5h1M22 1.5h1M40 1.5h2M46 1.5h1M57 1.5h1M59 1.5h1M217 1.5h1M479 1.5h1M649 1.5h1M86 2.5h1M211 2.5h1M273 2.5h1M516 2.5h1M574 2.5h1M601 2.5h1M0 3.5h1M2 3.5h1M45 3.5h1M62 3.5h1M108 3.5h1M205 3.5h1M548 3.5h1M560 3.5h1M684 3.5h1M0 4.5h1M16 4.5h1M63 4.5h1M92 4.5h1M555 4.5h1M728 4.5h1M144 5.5h1M219 5.5h1M247 5.5h1M257 5.5h1M278 5.5h1M471 5.5h1M588 5.5h1M673 5.5h1M795 5.5h1M115 6.5h1M142 6.5h1M239 6.5h1M279 6.5h1M473 6.5h1M496 6.5h1M582 6.5h1M682 6.5h1M690 6.5h1M701 6.5h1M757 6.5h1M766 6.5h1M85 7.5h1M125 7.5h2M143 7.5h1M206 7.5h1M330 7.5h1M381 7.5h1M423 7.5h1M444 7.5h1M483 7.5h1M485 7.5h1M603 7.5h1M645 7.5h1M687 7.5h1M773 7.5h1M116 8.5h1M327 8.5h1M426 8.5h1M526 8.5h1M566 8.5h1M694 8.5h1M713 8.5h1M737 8.5h1M313 9.5h1M318 9.5h1M512 9.5h1M540 9.5h1M672 9.5h1M106 10.5h1M131 10.5h1M222 10.5h1M259 10.5h1M362 10.5h1M510 10.5h1M515 10.5h1M638 10.5h1M702 10.5h1M768 10.5h1M116 11.5h1M149 11.5h1M205 11.5h1M361 11.5h1M488 11.5h1M638 11.5h1M688 11.5h1M702 11.5h1M733 11.5h1M778 11.5h1"/><path stroke="#009900" d="M23 0.5h1M34 0.5h1M51 0.5h1M70 0.5h1M75 0.5h1M111 0.5h1M170 0.5h1M301 0.5h1M605 0.5h1M613 0.5h1M26 1.5h1M30 1.5h1M44 1.5h1M47 1.5h1M70 1.5h1M155 1.5h1M226 1.5h1M260 1.5h1M388 1.5h1M400 1.5h1M516 1.5h1M655 1.5h1M721 1.5h1M748 1.5h1M758 1.5h1M10 2.5h1M26 2.5h1M36 2.5h1M142 2.5h1M153 2.5h1M224 2.5h1M234 2.5h1M246 2.5h1M316 2.5h1M325 2.5h1M431 2.5h1M455 2.5h1M589 2.5h1M659 2.5h1M748 2.5h1M753 2.5h1M9 3.5h1M26 3.5h1M33 3.5h1M40 3.5h1M51 3.5h1M53 3.5h1M57 3.5h1M74 3.5h1M82 3.5h1M142 3.5h1M414 3.5h1M430 3.5h1M579 3.5h1M691 3.5h1M784 3.5h1M797 3.5h1M18 4.5h1M156 4.5h1M258 4.5h1M354 4.5h1M495 4.5h1M515 4.5h1M524 4.5h1M754 4.5h1M125 5.5h1M164 5.5h1M230 5.5h1M297 5.5h1M304 5.5h1M375 5.5h1M410 5.5h1M464 5.5h1M491 5.5h1M494 5.5h1M500 5.5h1M515 5.5h1M776 5.5h1M147 6.5h1M227 6.5h1M308 6.5h1M329 6.5h1M356 6.5h1M385 6.5h1M507 6.5h1M571 6.5h1M579 6.5h1M615 6.5h1M662 6.5h1M722 6.5h1M739 6.5h1M767 6.5h1M101 7.5h1M104 7.5h1M128 7.5h1M172 7.5h1M326 7.5h1M417 7.5h1M453 7.5h1M461 7.5h1M612 7.5h1M732 7.5h1M78 8.5h1M103 8.5h1M143 8.5h1M180 8.5h1M222 8.5h1M252 8.5h1M326 8.5h1M334 8.5h1M388 8.5h1M437 8.5h1M458 8.5h1M479 8.5h1M519 8.5h1M640 8.5h1M693 8.5h1M716 8.5h1M740 8.5h1M116 9.5h1M148 9.5h1M265 9.5h1M422 9.5h1M439 9.5h1M454 9.5h1M481 9.5h1M507 9.5h1M519 9.5h1M617 9.5h1M799 9.5h1M127 10.5h1M136 10.5h1M250 10.5h1M395 10.5h1M413 10.5h1M455 10.5h1M512 10.5h1M611 10.5h1M171 11.5h1M175 11.5h1M237 11.5h1M242 11.5h1M254 11.5h1M362 11.5h1M439 11.5h1M548 11.5h1M597 11.5h1M642 11.5h1M657 11.5h1M797 11.5h1"/><path stroke="#008f00" d="M63 0.5h1M114 0.5h1M303 0.5h2M506 0.5h1M661 0.5h1M699 0.5h1M754 0.5h1M3 1.5h1M25 1.5h1M66 1.5h1M75 1.5h1M233 1.5h1M239 1.5h1M281 1.5h1M316 1.5h1M328 1.5h1M641 1.5h1M2 2.5h1M7 2.5h1M18 2.5h1M50 2.5h1M228 2.5h1M400 2.5h1M557 2.5h1M572 2.5h1M692 2.5h1M721 2.5h1M7 3.5h1M11 3.5h1M35 3.5h1M37 3.5h1M42 3.5h1M46 3.5h1M72 3.5h1M239 3.5h1M278 3.5h1M406 3.5h1M553 3.5h1M650 3.5h1M704 3.5h1M741 3.5h1M3 4.5h1M19 4.5h1M82 4.5h1M108 4.5h1M120 4.5h1M132 4.5h1M155 4.5h1M227 4.5h1M402 4.5h1M594 4.5h1M660 4.5h1M97 5.5h1M126 5.5h1M237 5.5h1M259 5.5h1M279 5.5h1M339 5.5h1M503 5.5h1M568 5.5h1M608 5.5h1M715 5.5h1M136 6.5h1M164 6.5h1M222 6.5h1M230 6.5h1M237 6.5h1M274 6.5h1M313 6.5h1M469 6.5h1M512 6.5h1M587 6.5h1M736 6.5h1M768 6.5h1M187 7.5h1M236 7.5h1M273 7.5h1M286 7.5h1M372 7.5h1M406 7.5h1M427 7.5h1M448 7.5h1M614 7.5h1M106 8.5h1M159 8.5h1M198 8.5h1M236 8.5h1M303 8.5h1M330 8.5h1M372 8.5h1M415 8.5h1M432 8.5h1M552 8.5h1M558 8.5h1M560 8.5h1M608 8.5h1M672 8.5h1M725 8.5h1M787 8.5h1M125 9.5h1M453 9.5h1M488 9.5h1M607 9.5h1M659 9.5h1M716 9.5h1M770 9.5h1M90 10.5h1M101 10.5h1M110 10.5h1M143 10.5h1M165 10.5h1M237 10.5h1M308 10.5h1M348 10.5h1M379 10.5h1M429 10.5h1M556 10.5h1M623 10.5h1M636 10.5h1M651 10.5h1M658 10.5h1M677 10.5h1M716 10.5h1M740 10.5h1M76 11.5h1M165 11.5h1M342 11.5h1M344 11.5h1M401 11.5h1M414 11.5h1M436 11.5h1M458 11.5h1M477 11.5h1M480 11.5h1M503 11.5h1M532 11.5h1M658 11.5h1M773 11.5h1M786 11.5h1"/><path stroke="#008500" d="M26 0.5h1M29 0.5h1M40 0.5h1M43 0.5h1M54 0.5h1M185 0.5h1M247 0.5h1M273 0.5h1M402 0.5h1M529 0.5h1M652 0.5h1M693 0.5h1M0 1.5h1M11 1.5h1M53 1.5h1M55 1.5h1M63 1.5h1M65 1.5h1M68 1.5h1M106 1.5h1M157 1.5h1M193 1.5h1M224 1.5h1M244 1.5h1M310 1.5h1M390 1.5h1M405 1.5h1M434 1.5h1M512 1.5h1M524 1.5h1M574 1.5h1M613 1.5h1M764 1.5h1M4 2.5h1M23 2.5h1M45 2.5h1M47 2.5h1M53 2.5h1M65 2.5h1M96 2.5h1M210 2.5h1M258 2.5h1M387 2.5h1M566 2.5h1M585 2.5h1M605 2.5h1M639 2.5h1M754 2.5h1M3 3.5h1M6 3.5h1M13 3.5h1M18 3.5h2M27 3.5h1M32 3.5h1M39 3.5h1M44 3.5h1M49 3.5h2M313 3.5h1M315 3.5h1M444 3.5h1M679 3.5h1M723 3.5h1M7 4.5h1M24 4.5h1M29 4.5h1M34 4.5h1M36 4.5h2M45 4.5h1M53 4.5h1M325 4.5h1M361 4.5h1M406 4.5h1M419 4.5h1M507 4.5h1M516 4.5h1M621 4.5h1M644 4.5h1M674 4.5h1M708 4.5h1M102 5.5h1M176 5.5h1M223 5.5h1M275 5.5h1M316 5.5h1M395 5.5h1M398 5.5h1M521 5.5h1M572 5.5h1M574 5.5h1M708 5.5h1M755 5.5h1M771 5.5h1M206 6.5h1M268 6.5h1M277 6.5h1M322 6.5h1M343 6.5h1M434 6.5h1M472 6.5h1M603 6.5h1M640 6.5h1M695 6.5h1M710 6.5h1M754 6.5h1M95 7.5h1M107 7.5h1M124 7.5h1M131 7.5h1M151 7.5h1M159 7.5h1M213 7.5h1M237 7.5h1M277 7.5h1M306 7.5h1M308 7.5h1M352 7.5h1M460 7.5h1M489 7.5h1M625 7.5h1M684 7.5h1M694 7.5h1M83 8.5h1M178 8.5h1M195 8.5h1M203 8.5h1M243 8.5h1M256 8.5h1M443 8.5h1M486 8.5h1M502 8.5h1M548 8.5h1M561 8.5h1M593 8.5h1M623 8.5h1M697 8.5h1M744 8.5h1M196 9.5h1M350 9.5h1M543 9.5h1M570 9.5h1M576 9.5h1M664 9.5h1M103 10.5h1M163 10.5h1M266 10.5h1M329 10.5h1M333 10.5h1M608 10.5h1M709 10.5h1M749 10.5h1M757 10.5h1M96 11.5h1M124 11.5h1M143 11.5h1M352 11.5h1M359 11.5h1M386 11.5h1M491 11.5h1M512 11.5h1M579 11.5h1M591 11.5h1M611 11.5h1M636 11.5h1M644 11.5h1M664 11.5h1M672 11.5h1M700 11.5h1M735 11.5h1M749 11.5h1M751 11.5h1"/><path stroke="#007a00" d="M1 0.5h1M20 0.5h1M42 0.5h1M48 0.5h1M56 0.5h1M74 0.5h1M133 0.5h1M171 0.5h1M175 0.5h1M386 0.5h1M400 0.5h1M417 0.5h1M448 0.5h1M704 0.5h1M730 0.5h1M785 0.5h1M4 1.5h1M7 1.5h1M31 1.5h1M39 1.5h1M49 1.5h1M51 1.5h1M62 1.5h1M135 1.5h1M180 1.5h1M219 1.5h1M300 1.5h1M326 1.5h2M396 1.5h1M423 1.5h1M729 1.5h1M742 1.5h1M753 1.5h1M765 1.5h1M784 1.5h1M0 2.5h1M37 2.5h1M60 2.5h1M66 2.5h1M68 2.5h1M70 2.5h1M209 2.5h1M260 2.5h1M281 2.5h1M363 2.5h1M379 2.5h1M491 2.5h1M506 2.5h1M571 2.5h1M579 2.5h1M699 2.5h1M733 2.5h1M749 2.5h1M790 2.5h1M10 3.5h1M14 3.5h2M24 3.5h2M29 3.5h1M41 3.5h1M43 3.5h1M48 3.5h1M54 3.5h1M59 3.5h2M64 3.5h1M66 3.5h1M68 3.5h1M73 3.5h1M230 3.5h1M234 3.5h1M272 3.5h1M290 3.5h1M307 3.5h1M340 3.5h1M361 3.5h1M381 3.5h1M386 3.5h1M411 3.5h1M482 3.5h1M500 3.5h1M504 3.5h1M637 3.5h1M652 3.5h1M692 3.5h1M729 3.5h1M746 3.5h1M764 3.5h1M798 3.5h1M30 4.5h1M44 4.5h1M46 4.5h1M180 4.5h1M233 4.5h1M240 4.5h1M290 4.5h1M306 4.5h1M311 4.5h1M364 4.5h1M430 4.5h1M455 4.5h1M462 4.5h1M504 4.5h1M521 4.5h1M680 4.5h1M686 4.5h1M798 4.5h1M118 5.5h1M197 5.5h1M225 5.5h1M256 5.5h1M379 5.5h1M414 5.5h1M425 5.5h1M433 5.5h1M436 5.5h1M473 5.5h1M508 5.5h1M576 5.5h1M615 5.5h1M627 5.5h1M664 5.5h1M735 5.5h1M743 5.5h2M95 6.5h1M159 6.5h1M207 6.5h1M247 6.5h1M258 6.5h1M433 6.5h1M436 6.5h1M462 6.5h1M565 6.5h1M583 6.5h1M601 6.5h1M648 6.5h1M657 6.5h1M743 6.5h1M755 6.5h1M83 7.5h1M138 7.5h1M328 7.5h1M332 7.5h1M353 7.5h1M355 7.5h1M439 7.5h1M504 7.5h1M537 7.5h1M646 7.5h1M657 7.5h1M742 7.5h1M797 7.5h1M110 8.5h1M133 8.5h1M148 8.5h1M239 8.5h1M340 8.5h1M354 8.5h1M400 8.5h1M421 8.5h1M431 8.5h1M436 8.5h1M439 8.5h1M457 8.5h1M488 8.5h1M521 8.5h1M531 8.5h1M568 8.5h1M638 8.5h1M655 8.5h1M702 8.5h1M750 8.5h1M91 9.5h1M138 9.5h1M155 9.5h1M275 9.5h1M307 9.5h1M348 9.5h1M363 9.5h1M407 9.5h1M520 9.5h1M568 9.5h1M635 9.5h1M643 9.5h1M653 9.5h1M684 9.5h1M694 9.5h1M737 9.5h1M782 9.5h1M76 10.5h1M91 10.5h1M107 10.5h1M125 10.5h1M148 10.5h1M239 10.5h1M437 10.5h1M477 10.5h1M480 10.5h2M522 10.5h2M549 10.5h1M563 10.5h1M597 10.5h1M684 10.5h1M765 10.5h1M778 10.5h1M786 10.5h1M130 11.5h1M227 11.5h1M369 11.5h1M395 11.5h1M397 11.5h1M416 11.5h1M475 11.5h1M484 11.5h1M531 11.5h1M558 11.5h1M563 11.5h1M592 11.5h1M659 11.5h1M684 11.5h1"/><path stroke="#007000" d="M5 0.5h1M21 0.5h1M28 0.5h1M62 0.5h1M65 0.5h2M69 0.5h1M72 0.5h1M108 0.5h1M123 0.5h1M198 0.5h1M205 0.5h1M209 0.5h1M257 0.5h1M281 0.5h1M339 0.5h1M379 0.5h1M491 0.5h1M525 0.5h1M556 0.5h1M596 0.5h1M787 0.5h1M14 1.5h1M58 1.5h1M188 1.5h1M190 1.5h1M201 1.5h1M214 1.5h1M284 1.5h1M307 1.5h1M314 1.5h1M439 1.5h1M532 1.5h1M548 1.5h1M558 1.5h1M621 1.5h2M680 1.5h1M703 1.5h1M720 1.5h1M783 1.5h1M5 2.5h1M17 2.5h1M19 2.5h1M21 2.5h2M25 2.5h1M51 2.5h1M58 2.5h1M73 2.5h1M155 2.5h1M231 2.5h1M237 2.5h1M277 2.5h1M405 2.5h1M448 2.5h1M487 2.5h1M560 2.5h1M594 2.5h1M598 2.5h1M613 2.5h1M646 2.5h1M661 2.5h1M663 2.5h1M702 2.5h1M742 2.5h1M746 2.5h1M17 3.5h1M28 3.5h1M31 3.5h1M34 3.5h1M36 3.5h1M52 3.5h1M55 3.5h1M67 3.5h1M69 3.5h1M110 3.5h1M126 3.5h1M242 3.5h1M303 3.5h1M354 3.5h1M374 3.5h1M392 3.5h1M438 3.5h2M470 3.5h1M513 3.5h1M515 3.5h1M532 3.5h1M625 3.5h1M696 3.5h1M788 3.5h1M9 4.5h2M12 4.5h2M33 4.5h1M50 4.5h1M58 4.5h1M196 4.5h1M207 4.5h1M222 4.5h1M266 4.5h1M347 4.5h1M398 4.5h1M404 4.5h1M417 4.5h1M474 4.5h1M603 4.5h1M632 4.5h1M650 4.5h1M684 4.5h1M691 4.5h1M704 4.5h1M726 4.5h1M741 4.5h1M78 5.5h1M82 5.5h1M84 5.5h2M115 5.5h1M147 5.5h1M152 5.5h1M169 5.5h1M186 5.5h1M207 5.5h1M239 5.5h1M308 5.5h1M354 5.5h1M367 5.5h1M403 5.5h1M405 5.5h1M419 5.5h1M426 5.5h1M449 5.5h1M502 5.5h1M593 5.5h1M626 5.5h1M676 5.5h1M713 5.5h1M76 6.5h2M87 6.5h1M106 6.5h1M116 6.5h1M127 6.5h1M196 6.5h1M250 6.5h1M303 6.5h1M317 6.5h1M333 6.5h1M390 6.5h1M406 6.5h1M417 6.5h1M437 6.5h1M439 6.5h1M494 6.5h1M497 6.5h1M531 6.5h1M591 6.5h1M617 6.5h2M653 6.5h1M717 6.5h1M133 7.5h1M142 7.5h1M147 7.5h1M150 7.5h1M156 7.5h1M198 7.5h1M228 7.5h1M235 7.5h1M257 7.5h1M348 7.5h1M445 7.5h1M465 7.5h1M502 7.5h1M527 7.5h1M573 7.5h1M583 7.5h1M600 7.5h1M662 7.5h1M671 7.5h1M688 7.5h1M700 7.5h1M707 7.5h1M102 8.5h1M115 8.5h1M155 8.5h1M168 8.5h1M213 8.5h1M259 8.5h2M269 8.5h1M273 8.5h1M277 8.5h1M307 8.5h1M318 8.5h1M349 8.5h1M365 8.5h1M453 8.5h1M469 8.5h1M493 8.5h1M512 8.5h1M594 8.5h1M615 8.5h1M629 8.5h1M644 8.5h1M681 8.5h1M723 8.5h1M728 8.5h1M771 8.5h1M790 8.5h1M796 8.5h1M78 9.5h1M139 9.5h1M178 9.5h1M182 9.5h1M203 9.5h1M214 9.5h1M231 9.5h1M241 9.5h1M252 9.5h2M256 9.5h1M291 9.5h1M311 9.5h1M321 9.5h1M324 9.5h1M330 9.5h1M410 9.5h1M420 9.5h2M427 9.5h1M430 9.5h1M515 9.5h1M522 9.5h1M532 9.5h1M550 9.5h1M581 9.5h1M595 9.5h1M631 9.5h2M642 9.5h1M709 9.5h1M715 9.5h1M740 9.5h1M750 9.5h1M80 10.5h1M105 10.5h1M123 10.5h1M242 10.5h1M374 10.5h1M500 10.5h1M589 10.5h1M599 10.5h1M637 10.5h1M713 10.5h1M715 10.5h1M748 10.5h1M780 10.5h1M93 11.5h1M105 11.5h1M131 11.5h1M187 11.5h1M212 11.5h1M266 11.5h1M311 11.5h1M313 11.5h1M366 11.5h1M402 11.5h1M422 11.5h1M429 11.5h1M435 11.5h1M468 11.5h1M470 11.5h1M504 11.5h1M510 11.5h1M528 11.5h1M535 11.5h1M585 11.5h1M628 11.5h1M716 11.5h1M750 11.5h1"/><path stroke="#006600" d="M0 0.5h1M41 0.5h1M64 0.5h1M73 0.5h1M254 0.5h1M282 0.5h1M325 0.5h1M350 0.5h1M387 0.5h1M443 0.5h1M507 0.5h1M512 0.5h1M558 0.5h1M584 0.5h1M692 0.5h1M720 0.5h1M733 0.5h1M748 0.5h1M756 0.5h1M784 0.5h1M2 1.5h1M9 1.5h1M20 1.5h2M74 1.5h1M87 1.5h1M99 1.5h1M110 1.5h1M170 1.5h1M195 1.5h1M313 1.5h1M318 1.5h1M322 1.5h1M530 1.5h1M589 1.5h1M605 1.5h1M638 1.5h2M650 1.5h1M708 1.5h1M745 1.5h1M1 2.5h1M9 2.5h1M30 2.5h1M32 2.5h1M62 2.5h2M67 2.5h1M108 2.5h1M117 2.5h1M187 2.5h1M226 2.5h1M288 2.5h1M333 2.5h1M340 2.5h1M401 2.5h1M423 2.5h1M488 2.5h1M530 2.5h1M538 2.5h1M604 2.5h1M610 2.5h1M689 2.5h1M720 2.5h1M784 2.5h1M4 3.5h1M20 3.5h1M22 3.5h2M30 3.5h1M56 3.5h1M65 3.5h1M71 3.5h1M75 3.5h1M104 3.5h1M311 3.5h1M317 3.5h1M329 3.5h1M355 3.5h1M395 3.5h1M408 3.5h1M416 3.5h1M442 3.5h1M524 3.5h1M544 3.5h1M605 3.5h1M628 3.5h1M633 3.5h1M11 4.5h1M15 4.5h1M47 4.5h1M59 4.5h1M66 4.5h1M69 4.5h1M148 4.5h1M160 4.5h1M283 4.5h1M340 4.5h1M380 4.5h1M414 4.5h1M438 4.5h1M547 4.5h1M588 4.5h1M610 4.5h1M718 4.5h1M729 4.5h1M785 4.5h1M121 5.5h1M158 5.5h2M183 5.5h1M193 5.5h1M220 5.5h1M249 5.5h1M277 5.5h1M329 5.5h1M337 5.5h1M351 5.5h1M416 5.5h1M487 5.5h1M499 5.5h1M540 5.5h1M555 5.5h1M696 5.5h1M722 5.5h1M761 5.5h1M768 5.5h1M108 6.5h1M124 6.5h1M156 6.5h1M261 6.5h1M309 6.5h1M357 6.5h1M389 6.5h1M398 6.5h1M405 6.5h1M430 6.5h1M451 6.5h2M465 6.5h1M475 6.5h1M493 6.5h1M524 6.5h1M539 6.5h1M544 6.5h1M563 6.5h1M593 6.5h1M639 6.5h1M658 6.5h1M686 6.5h1M689 6.5h1M691 6.5h1M693 6.5h1M749 6.5h1M105 7.5h2M122 7.5h2M140 7.5h1M149 7.5h1M162 7.5h1M229 7.5h1M283 7.5h1M318 7.5h2M342 7.5h1M358 7.5h1M394 7.5h1M410 7.5h1M415 7.5h1M420 7.5h1M436 7.5h1M476 7.5h1M491 7.5h1M508 7.5h1M511 7.5h1M523 7.5h1M533 7.5h1M539 7.5h1M571 7.5h1M596 7.5h1M609 7.5h1M653 7.5h1M675 7.5h1M715 7.5h1M750 7.5h1M781 7.5h1M784 7.5h1M112 8.5h1M126 8.5h1M151 8.5h1M183 8.5h1M187 8.5h1M248 8.5h1M287 8.5h1M295 8.5h1M304 8.5h1M316 8.5h1M401 8.5h1M404 8.5h1M455 8.5h1M508 8.5h1M523 8.5h1M576 8.5h1M597 8.5h1M627 8.5h1M699 8.5h1M711 8.5h1M757 8.5h1M88 9.5h1M96 9.5h1M123 9.5h1M126 9.5h1M190 9.5h1M195 9.5h1M251 9.5h1M276 9.5h1M303 9.5h1M404 9.5h1M456 9.5h1M503 9.5h1M508 9.5h1M518 9.5h1M530 9.5h1M539 9.5h1M556 9.5h1M600 9.5h1M623 9.5h1M680 9.5h1M702 9.5h1M742 9.5h1M744 9.5h1M77 10.5h1M86 10.5h1M112 10.5h1M168 10.5h1M180 10.5h1M220 10.5h1M224 10.5h1M238 10.5h1M252 10.5h1M256 10.5h1M278 10.5h1M307 10.5h1M334 10.5h1M352 10.5h1M355 10.5h1M357 10.5h1M383 10.5h1M416 10.5h1M426 10.5h1M457 10.5h1M459 10.5h1M503 10.5h2M507 10.5h1M546 10.5h1M633 10.5h1M642 10.5h1M678 10.5h1M722 10.5h1M782 10.5h1M77 11.5h1M102 11.5h1M106 11.5h1M220 11.5h1M238 11.5h1M249 11.5h1M315 11.5h1M326 11.5h1M329 11.5h1M345 11.5h1M354 11.5h1M379 11.5h1M400 11.5h1M409 11.5h1M549 11.5h1M582 11.5h1M608 11.5h1M624 11.5h1M675 11.5h1M680 11.5h1M729 11.5h1M794 11.5h1"/><path stroke="#005c00" d="M6 0.5h1M22 0.5h1M24 0.5h1M60 0.5h1M84 0.5h1M119 0.5h1M131 0.5h1M195 0.5h1M206 0.5h1M220 0.5h1M225 0.5h2M237 0.5h1M242 0.5h2M328 0.5h1M331 0.5h1M355 0.5h1M407 0.5h1M531 0.5h1M578 0.5h1M594 0.5h1M600 0.5h1M611 0.5h1M646 0.5h2M674 0.5h1M702 0.5h1M718 0.5h1M755 0.5h1M767 0.5h1M8 1.5h1M10 1.5h1M15 1.5h1M28 1.5h1M32 1.5h1M34 1.5h1M42 1.5h1M205 1.5h2M230 1.5h1M292 1.5h1M340 1.5h1M364 1.5h1M506 1.5h1M560 1.5h1M568 1.5h1M590 1.5h1M604 1.5h1M620 1.5h1M630 1.5h1M739 1.5h1M755 1.5h1M763 1.5h1M782 1.5h1M11 2.5h1M15 2.5h1M44 2.5h1M46 2.5h1M49 2.5h1M59 2.5h1M174 2.5h1M180 2.5h1M188 2.5h1M259 2.5h1M276 2.5h1M284 2.5h1M310 2.5h1M366 2.5h1M388 2.5h1M395 2.5h2M412 2.5h1M443 2.5h1M524 2.5h1M593 2.5h1M621 2.5h1M641 2.5h1M703 2.5h1M717 2.5h1M741 2.5h1M778 2.5h1M5 3.5h1M61 3.5h1M237 3.5h1M243 3.5h1M250 3.5h1M262 3.5h1M268 3.5h1M281 3.5h1M291 3.5h1M319 3.5h1M342 3.5h1M421 3.5h1M475 3.5h1M494 3.5h1M533 3.5h1M541 3.5h1M603 3.5h1M663 3.5h1M686 3.5h1M730 3.5h1M759 3.5h1M783 3.5h1M787 3.5h1M2 4.5h1M8 4.5h1M17 4.5h1M25 4.5h1M27 4.5h2M40 4.5h1M43 4.5h1M49 4.5h1M52 4.5h1M54 4.5h1M60 4.5h1M62 4.5h1M70 4.5h1M112 4.5h1M116 4.5h1M176 4.5h1M303 4.5h1M330 4.5h1M334 4.5h1M376 4.5h1M418 4.5h1M439 4.5h1M443 4.5h1M542 4.5h1M548 4.5h1M585 4.5h1M605 4.5h1M612 4.5h1M643 4.5h1M689 4.5h1M692 4.5h1M710 4.5h1M81 5.5h1M87 5.5h1M132 5.5h1M149 5.5h1M228 5.5h1M250 5.5h1M265 5.5h1M289 5.5h1M356 5.5h1M386 5.5h1M400 5.5h1M421 5.5h1M452 5.5h1M459 5.5h1M472 5.5h1M475 5.5h1M477 5.5h1M510 5.5h1M542 5.5h1M563 5.5h1M610 5.5h1M628 5.5h1M674 5.5h1M691 5.5h1M710 5.5h1M794 5.5h1M80 6.5h1M92 6.5h1M113 6.5h1M151 6.5h1M183 6.5h1M212 6.5h1M240 6.5h1M265 6.5h1M289 6.5h1M294 6.5h1M297 6.5h1M337 6.5h1M358 6.5h1M441 6.5h1M481 6.5h2M548 6.5h1M556 6.5h1M602 6.5h1M625 6.5h1M627 6.5h1M638 6.5h1M646 6.5h1M664 6.5h1M681 6.5h1M687 6.5h1M696 6.5h1M752 6.5h1M798 6.5h1M161 7.5h1M219 7.5h1M261 7.5h1M268 7.5h1M299 7.5h1M371 7.5h1M412 7.5h1M426 7.5h1M482 7.5h1M503 7.5h1M522 7.5h1M526 7.5h1M548 7.5h1M585 7.5h1M618 7.5h1M632 7.5h1M647 7.5h1M699 7.5h1M727 7.5h1M787 7.5h1M88 8.5h1M104 8.5h1M107 8.5h1M138 8.5h1M221 8.5h1M224 8.5h1M233 8.5h1M255 8.5h1M302 8.5h1M422 8.5h1M448 8.5h1M534 8.5h1M543 8.5h1M631 8.5h1M642 8.5h1M680 8.5h1M684 8.5h1M715 8.5h1M726 8.5h1M742 8.5h1M782 8.5h1M83 9.5h1M94 9.5h1M103 9.5h1M106 9.5h1M144 9.5h1M154 9.5h1M187 9.5h1M220 9.5h1M224 9.5h1M255 9.5h1M260 9.5h1M269 9.5h1M272 9.5h1M280 9.5h1M327 9.5h1M332 9.5h1M357 9.5h1M362 9.5h1M373 9.5h1M375 9.5h1M448 9.5h1M470 9.5h1M483 9.5h1M490 9.5h1M493 9.5h1M502 9.5h1M523 9.5h1M582 9.5h1M612 9.5h1M644 9.5h1M658 9.5h1M688 9.5h1M691 9.5h1M697 9.5h1M726 9.5h1M734 9.5h1M758 9.5h1M792 9.5h1M797 9.5h1M92 10.5h1M98 10.5h1M117 10.5h1M119 10.5h1M146 10.5h1M187 10.5h1M209 10.5h1M273 10.5h1M300 10.5h1M302 10.5h1M327 10.5h1M359 10.5h1M407 10.5h1M419 10.5h1M475 10.5h1M479 10.5h1M488 10.5h1M582 10.5h1M587 10.5h2M616 10.5h1M625 10.5h1M635 10.5h1M649 10.5h2M680 10.5h1M723 10.5h1M750 10.5h1M759 10.5h1M103 11.5h1M127 11.5h1M150 11.5h1M224 11.5h1M244 11.5h1M262 11.5h1M271 11.5h1M277 11.5h1M288 11.5h1M310 11.5h1M321 11.5h1M374 11.5h1M384 11.5h1M481 11.5h1M483 11.5h1M521 11.5h1M530 11.5h1M534 11.5h1M541 11.5h1M561 11.5h1M622 11.5h1M625 11.5h2M633 11.5h1M645 11.5h1M698 11.5h1M717 11.5h1M780 11.5h1M784 11.5h1"/><path stroke="#005200" d="M4 0.5h1M9 0.5h1M39 0.5h1M46 0.5h1M59 0.5h1M61 0.5h1M98 0.5h1M100 0.5h1M103 0.5h1M106 0.5h1M127 0.5h1M192 0.5h1M406 0.5h1M410 0.5h3M419 0.5h1M421 0.5h1M500 0.5h1M534 0.5h1M566 0.5h1M568 0.5h1M586 0.5h1M713 0.5h1M732 0.5h1M764 0.5h1M770 0.5h1M12 1.5h1M60 1.5h2M86 1.5h1M96 1.5h1M132 1.5h1M137 1.5h1M165 1.5h1M211 1.5h1M242 1.5h1M290 1.5h1M325 1.5h1M361 1.5h1M404 1.5h1M421 1.5h1M432 1.5h1M451 1.5h1M535 1.5h1M549 1.5h1M557 1.5h1M572 1.5h1M585 1.5h1M661 1.5h1M665 1.5h1M667 1.5h1M8 2.5h1M27 2.5h1M56 2.5h1M72 2.5h1M102 2.5h1M106 2.5h1M124 2.5h1M135 2.5h1M159 2.5h1M173 2.5h1M186 2.5h1M195 2.5h1M278 2.5h1M305 2.5h1M315 2.5h1M374 2.5h1M391 2.5h1M432 2.5h1M451 2.5h1M467 2.5h1M481 2.5h1M499 2.5h1M505 2.5h1M510 2.5h1M514 2.5h1M525 2.5h1M568 2.5h1M584 2.5h1M677 2.5h1M680 2.5h1M698 2.5h1M724 2.5h1M730 2.5h2M751 2.5h1M764 2.5h1M38 3.5h1M120 3.5h1M148 3.5h1M172 3.5h1M223 3.5h1M225 3.5h1M246 3.5h1M297 3.5h1M322 3.5h1M370 3.5h1M373 3.5h1M529 3.5h1M583 3.5h1M610 3.5h1M669 3.5h1M675 3.5h1M680 3.5h1M690 3.5h1M721 3.5h1M728 3.5h1M753 3.5h1M32 4.5h1M38 4.5h2M41 4.5h1M68 4.5h1M73 4.5h1M75 4.5h1M88 4.5h1M141 4.5h1M153 4.5h1M201 4.5h1M225 4.5h1M249 4.5h1M254 4.5h1M272 4.5h1M275 4.5h1M300 4.5h1M326 4.5h1M338 4.5h1M342 4.5h1M395 4.5h1M416 4.5h1M452 4.5h2M483 4.5h1M537 4.5h2M541 4.5h1M563 4.5h1M570 4.5h1M617 4.5h1M637 4.5h1M658 4.5h1M696 4.5h1M703 4.5h1M110 5.5h1M127 5.5h1M160 5.5h1M168 5.5h1M196 5.5h1M212 5.5h1M252 5.5h1M295 5.5h1M305 5.5h2M321 5.5h1M323 5.5h1M349 5.5h1M362 5.5h1M399 5.5h1M451 5.5h1M453 5.5h1M482 5.5h1M485 5.5h1M541 5.5h1M567 5.5h1M587 5.5h1M644 5.5h1M646 5.5h1M653 5.5h2M679 5.5h1M687 5.5h1M723 5.5h1M731 5.5h2M746 5.5h1M757 5.5h1M764 5.5h1M783 5.5h1M20 6.5h1M102 6.5h1M111 6.5h1M132 6.5h1M155 6.5h1M165 6.5h1M192 6.5h1M201 6.5h1M209 6.5h1M244 6.5h1M371 6.5h1M386 6.5h1M399 6.5h1M491 6.5h1M499 6.5h1M505 6.5h1M550 6.5h1M573 6.5h1M581 6.5h1M588 6.5h1M614 6.5h1M622 6.5h1M647 6.5h1M666 6.5h1M694 6.5h1M705 6.5h2M718 6.5h1M750 6.5h1M762 6.5h1M779 6.5h1M793 6.5h1M82 7.5h1M86 7.5h1M88 7.5h1M118 7.5h1M163 7.5h1M171 7.5h1M225 7.5h1M284 7.5h1M294 7.5h1M301 7.5h1M313 7.5h1M321 7.5h1M334 7.5h1M354 7.5h1M369 7.5h1M375 7.5h1M408 7.5h1M414 7.5h1M475 7.5h1M498 7.5h1M510 7.5h1M549 7.5h1M556 7.5h1M563 7.5h1M567 7.5h1M636 7.5h1M652 7.5h1M668 7.5h1M718 7.5h1M726 7.5h1M763 7.5h1M799 7.5h1M77 8.5h1M84 8.5h1M90 8.5h1M92 8.5h1M100 8.5h1M140 8.5h1M152 8.5h1M196 8.5h1M263 8.5h1M279 8.5h2M284 8.5h1M342 8.5h1M350 8.5h1M355 8.5h1M395 8.5h1M411 8.5h1M429 8.5h1M520 8.5h1M530 8.5h1M535 8.5h1M540 8.5h1M582 8.5h1M588 8.5h1M611 8.5h1M635 8.5h1M639 8.5h1M649 8.5h1M682 8.5h1M769 8.5h2M794 8.5h1M65 9.5h1M92 9.5h1M129 9.5h1M168 9.5h1M170 9.5h1M191 9.5h1M204 9.5h1M213 9.5h1M243 9.5h1M261 9.5h1M339 9.5h2M352 9.5h1M359 9.5h1M401 9.5h1M416 9.5h1M426 9.5h1M431 9.5h1M455 9.5h1M526 9.5h1M569 9.5h1M575 9.5h1M603 9.5h1M660 9.5h1M671 9.5h1M682 9.5h1M773 9.5h1M100 10.5h1M130 10.5h1M159 10.5h1M181 10.5h1M195 10.5h1M206 10.5h1M212 10.5h1M249 10.5h1M271 10.5h1M277 10.5h1M280 10.5h1M288 10.5h1M309 10.5h1M324 10.5h1M341 10.5h1M368 10.5h1M381 10.5h1M409 10.5h1M487 10.5h1M492 10.5h1M498 10.5h1M561 10.5h1M593 10.5h1M641 10.5h1M645 10.5h1M657 10.5h1M659 10.5h1M682 10.5h1M699 10.5h1M710 10.5h1M744 10.5h1M792 10.5h1M83 11.5h1M100 11.5h1M136 11.5h1M138 11.5h1M164 11.5h1M180 11.5h1M203 11.5h2M206 11.5h1M214 11.5h1M218 11.5h1M270 11.5h1M286 11.5h1M309 11.5h1M335 11.5h1M337 11.5h1M347 11.5h1M407 11.5h1M413 11.5h1M417 11.5h1M427 11.5h1M440 11.5h1M443 11.5h1M464 11.5h1M527 11.5h1M536 11.5h1M559 11.5h1M578 11.5h1M596 11.5h1M599 11.5h1M623 11.5h1M646 11.5h1M651 11.5h1M679 11.5h1M699 11.5h1M709 11.5h1M713 11.5h1M715 11.5h1M736 11.5h1M757 11.5h1M783 11.5h1M791 11.5h1"/><path stroke="#004700" d="M3 0.5h1M12 0.5h1M27 0.5h1M30 0.5h1M107 0.5h1M157 0.5h1M201 0.5h1M223 0.5h1M246 0.5h1M256 0.5h1M267 0.5h1M293 0.5h1M316 0.5h1M321 0.5h1M334 0.5h1M352 0.5h1M381 0.5h1M391 0.5h1M394 0.5h1M423 0.5h1M439 0.5h1M444 0.5h1M463 0.5h1M476 0.5h1M483 0.5h1M524 0.5h1M557 0.5h1M574 0.5h1M621 0.5h1M633 0.5h1M644 0.5h1M648 0.5h1M650 0.5h1M675 0.5h1M731 0.5h1M758 0.5h1M793 0.5h1M27 1.5h1M52 1.5h1M73 1.5h1M185 1.5h1M191 1.5h1M209 1.5h1M223 1.5h1M277 1.5h1M321 1.5h1M331 1.5h1M334 1.5h1M393 1.5h1M481 1.5h1M489 1.5h1M610 1.5h1M625 1.5h1M693 1.5h1M712 1.5h1M736 1.5h1M767 1.5h1M28 2.5h1M39 2.5h1M48 2.5h1M54 2.5h2M69 2.5h1M137 2.5h1M161 2.5h1M169 2.5h2M182 2.5h1M191 2.5h1M206 2.5h1M213 2.5h1M240 2.5h1M291 2.5h1M293 2.5h1M338 2.5h1M408 2.5h1M489 2.5h1M501 2.5h2M512 2.5h1M540 2.5h1M650 2.5h1M687 2.5h1M734 2.5h1M736 2.5h1M756 2.5h1M81 3.5h1M94 3.5h1M109 3.5h1M124 3.5h1M198 3.5h1M201 3.5h1M213 3.5h1M215 3.5h1M240 3.5h1M248 3.5h1M325 3.5h1M427 3.5h1M443 3.5h1M457 3.5h1M480 3.5h1M499 3.5h1M561 3.5h1M598 3.5h1M615 3.5h1M660 3.5h1M722 3.5h1M743 3.5h1M750 3.5h1M761 3.5h1M772 3.5h1M795 3.5h1M1 4.5h1M4 4.5h2M14 4.5h1M48 4.5h1M51 4.5h1M55 4.5h1M95 4.5h1M104 4.5h1M129 4.5h1M142 4.5h1M161 4.5h1M172 4.5h1M174 4.5h1M185 4.5h1M208 4.5h1M213 4.5h1M217 4.5h1M269 4.5h1M289 4.5h1M343 4.5h1M349 4.5h2M383 4.5h2M513 4.5h2M527 4.5h2M539 4.5h1M553 4.5h1M645 4.5h1M663 4.5h1M693 4.5h1M750 4.5h1M757 4.5h1M768 4.5h2M95 5.5h1M103 5.5h1M116 5.5h1M131 5.5h1M178 5.5h1M188 5.5h1M235 5.5h1M272 5.5h1M318 5.5h1M330 5.5h1M333 5.5h1M341 5.5h1M347 5.5h1M352 5.5h1M378 5.5h1M385 5.5h1M401 5.5h1M417 5.5h1M448 5.5h1M497 5.5h1M505 5.5h1M524 5.5h1M531 5.5h1M535 5.5h1M546 5.5h1M570 5.5h1M573 5.5h1M592 5.5h1M602 5.5h1M616 5.5h1M633 5.5h1M639 5.5h1M641 5.5h1M672 5.5h1M689 5.5h1M692 5.5h2M716 5.5h1M733 5.5h2M741 5.5h1M753 5.5h1M787 5.5h1M104 6.5h1M118 6.5h1M131 6.5h1M194 6.5h1M205 6.5h1M210 6.5h1M220 6.5h1M232 6.5h1M235 6.5h1M278 6.5h1M321 6.5h1M328 6.5h1M340 6.5h1M345 6.5h1M355 6.5h1M420 6.5h1M459 6.5h1M470 6.5h1M490 6.5h1M671 6.5h1M697 6.5h1M702 6.5h1M713 6.5h1M716 6.5h1M780 6.5h1M788 6.5h1M76 7.5h1M80 7.5h1M91 7.5h1M110 7.5h1M234 7.5h1M239 7.5h1M255 7.5h1M266 7.5h1M310 7.5h2M316 7.5h1M340 7.5h1M351 7.5h1M391 7.5h1M480 7.5h1M495 7.5h1M509 7.5h1M512 7.5h2M515 7.5h1M532 7.5h1M552 7.5h2M626 7.5h1M633 7.5h1M659 7.5h1M663 7.5h1M677 7.5h1M704 7.5h1M712 7.5h1M735 7.5h1M743 7.5h1M747 7.5h1M757 7.5h1M775 7.5h1M796 7.5h1M94 8.5h1M121 8.5h1M123 8.5h1M128 8.5h1M130 8.5h1M190 8.5h1M220 8.5h1M251 8.5h1M262 8.5h1M296 8.5h1M306 8.5h1M308 8.5h1M361 8.5h1M371 8.5h1M375 8.5h1M461 8.5h1M465 8.5h1M474 8.5h1M500 8.5h1M505 8.5h1M510 8.5h1M528 8.5h1M583 8.5h1M605 8.5h1M609 8.5h1M636 8.5h1M679 8.5h1M773 8.5h2M783 8.5h1M76 9.5h1M84 9.5h1M110 9.5h1M176 9.5h1M185 9.5h1M236 9.5h1M239 9.5h1M245 9.5h1M250 9.5h1M254 9.5h1M263 9.5h1M270 9.5h1M273 9.5h1M277 9.5h1M294 9.5h1M308 9.5h1M353 9.5h1M371 9.5h2M379 9.5h1M437 9.5h1M443 9.5h1M452 9.5h1M457 9.5h1M505 9.5h1M514 9.5h1M527 9.5h2M533 9.5h1M536 9.5h2M593 9.5h1M611 9.5h1M638 9.5h1M657 9.5h1M692 9.5h1M703 9.5h1M730 9.5h1M741 9.5h1M754 9.5h1M757 9.5h1M124 10.5h1M137 10.5h1M144 10.5h1M162 10.5h1M233 10.5h1M248 10.5h1M260 10.5h3M284 10.5h1M296 10.5h2M315 10.5h1M326 10.5h1M337 10.5h1M369 10.5h1M372 10.5h1M431 10.5h1M434 10.5h1M493 10.5h1M514 10.5h1M577 10.5h1M591 10.5h1M640 10.5h1M681 10.5h1M736 10.5h1M751 10.5h1M772 10.5h1M798 10.5h1M84 11.5h1M86 11.5h1M88 11.5h1M112 11.5h1M169 11.5h1M222 11.5h1M230 11.5h1M241 11.5h1M300 11.5h1M322 11.5h1M348 11.5h1M410 11.5h1M434 11.5h1M455 11.5h1M465 11.5h1M469 11.5h1M525 11.5h1M540 11.5h1M552 11.5h1M601 11.5h1M650 11.5h1M689 11.5h1M719 11.5h1M730 11.5h2M737 11.5h1M746 11.5h1M770 11.5h1M777 11.5h1M799 11.5h1"/><path stroke="#003d00" d="M11 0.5h1M32 0.5h1M38 0.5h1M85 0.5h1M89 0.5h1M135 0.5h1M163 0.5h1M174 0.5h1M182 0.5h1M224 0.5h1M230 0.5h1M240 0.5h1M251 0.5h1M276 0.5h1M284 0.5h1M318 0.5h1M322 0.5h1M327 0.5h1M351 0.5h1M385 0.5h1M405 0.5h1M416 0.5h1M428 0.5h1M430 0.5h1M441 0.5h1M455 0.5h1M467 0.5h1M484 0.5h1M522 0.5h1M530 0.5h1M615 0.5h1M641 0.5h1M714 0.5h1M724 0.5h1M740 0.5h1M750 0.5h1M766 0.5h1M772 0.5h1M781 0.5h1M1 1.5h1M5 1.5h1M48 1.5h1M84 1.5h1M114 1.5h1M124 1.5h1M171 1.5h1M186 1.5h1M210 1.5h1M220 1.5h1M246 1.5h1M248 1.5h1M255 1.5h1M263 1.5h1M297 1.5h1M366 1.5h1M374 1.5h1M379 1.5h1M381 1.5h1M412 1.5h1M416 1.5h1M431 1.5h1M458 1.5h1M529 1.5h1M537 1.5h1M591 1.5h1M594 1.5h1M598 1.5h1M664 1.5h1M702 1.5h1M724 1.5h1M790 1.5h1M24 2.5h1M34 2.5h1M41 2.5h1M74 2.5h2M80 2.5h1M111 2.5h1M160 2.5h1M171 2.5h1M183 2.5h1M244 2.5h1M304 2.5h1M327 2.5h1M329 2.5h1M336 2.5h1M482 2.5h1M543 2.5h1M578 2.5h1M586 2.5h1M627 2.5h1M643 2.5h1M649 2.5h1M664 2.5h1M704 2.5h1M723 2.5h1M767 2.5h1M86 3.5h1M88 3.5h1M119 3.5h1M200 3.5h1M208 3.5h1M220 3.5h1M224 3.5h1M252 3.5h1M254 3.5h1M258 3.5h1M304 3.5h1M320 3.5h1M328 3.5h1M331 3.5h1M348 3.5h3M362 3.5h1M377 3.5h1M420 3.5h1M453 3.5h1M456 3.5h1M463 3.5h2M466 3.5h1M508 3.5h1M519 3.5h1M535 3.5h1M542 3.5h1M573 3.5h1M599 3.5h1M617 3.5h2M655 3.5h1M710 3.5h1M739 3.5h1M768 3.5h1M781 3.5h1M22 4.5h1M31 4.5h1M42 4.5h1M56 4.5h2M61 4.5h1M67 4.5h1M72 4.5h1M87 4.5h1M162 4.5h1M190 4.5h1M209 4.5h1M242 4.5h1M257 4.5h1M297 4.5h1M327 4.5h1M329 4.5h1M390 4.5h1M413 4.5h1M463 4.5h1M465 4.5h1M486 4.5h1M491 4.5h1M494 4.5h1M503 4.5h1M520 4.5h1M543 4.5h2M556 4.5h1M586 4.5h1M599 4.5h1M623 4.5h1M630 4.5h1M652 4.5h1M731 4.5h2M761 4.5h1M778 4.5h1M794 4.5h1M86 5.5h1M94 5.5h1M111 5.5h1M151 5.5h1M170 5.5h1M172 5.5h1M174 5.5h1M232 5.5h1M287 5.5h1M302 5.5h1M311 5.5h1M334 5.5h1M343 5.5h2M377 5.5h1M407 5.5h1M430 5.5h1M438 5.5h1M463 5.5h1M590 5.5h1M596 5.5h1M617 5.5h1M629 5.5h1M666 5.5h1M669 5.5h1M695 5.5h1M698 5.5h1M701 5.5h2M704 5.5h1M737 5.5h1M749 5.5h1M769 5.5h1M774 5.5h1M779 5.5h2M13 6.5h1M78 6.5h1M86 6.5h1M112 6.5h1M180 6.5h1M188 6.5h1M193 6.5h1M197 6.5h1M213 6.5h1M226 6.5h1M253 6.5h1M295 6.5h1M341 6.5h1M365 6.5h1M402 6.5h1M414 6.5h1M435 6.5h1M463 6.5h1M504 6.5h1M511 6.5h1M540 6.5h2M546 6.5h1M559 6.5h1M568 6.5h1M576 6.5h1M597 6.5h1M605 6.5h1M668 6.5h1M674 6.5h1M727 6.5h1M729 6.5h1M740 6.5h1M744 6.5h1M751 6.5h1M761 6.5h1M773 6.5h1M781 6.5h1M87 7.5h1M116 7.5h1M135 7.5h2M153 7.5h1M160 7.5h1M169 7.5h1M188 7.5h1M199 7.5h1M227 7.5h1M252 7.5h1M258 7.5h1M276 7.5h1M282 7.5h1M337 7.5h1M403 7.5h1M424 7.5h1M443 7.5h1M542 7.5h1M586 7.5h1M595 7.5h1M640 7.5h1M664 7.5h1M674 7.5h1M731 7.5h1M782 7.5h1M101 8.5h1M127 8.5h1M163 8.5h1M166 8.5h1M226 8.5h1M237 8.5h1M249 8.5h1M289 8.5h1M332 8.5h2M343 8.5h1M352 8.5h1M370 8.5h1M377 8.5h1M382 8.5h1M406 8.5h1M416 8.5h1M456 8.5h1M491 8.5h1M503 8.5h1M513 8.5h1M538 8.5h2M584 8.5h1M610 8.5h1M613 8.5h1M660 8.5h1M688 8.5h1M708 8.5h1M736 8.5h1M792 8.5h1M799 8.5h1M80 9.5h1M86 9.5h1M90 9.5h1M115 9.5h1M146 9.5h1M151 9.5h1M157 9.5h1M165 9.5h1M183 9.5h1M186 9.5h1M192 9.5h1M234 9.5h1M287 9.5h1M300 9.5h1M316 9.5h1M337 9.5h1M369 9.5h1M392 9.5h1M428 9.5h1M435 9.5h1M486 9.5h1M509 9.5h1M534 9.5h1M548 9.5h1M567 9.5h1M587 9.5h1M601 9.5h1M613 9.5h1M622 9.5h1M639 9.5h1M650 9.5h1M678 9.5h1M698 9.5h1M729 9.5h1M746 9.5h1M751 9.5h1M772 9.5h1M775 9.5h1M88 10.5h1M133 10.5h1M150 10.5h1M153 10.5h1M176 10.5h1M194 10.5h1M198 10.5h1M272 10.5h1M427 10.5h1M441 10.5h1M453 10.5h1M465 10.5h1M470 10.5h2M473 10.5h1M496 10.5h1M508 10.5h1M548 10.5h1M558 10.5h1M566 10.5h1M601 10.5h1M604 10.5h1M626 10.5h1M664 10.5h1M720 10.5h1M752 10.5h1M781 10.5h1M783 10.5h1M123 11.5h1M126 11.5h1M151 11.5h1M191 11.5h1M195 11.5h1M209 11.5h1M233 11.5h1M252 11.5h1M287 11.5h1M293 11.5h1M357 11.5h2M424 11.5h1M431 11.5h1M454 11.5h1M471 11.5h1M520 11.5h1M523 11.5h1M537 11.5h1M539 11.5h1M547 11.5h1M566 11.5h1M593 11.5h1M595 11.5h1M604 11.5h1M609 11.5h1M661 11.5h1M668 11.5h1M697 11.5h1M720 11.5h1M756 11.5h1M759 11.5h1M781 11.5h1M798 11.5h1"/><path stroke="#003300" d="M31 0.5h1M94 0.5h1M102 0.5h1M120 0.5h1M138 0.5h1M144 0.5h1M212 0.5h1M231 0.5h1M233 0.5h1M308 0.5h1M315 0.5h1M446 0.5h1M461 0.5h1M492 0.5h1M516 0.5h1M518 0.5h1M545 0.5h1M548 0.5h1M552 0.5h1M560 0.5h1M587 0.5h1M630 0.5h1M640 0.5h1M671 0.5h1M703 0.5h1M782 0.5h1M24 1.5h1M43 1.5h1M56 1.5h1M91 1.5h1M123 1.5h1M160 1.5h1M174 1.5h1M197 1.5h1M199 1.5h1M237 1.5h1M247 1.5h1M294 1.5h1M301 1.5h1M371 1.5h1M386 1.5h1M448 1.5h1M459 1.5h1M463 1.5h1M502 1.5h1M514 1.5h1M526 1.5h1M543 1.5h1M545 1.5h1M593 1.5h1M603 1.5h1M640 1.5h1M689 1.5h1M692 1.5h1M6 2.5h1M42 2.5h2M112 2.5h1M114 2.5h1M151 2.5h1M157 2.5h1M198 2.5h4M227 2.5h1M242 2.5h1M254 2.5h1M265 2.5h1M294 2.5h1M306 2.5h1M314 2.5h1M416 2.5h1M434 2.5h1M484 2.5h1M498 2.5h1M508 2.5h1M549 2.5h1M555 2.5h1M558 2.5h1M562 2.5h1M573 2.5h1M590 2.5h1M637 2.5h1M655 2.5h1M675 2.5h1M681 2.5h1M685 2.5h1M732 2.5h1M740 2.5h1M743 2.5h1M752 2.5h1M782 2.5h1M143 3.5h1M178 3.5h1M210 3.5h1M217 3.5h1M273 3.5h1M292 3.5h1M327 3.5h1M338 3.5h1M368 3.5h1M385 3.5h1M478 3.5h2M512 3.5h1M537 3.5h1M540 3.5h1M543 3.5h1M557 3.5h2M569 3.5h1M577 3.5h1M588 3.5h1M594 3.5h1M638 3.5h1M640 3.5h2M656 3.5h1M683 3.5h1M700 3.5h1M706 3.5h1M711 3.5h1M734 3.5h1M749 3.5h1M23 4.5h1M64 4.5h1M74 4.5h1M83 4.5h1M101 4.5h2M106 4.5h1M121 4.5h1M173 4.5h1M181 4.5h1M205 4.5h1M215 4.5h1M234 4.5h1M239 4.5h1M260 4.5h2M268 4.5h1M279 4.5h1M292 4.5h1M298 4.5h1M310 4.5h1M315 4.5h2M319 4.5h1M344 4.5h1M352 4.5h1M412 4.5h1M429 4.5h1M451 4.5h1M478 4.5h1M502 4.5h1M508 4.5h1M580 4.5h1M602 4.5h1M672 4.5h1M675 4.5h1M694 4.5h1M700 4.5h1M711 4.5h1M722 4.5h1M745 4.5h1M753 4.5h1M767 4.5h1M784 4.5h1M792 4.5h1M797 4.5h1M76 5.5h1M92 5.5h1M106 5.5h1M113 5.5h1M124 5.5h1M156 5.5h1M175 5.5h1M177 5.5h1M187 5.5h1M194 5.5h1M200 5.5h1M213 5.5h1M274 5.5h1M298 5.5h1M340 5.5h1M345 5.5h1M348 5.5h1M355 5.5h1M365 5.5h1M423 5.5h1M435 5.5h1M480 5.5h1M486 5.5h1M493 5.5h1M504 5.5h1M512 5.5h1M558 5.5h1M583 5.5h1M603 5.5h1M618 5.5h1M621 5.5h2M640 5.5h1M642 5.5h1M675 5.5h1M726 5.5h1M729 5.5h1M740 5.5h1M747 5.5h1M750 5.5h1M766 5.5h1M778 5.5h1M785 5.5h1M790 5.5h1M793 5.5h1M75 6.5h1M168 6.5h1M177 6.5h1M208 6.5h1M224 6.5h1M228 6.5h1M236 6.5h1M251 6.5h2M256 6.5h1M273 6.5h1M275 6.5h1M283 6.5h1M302 6.5h1M304 6.5h1M306 6.5h1M324 6.5h1M334 6.5h1M338 6.5h2M342 6.5h1M368 6.5h1M401 6.5h1M404 6.5h1M411 6.5h1M445 6.5h1M466 6.5h1M483 6.5h2M486 6.5h1M521 6.5h1M528 6.5h1M561 6.5h1M589 6.5h1M604 6.5h1M628 6.5h1M735 6.5h1M747 6.5h1M760 6.5h1M765 6.5h1M772 6.5h1M785 6.5h1M789 6.5h1M132 7.5h1M139 7.5h1M157 7.5h1M184 7.5h1M195 7.5h1M209 7.5h1M220 7.5h1M232 7.5h1M265 7.5h1M272 7.5h1M293 7.5h1M296 7.5h1M317 7.5h1M356 7.5h1M393 7.5h1M428 7.5h1M430 7.5h1M432 7.5h1M519 7.5h1M544 7.5h1M561 7.5h1M577 7.5h1M608 7.5h1M615 7.5h1M639 7.5h1M641 7.5h1M678 7.5h1M690 7.5h1M698 7.5h1M702 7.5h1M705 7.5h2M739 7.5h1M744 7.5h1M753 7.5h2M788 7.5h1M80 8.5h1M99 8.5h1M122 8.5h1M132 8.5h1M135 8.5h1M158 8.5h1M188 8.5h1M197 8.5h1M204 8.5h1M207 8.5h1M209 8.5h1M245 8.5h1M266 8.5h1M309 8.5h2M314 8.5h1M329 8.5h1M331 8.5h1M346 8.5h1M356 8.5h3M362 8.5h1M373 8.5h2M379 8.5h1M419 8.5h1M449 8.5h1M459 8.5h1M471 8.5h1M490 8.5h1M506 8.5h1M522 8.5h1M533 8.5h1M541 8.5h1M570 8.5h1M590 8.5h1M600 8.5h2M626 8.5h1M628 8.5h1M643 8.5h1M674 8.5h1M714 8.5h1M749 8.5h1M772 8.5h1M784 8.5h1M100 9.5h1M124 9.5h1M132 9.5h1M164 9.5h1M173 9.5h1M197 9.5h1M206 9.5h2M242 9.5h1M281 9.5h1M288 9.5h1M305 9.5h2M333 9.5h1M411 9.5h1M414 9.5h1M424 9.5h1M433 9.5h1M464 9.5h3M479 9.5h1M498 9.5h1M506 9.5h1M521 9.5h1M531 9.5h1M535 9.5h1M566 9.5h1M597 9.5h1M624 9.5h1M628 9.5h1M640 9.5h1M647 9.5h2M699 9.5h1M723 9.5h1M733 9.5h1M786 9.5h1M78 10.5h1M83 10.5h1M111 10.5h1M122 10.5h1M151 10.5h1M199 10.5h1M241 10.5h1M243 10.5h1M245 10.5h1M255 10.5h1M268 10.5h1M275 10.5h1M310 10.5h1M316 10.5h1M350 10.5h2M360 10.5h1M382 10.5h1M415 10.5h1M436 10.5h1M460 10.5h1M464 10.5h1M491 10.5h1M513 10.5h1M517 10.5h1M529 10.5h1M539 10.5h1M564 10.5h1M583 10.5h1M595 10.5h1M617 10.5h1M621 10.5h2M624 10.5h1M629 10.5h1M654 10.5h1M676 10.5h1M708 10.5h1M714 10.5h1M725 10.5h1M731 10.5h1M747 10.5h1M97 11.5h1M108 11.5h1M122 11.5h1M181 11.5h1M188 11.5h1M197 11.5h1M231 11.5h1M243 11.5h1M248 11.5h1M257 11.5h1M263 11.5h1M268 11.5h1M272 11.5h1M305 11.5h1M324 11.5h1M330 11.5h1M339 11.5h2M389 11.5h1M460 11.5h1M462 11.5h1M472 11.5h1M487 11.5h1M505 11.5h1M564 11.5h1M569 11.5h2M575 11.5h1M580 11.5h2M584 11.5h1M621 11.5h1M640 11.5h1M677 11.5h1M682 11.5h1M693 11.5h1M725 11.5h1M738 11.5h1M741 11.5h1M779 11.5h1M788 11.5h3"/><path stroke="#002900" d="M117 0.5h1M140 0.5h1M143 0.5h1M154 0.5h1M156 0.5h1M193 0.5h1M213 0.5h1M244 0.5h1M277 0.5h3M305 0.5h2M320 0.5h1M333 0.5h1M353 0.5h1M359 0.5h1M388 0.5h1M413 0.5h1M457 0.5h1M517 0.5h1M543 0.5h1M569 0.5h1M585 0.5h1M608 0.5h1M659 0.5h1M665 0.5h1M673 0.5h1M690 0.5h1M698 0.5h1M705 0.5h1M759 0.5h1M763 0.5h1M778 0.5h1M38 1.5h1M54 1.5h1M71 1.5h1M89 1.5h1M108 1.5h1M120 1.5h1M154 1.5h1M172 1.5h2M196 1.5h1M204 1.5h1M278 1.5h1M282 1.5h1M288 1.5h1M305 1.5h2M308 1.5h1M333 1.5h1M354 1.5h2M365 1.5h1M419 1.5h1M425 1.5h1M443 1.5h1M467 1.5h1M478 1.5h1M578 1.5h1M596 1.5h1M602 1.5h1M651 1.5h1M668 1.5h1M675 1.5h1M751 1.5h1M793 1.5h1M3 2.5h1M40 2.5h1M64 2.5h1M110 2.5h1M133 2.5h1M178 2.5h1M225 2.5h1M233 2.5h1M239 2.5h1M251 2.5h1M257 2.5h1M313 2.5h1M343 2.5h1M345 2.5h1M386 2.5h1M453 2.5h1M457 2.5h1M462 2.5h1M470 2.5h1M483 2.5h1M504 2.5h1M509 2.5h1M532 2.5h1M548 2.5h1M550 2.5h1M553 2.5h1M569 2.5h1M653 2.5h1M665 2.5h1M757 2.5h1M776 2.5h1M798 2.5h2M99 3.5h1M134 3.5h1M164 3.5h1M186 3.5h2M189 3.5h1M226 3.5h2M249 3.5h1M263 3.5h1M267 3.5h1M283 3.5h1M306 3.5h1M321 3.5h1M339 3.5h1M376 3.5h1M383 3.5h1M397 3.5h1M401 3.5h1M455 3.5h1M462 3.5h1M547 3.5h1M586 3.5h1M630 3.5h1M639 3.5h1M698 3.5h1M701 3.5h1M707 3.5h2M713 3.5h1M771 3.5h1M782 3.5h1M786 3.5h1M6 4.5h1M71 4.5h1M84 4.5h1M93 4.5h1M100 4.5h1M103 4.5h1M118 4.5h1M151 4.5h1M157 4.5h1M179 4.5h1M200 4.5h1M220 4.5h1M230 4.5h1M247 4.5h1M262 4.5h1M264 4.5h1M287 4.5h1M314 4.5h1M351 4.5h1M369 4.5h1M373 4.5h1M422 4.5h1M427 4.5h1M434 4.5h1M448 4.5h1M470 4.5h1M488 4.5h1M509 4.5h1M519 4.5h1M592 4.5h1M598 4.5h1M615 4.5h1M620 4.5h1M625 4.5h1M636 4.5h1M640 4.5h1M673 4.5h1M683 4.5h1M733 4.5h1M746 4.5h1M764 4.5h1M791 4.5h1M77 5.5h1M109 5.5h1M142 5.5h1M145 5.5h1M163 5.5h1M165 5.5h1M173 5.5h1M189 5.5h1M254 5.5h1M280 5.5h1M303 5.5h1M326 5.5h1M368 5.5h1M450 5.5h1M458 5.5h1M462 5.5h1M469 5.5h1M474 5.5h1M478 5.5h1M520 5.5h1M523 5.5h1M528 5.5h1M554 5.5h1M582 5.5h1M594 5.5h1M649 5.5h1M661 5.5h1M671 5.5h1M680 5.5h2M690 5.5h1M703 5.5h1M724 5.5h1M736 5.5h1M775 5.5h1M42 6.5h1M89 6.5h1M94 6.5h1M99 6.5h1M135 6.5h1M141 6.5h1M143 6.5h1M146 6.5h1M152 6.5h1M157 6.5h1M174 6.5h1M190 6.5h1M229 6.5h1M299 6.5h1M327 6.5h1M346 6.5h1M352 6.5h1M364 6.5h1M369 6.5h1M382 6.5h1M395 6.5h1M403 6.5h1M410 6.5h1M413 6.5h1M426 6.5h1M458 6.5h1M502 6.5h1M506 6.5h1M520 6.5h1M529 6.5h1M537 6.5h1M595 6.5h1M598 6.5h1M608 6.5h1M610 6.5h1M644 6.5h1M665 6.5h1M669 6.5h2M699 6.5h1M708 6.5h2M715 6.5h1M771 6.5h1M774 6.5h1M100 7.5h1M102 7.5h1M108 7.5h1M113 7.5h1M127 7.5h1M165 7.5h2M186 7.5h1M200 7.5h1M222 7.5h1M270 7.5h1M288 7.5h1M304 7.5h1M322 7.5h1M325 7.5h1M341 7.5h1M368 7.5h1M377 7.5h1M384 7.5h1M388 7.5h1M400 7.5h1M407 7.5h1M466 7.5h1M468 7.5h1M472 7.5h1M488 7.5h1M496 7.5h1M518 7.5h1M547 7.5h1M554 7.5h1M578 7.5h1M588 7.5h1M592 7.5h1M601 7.5h1M627 7.5h1M637 7.5h1M710 7.5h1M741 7.5h1M749 7.5h1M767 7.5h1M795 7.5h1M120 8.5h1M136 8.5h1M144 8.5h1M154 8.5h1M157 8.5h1M176 8.5h1M181 8.5h1M191 8.5h1M199 8.5h1M205 8.5h1M214 8.5h1M217 8.5h1M235 8.5h1M253 8.5h1M336 8.5h2M348 8.5h1M353 8.5h1M369 8.5h1M392 8.5h1M450 8.5h1M489 8.5h1M524 8.5h1M580 8.5h1M606 8.5h1M625 8.5h1M651 8.5h1M676 8.5h1M690 8.5h1M701 8.5h1M709 8.5h1M734 8.5h1M748 8.5h1M768 8.5h1M786 8.5h1M82 9.5h1M117 9.5h1M122 9.5h1M130 9.5h1M136 9.5h1M152 9.5h1M166 9.5h1M227 9.5h1M229 9.5h1M249 9.5h1M279 9.5h1M295 9.5h1M320 9.5h1M336 9.5h1M344 9.5h1M351 9.5h1M358 9.5h1M374 9.5h1M388 9.5h1M415 9.5h1M429 9.5h1M468 9.5h1M510 9.5h1M558 9.5h1M561 9.5h1M591 9.5h1M633 9.5h1M662 9.5h1M673 9.5h1M679 9.5h1M687 9.5h1M700 9.5h1M710 9.5h2M713 9.5h1M721 9.5h1M743 9.5h1M763 9.5h1M771 9.5h1M114 10.5h2M120 10.5h1M156 10.5h1M161 10.5h1M196 10.5h1M203 10.5h1M253 10.5h1M270 10.5h1M311 10.5h1M313 10.5h1M336 10.5h1M384 10.5h1M397 10.5h1M406 10.5h1M411 10.5h1M435 10.5h1M439 10.5h1M446 10.5h1M461 10.5h1M482 10.5h1M485 10.5h1M502 10.5h1M521 10.5h1M525 10.5h1M536 10.5h1M567 10.5h1M579 10.5h1M607 10.5h1M644 10.5h1M661 10.5h1M703 10.5h1M758 10.5h1M764 10.5h1M794 10.5h1M91 11.5h1M101 11.5h1M107 11.5h1M117 11.5h1M172 11.5h1M199 11.5h1M255 11.5h1M259 11.5h1M284 11.5h1M289 11.5h3M296 11.5h1M302 11.5h1M308 11.5h1M328 11.5h1M331 11.5h1M346 11.5h1M351 11.5h1M355 11.5h1M363 11.5h1M373 11.5h1M383 11.5h1M391 11.5h1M433 11.5h1M441 11.5h1M457 11.5h1M463 11.5h1M492 11.5h1M507 11.5h1M514 11.5h1M583 11.5h1M605 11.5h1M655 11.5h1M681 11.5h1M723 11.5h1M742 11.5h1M752 11.5h1M766 11.5h1"/><path stroke="#001f00" d="M52 0.5h1M159 0.5h1M166 0.5h1M179 0.5h1M197 0.5h1M228 0.5h1M270 0.5h1M287 0.5h1M357 0.5h1M366 0.5h1M371 0.5h1M399 0.5h1M409 0.5h1M431 0.5h1M434 0.5h1M462 0.5h1M471 0.5h1M480 0.5h1M497 0.5h3M503 0.5h1M509 0.5h1M540 0.5h2M564 0.5h1M589 0.5h1M598 0.5h1M601 0.5h1M623 0.5h1M639 0.5h1M664 0.5h1M678 0.5h1M680 0.5h1M696 0.5h1M707 0.5h1M712 0.5h1M727 0.5h1M771 0.5h1M777 0.5h1M792 0.5h1M799 0.5h1M29 1.5h1M33 1.5h1M64 1.5h1M104 1.5h1M118 1.5h2M142 1.5h1M159 1.5h1M175 1.5h1M203 1.5h1M228 1.5h1M236 1.5h1M251 1.5h1M259 1.5h1M329 1.5h1M336 1.5h1M383 1.5h1M407 1.5h1M422 1.5h1M424 1.5h1M441 1.5h1M450 1.5h1M491 1.5h1M542 1.5h1M563 1.5h2M580 1.5h1M654 1.5h1M679 1.5h1M704 1.5h1M730 1.5h1M734 1.5h1M749 1.5h1M776 1.5h1M14 2.5h1M33 2.5h1M52 2.5h1M71 2.5h1M84 2.5h1M87 2.5h1M91 2.5h1M99 2.5h2M146 2.5h1M154 2.5h1M162 2.5h1M193 2.5h1M214 2.5h1M217 2.5h1M261 2.5h1M290 2.5h1M317 2.5h1M357 2.5h1M365 2.5h1M410 2.5h1M415 2.5h1M427 2.5h1M459 2.5h1M515 2.5h1M533 2.5h1M587 2.5h1M600 2.5h1M609 2.5h1M618 2.5h1M623 2.5h1M626 2.5h1M660 2.5h1M671 2.5h1M693 2.5h1M710 2.5h1M712 2.5h1M714 2.5h2M781 2.5h1M785 2.5h1M95 3.5h1M103 3.5h1M113 3.5h1M117 3.5h1M129 3.5h1M145 3.5h1M151 3.5h2M158 3.5h1M175 3.5h1M185 3.5h1M190 3.5h1M209 3.5h1M231 3.5h1M247 3.5h1M270 3.5h1M286 3.5h2M310 3.5h1M344 3.5h1M387 3.5h1M389 3.5h2M404 3.5h1M423 3.5h2M429 3.5h1M451 3.5h1M483 3.5h1M530 3.5h1M580 3.5h1M592 3.5h1M608 3.5h1M614 3.5h1M632 3.5h1M664 3.5h1M695 3.5h1M715 3.5h1M754 3.5h1M769 3.5h1M780 3.5h1M793 3.5h1M26 4.5h1M65 4.5h1M80 4.5h1M99 4.5h1M199 4.5h1M211 4.5h1M218 4.5h1M250 4.5h1M273 4.5h1M286 4.5h1M293 4.5h1M381 4.5h1M393 4.5h1M493 4.5h1M532 4.5h2M558 4.5h1M569 4.5h1M581 4.5h1M596 4.5h1M626 4.5h1M653 4.5h1M662 4.5h1M690 4.5h1M751 4.5h1M756 4.5h1M759 4.5h1M104 5.5h1M112 5.5h1M136 5.5h1M155 5.5h1M192 5.5h1M203 5.5h1M226 5.5h1M258 5.5h1M281 5.5h1M294 5.5h1M319 5.5h2M357 5.5h1M381 5.5h1M384 5.5h1M429 5.5h1M498 5.5h1M511 5.5h1M539 5.5h1M544 5.5h1M549 5.5h1M561 5.5h2M575 5.5h1M584 5.5h1M591 5.5h1M612 5.5h1M619 5.5h1M643 5.5h1M656 5.5h1M658 5.5h2M667 5.5h2M684 5.5h1M688 5.5h1M699 5.5h1M705 5.5h1M718 5.5h1M767 5.5h1M770 5.5h1M798 5.5h1M22 6.5h1M56 6.5h1M73 6.5h1M93 6.5h1M158 6.5h1M172 6.5h1M176 6.5h1M178 6.5h1M223 6.5h1M234 6.5h1M255 6.5h1M281 6.5h1M307 6.5h1M330 6.5h1M349 6.5h1M354 6.5h1M373 6.5h1M375 6.5h2M379 6.5h1M383 6.5h1M393 6.5h1M396 6.5h1M419 6.5h1M446 6.5h1M468 6.5h1M508 6.5h1M560 6.5h1M594 6.5h1M612 6.5h1M656 6.5h1M721 6.5h1M723 6.5h2M741 6.5h1M77 7.5h2M90 7.5h1M112 7.5h1M155 7.5h1M175 7.5h1M189 7.5h1M210 7.5h2M247 7.5h1M262 7.5h1M275 7.5h1M280 7.5h1M289 7.5h1M307 7.5h1M309 7.5h1M314 7.5h1M361 7.5h1M379 7.5h1M382 7.5h2M392 7.5h1M397 7.5h1M399 7.5h1M418 7.5h1M433 7.5h1M447 7.5h1M456 7.5h1M459 7.5h1M464 7.5h1M486 7.5h1M490 7.5h1M507 7.5h1M530 7.5h1M568 7.5h2M602 7.5h1M604 7.5h1M620 7.5h1M643 7.5h1M650 7.5h1M660 7.5h1M667 7.5h1M686 7.5h1M713 7.5h1M720 7.5h1M723 7.5h2M729 7.5h1M740 7.5h1M761 7.5h1M764 7.5h1M789 7.5h1M117 8.5h1M124 8.5h2M150 8.5h1M156 8.5h1M165 8.5h1M171 8.5h1M179 8.5h1M231 8.5h1M267 8.5h1M276 8.5h1M293 8.5h1M339 8.5h1M341 8.5h1M363 8.5h1M389 8.5h2M393 8.5h1M397 8.5h1M413 8.5h1M417 8.5h1M425 8.5h1M442 8.5h1M446 8.5h2M466 8.5h1M480 8.5h1M485 8.5h1M492 8.5h1M507 8.5h1M516 8.5h1M563 8.5h1M577 8.5h1M581 8.5h1M592 8.5h1M603 8.5h1M612 8.5h1M619 8.5h1M621 8.5h1M637 8.5h1M661 8.5h1M689 8.5h1M704 8.5h1M717 8.5h1M720 8.5h1M724 8.5h1M780 8.5h1M89 9.5h1M150 9.5h1M158 9.5h1M172 9.5h1M218 9.5h1M228 9.5h1M235 9.5h1M237 9.5h1M257 9.5h1M262 9.5h1M267 9.5h1M284 9.5h1M296 9.5h1M329 9.5h1M365 9.5h1M377 9.5h1M390 9.5h1M394 9.5h1M406 9.5h1M413 9.5h1M436 9.5h1M446 9.5h1M467 9.5h1M469 9.5h1M480 9.5h1M511 9.5h1M563 9.5h1M580 9.5h1M594 9.5h1M605 9.5h1M608 9.5h1M615 9.5h1M634 9.5h1M637 9.5h1M646 9.5h1M649 9.5h1M670 9.5h1M748 9.5h1M756 9.5h1M766 9.5h1M794 9.5h1M96 10.5h1M145 10.5h1M191 10.5h1M221 10.5h1M226 10.5h2M231 10.5h1M235 10.5h1M240 10.5h1M254 10.5h1M286 10.5h1M304 10.5h1M314 10.5h1M331 10.5h1M345 10.5h1M367 10.5h1M390 10.5h1M417 10.5h1M440 10.5h1M443 10.5h1M469 10.5h1M486 10.5h1M516 10.5h1M533 10.5h1M537 10.5h1M547 10.5h1M596 10.5h1M600 10.5h1M605 10.5h1M647 10.5h1M692 10.5h1M717 10.5h1M796 10.5h1M115 11.5h1M133 11.5h1M144 11.5h1M159 11.5h1M168 11.5h1M193 11.5h1M281 11.5h1M304 11.5h1M307 11.5h1M334 11.5h1M341 11.5h1M353 11.5h1M364 11.5h1M370 11.5h1M381 11.5h1M393 11.5h1M467 11.5h1M489 11.5h1M533 11.5h1M557 11.5h1M567 11.5h2M576 11.5h1M627 11.5h1M632 11.5h1M634 11.5h1M704 11.5h1M748 11.5h1M782 11.5h1M792 11.5h1M795 11.5h1"/><path stroke="#001400" d="M71 0.5h1M91 0.5h1M110 0.5h1M142 0.5h1M255 0.5h1M262 0.5h1M272 0.5h1M324 0.5h1M395 0.5h1M472 0.5h1M482 0.5h1M485 0.5h1M504 0.5h1M515 0.5h1M576 0.5h1M721 0.5h2M741 0.5h1M746 0.5h1M798 0.5h1M6 1.5h1M92 1.5h1M102 1.5h1M127 1.5h2M140 1.5h1M167 1.5h1M238 1.5h1M250 1.5h1M280 1.5h1M283 1.5h1M303 1.5h1M324 1.5h1M337 1.5h1M352 1.5h1M428 1.5h1M440 1.5h1M456 1.5h1M470 1.5h1M540 1.5h1M550 1.5h1M562 1.5h1M618 1.5h1M633 1.5h1M659 1.5h1M673 1.5h1M678 1.5h1M683 1.5h1M694 1.5h1M761 1.5h1M785 1.5h1M61 2.5h1M141 2.5h1M147 2.5h1M185 2.5h1M196 2.5h1M255 2.5h1M262 2.5h1M271 2.5h2M324 2.5h1M341 2.5h1M352 2.5h1M355 2.5h1M380 2.5h1M441 2.5h1M511 2.5h1M528 2.5h1M602 2.5h1M625 2.5h1M633 2.5h1M709 2.5h1M738 2.5h2M793 2.5h1M83 3.5h1M90 3.5h1M118 3.5h1M161 3.5h1M174 3.5h1M204 3.5h1M316 3.5h1M337 3.5h1M358 3.5h1M366 3.5h1M402 3.5h1M441 3.5h1M448 3.5h1M450 3.5h1M458 3.5h1M516 3.5h1M555 3.5h1M595 3.5h1M648 3.5h1M671 3.5h1M693 3.5h1M726 3.5h1M740 3.5h1M744 3.5h1M751 3.5h1M770 3.5h1M773 3.5h1M778 3.5h1M94 4.5h1M144 4.5h1M164 4.5h1M183 4.5h1M195 4.5h1M198 4.5h1M245 4.5h1M251 4.5h1M288 4.5h1M295 4.5h1M320 4.5h2M324 4.5h1M332 4.5h1M339 4.5h1M436 4.5h1M445 4.5h1M449 4.5h1M467 4.5h1M471 4.5h1M480 4.5h1M512 4.5h1M536 4.5h1M545 4.5h1M562 4.5h1M566 4.5h1M577 4.5h1M604 4.5h1M646 4.5h1M717 4.5h1M793 4.5h1M795 4.5h1M96 5.5h1M107 5.5h1M143 5.5h1M153 5.5h1M180 5.5h1M190 5.5h2M199 5.5h1M214 5.5h1M236 5.5h1M238 5.5h1M244 5.5h1M246 5.5h1M248 5.5h1M336 5.5h1M412 5.5h1M434 5.5h1M439 5.5h1M444 5.5h1M532 5.5h1M543 5.5h1M589 5.5h1M624 5.5h1M648 5.5h1M700 5.5h1M782 5.5h1M34 6.5h1M71 6.5h1M100 6.5h1M126 6.5h1M154 6.5h1M179 6.5h1M200 6.5h1M202 6.5h2M332 6.5h1M347 6.5h1M381 6.5h1M500 6.5h1M523 6.5h1M590 6.5h1M633 6.5h1M679 6.5h1M685 6.5h1M704 6.5h1M726 6.5h1M737 6.5h1M776 6.5h1M791 6.5h1M794 6.5h1M84 7.5h1M94 7.5h1M114 7.5h1M137 7.5h1M154 7.5h1M174 7.5h1M221 7.5h1M240 7.5h2M263 7.5h1M297 7.5h1M338 7.5h2M370 7.5h1M455 7.5h1M463 7.5h1M481 7.5h1M494 7.5h1M517 7.5h1M564 7.5h1M579 7.5h1M584 7.5h1M610 7.5h1M622 7.5h1M654 7.5h1M656 7.5h1M673 7.5h1M676 7.5h1M683 7.5h1M685 7.5h1M711 7.5h1M716 7.5h1M755 7.5h1M779 7.5h1M76 8.5h1M79 8.5h1M161 8.5h1M170 8.5h1M182 8.5h1M210 8.5h1M218 8.5h1M247 8.5h1M250 8.5h1M254 8.5h1M261 8.5h1M281 8.5h1M300 8.5h1M311 8.5h1M317 8.5h1M344 8.5h1M394 8.5h1M430 8.5h1M452 8.5h1M498 8.5h1M514 8.5h1M527 8.5h1M551 8.5h1M602 8.5h1M607 8.5h1M646 8.5h1M656 8.5h1M659 8.5h1M670 8.5h1M691 8.5h1M698 8.5h1M751 8.5h1M756 8.5h1M788 8.5h1M77 9.5h1M85 9.5h1M114 9.5h1M127 9.5h1M131 9.5h1M137 9.5h1M141 9.5h1M179 9.5h1M216 9.5h1M259 9.5h1M301 9.5h2M328 9.5h1M345 9.5h1M361 9.5h1M380 9.5h1M395 9.5h1M459 9.5h1M461 9.5h1M484 9.5h1M491 9.5h1M516 9.5h1M551 9.5h2M588 9.5h1M602 9.5h1M685 9.5h1M714 9.5h1M720 9.5h1M722 9.5h1M752 9.5h1M765 9.5h1M784 9.5h1M87 10.5h1M97 10.5h1M140 10.5h1M160 10.5h1M190 10.5h1M192 10.5h2M204 10.5h1M228 10.5h1M244 10.5h1M303 10.5h1M343 10.5h1M356 10.5h1M363 10.5h1M451 10.5h1M463 10.5h1M497 10.5h1M570 10.5h1M576 10.5h1M585 10.5h1M643 10.5h1M660 10.5h1M672 10.5h1M719 10.5h1M721 10.5h1M730 10.5h1M733 10.5h1M774 10.5h1M795 10.5h1M797 10.5h1M78 11.5h1M111 11.5h1M121 11.5h1M140 11.5h1M163 11.5h1M240 11.5h1M251 11.5h1M301 11.5h1M306 11.5h1M314 11.5h1M372 11.5h1M405 11.5h1M419 11.5h1M430 11.5h1M442 11.5h1M447 11.5h2M450 11.5h1M453 11.5h1M493 11.5h1M496 11.5h1M511 11.5h1M513 11.5h1M607 11.5h1M612 11.5h1M617 11.5h1M619 11.5h1M637 11.5h1M653 11.5h1M678 11.5h1M687 11.5h1M703 11.5h1M705 11.5h1M728 11.5h1M740 11.5h1M762 11.5h1M765 11.5h1"/><path stroke="#000a00" d="M72 1.5h1M12 2.5h1M29 2.5h1M20 4.5h1M74 6.5h1M10 9.5h1M13 9.5h1M55 9.5h1M13 11.5h1M46 11.5h1"/><path stroke="#000000" d="M33 0.5h1M67 0.5h1M38 2.5h1M14 6.5h1M55 6.5h1M42 9.5h1M50 9.5h1M62 11.5h1"/><path stroke="#0a0000" d="M69 1.5h1M20 2.5h1M31 2.5h1M74 5.5h1M47 6.5h1M14 9.5h1M17 9.5h1M29 9.5h1M17 11.5h1M40 11.5h1M52 11.5h1M55 11.5h1M65 11.5h1M67 11.5h1"/><path stroke="#140000" d="M77 0.5h1M80 0.5h1M139 0.5h1M184 0.5h1M189 0.5h1M215 0.5h1M261 0.5h1M283 0.5h1M296 0.5h1M309 0.5h1M340 0.5h2M343 0.5h1M348 0.5h1M383 0.5h1M426 0.5h1M437 0.5h1M502 0.5h1M510 0.5h1M535 0.5h1M538 0.5h1M561 0.5h1M580 0.5h1M590 0.5h1M604 0.5h1M606 0.5h1M610 0.5h1M619 0.5h1M643 0.5h1M653 0.5h1M711 0.5h1M719 0.5h1M725 0.5h1M757 0.5h1M783 0.5h1M85 1.5h1M112 1.5h1M125 1.5h1M146 1.5h1M163 1.5h1M194 1.5h1M216 1.5h1M240 1.5h1M339 1.5h1M359 1.5h1M363 1.5h1M408 1.5h1M430 1.5h1M472 1.5h1M476 1.5h1M509 1.5h1M533 1.5h1M539 1.5h1M556 1.5h1M597 1.5h1M643 1.5h1M657 1.5h1M663 1.5h1M670 1.5h1M699 1.5h1M717 1.5h1M732 1.5h1M738 1.5h1M754 1.5h1M77 2.5h1M89 2.5h1M92 2.5h1M97 2.5h1M123 2.5h1M132 2.5h1M163 2.5h1M167 2.5h1M175 2.5h1M192 2.5h1M197 2.5h1M215 2.5h1M300 2.5h1M322 2.5h1M377 2.5h1M411 2.5h1M445 2.5h1M452 2.5h1M463 2.5h2M564 2.5h1M575 2.5h1M580 2.5h1M608 2.5h1M614 2.5h1M622 2.5h1M662 2.5h1M672 2.5h1M678 2.5h1M735 2.5h1M745 2.5h1M766 2.5h1M797 2.5h1M107 3.5h1M141 3.5h1M153 3.5h1M155 3.5h2M163 3.5h1M180 3.5h1M194 3.5h1M222 3.5h1M256 3.5h1M266 3.5h1M300 3.5h1M334 3.5h1M364 3.5h1M398 3.5h1M477 3.5h1M486 3.5h1M523 3.5h1M545 3.5h1M570 3.5h1M597 3.5h1M602 3.5h1M609 3.5h1M636 3.5h1M689 3.5h1M732 3.5h1M736 3.5h1M76 4.5h1M78 4.5h1M123 4.5h1M127 4.5h1M197 4.5h1M265 4.5h1M322 4.5h1M328 4.5h1M331 4.5h1M353 4.5h1M355 4.5h1M401 4.5h1M407 4.5h1M460 4.5h1M473 4.5h1M477 4.5h1M479 4.5h1M500 4.5h1M523 4.5h1M529 4.5h1M540 4.5h1M576 4.5h1M587 4.5h1M597 4.5h1M631 4.5h1M670 4.5h1M730 4.5h1M783 4.5h1M5 5.5h1M138 5.5h1M140 5.5h1M184 5.5h2M204 5.5h1M240 5.5h1M253 5.5h1M260 5.5h1M262 5.5h1M270 5.5h1M309 5.5h1M370 5.5h1M387 5.5h1M389 5.5h1M391 5.5h1M393 5.5h1M420 5.5h1M445 5.5h1M506 5.5h1M551 5.5h1M599 5.5h1M604 5.5h1M652 5.5h1M655 5.5h1M751 5.5h1M765 5.5h1M796 5.5h1M2 6.5h1M30 6.5h1M105 6.5h1M128 6.5h1M138 6.5h1M166 6.5h1M173 6.5h1M217 6.5h1M243 6.5h1M254 6.5h1M288 6.5h1M311 6.5h1M362 6.5h1M377 6.5h2M392 6.5h1M429 6.5h1M464 6.5h1M467 6.5h1M480 6.5h1M485 6.5h1M510 6.5h1M517 6.5h1M530 6.5h1M599 6.5h1M609 6.5h1M641 6.5h1M672 6.5h1M688 6.5h1M703 6.5h1M732 6.5h1M748 6.5h1M786 6.5h1M181 7.5h1M249 7.5h1M260 7.5h1M320 7.5h1M344 7.5h1M362 7.5h1M366 7.5h1M376 7.5h1M451 7.5h1M493 7.5h1M525 7.5h1M529 7.5h1M566 7.5h1M580 7.5h1M587 7.5h1M606 7.5h1M717 7.5h1M737 7.5h1M762 7.5h1M790 7.5h1M793 7.5h1M89 8.5h1M93 8.5h1M98 8.5h1M105 8.5h1M137 8.5h1M146 8.5h1M192 8.5h1M228 8.5h1M274 8.5h1M297 8.5h1M321 8.5h1M359 8.5h1M391 8.5h1M423 8.5h1M464 8.5h1M494 8.5h1M536 8.5h2M575 8.5h1M586 8.5h2M634 8.5h1M662 8.5h1M710 8.5h1M712 8.5h1M719 8.5h1M733 8.5h1M738 8.5h1M9 9.5h1M25 9.5h1M39 9.5h1M54 9.5h1M62 9.5h1M67 9.5h1M199 9.5h1M209 9.5h1M215 9.5h1M240 9.5h1M247 9.5h1M274 9.5h1M304 9.5h1M310 9.5h1M364 9.5h1M368 9.5h1M391 9.5h1M397 9.5h1M432 9.5h1M441 9.5h1M482 9.5h1M574 9.5h1M579 9.5h1M599 9.5h1M777 9.5h1M783 9.5h1M788 9.5h1M790 9.5h1M796 9.5h1M54 10.5h2M79 10.5h1M84 10.5h1M108 10.5h1M121 10.5h1M129 10.5h1M169 10.5h1M188 10.5h1M210 10.5h1M214 10.5h2M219 10.5h1M234 10.5h1M251 10.5h1M295 10.5h1M373 10.5h1M396 10.5h1M410 10.5h1M442 10.5h1M571 10.5h1M655 10.5h1M689 10.5h1M729 10.5h1M732 10.5h1M734 10.5h1M793 10.5h1M59 11.5h1M98 11.5h1M110 11.5h1M146 11.5h1M173 11.5h1M186 11.5h1M194 11.5h1M211 11.5h1M217 11.5h1M221 11.5h1M258 11.5h1M265 11.5h1M327 11.5h1M336 11.5h1M394 11.5h1M421 11.5h1M445 11.5h1M474 11.5h1M600 11.5h1M649 11.5h1M691 11.5h1M747 11.5h1M768 11.5h1M771 11.5h2"/><path stroke="#1f0000" d="M92 0.5h1M153 0.5h1M164 0.5h1M168 0.5h2M183 0.5h1M190 0.5h1M216 0.5h1M229 0.5h1M245 0.5h1M286 0.5h1M298 0.5h1M300 0.5h1M332 0.5h1M360 0.5h1M375 0.5h1M436 0.5h1M442 0.5h1M475 0.5h1M490 0.5h1M496 0.5h1M505 0.5h1M511 0.5h1M523 0.5h1M571 0.5h1M579 0.5h1M593 0.5h1M616 0.5h1M649 0.5h1M651 0.5h1M683 0.5h1M689 0.5h1M726 0.5h1M728 0.5h1M734 0.5h2M739 0.5h1M762 0.5h1M111 1.5h1M121 1.5h1M131 1.5h1M150 1.5h2M156 1.5h1M162 1.5h1M234 1.5h2M269 1.5h1M315 1.5h1M330 1.5h1M346 1.5h1M362 1.5h1M370 1.5h1M376 1.5h1M409 1.5h1M449 1.5h1M466 1.5h1M474 1.5h1M482 1.5h1M485 1.5h1M499 1.5h1M503 1.5h1M525 1.5h1M551 1.5h1M573 1.5h1M600 1.5h2M606 1.5h1M666 1.5h1M674 1.5h1M690 1.5h1M740 1.5h1M757 1.5h1M779 1.5h1M792 1.5h1M796 1.5h1M104 2.5h1M127 2.5h1M164 2.5h1M177 2.5h1M220 2.5h1M230 2.5h1M247 2.5h2M282 2.5h1M287 2.5h1M331 2.5h1M334 2.5h1M339 2.5h1M349 2.5h1M368 2.5h2M375 2.5h1M407 2.5h1M438 2.5h1M456 2.5h1M468 2.5h1M478 2.5h1M523 2.5h1M552 2.5h1M554 2.5h1M606 2.5h1M652 2.5h1M666 2.5h1M668 2.5h1M670 2.5h1M674 2.5h1M708 2.5h1M713 2.5h1M725 2.5h1M744 2.5h1M768 2.5h1M792 2.5h1M87 3.5h1M101 3.5h1M105 3.5h1M116 3.5h1M149 3.5h1M162 3.5h1M168 3.5h1M207 3.5h1M233 3.5h1M257 3.5h1M271 3.5h1M293 3.5h1M324 3.5h1M326 3.5h1M351 3.5h1M360 3.5h1M369 3.5h1M436 3.5h1M449 3.5h1M468 3.5h1M491 3.5h1M493 3.5h1M507 3.5h1M509 3.5h1M521 3.5h1M576 3.5h1M589 3.5h1M604 3.5h1M623 3.5h1M678 3.5h1M716 3.5h1M752 3.5h1M105 4.5h1M113 4.5h1M126 4.5h1M145 4.5h1M159 4.5h1M184 4.5h1M202 4.5h1M210 4.5h1M214 4.5h1M224 4.5h1M228 4.5h1M231 4.5h1M248 4.5h1M263 4.5h1M270 4.5h1M274 4.5h1M276 4.5h1M284 4.5h1M294 4.5h1M312 4.5h2M387 4.5h2M409 4.5h1M421 4.5h1M431 4.5h1M435 4.5h1M458 4.5h1M468 4.5h1M499 4.5h1M530 4.5h1M575 4.5h1M578 4.5h1M609 4.5h1M614 4.5h1M628 4.5h1M712 4.5h1M734 4.5h1M743 4.5h2M777 4.5h1M780 4.5h1M13 5.5h1M20 5.5h1M101 5.5h1M134 5.5h1M162 5.5h1M209 5.5h1M229 5.5h1M288 5.5h1M290 5.5h1M299 5.5h1M312 5.5h1M358 5.5h1M390 5.5h1M396 5.5h1M465 5.5h1M501 5.5h1M522 5.5h1M529 5.5h1M552 5.5h2M564 5.5h1M601 5.5h1M609 5.5h1M645 5.5h1M657 5.5h1M694 5.5h1M706 5.5h1M748 5.5h1M23 6.5h1M25 6.5h1M37 6.5h1M163 6.5h1M169 6.5h1M199 6.5h1M218 6.5h1M245 6.5h1M272 6.5h1M296 6.5h1M300 6.5h2M360 6.5h1M415 6.5h1M418 6.5h1M444 6.5h1M448 6.5h2M515 6.5h1M526 6.5h2M534 6.5h1M555 6.5h1M586 6.5h1M606 6.5h1M626 6.5h1M642 6.5h1M655 6.5h1M660 6.5h1M719 6.5h1M731 6.5h1M769 6.5h1M782 6.5h1M790 6.5h1M795 6.5h1M799 6.5h1M79 7.5h1M109 7.5h1M130 7.5h1M194 7.5h1M207 7.5h1M223 7.5h1M256 7.5h1M271 7.5h1M327 7.5h1M357 7.5h1M409 7.5h1M434 7.5h1M452 7.5h1M487 7.5h1M501 7.5h1M531 7.5h1M550 7.5h1M565 7.5h1M581 7.5h1M624 7.5h1M628 7.5h1M651 7.5h1M661 7.5h1M666 7.5h1M714 7.5h1M768 7.5h1M776 7.5h1M96 8.5h1M160 8.5h1M173 8.5h1M215 8.5h2M241 8.5h1M294 8.5h1M299 8.5h1M301 8.5h1M305 8.5h1M312 8.5h1M323 8.5h1M335 8.5h1M360 8.5h1M367 8.5h1M420 8.5h1M454 8.5h1M470 8.5h1M477 8.5h1M496 8.5h1M555 8.5h1M559 8.5h1M573 8.5h1M589 8.5h1M617 8.5h1M648 8.5h1M652 8.5h1M658 8.5h1M700 8.5h1M741 8.5h1M758 8.5h1M760 8.5h1M777 8.5h2M797 8.5h1M32 9.5h1M37 9.5h1M44 9.5h1M46 9.5h1M51 9.5h1M59 9.5h1M64 9.5h1M66 9.5h1M81 9.5h1M98 9.5h2M101 9.5h1M105 9.5h1M128 9.5h1M161 9.5h1M194 9.5h1M238 9.5h1M282 9.5h1M312 9.5h1M314 9.5h1M346 9.5h1M409 9.5h1M423 9.5h1M425 9.5h1M473 9.5h1M475 9.5h1M477 9.5h1M496 9.5h1M499 9.5h1M541 9.5h1M562 9.5h1M586 9.5h1M609 9.5h2M654 9.5h1M663 9.5h1M717 9.5h1M724 9.5h1M774 9.5h1M787 9.5h1M118 10.5h1M154 10.5h1M157 10.5h1M172 10.5h1M174 10.5h1M183 10.5h1M246 10.5h1M267 10.5h1M276 10.5h1M289 10.5h1M299 10.5h1M301 10.5h1M317 10.5h1M322 10.5h1M349 10.5h1M370 10.5h1M388 10.5h2M468 10.5h1M505 10.5h1M524 10.5h1M557 10.5h1M565 10.5h1M578 10.5h1M581 10.5h1M584 10.5h1M592 10.5h1M627 10.5h2M648 10.5h1M652 10.5h1M668 10.5h1M675 10.5h1M724 10.5h1M726 10.5h1M742 10.5h1M766 10.5h1M779 10.5h1M784 10.5h1M789 10.5h1M24 11.5h1M26 11.5h1M34 11.5h2M39 11.5h1M44 11.5h1M80 11.5h1M119 11.5h1M156 11.5h1M162 11.5h1M176 11.5h1M182 11.5h1M184 11.5h1M219 11.5h1M226 11.5h1M234 11.5h1M245 11.5h3M275 11.5h1M279 11.5h1M297 11.5h1M333 11.5h1M406 11.5h1M408 11.5h1M411 11.5h1M420 11.5h1M444 11.5h1M451 11.5h1M459 11.5h1M498 11.5h1M506 11.5h1M508 11.5h1M517 11.5h1M543 11.5h1M571 11.5h1M603 11.5h1M620 11.5h1M629 11.5h1M652 11.5h1M685 11.5h1M710 11.5h1M714 11.5h1M722 11.5h1M726 11.5h1"/><path stroke="#290000" d="M104 0.5h1M129 0.5h1M147 0.5h1M207 0.5h1M235 0.5h1M250 0.5h1M263 0.5h1M271 0.5h1M274 0.5h1M291 0.5h2M297 0.5h1M323 0.5h1M363 0.5h2M368 0.5h2M389 0.5h1M396 0.5h1M398 0.5h1M404 0.5h1M418 0.5h1M425 0.5h1M427 0.5h1M468 0.5h1M563 0.5h1M573 0.5h1M607 0.5h1M612 0.5h1M622 0.5h1M637 0.5h1M645 0.5h1M662 0.5h1M684 0.5h1M710 0.5h1M715 0.5h1M717 0.5h1M729 0.5h1M743 0.5h1M747 0.5h1M753 0.5h1M794 0.5h1M93 1.5h2M100 1.5h1M145 1.5h1M161 1.5h1M177 1.5h1M221 1.5h1M243 1.5h1M258 1.5h1M262 1.5h1M350 1.5h1M360 1.5h1M375 1.5h1M385 1.5h1M418 1.5h1M427 1.5h1M436 1.5h1M457 1.5h1M517 1.5h1M536 1.5h1M547 1.5h1M611 1.5h1M658 1.5h1M698 1.5h1M714 1.5h1M722 1.5h1M726 1.5h1M743 1.5h1M766 1.5h1M773 1.5h2M791 1.5h1M82 2.5h1M88 2.5h1M144 2.5h1M266 2.5h1M356 2.5h1M360 2.5h1M381 2.5h1M428 2.5h1M430 2.5h1M439 2.5h1M444 2.5h1M494 2.5h1M521 2.5h2M531 2.5h1M535 2.5h1M616 2.5h1M630 2.5h1M640 2.5h1M642 2.5h1M679 2.5h1M719 2.5h1M722 2.5h1M755 2.5h1M763 2.5h1M773 2.5h1M783 2.5h1M96 3.5h2M127 3.5h1M140 3.5h1M150 3.5h1M176 3.5h1M197 3.5h1M214 3.5h1M219 3.5h1M275 3.5h1M298 3.5h1M353 3.5h1M384 3.5h1M391 3.5h1M399 3.5h1M412 3.5h1M426 3.5h1M435 3.5h1M461 3.5h1M492 3.5h1M528 3.5h1M575 3.5h1M587 3.5h1M606 3.5h1M613 3.5h1M621 3.5h1M651 3.5h1M666 3.5h1M670 3.5h1M758 3.5h1M81 4.5h1M110 4.5h1M143 4.5h1M150 4.5h1M152 4.5h1M206 4.5h1M219 4.5h1M229 4.5h1M252 4.5h1M377 4.5h1M411 4.5h1M423 4.5h1M464 4.5h1M466 4.5h1M482 4.5h1M525 4.5h1M534 4.5h1M557 4.5h1M600 4.5h1M613 4.5h1M634 4.5h1M651 4.5h1M661 4.5h1M664 4.5h1M668 4.5h1M695 4.5h1M719 4.5h1M740 4.5h1M755 4.5h1M788 4.5h1M799 4.5h1M2 5.5h1M71 5.5h1M195 5.5h1M210 5.5h1M296 5.5h1M383 5.5h1M404 5.5h1M428 5.5h1M476 5.5h1M509 5.5h1M518 5.5h1M534 5.5h1M538 5.5h1M578 5.5h1M597 5.5h1M600 5.5h1M607 5.5h1M631 5.5h1M635 5.5h1M647 5.5h1M725 5.5h1M752 5.5h1M756 5.5h1M777 5.5h1M781 5.5h1M792 5.5h1M10 6.5h1M16 6.5h1M19 6.5h1M21 6.5h1M36 6.5h1M39 6.5h1M60 6.5h1M81 6.5h1M97 6.5h1M101 6.5h1M137 6.5h1M145 6.5h1M153 6.5h1M170 6.5h1M175 6.5h1M184 6.5h1M225 6.5h1M257 6.5h1M266 6.5h1M286 6.5h1M344 6.5h1M348 6.5h1M366 6.5h1M425 6.5h1M442 6.5h1M461 6.5h1M476 6.5h1M489 6.5h1M498 6.5h1M549 6.5h1M557 6.5h1M584 6.5h1M746 6.5h1M756 6.5h1M775 6.5h1M778 6.5h1M787 6.5h1M98 7.5h1M146 7.5h1M148 7.5h1M168 7.5h1M201 7.5h1M204 7.5h1M254 7.5h1M267 7.5h1M300 7.5h1M350 7.5h1M364 7.5h1M385 7.5h1M389 7.5h2M404 7.5h1M429 7.5h1M438 7.5h1M484 7.5h1M497 7.5h1M514 7.5h1M528 7.5h1M559 7.5h1M570 7.5h1M576 7.5h1M593 7.5h1M599 7.5h1M607 7.5h1M611 7.5h1M648 7.5h1M672 7.5h1M679 7.5h1M703 7.5h1M722 7.5h1M758 7.5h1M791 7.5h1M794 7.5h1M82 8.5h1M95 8.5h1M147 8.5h1M153 8.5h1M164 8.5h1M185 8.5h1M194 8.5h1M240 8.5h1M270 8.5h1M275 8.5h1M292 8.5h1M322 8.5h1M405 8.5h1M408 8.5h1M410 8.5h1M435 8.5h1M438 8.5h1M475 8.5h2M501 8.5h1M544 8.5h1M546 8.5h1M549 8.5h1M569 8.5h1M574 8.5h1M604 8.5h1M620 8.5h1M622 8.5h1M632 8.5h1M654 8.5h1M657 8.5h1M663 8.5h1M668 8.5h1M703 8.5h1M729 8.5h1M754 8.5h1M763 8.5h1M4 9.5h2M18 9.5h1M22 9.5h1M53 9.5h1M56 9.5h1M58 9.5h1M61 9.5h1M73 9.5h1M93 9.5h1M111 9.5h1M133 9.5h1M159 9.5h2M162 9.5h1M175 9.5h1M212 9.5h1M244 9.5h1M248 9.5h1M293 9.5h1M298 9.5h1M393 9.5h1M400 9.5h1M434 9.5h1M445 9.5h1M447 9.5h1M596 9.5h1M626 9.5h1M652 9.5h1M661 9.5h1M675 9.5h1M696 9.5h1M701 9.5h1M704 9.5h1M728 9.5h1M40 10.5h1M46 10.5h1M113 10.5h1M149 10.5h1M269 10.5h1M306 10.5h1M323 10.5h1M330 10.5h1M339 10.5h1M347 10.5h1M353 10.5h1M371 10.5h1M401 10.5h1M423 10.5h1M454 10.5h1M483 10.5h1M490 10.5h1M494 10.5h1M509 10.5h1M527 10.5h1M531 10.5h2M544 10.5h1M552 10.5h1M559 10.5h1M574 10.5h1M603 10.5h1M634 10.5h1M674 10.5h1M694 10.5h1M696 10.5h1M700 10.5h1M738 10.5h1M741 10.5h1M743 10.5h1M770 10.5h1M790 10.5h1M38 11.5h1M47 11.5h1M50 11.5h1M58 11.5h1M66 11.5h1M87 11.5h1M89 11.5h1M94 11.5h1M104 11.5h1M118 11.5h1M125 11.5h1M157 11.5h2M170 11.5h1M185 11.5h1M190 11.5h1M213 11.5h1M250 11.5h1M338 11.5h1M343 11.5h1M387 11.5h1M392 11.5h1M418 11.5h1M456 11.5h1M461 11.5h1M490 11.5h1M499 11.5h1M515 11.5h1M524 11.5h1M546 11.5h1M553 11.5h1M574 11.5h1M588 11.5h1M606 11.5h1M643 11.5h1M694 11.5h1M721 11.5h1M724 11.5h1M727 11.5h1M734 11.5h1M744 11.5h1M763 11.5h1M796 11.5h1"/><path stroke="#330000" d="M79 0.5h1M97 0.5h1M109 0.5h1M145 0.5h1M152 0.5h1M160 0.5h2M172 0.5h1M194 0.5h1M199 0.5h1M218 0.5h1M221 0.5h2M236 0.5h1M239 0.5h1M259 0.5h1M312 0.5h1M342 0.5h1M445 0.5h1M464 0.5h1M481 0.5h1M514 0.5h1M526 0.5h1M544 0.5h1M549 0.5h1M555 0.5h1M575 0.5h1M595 0.5h1M597 0.5h1M618 0.5h1M638 0.5h1M642 0.5h1M668 0.5h1M691 0.5h1M776 0.5h1M790 0.5h1M80 1.5h1M130 1.5h1M149 1.5h1M164 1.5h1M182 1.5h1M222 1.5h1M261 1.5h1M267 1.5h1M291 1.5h1M304 1.5h1M341 1.5h1M345 1.5h1M349 1.5h1M367 1.5h1M445 1.5h2M452 1.5h1M488 1.5h1M508 1.5h1M523 1.5h1M553 1.5h2M575 1.5h2M579 1.5h1M635 1.5h2M642 1.5h1M644 1.5h2M648 1.5h1M672 1.5h1M677 1.5h1M706 1.5h1M709 1.5h1M727 1.5h1M746 1.5h1M750 1.5h1M778 1.5h1M781 1.5h1M799 1.5h1M107 2.5h1M116 2.5h1M121 2.5h1M125 2.5h1M205 2.5h1M223 2.5h1M236 2.5h1M269 2.5h1M297 2.5h1M307 2.5h2M318 2.5h1M350 2.5h1M383 2.5h1M393 2.5h1M419 2.5h1M437 2.5h1M442 2.5h1M458 2.5h1M529 2.5h1M537 2.5h1M545 2.5h1M576 2.5h1M597 2.5h1M612 2.5h1M635 2.5h1M651 2.5h1M654 2.5h1M688 2.5h1M728 2.5h1M769 2.5h1M787 2.5h1M84 3.5h1M100 3.5h1M106 3.5h1M111 3.5h1M133 3.5h1M144 3.5h1M182 3.5h1M191 3.5h1M203 3.5h1M216 3.5h1M228 3.5h1M380 3.5h1M400 3.5h1M417 3.5h2M422 3.5h1M428 3.5h1M433 3.5h1M446 3.5h1M459 3.5h1M487 3.5h1M518 3.5h1M536 3.5h1M538 3.5h1M549 3.5h1M556 3.5h1M591 3.5h1M607 3.5h1M635 3.5h1M646 3.5h1M673 3.5h2M703 3.5h1M724 3.5h1M733 3.5h1M737 3.5h1M794 3.5h1M109 4.5h1M119 4.5h1M189 4.5h1M194 4.5h1M204 4.5h1M236 4.5h1M267 4.5h1M348 4.5h1M360 4.5h1M370 4.5h1M426 4.5h1M446 4.5h1M454 4.5h1M476 4.5h1M487 4.5h1M511 4.5h1M546 4.5h1M573 4.5h1M579 4.5h1M608 4.5h1M619 4.5h1M678 4.5h1M706 4.5h1M713 4.5h1M748 4.5h1M45 5.5h1M55 5.5h1M80 5.5h1M114 5.5h1M120 5.5h1M154 5.5h1M198 5.5h1M206 5.5h1M211 5.5h1M221 5.5h1M245 5.5h1M324 5.5h1M327 5.5h2M332 5.5h1M373 5.5h1M394 5.5h1M406 5.5h1M441 5.5h1M447 5.5h1M461 5.5h1M468 5.5h1M525 5.5h2M530 5.5h1M556 5.5h1M566 5.5h1M580 5.5h1M585 5.5h1M611 5.5h1M707 5.5h1M709 5.5h1M759 5.5h1M773 5.5h1M4 6.5h2M54 6.5h1M61 6.5h1M64 6.5h1M72 6.5h1M84 6.5h1M96 6.5h1M103 6.5h1M110 6.5h1M148 6.5h3M167 6.5h1M191 6.5h1M221 6.5h1M271 6.5h1M280 6.5h1M287 6.5h1M325 6.5h2M336 6.5h1M351 6.5h1M353 6.5h1M370 6.5h1M372 6.5h1M397 6.5h1M421 6.5h1M455 6.5h1M457 6.5h1M471 6.5h1M474 6.5h1M487 6.5h1M509 6.5h1M532 6.5h1M542 6.5h1M554 6.5h1M558 6.5h1M566 6.5h2M578 6.5h1M632 6.5h1M634 6.5h1M652 6.5h1M680 6.5h1M733 6.5h1M758 6.5h1M777 6.5h1M120 7.5h1M129 7.5h1M191 7.5h1M193 7.5h1M212 7.5h1M217 7.5h2M233 7.5h1M253 7.5h1M290 7.5h1M298 7.5h1M303 7.5h1M324 7.5h1M333 7.5h1M360 7.5h1M398 7.5h1M402 7.5h1M411 7.5h1M471 7.5h1M520 7.5h1M535 7.5h1M560 7.5h1M623 7.5h1M631 7.5h1M638 7.5h1M691 7.5h2M719 7.5h1M728 7.5h1M730 7.5h1M738 7.5h1M746 7.5h1M751 7.5h2M771 7.5h1M798 7.5h1M65 8.5h1M97 8.5h1M134 8.5h1M175 8.5h1M244 8.5h1M257 8.5h1M264 8.5h1M286 8.5h1M298 8.5h1M383 8.5h1M414 8.5h1M434 8.5h1M445 8.5h1M468 8.5h1M482 8.5h1M542 8.5h1M550 8.5h1M553 8.5h1M667 8.5h1M683 8.5h1M747 8.5h1M766 8.5h2M791 8.5h1M7 9.5h1M16 9.5h1M24 9.5h1M28 9.5h1M35 9.5h1M48 9.5h1M71 9.5h1M79 9.5h1M107 9.5h1M112 9.5h1M118 9.5h1M180 9.5h2M188 9.5h1M208 9.5h1M258 9.5h1M266 9.5h1M297 9.5h1M315 9.5h1M319 9.5h1M334 9.5h1M338 9.5h1M342 9.5h1M355 9.5h1M378 9.5h1M382 9.5h1M408 9.5h1M417 9.5h1M450 9.5h1M513 9.5h1M538 9.5h1M544 9.5h1M557 9.5h1M578 9.5h1M589 9.5h1M620 9.5h1M629 9.5h1M636 9.5h1M651 9.5h1M656 9.5h1M768 9.5h1M779 9.5h1M789 9.5h1M793 9.5h1M65 10.5h1M205 10.5h1M223 10.5h1M247 10.5h1M263 10.5h1M274 10.5h1M291 10.5h1M321 10.5h1M378 10.5h1M399 10.5h1M408 10.5h1M412 10.5h1M444 10.5h1M448 10.5h1M484 10.5h1M520 10.5h1M530 10.5h1M555 10.5h1M573 10.5h1M614 10.5h1M620 10.5h1M663 10.5h1M667 10.5h1M685 10.5h1M687 10.5h1M695 10.5h1M706 10.5h1M754 10.5h1M771 10.5h1M16 11.5h1M19 11.5h1M25 11.5h1M30 11.5h1M42 11.5h1M54 11.5h1M73 11.5h1M79 11.5h1M137 11.5h1M167 11.5h1M236 11.5h1M260 11.5h1M264 11.5h1M274 11.5h1M312 11.5h1M320 11.5h1M371 11.5h1M404 11.5h1M423 11.5h1M494 11.5h1M500 11.5h1M551 11.5h1M562 11.5h1M573 11.5h1M587 11.5h1M589 11.5h1M615 11.5h1M630 11.5h1M635 11.5h1M754 11.5h1"/><path stroke="#3d0000" d="M90 0.5h1M118 0.5h1M162 0.5h1M177 0.5h2M181 0.5h1M187 0.5h1M200 0.5h1M217 0.5h1M219 0.5h1M234 0.5h1M258 0.5h1M310 0.5h1M346 0.5h1M370 0.5h1M373 0.5h1M401 0.5h1M420 0.5h1M438 0.5h1M459 0.5h1M477 0.5h1M487 0.5h1M559 0.5h1M565 0.5h1M567 0.5h1M636 0.5h1M654 0.5h1M656 0.5h1M679 0.5h1M695 0.5h1M768 0.5h1M795 0.5h1M77 1.5h1M116 1.5h1M136 1.5h1M153 1.5h1M178 1.5h1M192 1.5h1M225 1.5h1M268 1.5h1M289 1.5h1M302 1.5h1M323 1.5h1M338 1.5h1M351 1.5h1M356 1.5h1M403 1.5h1M447 1.5h1M498 1.5h1M510 1.5h1M538 1.5h1M541 1.5h1M555 1.5h1M566 1.5h1M607 1.5h1M612 1.5h1M616 1.5h1M627 1.5h1M653 1.5h1M656 1.5h1M671 1.5h1M684 1.5h1M705 1.5h1M718 1.5h1M725 1.5h1M780 1.5h1M90 2.5h1M113 2.5h1M118 2.5h1M152 2.5h1M179 2.5h1M189 2.5h1M235 2.5h1M274 2.5h1M279 2.5h1M286 2.5h1M319 2.5h1M348 2.5h1M359 2.5h1M364 2.5h1M406 2.5h1M421 2.5h1M440 2.5h1M460 2.5h1M476 2.5h2M485 2.5h1M500 2.5h1M526 2.5h1M542 2.5h1M599 2.5h1M638 2.5h1M645 2.5h1M648 2.5h1M673 2.5h1M691 2.5h1M727 2.5h1M747 2.5h1M791 2.5h1M98 3.5h1M136 3.5h1M165 3.5h1M169 3.5h1M218 3.5h1M259 3.5h1M289 3.5h1M294 3.5h2M312 3.5h1M323 3.5h1M336 3.5h1M352 3.5h1M359 3.5h1M371 3.5h1M375 3.5h1M393 3.5h1M437 3.5h1M578 3.5h1M593 3.5h1M620 3.5h1M644 3.5h1M665 3.5h1M682 3.5h1M738 3.5h1M757 3.5h1M776 3.5h1M799 3.5h1M107 4.5h1M131 4.5h1M158 4.5h1M169 4.5h1M237 4.5h1M271 4.5h1M301 4.5h1M318 4.5h1M366 4.5h1M375 4.5h1M382 4.5h1M389 4.5h1M397 4.5h1M408 4.5h1M444 4.5h1M450 4.5h1M472 4.5h1M498 4.5h1M531 4.5h1M550 4.5h1M567 4.5h1M591 4.5h1M616 4.5h1M638 4.5h1M648 4.5h1M669 4.5h1M698 4.5h1M714 4.5h1M736 4.5h1M747 4.5h1M760 4.5h1M765 4.5h1M787 4.5h1M7 5.5h1M34 5.5h1M44 5.5h1M100 5.5h1M108 5.5h1M137 5.5h1M139 5.5h1M146 5.5h1M157 5.5h1M167 5.5h1M179 5.5h1M227 5.5h1M243 5.5h1M255 5.5h1M283 5.5h1M291 5.5h1M322 5.5h1M338 5.5h1M350 5.5h1M353 5.5h1M366 5.5h1M382 5.5h1M388 5.5h1M422 5.5h1M432 5.5h1M442 5.5h1M446 5.5h1M460 5.5h1M527 5.5h1M565 5.5h1M581 5.5h1M605 5.5h1M721 5.5h1M758 5.5h1M762 5.5h1M799 5.5h1M24 6.5h1M31 6.5h1M38 6.5h1M49 6.5h2M62 6.5h1M83 6.5h1M90 6.5h2M109 6.5h1M121 6.5h1M133 6.5h1M144 6.5h1M216 6.5h1M284 6.5h1M293 6.5h1M298 6.5h1M312 6.5h1M367 6.5h1M384 6.5h1M407 6.5h1M443 6.5h1M450 6.5h1M492 6.5h1M495 6.5h1M501 6.5h1M552 6.5h1M580 6.5h1M585 6.5h1M592 6.5h1M613 6.5h1M631 6.5h1M659 6.5h1M684 6.5h1M720 6.5h1M725 6.5h1M738 6.5h1M764 6.5h1M103 7.5h1M115 7.5h1M167 7.5h1M176 7.5h1M182 7.5h1M196 7.5h1M202 7.5h2M264 7.5h1M279 7.5h1M285 7.5h1M315 7.5h1M323 7.5h1M335 7.5h1M345 7.5h1M416 7.5h1M437 7.5h1M462 7.5h1M499 7.5h2M506 7.5h1M521 7.5h1M534 7.5h1M555 7.5h1M589 7.5h1M680 7.5h1M693 7.5h1M709 7.5h1M765 7.5h1M783 7.5h1M786 7.5h1M81 8.5h1M114 8.5h1M169 8.5h1M282 8.5h1M324 8.5h1M368 8.5h1M385 8.5h1M412 8.5h1M433 8.5h1M451 8.5h1M483 8.5h2M509 8.5h1M515 8.5h1M517 8.5h1M624 8.5h1M630 8.5h1M641 8.5h1M653 8.5h1M664 8.5h1M669 8.5h1M671 8.5h1M678 8.5h1M685 8.5h1M721 8.5h1M755 8.5h1M0 9.5h1M12 9.5h1M15 9.5h1M20 9.5h1M23 9.5h1M31 9.5h1M40 9.5h1M47 9.5h1M69 9.5h1M75 9.5h1M135 9.5h1M142 9.5h1M149 9.5h1M177 9.5h1M193 9.5h1M198 9.5h1M210 9.5h2M226 9.5h1M367 9.5h1M383 9.5h2M418 9.5h2M463 9.5h1M471 9.5h1M487 9.5h1M489 9.5h1M497 9.5h1M501 9.5h1M553 9.5h1M559 9.5h1M573 9.5h1M604 9.5h1M616 9.5h1M669 9.5h1M705 9.5h1M725 9.5h1M731 9.5h1M738 9.5h2M762 9.5h1M769 9.5h1M776 9.5h1M798 9.5h1M31 10.5h1M33 10.5h1M44 10.5h1M93 10.5h1M104 10.5h1M135 10.5h1M170 10.5h1M184 10.5h1M197 10.5h1M202 10.5h1M213 10.5h1M264 10.5h1M279 10.5h1M285 10.5h1M290 10.5h1M320 10.5h1M332 10.5h1M346 10.5h1M385 10.5h1M387 10.5h1M394 10.5h1M420 10.5h1M422 10.5h1M424 10.5h1M430 10.5h1M432 10.5h1M447 10.5h1M466 10.5h2M472 10.5h1M518 10.5h1M609 10.5h2M653 10.5h1M662 10.5h1M671 10.5h1M704 10.5h2M718 10.5h1M728 10.5h1M37 11.5h1M56 11.5h1M69 11.5h1M90 11.5h1M120 11.5h1M155 11.5h1M192 11.5h1M201 11.5h1M216 11.5h1M276 11.5h1M316 11.5h1M390 11.5h1M412 11.5h1M466 11.5h1M476 11.5h1M479 11.5h1M509 11.5h1M522 11.5h1M554 11.5h1M577 11.5h1M610 11.5h1M616 11.5h1M654 11.5h1M696 11.5h1M708 11.5h1M739 11.5h1M764 11.5h1"/><path stroke="#470000" d="M76 0.5h1M86 0.5h1M132 0.5h1M191 0.5h1M265 0.5h1M302 0.5h1M314 0.5h1M347 0.5h1M456 0.5h1M474 0.5h1M488 0.5h1M501 0.5h1M521 0.5h1M539 0.5h1M551 0.5h1M570 0.5h1M592 0.5h1M624 0.5h3M658 0.5h1M682 0.5h1M685 0.5h1M709 0.5h1M769 0.5h1M95 1.5h1M117 1.5h1M184 1.5h1M187 1.5h1M227 1.5h1M229 1.5h1M241 1.5h1M249 1.5h1M252 1.5h1M266 1.5h1M279 1.5h1M309 1.5h1M335 1.5h1M353 1.5h1M402 1.5h1M414 1.5h1M417 1.5h1M433 1.5h1M437 1.5h1M442 1.5h1M444 1.5h1M464 1.5h1M477 1.5h1M487 1.5h1M527 1.5h1M552 1.5h1M570 1.5h1M588 1.5h1M608 1.5h1M619 1.5h1M626 1.5h1M637 1.5h1M652 1.5h1M685 1.5h1M691 1.5h1M695 1.5h1M711 1.5h1M735 1.5h1M787 1.5h1M794 1.5h1M797 1.5h1M83 2.5h1M85 2.5h1M103 2.5h1M145 2.5h1M149 2.5h1M190 2.5h1M202 2.5h2M216 2.5h1M250 2.5h1M267 2.5h1M285 2.5h1M321 2.5h1M323 2.5h1M337 2.5h1M351 2.5h1M353 2.5h1M389 2.5h1M404 2.5h1M429 2.5h1M449 2.5h1M471 2.5h1M534 2.5h1M536 2.5h1M539 2.5h1M563 2.5h1M592 2.5h1M611 2.5h1M620 2.5h1M690 2.5h1M760 2.5h1M789 2.5h1M796 2.5h1M77 3.5h1M132 3.5h1M138 3.5h2M179 3.5h1M193 3.5h1M229 3.5h1M232 3.5h1M236 3.5h1M260 3.5h2M280 3.5h1M333 3.5h1M341 3.5h1M347 3.5h1M357 3.5h1M372 3.5h1M382 3.5h1M403 3.5h1M419 3.5h1M467 3.5h1M476 3.5h1M485 3.5h1M488 3.5h1M498 3.5h1M510 3.5h1M522 3.5h1M527 3.5h1M546 3.5h1M552 3.5h1M562 3.5h1M571 3.5h1M581 3.5h1M600 3.5h1M612 3.5h1M626 3.5h2M643 3.5h1M645 3.5h1M688 3.5h1M790 3.5h1M792 3.5h1M96 4.5h1M134 4.5h1M136 4.5h1M139 4.5h1M175 4.5h1M182 4.5h1M216 4.5h1M223 4.5h1M226 4.5h1M232 4.5h1M282 4.5h1M333 4.5h1M357 4.5h1M400 4.5h1M490 4.5h1M492 4.5h1M501 4.5h1M506 4.5h1M535 4.5h1M554 4.5h1M559 4.5h1M589 4.5h1M593 4.5h1M606 4.5h1M618 4.5h1M624 4.5h1M642 4.5h1M676 4.5h1M697 4.5h1M705 4.5h1M707 4.5h1M716 4.5h1M720 4.5h1M742 4.5h1M773 4.5h1M781 4.5h1M790 4.5h1M796 4.5h1M24 5.5h1M31 5.5h1M47 5.5h1M60 5.5h1M99 5.5h1M122 5.5h1M141 5.5h1M208 5.5h1M241 5.5h2M273 5.5h1M369 5.5h1M372 5.5h1M408 5.5h2M455 5.5h1M457 5.5h1M483 5.5h2M533 5.5h1M548 5.5h1M595 5.5h1M598 5.5h1M620 5.5h1M634 5.5h1M637 5.5h1M662 5.5h2M711 5.5h1M714 5.5h1M717 5.5h1M784 5.5h1M786 5.5h1M789 5.5h1M15 6.5h1M29 6.5h1M53 6.5h1M63 6.5h1M65 6.5h1M98 6.5h1M117 6.5h1M186 6.5h1M198 6.5h1M246 6.5h1M262 6.5h2M267 6.5h1M269 6.5h1M310 6.5h1M323 6.5h1M380 6.5h1M388 6.5h1M391 6.5h1M409 6.5h1M423 6.5h1M428 6.5h1M514 6.5h1M543 6.5h1M562 6.5h1M570 6.5h1M600 6.5h1M607 6.5h1M649 6.5h1M673 6.5h1M675 6.5h1M714 6.5h1M734 6.5h1M745 6.5h1M770 6.5h1M784 6.5h1M2 7.5h1M89 7.5h1M183 7.5h1M192 7.5h1M216 7.5h1M281 7.5h1M312 7.5h1M347 7.5h1M458 7.5h1M492 7.5h1M505 7.5h1M557 7.5h1M594 7.5h1M605 7.5h1M613 7.5h1M616 7.5h1M621 7.5h1M634 7.5h1M721 7.5h1M759 7.5h1M766 7.5h1M769 7.5h1M772 7.5h1M774 7.5h1M208 8.5h1M268 8.5h1M271 8.5h1M285 8.5h1M328 8.5h1M345 8.5h1M347 8.5h1M351 8.5h1M384 8.5h1M424 8.5h1M497 8.5h1M511 8.5h1M579 8.5h1M616 8.5h1M650 8.5h1M675 8.5h1M692 8.5h1M761 8.5h2M8 9.5h1M33 9.5h2M43 9.5h1M49 9.5h1M70 9.5h1M97 9.5h1M104 9.5h1M121 9.5h1M153 9.5h1M171 9.5h1M174 9.5h1M201 9.5h1M299 9.5h1M322 9.5h1M399 9.5h1M442 9.5h1M472 9.5h1M476 9.5h1M542 9.5h1M547 9.5h1M549 9.5h1M577 9.5h1M592 9.5h1M606 9.5h1M667 9.5h1M689 9.5h1M749 9.5h1M767 9.5h1M13 10.5h1M15 10.5h1M17 10.5h1M32 10.5h1M49 10.5h1M59 10.5h1M81 10.5h1M99 10.5h1M147 10.5h1M152 10.5h1M155 10.5h1M171 10.5h1M186 10.5h1M208 10.5h1M211 10.5h1M265 10.5h1M282 10.5h1M293 10.5h1M305 10.5h1M319 10.5h1M365 10.5h2M456 10.5h1M474 10.5h1M535 10.5h1M542 10.5h1M568 10.5h1M594 10.5h1M665 10.5h1M679 10.5h1M686 10.5h1M756 10.5h1M763 10.5h1M767 10.5h1M776 10.5h1M788 10.5h1M791 10.5h1M12 11.5h1M15 11.5h1M22 11.5h2M99 11.5h1M113 11.5h1M147 11.5h1M215 11.5h1M235 11.5h1M261 11.5h1M280 11.5h1M385 11.5h1M542 11.5h1M572 11.5h1M647 11.5h1M718 11.5h1M732 11.5h1M787 11.5h1"/><path stroke="#520000" d="M137 0.5h1M149 0.5h1M151 0.5h1M167 0.5h1M188 0.5h1M210 0.5h2M238 0.5h1M248 0.5h1M289 0.5h1M299 0.5h1M319 0.5h1M330 0.5h1M335 0.5h1M338 0.5h1M362 0.5h1M365 0.5h1M380 0.5h1M433 0.5h1M435 0.5h1M452 0.5h1M458 0.5h1M469 0.5h2M493 0.5h1M547 0.5h1M583 0.5h1M609 0.5h1M617 0.5h1M628 0.5h1M655 0.5h1M663 0.5h1M700 0.5h1M765 0.5h1M78 1.5h2M109 1.5h1M122 1.5h1M133 1.5h1M139 1.5h1M141 1.5h1M147 1.5h1M158 1.5h1M179 1.5h1M200 1.5h1M212 1.5h1M218 1.5h1M265 1.5h1M272 1.5h1M296 1.5h1M298 1.5h1M343 1.5h1M368 1.5h1M394 1.5h1M398 1.5h1M401 1.5h1M438 1.5h1M468 1.5h1M471 1.5h1M483 1.5h1M494 1.5h1M500 1.5h1M513 1.5h1M521 1.5h1M567 1.5h1M581 1.5h1M587 1.5h1M609 1.5h1M614 1.5h1M623 1.5h1M660 1.5h1M662 1.5h1M719 1.5h1M737 1.5h1M79 2.5h1M105 2.5h1M120 2.5h1M130 2.5h2M136 2.5h1M143 2.5h1M156 2.5h1M165 2.5h1M181 2.5h1M194 2.5h1M229 2.5h1M253 2.5h1M263 2.5h1M296 2.5h1M298 2.5h1M332 2.5h1M358 2.5h1M385 2.5h1M399 2.5h1M403 2.5h1M409 2.5h1M418 2.5h1M424 2.5h1M426 2.5h1M465 2.5h1M495 2.5h1M513 2.5h1M517 2.5h2M547 2.5h1M551 2.5h1M556 2.5h1M559 2.5h1M582 2.5h1M631 2.5h1M682 2.5h1M684 2.5h1M694 2.5h1M711 2.5h1M765 2.5h1M770 2.5h1M794 2.5h1M76 3.5h1M78 3.5h1M128 3.5h1M183 3.5h1M202 3.5h1M255 3.5h1M265 3.5h1M299 3.5h1M305 3.5h1M330 3.5h1M343 3.5h1M363 3.5h1M394 3.5h1M472 3.5h1M503 3.5h1M531 3.5h1M564 3.5h1M566 3.5h1M574 3.5h1M619 3.5h1M649 3.5h1M662 3.5h1M672 3.5h1M676 3.5h1M712 3.5h1M731 3.5h1M762 3.5h1M124 4.5h1M140 4.5h1M166 4.5h1M187 4.5h1M191 4.5h3M235 4.5h1M246 4.5h1M259 4.5h1M299 4.5h1M367 4.5h1M392 4.5h1M403 4.5h1M420 4.5h1M428 4.5h1M432 4.5h1M440 4.5h1M517 4.5h1M564 4.5h1M568 4.5h1M611 4.5h1M657 4.5h1M667 4.5h1M681 4.5h2M724 4.5h2M758 4.5h1M772 4.5h1M776 4.5h1M0 5.5h1M4 5.5h1M14 5.5h1M18 5.5h1M22 5.5h1M27 5.5h1M42 5.5h1M46 5.5h1M61 5.5h1M64 5.5h2M91 5.5h1M117 5.5h1M133 5.5h1M217 5.5h1M266 5.5h1M301 5.5h1M317 5.5h1M335 5.5h1M427 5.5h1M467 5.5h1M513 5.5h1M577 5.5h1M606 5.5h1M625 5.5h1M632 5.5h1M651 5.5h1M697 5.5h1M738 5.5h1M745 5.5h1M763 5.5h1M26 6.5h1M35 6.5h1M43 6.5h1M79 6.5h1M119 6.5h1M181 6.5h1M233 6.5h1M305 6.5h1M316 6.5h1M331 6.5h1M400 6.5h1M408 6.5h1M479 6.5h1M525 6.5h1M545 6.5h1M611 6.5h1M616 6.5h1M620 6.5h1M692 6.5h1M698 6.5h1M742 6.5h1M13 7.5h1M27 7.5h1M93 7.5h1M97 7.5h1M117 7.5h1M145 7.5h1M152 7.5h1M173 7.5h1M244 7.5h1M250 7.5h1M269 7.5h1M291 7.5h1M367 7.5h1M378 7.5h1M422 7.5h1M474 7.5h1M541 7.5h1M546 7.5h1M551 7.5h1M558 7.5h1M574 7.5h1M617 7.5h1M642 7.5h1M696 7.5h1M725 7.5h1M733 7.5h1M32 8.5h1M86 8.5h1M108 8.5h2M118 8.5h1M131 8.5h1M141 8.5h2M162 8.5h1M172 8.5h1M186 8.5h1M212 8.5h1M290 8.5h1M364 8.5h1M402 8.5h1M407 8.5h1M428 8.5h1M440 8.5h1M472 8.5h2M495 8.5h1M525 8.5h1M529 8.5h1M578 8.5h1M591 8.5h1M645 8.5h1M673 8.5h1M687 8.5h1M705 8.5h1M722 8.5h1M743 8.5h1M752 8.5h1M776 8.5h1M781 8.5h1M798 8.5h1M52 9.5h1M108 9.5h1M134 9.5h1M202 9.5h1M205 9.5h1M292 9.5h1M323 9.5h1M331 9.5h1M343 9.5h1M370 9.5h1M412 9.5h1M451 9.5h1M474 9.5h1M485 9.5h1M500 9.5h1M572 9.5h1M583 9.5h2M619 9.5h1M621 9.5h1M655 9.5h1M708 9.5h1M732 9.5h1M755 9.5h1M778 9.5h1M22 10.5h1M52 10.5h1M62 10.5h1M69 10.5h1M73 10.5h1M82 10.5h1M139 10.5h1M158 10.5h1M182 10.5h1M207 10.5h1M236 10.5h1M364 10.5h1M421 10.5h1M433 10.5h1M450 10.5h1M462 10.5h1M538 10.5h1M612 10.5h1M615 10.5h1M631 10.5h2M673 10.5h1M691 10.5h1M698 10.5h1M701 10.5h1M707 10.5h1M735 10.5h1M753 10.5h1M27 11.5h1M31 11.5h1M33 11.5h1M36 11.5h1M49 11.5h1M53 11.5h1M64 11.5h1M68 11.5h1M70 11.5h2M82 11.5h1M129 11.5h1M135 11.5h1M141 11.5h1M179 11.5h1M196 11.5h1M207 11.5h1M267 11.5h1M278 11.5h1M282 11.5h1M294 11.5h1M299 11.5h1M303 11.5h1M317 11.5h1M325 11.5h1M349 11.5h1M399 11.5h1M428 11.5h1M446 11.5h1M485 11.5h1M518 11.5h1M555 11.5h1M614 11.5h1M666 11.5h1M669 11.5h1M676 11.5h1M690 11.5h1M767 11.5h1M774 11.5h1M776 11.5h1"/><path stroke="#5c0000" d="M78 0.5h1M87 0.5h1M112 0.5h1M122 0.5h1M146 0.5h1M214 0.5h1M392 0.5h1M424 0.5h1M440 0.5h1M466 0.5h1M494 0.5h1M533 0.5h1M537 0.5h1M542 0.5h1M572 0.5h1M635 0.5h1M676 0.5h1M681 0.5h1M723 0.5h1M773 0.5h1M786 0.5h1M796 0.5h1M105 1.5h1M107 1.5h1M183 1.5h1M202 1.5h1M207 1.5h1M312 1.5h1M317 1.5h1M319 1.5h1M348 1.5h1M373 1.5h1M395 1.5h1M410 1.5h1M435 1.5h1M465 1.5h1M480 1.5h1M559 1.5h1M595 1.5h1M617 1.5h1M629 1.5h1M632 1.5h1M681 1.5h1M686 1.5h2M707 1.5h1M713 1.5h1M715 1.5h2M728 1.5h1M772 1.5h1M795 1.5h1M93 2.5h2M115 2.5h1M119 2.5h1M126 2.5h1M128 2.5h1M134 2.5h1M168 2.5h1M218 2.5h1M238 2.5h1M280 2.5h1M283 2.5h1M292 2.5h1M301 2.5h1M326 2.5h1M328 2.5h1M347 2.5h1M417 2.5h1M420 2.5h1M474 2.5h2M497 2.5h1M583 2.5h1M588 2.5h1M596 2.5h1M636 2.5h1M706 2.5h1M775 2.5h1M780 2.5h1M79 3.5h1M114 3.5h1M147 3.5h1M157 3.5h1M159 3.5h1M170 3.5h1M173 3.5h1M188 3.5h1M192 3.5h1M206 3.5h1M279 3.5h1M285 3.5h1M318 3.5h1M332 3.5h1M367 3.5h1M440 3.5h1M454 3.5h1M474 3.5h1M490 3.5h1M534 3.5h1M568 3.5h1M590 3.5h1M601 3.5h1M642 3.5h1M658 3.5h1M661 3.5h1M667 3.5h1M687 3.5h1M714 3.5h1M718 3.5h1M745 3.5h1M747 3.5h1M760 3.5h1M117 4.5h1M128 4.5h1M149 4.5h1M171 4.5h1M212 4.5h1M241 4.5h1M337 4.5h1M385 4.5h2M405 4.5h1M433 4.5h1M437 4.5h1M469 4.5h1M481 4.5h1M510 4.5h1M551 4.5h1M647 4.5h1M688 4.5h1M738 4.5h1M774 4.5h1M786 4.5h1M26 5.5h1M38 5.5h1M69 5.5h1M75 5.5h1M128 5.5h1M171 5.5h1M216 5.5h1M276 5.5h1M300 5.5h1M314 5.5h1M363 5.5h1M376 5.5h1M402 5.5h1M418 5.5h1M479 5.5h1M495 5.5h2M559 5.5h2M613 5.5h1M630 5.5h1M719 5.5h1M788 5.5h1M797 5.5h1M1 6.5h1M32 6.5h1M52 6.5h1M57 6.5h1M107 6.5h1M139 6.5h1M185 6.5h1M249 6.5h1M260 6.5h1M270 6.5h1M276 6.5h1M363 6.5h1M454 6.5h1M513 6.5h1M516 6.5h1M522 6.5h1M572 6.5h1M575 6.5h1M621 6.5h1M636 6.5h1M661 6.5h1M677 6.5h1M707 6.5h1M759 6.5h1M796 6.5h1M23 7.5h1M26 7.5h1M53 7.5h1M55 7.5h1M62 7.5h1M96 7.5h1M243 7.5h1M329 7.5h1M343 7.5h1M346 7.5h1M380 7.5h1M457 7.5h1M470 7.5h1M473 7.5h1M478 7.5h1M538 7.5h1M591 7.5h1M597 7.5h1M695 7.5h1M777 7.5h1M785 7.5h1M17 8.5h1M55 8.5h1M67 8.5h1M174 8.5h1M206 8.5h1M227 8.5h1M234 8.5h1M242 8.5h1M291 8.5h1M319 8.5h1M387 8.5h1M409 8.5h1M504 8.5h1M547 8.5h1M564 8.5h1M618 8.5h1M696 8.5h1M764 8.5h1M793 8.5h1M1 9.5h2M6 9.5h1M21 9.5h1M30 9.5h1M95 9.5h1M119 9.5h1M147 9.5h1M184 9.5h1M232 9.5h1M286 9.5h1M290 9.5h1M347 9.5h1M440 9.5h1M460 9.5h1M495 9.5h1M546 9.5h1M625 9.5h1M665 9.5h1M674 9.5h1M676 9.5h1M712 9.5h1M735 9.5h1M747 9.5h1M795 9.5h1M10 10.5h1M20 10.5h1M51 10.5h1M56 10.5h1M58 10.5h1M60 10.5h1M141 10.5h1M164 10.5h1M173 10.5h1M232 10.5h1M281 10.5h1M287 10.5h1M325 10.5h1M376 10.5h1M380 10.5h1M392 10.5h1M398 10.5h1M495 10.5h1M550 10.5h1M553 10.5h1M562 10.5h1M569 10.5h1M586 10.5h1M683 10.5h1M690 10.5h1M727 10.5h1M2 11.5h1M6 11.5h3M18 11.5h1M21 11.5h1M32 11.5h1M51 11.5h1M57 11.5h1M60 11.5h1M202 11.5h1M228 11.5h1M360 11.5h1M380 11.5h1M452 11.5h1M473 11.5h1M486 11.5h1M501 11.5h2M544 11.5h1M565 11.5h1M590 11.5h1M618 11.5h1M660 11.5h1M745 11.5h1"/><path stroke="#660000" d="M95 0.5h1M155 0.5h1M165 0.5h1M264 0.5h1M294 0.5h2M317 0.5h1M349 0.5h1M372 0.5h1M374 0.5h1M393 0.5h1M397 0.5h1M429 0.5h1M479 0.5h1M508 0.5h1M546 0.5h1M667 0.5h1M672 0.5h1M687 0.5h1M752 0.5h1M101 1.5h1M103 1.5h1M189 1.5h1M213 1.5h1M254 1.5h1M274 1.5h1M347 1.5h1M357 1.5h1M389 1.5h1M399 1.5h1M415 1.5h1M460 1.5h1M469 1.5h1M495 1.5h1M497 1.5h1M501 1.5h1M504 1.5h1M511 1.5h1M519 1.5h1M522 1.5h1M534 1.5h1M569 1.5h1M571 1.5h1M631 1.5h1M756 1.5h1M760 1.5h1M789 1.5h1M166 2.5h1M243 2.5h1M264 2.5h1M370 2.5h1M384 2.5h1M402 2.5h1M422 2.5h1M450 2.5h1M461 2.5h1M567 2.5h1M581 2.5h1M607 2.5h1M624 2.5h1M629 2.5h1M686 2.5h1M695 2.5h1M705 2.5h1M707 2.5h1M761 2.5h2M771 2.5h2M112 3.5h1M115 3.5h1M131 3.5h1M135 3.5h1M195 3.5h2M253 3.5h1M264 3.5h1M274 3.5h1M405 3.5h1M407 3.5h1M431 3.5h1M469 3.5h1M525 3.5h1M596 3.5h1M611 3.5h1M634 3.5h1M694 3.5h1M705 3.5h1M717 3.5h1M742 3.5h1M765 3.5h1M777 3.5h1M796 3.5h1M79 4.5h1M130 4.5h1M133 4.5h1M147 4.5h1M167 4.5h1M170 4.5h1M255 4.5h1M323 4.5h1M371 4.5h2M378 4.5h1M399 4.5h1M424 4.5h1M457 4.5h1M459 4.5h1M505 4.5h1M565 4.5h1M572 4.5h1M3 5.5h1M39 5.5h1M53 5.5h1M93 5.5h1M129 5.5h1M161 5.5h1M202 5.5h1M215 5.5h1M264 5.5h1M411 5.5h1M424 5.5h1M454 5.5h1M466 5.5h1M489 5.5h2M492 5.5h1M557 5.5h1M623 5.5h1M660 5.5h1M677 5.5h1M686 5.5h1M772 5.5h1M791 5.5h1M9 6.5h1M27 6.5h1M44 6.5h1M66 6.5h1M68 6.5h1M70 6.5h1M129 6.5h1M160 6.5h1M195 6.5h1M264 6.5h1M318 6.5h1M387 6.5h1M438 6.5h1M518 6.5h1M637 6.5h1M667 6.5h1M700 6.5h1M753 6.5h1M797 6.5h1M0 7.5h1M16 7.5h1M64 7.5h1M205 7.5h1M331 7.5h1M373 7.5h1M401 7.5h1M413 7.5h1M449 7.5h2M454 7.5h1M516 7.5h1M649 7.5h1M770 7.5h1M792 7.5h1M7 8.5h1M50 8.5h1M58 8.5h1M111 8.5h1M201 8.5h2M258 8.5h1M315 8.5h1M398 8.5h2M441 8.5h1M462 8.5h1M595 8.5h1M599 8.5h1M647 8.5h1M677 8.5h1M727 8.5h1M775 8.5h1M26 9.5h1M38 9.5h1M60 9.5h1M120 9.5h1M156 9.5h1M189 9.5h1M200 9.5h1M219 9.5h1M246 9.5h1M264 9.5h1M285 9.5h1M356 9.5h1M438 9.5h1M444 9.5h1M449 9.5h1M492 9.5h1M630 9.5h1M668 9.5h1M686 9.5h1M707 9.5h1M719 9.5h1M727 9.5h1M745 9.5h1M764 9.5h1M780 9.5h2M1 10.5h1M7 10.5h1M23 10.5h1M37 10.5h1M66 10.5h1M71 10.5h1M109 10.5h1M177 10.5h1M200 10.5h1M217 10.5h1M292 10.5h1M294 10.5h1M318 10.5h1M328 10.5h1M340 10.5h1M358 10.5h1M375 10.5h1M402 10.5h1M445 10.5h1M511 10.5h1M543 10.5h1M551 10.5h1M602 10.5h1M613 10.5h1M755 10.5h1M761 10.5h2M787 10.5h1M5 11.5h1M10 11.5h1M20 11.5h1M41 11.5h1M72 11.5h1M81 11.5h1M85 11.5h1M139 11.5h1M153 11.5h1M161 11.5h1M183 11.5h1M285 11.5h1M292 11.5h1M295 11.5h1M323 11.5h1M356 11.5h1M529 11.5h1M594 11.5h1M639 11.5h1M663 11.5h1M667 11.5h1M760 11.5h1"/><path stroke="#700000" d="M88 0.5h1M116 0.5h1M128 0.5h1M134 0.5h1M148 0.5h1M158 0.5h1M180 0.5h1M241 0.5h1M253 0.5h1M266 0.5h1M268 0.5h1M408 0.5h1M422 0.5h1M465 0.5h1M536 0.5h1M591 0.5h1M599 0.5h1M660 0.5h1M694 0.5h1M697 0.5h1M701 0.5h1M706 0.5h1M745 0.5h1M749 0.5h1M788 0.5h1M797 0.5h1M88 1.5h1M90 1.5h1M113 1.5h1M134 1.5h1M143 1.5h1M168 1.5h2M176 1.5h1M181 1.5h1M198 1.5h1M215 1.5h1M253 1.5h1M295 1.5h1M299 1.5h1M332 1.5h1M384 1.5h1M391 1.5h1M406 1.5h1M420 1.5h1M462 1.5h1M486 1.5h1M531 1.5h1M697 1.5h1M723 1.5h1M762 1.5h1M777 1.5h1M788 1.5h1M95 2.5h1M138 2.5h1M176 2.5h1M207 2.5h1M245 2.5h1M256 2.5h1M295 2.5h1M302 2.5h1M346 2.5h1M397 2.5h1M414 2.5h1M435 2.5h1M472 2.5h1M480 2.5h1M486 2.5h1M570 2.5h1M634 2.5h1M647 2.5h1M80 3.5h1M137 3.5h1M238 3.5h1M244 3.5h1M277 3.5h1M288 3.5h1M335 3.5h1M346 3.5h1M388 3.5h1M460 3.5h1M465 3.5h1M505 3.5h1M514 3.5h1M550 3.5h2M563 3.5h1M681 3.5h1M697 3.5h1M77 4.5h1M89 4.5h1M98 4.5h1M111 4.5h1M115 4.5h1M138 4.5h1M163 4.5h1M178 4.5h1M188 4.5h1M244 4.5h1M256 4.5h1M281 4.5h1M291 4.5h1M305 4.5h1M359 4.5h1M379 4.5h1M425 4.5h1M475 4.5h1M484 4.5h1M489 4.5h1M496 4.5h1M522 4.5h1M583 4.5h1M590 4.5h1M601 4.5h1M665 4.5h1M671 4.5h1M687 4.5h1M1 5.5h1M8 5.5h1M11 5.5h1M23 5.5h1M29 5.5h1M41 5.5h1M67 5.5h1M79 5.5h1M90 5.5h1M150 5.5h1M251 5.5h1M271 5.5h1M284 5.5h1M325 5.5h1M364 5.5h1M413 5.5h1M440 5.5h1M456 5.5h1M514 5.5h1M536 5.5h2M650 5.5h1M728 5.5h1M760 5.5h1M0 6.5h1M7 6.5h1M11 6.5h1M33 6.5h1M51 6.5h1M140 6.5h1M162 6.5h1M204 6.5h1M290 6.5h3M440 6.5h1M533 6.5h1M596 6.5h1M624 6.5h1M635 6.5h1M651 6.5h1M654 6.5h1M663 6.5h1M676 6.5h1M7 7.5h1M17 7.5h1M31 7.5h1M37 7.5h1M99 7.5h1M111 7.5h1M177 7.5h1M214 7.5h1M278 7.5h1M359 7.5h1M405 7.5h1M469 7.5h1M545 7.5h1M619 7.5h1M630 7.5h1M736 7.5h1M745 7.5h1M10 8.5h1M29 8.5h1M39 8.5h1M60 8.5h1M73 8.5h1M85 8.5h1M119 8.5h1M139 8.5h1M145 8.5h1M200 8.5h1M229 8.5h1M238 8.5h1M320 8.5h1M380 8.5h1M467 8.5h1M596 8.5h1M759 8.5h1M789 8.5h1M11 9.5h1M27 9.5h1M167 9.5h1M233 9.5h1M268 9.5h1M309 9.5h1M341 9.5h1M360 9.5h1M524 9.5h1M590 9.5h1M645 9.5h1M677 9.5h1M683 9.5h1M785 9.5h1M5 10.5h1M19 10.5h1M36 10.5h1M50 10.5h1M70 10.5h1M128 10.5h1M298 10.5h1M405 10.5h1M438 10.5h1M452 10.5h1M541 10.5h1M554 10.5h1M598 10.5h1M619 10.5h1M670 10.5h1M711 10.5h1M3 11.5h1M9 11.5h1M48 11.5h1M134 11.5h1M174 11.5h1M208 11.5h1M229 11.5h1M232 11.5h1M269 11.5h1M318 11.5h1M350 11.5h1M365 11.5h1M368 11.5h1M375 11.5h1M438 11.5h1M631 11.5h1M665 11.5h1M671 11.5h1M673 11.5h1M753 11.5h1"/><path stroke="#7a0000" d="M99 0.5h1M186 0.5h1M227 0.5h1M345 0.5h1M358 0.5h1M384 0.5h1M527 0.5h1M581 0.5h1M620 0.5h1M632 0.5h1M634 0.5h1M669 0.5h2M686 0.5h1M688 0.5h1M738 0.5h1M744 0.5h1M76 1.5h1M83 1.5h1M97 1.5h2M144 1.5h1M152 1.5h1M256 1.5h1M287 1.5h1M382 1.5h1M453 1.5h1M492 1.5h2M515 1.5h1M583 1.5h1M592 1.5h1M615 1.5h1M688 1.5h1M744 1.5h1M747 1.5h1M768 1.5h1M775 1.5h1M786 1.5h1M98 2.5h1M129 2.5h1M140 2.5h1M158 2.5h1M172 2.5h1M184 2.5h1M222 2.5h1M303 2.5h1M309 2.5h1M311 2.5h1M320 2.5h1M378 2.5h1M394 2.5h1M413 2.5h1M436 2.5h1M446 2.5h1M466 2.5h1M519 2.5h1M561 2.5h1M591 2.5h1M603 2.5h1M615 2.5h1M619 2.5h1M632 2.5h1M656 2.5h3M700 2.5h2M726 2.5h1M737 2.5h1M774 2.5h1M777 2.5h1M121 3.5h2M146 3.5h1M211 3.5h1M282 3.5h1M314 3.5h1M345 3.5h1M452 3.5h1M481 3.5h1M517 3.5h1M567 3.5h1M584 3.5h1M647 3.5h1M755 3.5h2M767 3.5h1M86 4.5h1M114 4.5h1M154 4.5h1M253 4.5h1M317 4.5h1M336 4.5h1M571 4.5h1M574 4.5h1M627 4.5h1M649 4.5h1M656 4.5h1M727 4.5h1M779 4.5h1M789 4.5h1M6 5.5h1M10 5.5h1M19 5.5h1M25 5.5h1M37 5.5h1M50 5.5h1M56 5.5h1M70 5.5h1M98 5.5h1M286 5.5h1M315 5.5h1M360 5.5h1M517 5.5h1M519 5.5h1M12 6.5h1M46 6.5h1M69 6.5h1M134 6.5h1M231 6.5h1M248 6.5h1M350 6.5h1M424 6.5h1M478 6.5h1M519 6.5h1M538 6.5h1M763 6.5h1M24 7.5h1M41 7.5h3M65 7.5h1M81 7.5h1M134 7.5h1M141 7.5h1M144 7.5h1M164 7.5h1M197 7.5h1M245 7.5h1M251 7.5h1M363 7.5h1M387 7.5h1M395 7.5h1M446 7.5h1M477 7.5h1M543 7.5h1M629 7.5h1M655 7.5h1M670 7.5h1M5 8.5h1M14 8.5h1M19 8.5h1M31 8.5h1M40 8.5h1M46 8.5h1M59 8.5h1M61 8.5h1M75 8.5h1M149 8.5h1M177 8.5h1M184 8.5h1M193 8.5h1M211 8.5h1M232 8.5h1M376 8.5h1M378 8.5h1M396 8.5h1M460 8.5h1M478 8.5h1M499 8.5h1M554 8.5h1M665 8.5h1M753 8.5h1M785 8.5h1M19 9.5h1M36 9.5h1M45 9.5h1M57 9.5h1M113 9.5h1M140 9.5h1M385 9.5h1M387 9.5h1M389 9.5h1M402 9.5h2M462 9.5h1M478 9.5h1M504 9.5h1M614 9.5h1M618 9.5h1M641 9.5h1M28 10.5h1M34 10.5h2M38 10.5h2M42 10.5h1M61 10.5h1M68 10.5h1M134 10.5h1M166 10.5h2M189 10.5h1M201 10.5h1M218 10.5h1M393 10.5h1M499 10.5h1M506 10.5h1M606 10.5h1M630 10.5h1M4 11.5h1M11 11.5h1M28 11.5h1M43 11.5h1M75 11.5h1M128 11.5h1M154 11.5h1M177 11.5h1M403 11.5h1M415 11.5h1M425 11.5h2M674 11.5h1M707 11.5h1"/><path stroke="#850000" d="M105 0.5h1M173 0.5h1M196 0.5h1M204 0.5h1M208 0.5h1M290 0.5h1M449 0.5h2M454 0.5h1M486 0.5h1M553 0.5h1M614 0.5h1M666 0.5h1M737 0.5h1M761 0.5h1M774 0.5h1M138 1.5h1M166 1.5h1M270 1.5h1M380 1.5h1M411 1.5h1M426 1.5h1M429 1.5h1M475 1.5h1M484 1.5h1M582 1.5h1M700 1.5h1M710 1.5h1M101 2.5h1M139 2.5h1M208 2.5h1M232 2.5h1M270 2.5h1M289 2.5h1M312 2.5h1M433 2.5h1M496 2.5h1M595 2.5h1M617 2.5h1M669 2.5h1M676 2.5h1M683 2.5h1M788 2.5h1M130 3.5h1M167 3.5h1M177 3.5h1M181 3.5h1M221 3.5h1M235 3.5h1M241 3.5h1M251 3.5h1M284 3.5h1M308 3.5h1M396 3.5h1M413 3.5h1M471 3.5h1M489 3.5h1M506 3.5h1M511 3.5h1M559 3.5h1M727 3.5h1M748 3.5h1M85 4.5h1M90 4.5h1M186 4.5h1M243 4.5h1M277 4.5h1M304 4.5h1M356 4.5h1M485 4.5h1M561 4.5h1M635 4.5h1M654 4.5h1M699 4.5h1M17 5.5h1M30 5.5h1M89 5.5h1M119 5.5h1M166 5.5h1M181 5.5h1M292 5.5h1M307 5.5h1M310 5.5h1M331 5.5h1M342 5.5h1M443 5.5h1M670 5.5h1M678 5.5h1M682 5.5h1M214 6.5h1M374 6.5h1M460 6.5h1M629 6.5h1M650 6.5h1M728 6.5h1M14 7.5h1M20 7.5h1M44 7.5h1M46 7.5h1M71 7.5h1M75 7.5h1M226 7.5h1M396 7.5h1M440 7.5h1M467 7.5h1M572 7.5h1M590 7.5h1M689 7.5h1M9 8.5h1M13 8.5h1M24 8.5h1M33 8.5h1M36 8.5h1M113 8.5h1M219 8.5h1M246 8.5h1M463 8.5h1M557 8.5h1M572 8.5h1M598 8.5h1M732 8.5h1M3 9.5h1M68 9.5h1M72 9.5h1M335 9.5h1M517 9.5h1M525 9.5h1M554 9.5h1M690 9.5h1M695 9.5h1M4 10.5h1M8 10.5h2M14 10.5h1M26 10.5h1M47 10.5h1M67 10.5h1M85 10.5h1M94 10.5h1M179 10.5h1M489 10.5h1M618 10.5h1M639 10.5h1M739 10.5h1M775 10.5h1M45 11.5h1M74 11.5h1M298 11.5h1M377 11.5h1M495 11.5h1M550 11.5h1M598 11.5h1M648 11.5h1M692 11.5h1M695 11.5h1M706 11.5h1M755 11.5h1M785 11.5h1"/><path stroke="#8f0000" d="M82 0.5h1M93 0.5h1M150 0.5h1M252 0.5h1M275 0.5h1M329 0.5h1M336 0.5h1M378 0.5h1M415 0.5h1M447 0.5h1M453 0.5h1M460 0.5h1M489 0.5h1M550 0.5h1M627 0.5h1M780 0.5h1M129 1.5h1M232 1.5h1M245 1.5h1M275 1.5h1M454 1.5h1M505 1.5h1M577 1.5h1M584 1.5h1M647 1.5h1M676 1.5h1M759 1.5h1M770 1.5h1M798 1.5h1M221 2.5h1M252 2.5h1M362 2.5h1M372 2.5h1M398 2.5h1M479 2.5h1M546 2.5h1M565 2.5h1M718 2.5h1M786 2.5h1M85 3.5h1M93 3.5h1M123 3.5h1M309 3.5h1M415 3.5h1M445 3.5h1M554 3.5h1M622 3.5h1M699 3.5h1M720 3.5h1M774 3.5h1M122 4.5h1M146 4.5h1M341 4.5h1M415 4.5h1M633 4.5h1M770 4.5h1M32 5.5h1M35 5.5h2M49 5.5h1M51 5.5h1M62 5.5h1M66 5.5h1M72 5.5h1M130 5.5h1M135 5.5h1M218 5.5h1M269 5.5h1M614 5.5h1M665 5.5h1M720 5.5h1M742 5.5h1M48 6.5h1M122 6.5h1M161 6.5h1M187 6.5h1M189 6.5h1M215 6.5h1M241 6.5h1M335 6.5h1M432 6.5h1M447 6.5h1M553 6.5h1M711 6.5h1M6 7.5h1M15 7.5h1M22 7.5h1M30 7.5h1M32 7.5h1M51 7.5h1M60 7.5h1M66 7.5h1M121 7.5h1M287 7.5h1M635 7.5h1M708 7.5h1M734 7.5h1M760 7.5h1M15 8.5h2M26 8.5h1M35 8.5h1M37 8.5h1M42 8.5h1M44 8.5h1M51 8.5h1M223 8.5h1M325 8.5h1M567 8.5h1M614 8.5h1M633 8.5h1M695 8.5h1M706 8.5h1M739 8.5h1M795 8.5h1M109 9.5h1M271 9.5h1M317 9.5h1M376 9.5h1M529 9.5h1M16 10.5h1M24 10.5h1M27 10.5h1M229 10.5h1M312 10.5h1M572 10.5h1M590 10.5h1M14 11.5h1M95 11.5h1M109 11.5h1M132 11.5h1M152 11.5h1M160 11.5h1M210 11.5h1M223 11.5h1M376 11.5h1M382 11.5h1M398 11.5h1M586 11.5h1M662 11.5h1M761 11.5h1"/><path stroke="#990000" d="M101 0.5h1M115 0.5h1M121 0.5h1M130 0.5h1M136 0.5h1M232 0.5h1M269 0.5h1M288 0.5h1M337 0.5h1M344 0.5h1M356 0.5h1M473 0.5h1M519 0.5h1M603 0.5h1M736 0.5h1M779 0.5h1M148 1.5h1M358 1.5h1M378 1.5h1M413 1.5h1M461 1.5h1M528 1.5h1M544 1.5h1M565 1.5h1M771 1.5h1M109 2.5h1M204 2.5h1M249 2.5h1M268 2.5h1M342 2.5h1M447 2.5h1M493 2.5h1M779 2.5h1M91 3.5h1M102 3.5h1M171 3.5h1M199 3.5h1M356 3.5h1M501 3.5h1M520 3.5h1M572 3.5h1M616 3.5h1M624 3.5h1M631 3.5h1M654 3.5h1M659 3.5h1M709 3.5h1M735 3.5h1M125 4.5h1M135 4.5h1M168 4.5h1M177 4.5h1M203 4.5h1M221 4.5h1M280 4.5h1M285 4.5h1M307 4.5h2M358 4.5h1M365 4.5h1M552 4.5h1M582 4.5h1M607 4.5h1M666 4.5h1M701 4.5h1M737 4.5h1M771 4.5h1M15 5.5h2M33 5.5h1M40 5.5h1M57 5.5h1M123 5.5h1M222 5.5h1M285 5.5h1M397 5.5h1M415 5.5h1M545 5.5h1M3 6.5h1M18 6.5h1M41 6.5h1M120 6.5h1M123 6.5h1M285 6.5h1M314 6.5h1M319 6.5h2M394 6.5h1M422 6.5h1M427 6.5h1M643 6.5h1M5 7.5h1M36 7.5h1M40 7.5h1M50 7.5h1M52 7.5h1M56 7.5h1M69 7.5h1M74 7.5h1M215 7.5h1M238 7.5h1M246 7.5h1M305 7.5h1M374 7.5h1M669 7.5h1M681 7.5h1M4 8.5h1M18 8.5h1M20 8.5h1M27 8.5h2M48 8.5h1M56 8.5h1M71 8.5h1M403 8.5h1M735 8.5h1M779 8.5h1M41 9.5h1M145 9.5h1M289 9.5h1M396 9.5h1M666 9.5h1M791 9.5h1M0 10.5h1M3 10.5h1M21 10.5h1M25 10.5h1M57 10.5h1M75 10.5h1M95 10.5h1M216 10.5h1M377 10.5h1M501 10.5h1M545 10.5h1M712 10.5h1M0 11.5h2M166 11.5h1M378 11.5h1M516 11.5h1M538 11.5h1M711 11.5h2M769 11.5h1"/><path stroke="#a30000" d="M176 0.5h1M203 0.5h1M716 0.5h1M789 0.5h1M115 1.5h1M271 1.5h1M377 1.5h1M397 1.5h1M473 1.5h1M490 1.5h1M496 1.5h1M561 1.5h1M150 2.5h1M241 2.5h1M330 2.5h1M335 2.5h1M382 2.5h1M425 2.5h1M469 2.5h1M503 2.5h1M541 2.5h1M628 2.5h1M644 2.5h1M89 3.5h1M301 3.5h2M497 3.5h1M502 3.5h1M526 3.5h1M653 3.5h1M725 3.5h1M789 3.5h1M91 4.5h1M97 4.5h1M137 4.5h1M238 4.5h1M335 4.5h1M394 4.5h1M441 4.5h1M461 4.5h1M526 4.5h1M549 4.5h1M595 4.5h1M639 4.5h1M735 4.5h1M9 5.5h1M21 5.5h1M43 5.5h1M48 5.5h1M52 5.5h1M54 5.5h1M231 5.5h1M267 5.5h1M8 6.5h1M40 6.5h1M67 6.5h1M130 6.5h1M171 6.5h1M238 6.5h1M536 6.5h1M547 6.5h1M577 6.5h1M619 6.5h1M623 6.5h1M630 6.5h1M9 7.5h2M21 7.5h1M33 7.5h3M47 7.5h1M58 7.5h2M63 7.5h1M67 7.5h1M119 7.5h1M185 7.5h1M190 7.5h1M242 7.5h1M425 7.5h1M30 8.5h1M34 8.5h1M38 8.5h1M45 8.5h1M49 8.5h1M53 8.5h1M62 8.5h1M64 8.5h1M66 8.5h1M70 8.5h1M189 8.5h1M338 8.5h1M444 8.5h1M487 8.5h1M562 8.5h1M666 8.5h1M707 8.5h1M731 8.5h1M74 9.5h1M217 9.5h1M325 9.5h1M366 9.5h1M598 9.5h1M706 9.5h1M761 9.5h1M53 10.5h1M72 10.5h1M132 10.5h1M418 10.5h1M425 10.5h1M476 10.5h1M760 10.5h1M785 10.5h1M29 11.5h1M61 11.5h1M388 11.5h1M396 11.5h1M478 11.5h1M613 11.5h1M743 11.5h1M793 11.5h1"/><path stroke="#ad0000" d="M249 0.5h1M367 0.5h1M382 0.5h1M414 0.5h1M478 0.5h1M495 0.5h1M528 0.5h1M562 0.5h1M588 0.5h1M760 0.5h1M286 1.5h1M311 1.5h1M518 1.5h1M520 1.5h1M624 1.5h1M628 1.5h1M634 1.5h1M701 1.5h1M752 1.5h1M76 2.5h1M122 2.5h1M275 2.5h1M367 2.5h1M376 2.5h1M544 2.5h1M577 2.5h1M667 2.5h1M184 3.5h1M212 3.5h1M379 3.5h1M409 3.5h1M425 3.5h1M484 3.5h1M582 3.5h1M791 3.5h1M165 4.5h1M296 4.5h1M302 4.5h1M309 4.5h1M345 4.5h1M410 4.5h1M622 4.5h1M659 4.5h1M709 4.5h1M775 4.5h1M28 5.5h1M59 5.5h1M83 5.5h1M233 5.5h1M346 5.5h1M380 5.5h1M683 5.5h1M45 6.5h1M3 7.5h1M8 7.5h1M19 7.5h1M38 7.5h1M45 7.5h1M48 7.5h1M57 7.5h1M61 7.5h1M70 7.5h1M73 7.5h1M365 7.5h1M697 7.5h1M780 7.5h1M11 8.5h1M686 8.5h1M745 8.5h1M405 9.5h1M718 9.5h1M760 9.5h1M2 10.5h1M12 10.5h1M30 10.5h1M63 10.5h1M338 10.5h1M666 10.5h1M145 11.5h1M432 11.5h1M656 11.5h1M701 11.5h1"/><path stroke="#b80000" d="M81 0.5h1M83 0.5h1M280 0.5h1M311 0.5h1M376 0.5h1M657 0.5h1M677 0.5h1M285 1.5h1M342 1.5h1M148 2.5h1M212 2.5h1M299 2.5h1M527 2.5h1M269 3.5h1M378 3.5h1M410 3.5h1M495 3.5h1M565 3.5h1M677 3.5h1M702 3.5h1M442 4.5h1M752 4.5h1M63 5.5h1M73 5.5h1M374 5.5h1M516 5.5h1M28 6.5h1M211 6.5h1M242 6.5h1M412 6.5h1M456 6.5h1M678 6.5h1M4 7.5h1M18 7.5h1M25 7.5h1M39 7.5h1M72 7.5h1M292 7.5h1M421 7.5h1M701 7.5h1M22 8.5h1M25 8.5h1M52 8.5h1M54 8.5h1M69 8.5h1M223 9.5h1M349 9.5h1M555 9.5h1M11 10.5h1M43 10.5h1M48 10.5h1M64 10.5h1M74 10.5h1M185 10.5h1M669 10.5h1M319 11.5h1M545 11.5h1M602 11.5h1M683 11.5h1M686 11.5h1"/><path stroke="#c20000" d="M113 0.5h1M126 0.5h1M208 1.5h1M599 1.5h1M682 1.5h1M78 2.5h1M373 2.5h1M473 2.5h1M492 2.5h1M697 2.5h1M759 2.5h1M154 3.5h1M245 3.5h1M432 3.5h1M685 3.5h1M719 3.5h1M775 3.5h1M779 3.5h1M702 4.5h1M762 4.5h1M12 5.5h1M114 6.5h1M416 6.5h1M645 6.5h1M12 7.5h1M49 7.5h1M68 7.5h1M295 7.5h1M2 8.5h2M23 8.5h1M57 8.5h1M63 9.5h1M221 9.5h1M398 9.5h1M545 9.5h1M564 9.5h1M18 10.5h1M41 10.5h1M45 10.5h1M89 10.5h1M403 10.5h1M428 10.5h1M478 10.5h1M745 10.5h1M769 10.5h1M200 11.5h1M497 11.5h1M775 11.5h1"/><path stroke="#cc0000" d="M775 0.5h1M126 1.5h1M320 1.5h1M546 1.5h1M769 1.5h1M344 2.5h1M716 2.5h1M447 3.5h1M346 4.5h1M368 4.5h1M391 4.5h1M518 4.5h1M584 4.5h1M677 4.5h1M685 4.5h1M58 5.5h1M293 5.5h1M586 5.5h1M636 5.5h1M6 6.5h1M431 6.5h1M28 7.5h2M54 7.5h1M179 7.5h1M479 7.5h1M0 8.5h2M6 8.5h1M12 8.5h1M41 8.5h1M47 8.5h1M72 8.5h1M167 8.5h1M565 8.5h1M718 8.5h1M494 9.5h1M6 10.5h1M142 11.5h1"/><path stroke="#d60000" d="M141 0.5h1M631 0.5h1M257 1.5h1M372 1.5h1M490 2.5h1M520 2.5h1M795 2.5h1M125 3.5h1M296 3.5h1M365 3.5h1M496 3.5h1M363 4.5h1M396 4.5h1M447 4.5h1M392 5.5h1M547 5.5h1M17 6.5h1M59 6.5h1M315 6.5h1M683 6.5h1M11 7.5h1M598 7.5h1M8 8.5h1M21 8.5h1M43 8.5h1M169 9.5h1M759 9.5h1M142 10.5h1M63 11.5h1M189 11.5h1"/><path stroke="#e00000" d="M285 0.5h1M577 0.5h1M582 0.5h1M81 1.5h1M264 1.5h1M344 1.5h1M669 1.5h1M454 2.5h1M629 3.5h1M497 4.5h1M629 4.5h1M68 5.5h1M431 5.5h1M74 8.5h1M565 9.5h1M29 10.5h1"/><path stroke="#eb0000" d="M377 0.5h1M82 1.5h1M369 1.5h1M392 2.5h1M166 3.5h1M657 3.5h1M1 7.5h1M545 8.5h1M656 10.5h1M670 11.5h1"/><path stroke="#f50000" d="M125 0.5h1M202 0.5h1M403 0.5h1M629 0.5h1"/><path stroke="#ff0000" d="M520 0.5h1M392 1.5h1M81 2.5h1M668 3.5h1M58 6.5h1M63 8.5h1M68 8.5h1M366 8.5h1M753 9.5h1"/></g></g></g></g>
<path d="M55.5 1690.2L112.4 1690.2M55.5 1719.2L112.4 1719.2M55.5 1690.2L55.5 1719.2M48.1 1661.1L112.4 1661.1M48.1 1704.7L55.5 1704.7M48.1 1661.1L48.1 1704.7M42.3 1748.3L112.4 1748.3M42.3 1777.3L112.4 1777.3M42.3 1748.3L42.3 1777.3M38.8 1682.9L48.1 1682.9M38.8 1762.8L42.3 1762.8M38.8 1682.9L38.8 1762.8M45.8 1806.4L112.4 1806.4M45.8 1835.4L112.4 1835.4M45.8 1806.4L45.8 1835.4M67.2 1893.5L112.4 1893.5M67.2 1922.6L112.4 1922.6M67.2 1893.5L67.2 1922.6M63.7 1951.6L112.4 1951.6M63.7 1980.7L112.4 1980.7M63.7 1951.6L63.7 1980.7M52.0 1908.0L67.2 1908.0M52.0 1966.2L63.7 1966.2M52.0 1908.0L52.0 1966.2M44.5 1864.5L112.4 1864.5M44.5 1937.1L52.0 1937.1M44.5 1864.5L44.5 1937.1M25.3 1820.9L45.8 1820.9M25.3 1900.8L44.5 1900.8M25.3 1820.9L25.3 1900.8M17.0 1722.9L38.8 1722.9M17.0 1860.8L25.3 1860.8M17.0 1722.9L17.0 1860.8" fill="none" stroke="#000" stroke-width="1.3" stroke-linecap="square"/>
<text x="792.3" y="1639.3" font-size="18" font-weight="bold" fill="#000">Type</text>
<g font-size="18.1" fill="#000">
<text x="791.8" y="1667.4">KEGG_B_CELL_RECEPTOR_SIGNALING_PATHWAY</text>
<text x="791.8" y="1696.5">KEGG_ERBB_SIGNALING_PATHWAY</text>
<text x="791.8" y="1725.5">KEGG_PROGESTERONE_MEDIATED_OOCYTE_MATURATION</text>
<text x="791.8" y="1754.6">KEGG_PYRIMIDINE_METABOLISM</text>
<text x="791.8" y="1783.6">KEGG_LYSOSOME</text>
<text x="791.8" y="1812.7">KEGG_RIBOSOME</text>
<text x="791.8" y="1841.7">KEGG_PEROXISOME</text>
<text x="791.8" y="1870.8">KEGG_WNT_SIGNALING_PATHWAY</text>
<text x="791.8" y="1899.8">KEGG_VASCULAR_SMOOTH_MUSCLE_CONTRACTION</text>
<text x="791.8" y="1928.9">KEGG_CALCIUM_SIGNALING_PATHWAY</text>
<text x="791.8" y="1957.9">KEGG_GNRH_SIGNALING_PATHWAY</text>
<text x="791.8" y="1987.0">KEGG_NEUROTROPHIN_SIGNALING_PATHWAY</text>
</g>
<g shape-rendering="crispEdges">
<rect x="1334.8" y="1621.10" width="18.6" height="6.05" fill="#f50000"/>
<rect x="1334.8" y="1626.55" width="18.6" height="6.05" fill="#eb0000"/>
<rect x="1334.8" y="1632.01" width="18.6" height="6.05" fill="#e10000"/>
<rect x="1334.8" y="1637.46" width="18.6" height="6.05" fill="#d70000"/>
<rect x="1334.8" y="1642.92" width="18.6" height="6.05" fill="#cd0000"/>
<rect x="1334.8" y="1648.37" width="18.6" height="6.05" fill="#c30000"/>
<rect x="1334.8" y="1653.82" width="18.6" height="6.05" fill="#b90000"/>
<rect x="1334.8" y="1659.28" width="18.6" height="6.05" fill="#af0000"/>
<rect x="1334.8" y="1664.73" width="18.6" height="6.05" fill="#a50000"/>
<rect x="1334.8" y="1670.19" width="18.6" height="6.05" fill="#9b0000"/>
<rect x="1334.8" y="1675.64" width="18.6" height="6.05" fill="#910000"/>
<rect x="1334.8" y="1681.09" width="18.6" height="6.05" fill="#870000"/>
<rect x="1334.8" y="1686.55" width="18.6" height="6.05" fill="#7d0000"/>
<rect x="1334.8" y="1692.00" width="18.6" height="6.05" fill="#730000"/>
<rect x="1334.8" y="1697.46" width="18.6" height="6.05" fill="#690000"/>
<rect x="1334.8" y="1702.91" width="18.6" height="6.05" fill="#5f0000"/>
<rect x="1334.8" y="1708.36" width="18.6" height="6.05" fill="#550000"/>
<rect x="1334.8" y="1713.82" width="18.6" height="6.05" fill="#4b0000"/>
<rect x="1334.8" y="1719.27" width="18.6" height="6.05" fill="#410000"/>
<rect x="1334.8" y="1724.73" width="18.6" height="6.05" fill="#370000"/>
<rect x="1334.8" y="1730.18" width="18.6" height="6.05" fill="#2d0000"/>
<rect x="1334.8" y="1735.63" width="18.6" height="6.05" fill="#230000"/>
<rect x="1334.8" y="1741.09" width="18.6" height="6.05" fill="#190000"/>
<rect x="1334.8" y="1746.54" width="18.6" height="6.05" fill="#0f0000"/>
<rect x="1334.8" y="1752.00" width="18.6" height="6.05" fill="#050000"/>
<rect x="1334.8" y="1757.45" width="18.6" height="6.05" fill="#000500"/>
<rect x="1334.8" y="1762.90" width="18.6" height="6.05" fill="#000f00"/>
<rect x="1334.8" y="1768.36" width="18.6" height="6.05" fill="#001900"/>
<rect x="1334.8" y="1773.81" width="18.6" height="6.05" fill="#002300"/>
<rect x="1334.8" y="1779.27" width="18.6" height="6.05" fill="#002d00"/>
<rect x="1334.8" y="1784.72" width="18.6" height="6.05" fill="#003700"/>
<rect x="1334.8" y="1790.17" width="18.6" height="6.05" fill="#004100"/>
<rect x="1334.8" y="1795.63" width="18.6" height="6.05" fill="#004b00"/>
<rect x="1334.8" y="1801.08" width="18.6" height="6.05" fill="#005500"/>
<rect x="1334.8" y="1806.54" width="18.6" height="6.05" fill="#005f00"/>
<rect x="1334.8" y="1811.99" width="18.6" height="6.05" fill="#006900"/>
<rect x="1334.8" y="1817.44" width="18.6" height="6.05" fill="#007300"/>
<rect x="1334.8" y="1822.90" width="18.6" height="6.05" fill="#007d00"/>
<rect x="1334.8" y="1828.35" width="18.6" height="6.05" fill="#008700"/>
<rect x="1334.8" y="1833.81" width="18.6" height="6.05" fill="#009100"/>
<rect x="1334.8" y="1839.26" width="18.6" height="6.05" fill="#009b00"/>
<rect x="1334.8" y="1844.71" width="18.6" height="6.05" fill="#00a500"/>
<rect x="1334.8" y="1850.17" width="18.6" height="6.05" fill="#00af00"/>
<rect x="1334.8" y="1855.62" width="18.6" height="6.05" fill="#00b900"/>
<rect x="1334.8" y="1861.08" width="18.6" height="6.05" fill="#00c300"/>
<rect x="1334.8" y="1866.53" width="18.6" height="6.05" fill="#00cd00"/>
<rect x="1334.8" y="1871.98" width="18.6" height="6.05" fill="#00d700"/>
<rect x="1334.8" y="1877.44" width="18.6" height="6.05" fill="#00e100"/>
<rect x="1334.8" y="1882.89" width="18.6" height="6.05" fill="#00eb00"/>
<rect x="1334.8" y="1888.35" width="18.6" height="6.05" fill="#00f500"/>
</g>
<text x="1361.2" y="1660.1" dy="0.36em" font-size="18" fill="#000">2</text>
<text x="1361.2" y="1708.8" dy="0.36em" font-size="18" fill="#000">1</text>
<text x="1361.2" y="1757.6" dy="0.36em" font-size="18" fill="#000">0</text>
<text x="1361.2" y="1806.8" dy="0.36em" font-size="18" fill="#000">−1</text>
<text x="1361.2" y="1855.6" dy="0.36em" font-size="18" fill="#000">−2</text>
<text x="1387.2" y="1634.6" font-size="18" font-weight="bold" fill="#000">Type</text>
<rect x="1387.2" y="1640.8" width="26.1" height="25.9" fill="#00dae0"/>
<rect x="1387.2" y="1666.7" width="26.1" height="25.9" fill="#ff9289"/>
<clipPath id="clipc"><rect x="1414.2" y="1630.8" width="38.5" height="71.8"/></clipPath>
<g clip-path="url(#clipc)" font-size="18" fill="#000">
<text x="1418.8" y="1654.2" dy="0.36em">con</text>
<text x="1418.8" y="1680.1" dy="0.36em">treat</text>
</g>
</g>
<g id="panel-d">
<clipPath id="clipd"><rect x="1609.6" y="1580" width="365.3000000000002" height="369.69999999999993"/></clipPath>
<g clip-path="url(#clipd)" fill="none" stroke-linecap="round" stroke-linejoin="round">
<path d="M1724.6 1889.5L1726.3 1892.4L1728.0 1895.2L1729.7 1897.9L1731.4 1900.6L1733.1 1903.2L1734.8 1905.8L1736.4 1908.3L1738.1 1910.7L1739.8 1913.1L1741.5 1915.4L1743.2 1917.7L1744.9 1919.9L1746.6 1922.1L1748.3 1924.2L1750.0 1926.2L1751.7 1928.2L1753.4 1930.1L1755.1 1932.0L1756.8 1933.8L1758.5 1935.5L1760.1 1937.2L1761.8 1938.9L1763.5 1940.4L1765.2 1941.9L1766.9 1943.4L1768.6 1944.8L1770.3 1946.1L1772.0 1947.4L1773.7 1948.6L1775.4 1949.8L1777.1 1950.8" stroke="#7fcbea" stroke-width="3.4"/>
<path d="M1807.5 1950.8L1809.2 1949.8L1810.9 1948.6L1812.6 1947.4L1814.3 1946.1L1816.0 1944.8L1817.7 1943.4L1819.4 1941.9L1821.1 1940.4L1822.8 1938.9L1824.5 1937.2L1826.1 1935.5L1827.8 1933.8L1829.5 1932.0L1831.2 1930.1L1832.9 1928.2L1834.6 1926.2L1836.3 1924.2L1838.0 1922.1L1839.7 1919.9L1841.4 1917.7L1843.1 1915.4L1844.8 1913.1L1846.5 1910.7L1848.2 1908.3L1849.8 1905.8L1851.5 1903.2L1853.2 1900.6L1854.9 1897.9L1856.6 1895.2L1858.3 1892.4L1860.0 1889.5" stroke="#7fcbea" stroke-width="3.4"/>
<path d="M1663.2 1777.2L1664.9 1781.1L1666.6 1784.9L1668.3 1788.7L1670.0 1792.5L1671.7 1796.2L1673.4 1799.9L1675.1 1803.6L1676.8 1807.1L1678.5 1810.7L1680.2 1814.2L1681.9 1817.6L1683.6 1821.0L1685.3 1824.4L1687.0 1827.7L1688.7 1831.0L1690.4 1834.2L1692.1 1837.4L1693.8 1840.5L1695.5 1843.6L1697.2 1846.6L1698.9 1849.6L1700.6 1852.6L1702.3 1855.5L1704.0 1858.3L1705.7 1861.2L1707.4 1863.9L1709.1 1866.7L1710.8 1869.3L1712.5 1872.0L1714.2 1874.6L1715.9 1877.1L1717.6 1879.6L1719.3 1882.1L1721.0 1884.5L1722.7 1886.9L1724.4 1889.2L1726.1 1892.0" stroke="#ff0000" stroke-width="5.3"/>
<path d="M1655.7 1759.4L1657.4 1763.5L1659.1 1767.5L1660.8 1771.5" stroke="#ff0000" stroke-width="5.3"/>
<path d="M1858.5 1892.0L1860.2 1889.2L1862.0 1886.8L1863.7 1884.4L1865.5 1881.9L1867.2 1879.4L1868.9 1876.8L1870.7 1874.2L1872.4 1871.5L1874.1 1868.8L1875.9 1866.1L1877.6 1863.3L1879.3 1860.5L1881.1 1857.6L1882.8 1854.6L1884.5 1851.7L1886.3 1848.6L1888.0 1845.6L1889.7 1842.4L1891.5 1839.3L1893.2 1836.1L1894.9 1832.8L1896.7 1829.5L1898.4 1826.1L1900.2 1822.7L1901.9 1819.3L1903.6 1815.8L1905.4 1812.2" stroke="#ff0000" stroke-width="5.3"/>
<path d="M1907.1 1808.6L1909.2 1804.2L1911.3 1799.8" stroke="#ff0000" stroke-width="5.3"/>
<path d="M1918.1 1784.7L1919.9 1780.6L1921.7 1776.5" stroke="#ff0000" stroke-width="5.3"/>
</g>
<g fill="#ff0000">
<circle cx="1628.6" cy="1687.4" r="2.75"/>
<circle cx="1639.7" cy="1718.3" r="2.75"/>
<circle cx="1642.7" cy="1726.3" r="2.75"/>
<circle cx="1644.5" cy="1731.1" r="2.75"/>
<circle cx="1647.7" cy="1739.3" r="2.75"/>
<circle cx="1649.1" cy="1743.0" r="2.75"/>
<circle cx="1650.8" cy="1747.3" r="2.75"/>
<circle cx="1927.7" cy="1762.3" r="2.75"/>
<circle cx="1924.3" cy="1770.3" r="2.75"/>
<circle cx="1914.4" cy="1793.0" r="2.75"/>
</g>
<g stroke="#333" stroke-width="1.2" fill="none">
<path d="M1609.6 1593.1V1949.3H1974.9"/>
<path d="M1601.1999999999998 1949.3H1609.6"/>
<path d="M1601.1999999999998 1860.2H1609.6"/>
<path d="M1601.1999999999998 1771.1H1609.6"/>
<path d="M1601.1999999999998 1682.0H1609.6"/>
<path d="M1601.1999999999998 1592.9H1609.6"/>
<path d="M1656.9 1949.3V1957.8999999999999"/>
<path d="M1724.6 1949.3V1957.8999999999999"/>
<path d="M1792.3 1949.3V1957.8999999999999"/>
<path d="M1860.0 1949.3V1957.8999999999999"/>
<path d="M1927.7 1949.3V1957.8999999999999"/>
</g>
<line x1="1792.3" y1="1593.1" x2="1792.3" y2="1949.3" stroke="#000" stroke-width="1.6" stroke-dasharray="5.3 5.3"/>
<g font-size="18" fill="#000" text-anchor="middle">
<text x="1656.9" y="1978.1">−4</text>
<text x="1724.6" y="1978.1">−2</text>
<text x="1792.3" y="1978.1">0</text>
<text x="1860.0" y="1978.1">2</text>
<text x="1927.7" y="1978.1">4</text>
<text transform="translate(1592.6 1949.3) rotate(-90)">0</text>
<text transform="translate(1592.6 1860.2) rotate(-90)">2</text>
<text transform="translate(1592.6 1771.1) rotate(-90)">4</text>
<text transform="translate(1592.6 1682.0) rotate(-90)">6</text>
<text transform="translate(1592.6 1592.9) rotate(-90)">8</text>
<text x="1800.5" y="2012.3" font-size="18.8">z−score</text>
<text transform="translate(1558.3 1758.3) rotate(-90)" font-size="18.8">−log10(pvalue)</text>
</g>
<circle cx="1817.2" cy="1612.2" r="3.8" fill="#ff0000"/><circle cx="1817.2" cy="1634.4" r="3.8" fill="#7fcbea"/>
<g font-size="18.2" fill="#000">
<text x="1830.5" y="1617.8">Prognosis−related AS</text>
<text x="1830.5" y="1640.7">No significant</text>
</g>
</g>
<text x="45.6" y="90.2" font-size="50.5" font-weight="bold" fill="#000">a</text>
<text x="45.6" y="1200.7" font-size="50.5" font-weight="bold" fill="#000">b</text>
<text x="45.7" y="1626.8" font-size="51.6" font-weight="bold" fill="#000">c</text>
<text x="1503.6" y="1626.4" font-size="50.5" font-weight="bold" fill="#000">d</text>
</svg></body></html>
